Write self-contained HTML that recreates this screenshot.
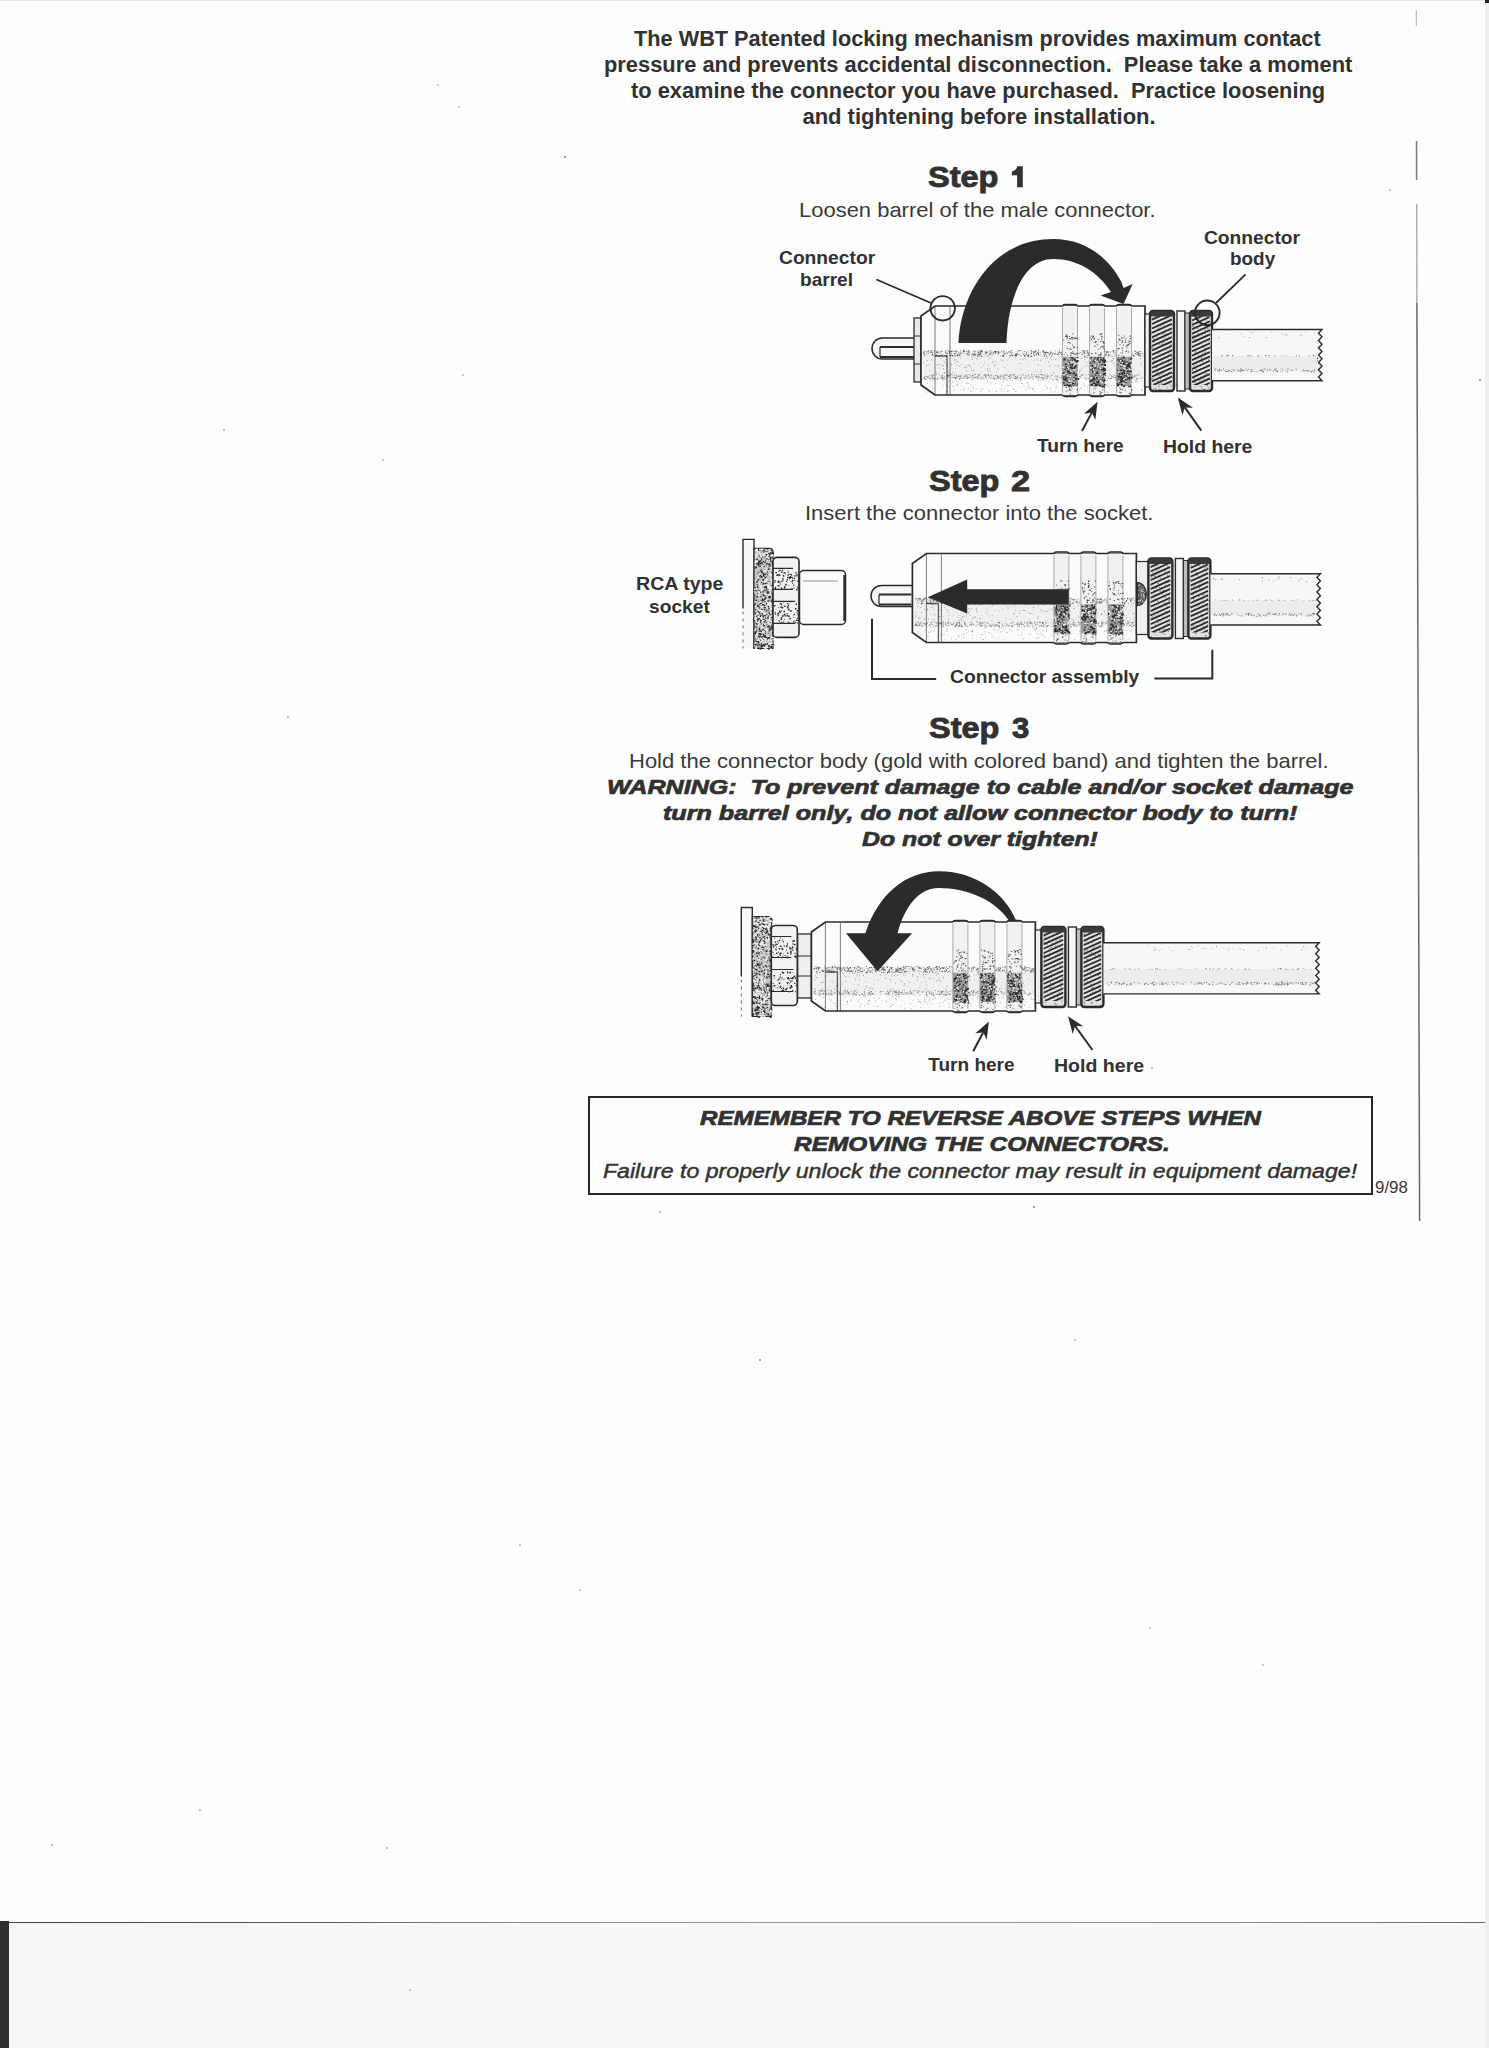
<!DOCTYPE html>
<html><head><meta charset="utf-8"><title>WBT locking mechanism</title>
<style>
html,body{margin:0;padding:0}
body{width:1489px;height:2048px;position:relative;overflow:hidden;background:#fdfdfd;font-family:"Liberation Sans",sans-serif;color:#2a2a2a}
.t{position:absolute;white-space:pre}
.ov{position:absolute;left:0;top:0}
.bot{position:absolute;left:0;top:1923px;width:1485px;height:125px;background:#f6f8f5}
.botl{position:absolute;left:0;top:1921.5px;width:1485px;height:1.8px;background:linear-gradient(90deg,#444 0%,#555 20%,#8a8a8a 35%,#999 60%,#888 85%,#666 100%)}
.blk{position:absolute;left:0;top:1921px;width:9px;height:127px;background:#2f302c}
.rstrip{position:absolute;left:1485px;top:0;width:4px;height:2048px;background:#edf0ee}
.vline{position:absolute;left:1417px;top:140px;width:1.6px;height:1081px;background:#5c5c5c;transform:rotate(-0.138deg);transform-origin:0 0}
.box{position:absolute;left:588px;top:1096px;width:781px;height:95.3px;border:2px solid #262626}
</style></head><body>
<div class="bot"></div><div class="botl"></div><div class="blk"></div><div class="rstrip"></div><div style="position:absolute;left:1485px;top:0;width:4px;height:3px;background:#222"></div><div style="position:absolute;left:0;top:0;width:1485px;height:1px;background:#e6e6e6"></div>
<div class="box"></div>
<svg class=ov width='1489' height='2048' viewBox='0 0 1489 2048'><path d='M915,338 H882.5 a10.5,10.5 0 0 0 0,21 H915' fill='#f6f6f6' stroke='#2b2b2b' stroke-width='1.5'/><path d='M880,347 H914 M880,357 H914' stroke='#2b2b2b' stroke-width='1.8'/><path d='M880,347 V357' stroke='#2b2b2b' stroke-width='1.2'/><rect x='914' y='318' width='7' height='64' fill='#e8e8e8' stroke='#2b2b2b' stroke-width='1.3'/><path d='M914,336h7M914,364h7' stroke='#2b2b2b' stroke-width='1.2'/><path d='M935,306 H1145 V395 H935 L921,385 V316 Z' fill='#fbfbfb'/><rect x='923' y='351' width='221' height='28' fill='#f0f0f0'/><path d='M994.2,350.9h1.0v1.0h-1.0zM938.9,353.2h0.8v0.8h-0.8zM935.8,353.0h0.5v0.5h-0.5zM1018.4,350.4h0.6v0.6h-0.6zM1016.4,355.0h0.6v0.6h-0.6zM972.1,353.8h1.2v1.2h-1.2zM1050.0,352.4h1.2v1.2h-1.2zM933.2,355.2h0.7v0.7h-0.7zM954.7,350.7h0.7v0.7h-0.7zM1102.5,351.1h0.9v0.9h-0.9zM1063.6,352.2h0.9v0.9h-0.9zM936.8,350.4h0.6v0.6h-0.6zM1072.7,352.6h0.7v0.7h-0.7zM1051.8,352.7h0.7v0.7h-0.7zM1097.8,354.2h0.7v0.7h-0.7zM1049.4,353.2h1.1v1.1h-1.1zM1083.5,351.7h1.2v1.2h-1.2zM949.0,352.5h1.0v1.0h-1.0zM956.4,352.9h0.5v0.5h-0.5zM1070.0,354.6h0.9v0.9h-0.9zM1115.6,351.9h1.0v1.0h-1.0zM1053.8,353.5h0.8v0.8h-0.8zM1107.8,355.7h0.8v0.8h-0.8zM1069.1,350.4h1.0v1.0h-1.0zM1065.4,356.0h1.1v1.1h-1.1zM985.6,352.3h1.0v1.0h-1.0zM928.0,352.8h0.6v0.6h-0.6zM948.8,350.4h1.0v1.0h-1.0zM951.5,351.5h0.8v0.8h-0.8zM1114.7,350.5h0.8v0.8h-0.8zM1043.9,355.3h1.1v1.1h-1.1zM1113.1,351.7h0.8v0.8h-0.8zM1001.9,355.3h1.2v1.2h-1.2zM956.2,351.1h0.7v0.7h-0.7zM974.3,352.9h0.9v0.9h-0.9zM980.8,350.0h0.8v0.8h-0.8zM1004.2,353.4h1.2v1.2h-1.2zM1074.9,353.1h0.9v0.9h-0.9zM1071.8,350.3h1.1v1.1h-1.1zM1094.6,355.2h1.1v1.1h-1.1zM1009.3,352.4h0.6v0.6h-0.6zM1062.5,350.4h0.5v0.5h-0.5zM968.9,351.0h0.7v0.7h-0.7zM934.6,350.0h0.6v0.6h-0.6zM945.3,352.2h0.5v0.5h-0.5zM1115.4,353.7h0.6v0.6h-0.6zM978.5,352.1h0.8v0.8h-0.8zM950.0,355.1h1.2v1.2h-1.2zM1025.5,352.9h0.6v0.6h-0.6zM945.5,352.1h0.7v0.7h-0.7zM1105.3,351.0h0.5v0.5h-0.5zM1132.2,353.2h0.6v0.6h-0.6zM1042.5,350.2h0.9v0.9h-0.9zM1138.3,355.2h1.0v1.0h-1.0zM980.4,352.2h0.6v0.6h-0.6zM1092.8,353.2h1.0v1.0h-1.0zM995.5,351.3h1.1v1.1h-1.1zM1139.7,355.1h1.1v1.1h-1.1zM1103.0,354.4h0.7v0.7h-0.7zM1036.9,352.1h0.5v0.5h-0.5zM929.1,351.7h0.7v0.7h-0.7zM1075.4,355.7h0.8v0.8h-0.8zM1129.1,355.9h1.2v1.2h-1.2zM1003.2,351.3h0.7v0.7h-0.7zM966.3,351.2h0.9v0.9h-0.9zM1121.1,355.0h0.8v0.8h-0.8zM1066.7,354.8h0.6v0.6h-0.6zM1068.3,355.5h1.0v1.0h-1.0zM1088.0,352.9h0.6v0.6h-0.6zM1096.6,352.0h1.1v1.1h-1.1zM1136.8,352.4h0.8v0.8h-0.8zM1131.3,354.3h0.6v0.6h-0.6zM950.9,350.9h1.1v1.1h-1.1zM1100.4,350.9h1.1v1.1h-1.1zM1138.7,353.9h0.7v0.7h-0.7zM1043.7,350.8h0.5v0.5h-0.5zM1136.6,353.9h0.9v0.9h-0.9zM1128.4,352.6h1.1v1.1h-1.1zM1104.8,351.3h0.7v0.7h-0.7zM987.5,351.4h0.9v0.9h-0.9zM980.1,352.5h0.6v0.6h-0.6zM1123.2,352.1h0.8v0.8h-0.8zM1051.3,355.4h0.8v0.8h-0.8zM1124.9,353.0h0.9v0.9h-0.9zM1038.2,350.1h0.8v0.8h-0.8zM963.3,350.0h1.1v1.1h-1.1zM960.9,352.8h1.0v1.0h-1.0zM1045.4,352.0h0.9v0.9h-0.9zM1045.2,354.7h0.6v0.6h-0.6zM1046.3,351.5h0.7v0.7h-0.7zM1092.9,353.0h0.9v0.9h-0.9zM1090.2,355.5h0.8v0.8h-0.8zM1057.8,353.0h0.9v0.9h-0.9zM1075.4,352.7h0.9v0.9h-0.9zM1028.2,355.6h1.0v1.0h-1.0zM1115.8,355.7h0.7v0.7h-0.7zM1046.1,355.7h1.1v1.1h-1.1zM953.2,350.7h0.8v0.8h-0.8zM939.0,351.4h0.6v0.6h-0.6zM1070.3,354.7h1.1v1.1h-1.1zM957.0,354.3h1.0v1.0h-1.0zM954.5,355.3h1.2v1.2h-1.2zM971.3,355.7h0.8v0.8h-0.8zM1030.2,355.9h1.1v1.1h-1.1zM958.5,352.6h0.9v0.9h-0.9zM997.6,351.2h0.7v0.7h-0.7zM1081.9,350.1h0.9v0.9h-0.9zM1019.9,350.1h0.7v0.7h-0.7zM1060.3,353.1h0.5v0.5h-0.5zM1139.7,354.7h1.2v1.2h-1.2zM946.1,351.6h0.5v0.5h-0.5zM1094.4,351.6h0.6v0.6h-0.6zM1015.9,355.5h1.1v1.1h-1.1zM979.9,350.9h1.1v1.1h-1.1zM1048.5,354.2h0.6v0.6h-0.6zM935.7,354.1h0.8v0.8h-0.8zM938.9,355.6h0.9v0.9h-0.9zM1099.4,350.5h1.1v1.1h-1.1zM937.7,355.2h0.8v0.8h-0.8zM997.6,353.3h1.1v1.1h-1.1zM981.9,350.8h0.9v0.9h-0.9zM975.5,350.7h0.6v0.6h-0.6zM934.1,351.2h0.7v0.7h-0.7zM990.1,354.6h0.7v0.7h-0.7zM1033.0,351.1h0.7v0.7h-0.7zM927.0,351.5h0.5v0.5h-0.5zM1084.3,353.3h0.6v0.6h-0.6zM1027.4,355.6h0.6v0.6h-0.6zM1103.2,352.6h0.8v0.8h-0.8zM1106.6,352.4h0.9v0.9h-0.9zM1074.3,355.9h0.7v0.7h-0.7zM1106.1,354.2h0.9v0.9h-0.9zM1012.0,352.1h0.5v0.5h-0.5zM951.6,350.4h1.0v1.0h-1.0zM979.2,351.0h0.6v0.6h-0.6zM1108.1,355.2h1.0v1.0h-1.0zM985.0,351.5h0.7v0.7h-0.7zM1024.1,350.9h0.8v0.8h-0.8zM980.9,355.8h1.2v1.2h-1.2zM1043.4,351.5h1.2v1.2h-1.2zM991.1,352.1h0.5v0.5h-0.5zM1007.0,352.8h0.9v0.9h-0.9zM967.2,353.0h0.5v0.5h-0.5zM981.1,350.5h0.8v0.8h-0.8zM932.2,350.1h0.7v0.7h-0.7zM974.2,353.5h0.9v0.9h-0.9zM1088.1,353.9h1.0v1.0h-1.0zM1116.4,352.3h0.7v0.7h-0.7zM1139.6,350.9h1.0v1.0h-1.0zM1064.5,350.3h1.1v1.1h-1.1zM1119.2,353.8h1.0v1.0h-1.0zM1101.7,350.8h0.9v0.9h-0.9zM1034.0,355.0h1.1v1.1h-1.1zM1104.8,353.5h1.1v1.1h-1.1zM1073.2,354.2h0.7v0.7h-0.7zM929.9,350.8h0.8v0.8h-0.8zM946.1,355.0h0.9v0.9h-0.9zM1061.1,353.8h1.0v1.0h-1.0zM1030.6,350.0h1.1v1.1h-1.1zM1087.6,353.0h0.9v0.9h-0.9zM1068.0,350.4h1.0v1.0h-1.0zM978.5,350.4h0.7v0.7h-0.7zM1083.5,351.2h1.0v1.0h-1.0zM1137.7,353.0h0.8v0.8h-0.8zM1028.4,354.1h1.0v1.0h-1.0zM1058.7,353.9h0.6v0.6h-0.6zM955.4,351.5h1.0v1.0h-1.0zM990.0,353.4h0.5v0.5h-0.5zM936.3,351.6h1.0v1.0h-1.0zM1075.3,354.1h0.7v0.7h-0.7zM1036.6,352.8h0.8v0.8h-0.8zM949.1,355.4h0.6v0.6h-0.6zM1138.2,355.6h0.5v0.5h-0.5zM1024.0,354.9h1.2v1.2h-1.2zM1021.9,351.6h0.6v0.6h-0.6zM1131.0,351.3h0.9v0.9h-0.9zM954.2,353.1h1.2v1.2h-1.2zM952.2,354.9h0.9v0.9h-0.9zM1118.1,354.2h0.7v0.7h-0.7zM1120.5,352.9h0.5v0.5h-0.5zM923.8,353.0h0.8v0.8h-0.8zM989.4,350.8h0.7v0.7h-0.7zM992.5,355.0h0.5v0.5h-0.5zM1088.2,355.0h0.6v0.6h-0.6zM1126.8,354.3h1.1v1.1h-1.1zM986.8,352.2h0.8v0.8h-0.8zM1142.7,353.5h0.8v0.8h-0.8zM1017.2,351.7h0.5v0.5h-0.5zM945.4,355.0h0.7v0.7h-0.7zM1128.8,351.5h0.7v0.7h-0.7zM1035.4,351.1h0.8v0.8h-0.8zM1133.4,355.3h1.1v1.1h-1.1zM1061.8,355.5h1.2v1.2h-1.2zM1043.8,354.3h0.5v0.5h-0.5zM1084.1,352.7h1.0v1.0h-1.0zM1064.8,351.7h0.5v0.5h-0.5zM1126.9,350.8h0.8v0.8h-0.8zM998.6,351.8h1.0v1.0h-1.0zM1137.8,351.6h1.0v1.0h-1.0zM989.2,353.3h0.8v0.8h-0.8zM959.8,351.0h0.6v0.6h-0.6zM1122.3,353.0h0.7v0.7h-0.7zM1122.4,356.0h0.8v0.8h-0.8zM953.7,351.2h0.6v0.6h-0.6zM998.2,350.5h0.7v0.7h-0.7zM979.8,353.4h1.1v1.1h-1.1zM1087.9,352.5h0.8v0.8h-0.8zM1038.3,352.3h0.7v0.7h-0.7zM936.7,351.7h1.2v1.2h-1.2zM950.7,353.0h0.9v0.9h-0.9zM1112.8,351.3h0.7v0.7h-0.7zM977.7,352.4h0.8v0.8h-0.8zM1132.9,355.1h1.1v1.1h-1.1zM927.8,350.2h1.0v1.0h-1.0zM1120.1,352.8h0.9v0.9h-0.9zM923.0,352.3h1.1v1.1h-1.1zM1104.6,355.1h1.2v1.2h-1.2zM977.7,350.7h0.6v0.6h-0.6zM1037.9,354.1h1.2v1.2h-1.2zM1081.8,353.9h1.0v1.0h-1.0zM1023.6,353.3h0.5v0.5h-0.5zM1095.1,351.4h1.1v1.1h-1.1zM1065.0,351.8h0.6v0.6h-0.6zM978.4,353.8h1.0v1.0h-1.0zM947.7,350.4h0.9v0.9h-0.9zM1051.2,352.3h0.7v0.7h-0.7zM1055.2,350.1h0.7v0.7h-0.7zM1024.4,355.8h1.0v1.0h-1.0zM1117.4,352.9h0.7v0.7h-0.7zM977.4,355.8h1.0v1.0h-1.0zM990.6,350.1h0.8v0.8h-0.8zM1071.4,352.5h0.7v0.7h-0.7zM1069.8,355.6h0.7v0.7h-0.7zM930.5,352.0h0.8v0.8h-0.8zM1073.2,351.2h1.1v1.1h-1.1zM1085.6,353.0h0.6v0.6h-0.6zM1136.4,351.9h1.1v1.1h-1.1zM973.8,351.3h1.0v1.0h-1.0zM987.9,355.7h0.8v0.8h-0.8zM964.2,351.3h0.8v0.8h-0.8zM1069.4,355.7h0.6v0.6h-0.6zM1009.6,351.3h1.2v1.2h-1.2zM954.2,350.3h0.5v0.5h-0.5zM1009.5,355.4h1.1v1.1h-1.1zM1084.2,356.0h1.2v1.2h-1.2zM995.4,351.1h1.2v1.2h-1.2zM1087.2,350.2h1.0v1.0h-1.0zM1006.3,352.2h0.7v0.7h-0.7zM960.2,350.0h0.7v0.7h-0.7zM1000.3,355.7h0.6v0.6h-0.6zM1135.1,351.2h0.7v0.7h-0.7zM1103.7,354.9h0.8v0.8h-0.8zM933.8,352.8h0.8v0.8h-0.8zM1125.3,351.2h0.8v0.8h-0.8zM1120.3,350.2h0.8v0.8h-0.8zM1101.6,354.6h0.5v0.5h-0.5zM930.7,350.4h1.1v1.1h-1.1zM979.5,354.5h1.1v1.1h-1.1zM997.6,351.6h1.2v1.2h-1.2zM1058.7,351.6h1.0v1.0h-1.0zM992.6,351.7h0.5v0.5h-0.5zM1089.2,355.5h0.9v0.9h-0.9zM1130.5,350.1h0.7v0.7h-0.7zM1027.5,355.7h1.2v1.2h-1.2zM1008.0,351.5h0.8v0.8h-0.8zM1031.6,355.6h0.6v0.6h-0.6zM1099.6,354.4h1.1v1.1h-1.1zM1093.0,353.6h0.7v0.7h-0.7zM993.3,352.2h1.0v1.0h-1.0zM940.4,351.2h1.0v1.0h-1.0zM977.4,350.4h0.5v0.5h-0.5zM1044.6,352.0h1.2v1.2h-1.2zM1117.4,355.9h0.7v0.7h-0.7zM941.5,350.6h0.8v0.8h-0.8zM1079.1,352.7h0.7v0.7h-0.7zM1014.7,353.7h1.0v1.0h-1.0zM1087.6,355.1h1.0v1.0h-1.0zM949.7,355.0h0.7v0.7h-0.7zM1047.7,352.2h1.0v1.0h-1.0zM966.8,351.5h0.7v0.7h-0.7zM956.7,355.3h0.9v0.9h-0.9zM994.8,352.4h1.2v1.2h-1.2zM1034.6,351.4h1.1v1.1h-1.1zM1066.7,355.9h0.6v0.6h-0.6zM1027.4,354.9h1.1v1.1h-1.1zM1124.2,350.2h0.7v0.7h-0.7zM949.2,351.1h1.2v1.2h-1.2zM1051.3,355.6h0.8v0.8h-0.8zM1113.5,352.7h0.7v0.7h-0.7zM1094.1,355.7h0.6v0.6h-0.6zM1054.2,353.7h0.7v0.7h-0.7zM1004.1,350.8h0.6v0.6h-0.6zM979.1,353.6h1.0v1.0h-1.0zM967.8,350.1h0.7v0.7h-0.7zM1072.2,351.1h0.7v0.7h-0.7zM967.7,354.8h0.9v0.9h-0.9zM936.9,350.6h0.8v0.8h-0.8zM1044.0,353.8h0.6v0.6h-0.6zM959.0,354.2h0.8v0.8h-0.8zM985.3,351.8h1.2v1.2h-1.2zM991.7,353.4h0.8v0.8h-0.8zM1014.6,355.2h1.2v1.2h-1.2zM1003.0,351.2h1.0v1.0h-1.0zM967.8,350.0h1.1v1.1h-1.1zM1016.2,354.9h0.8v0.8h-0.8zM1117.2,352.8h0.6v0.6h-0.6zM926.3,353.3h0.9v0.9h-0.9zM1123.2,350.5h0.9v0.9h-0.9zM1004.6,353.0h0.6v0.6h-0.6zM985.3,353.1h1.1v1.1h-1.1zM946.9,352.9h1.1v1.1h-1.1zM1135.7,351.2h0.6v0.6h-0.6zM1130.5,355.9h0.8v0.8h-0.8zM934.7,355.6h0.8v0.8h-0.8zM1121.9,353.7h1.1v1.1h-1.1zM958.3,354.7h0.7v0.7h-0.7zM1012.0,355.1h1.1v1.1h-1.1zM963.3,351.3h0.8v0.8h-0.8zM1036.9,352.3h0.6v0.6h-0.6zM977.4,354.3h1.1v1.1h-1.1zM932.0,353.4h1.0v1.0h-1.0zM931.4,355.0h0.6v0.6h-0.6zM1054.9,353.3h0.9v0.9h-0.9zM990.4,352.5h0.9v0.9h-0.9zM1016.7,354.0h0.8v0.8h-0.8zM1019.4,350.1h0.9v0.9h-0.9zM1030.7,351.4h1.0v1.0h-1.0zM1094.6,352.7h0.6v0.6h-0.6zM1027.1,350.6h0.6v0.6h-0.6zM1017.7,350.6h0.8v0.8h-0.8zM1035.2,350.2h0.9v0.9h-0.9zM941.1,354.4h1.0v1.0h-1.0zM1035.5,350.3h0.9v0.9h-0.9zM1006.1,355.7h0.6v0.6h-0.6zM1111.6,356.0h1.0v1.0h-1.0zM1102.3,351.2h1.2v1.2h-1.2zM1031.2,355.7h1.1v1.1h-1.1zM959.3,354.7h1.2v1.2h-1.2zM937.4,352.1h1.0v1.0h-1.0zM957.9,355.4h0.7v0.7h-0.7zM1102.4,350.9h0.9v0.9h-0.9zM1125.4,351.2h0.7v0.7h-0.7zM1034.3,351.9h0.5v0.5h-0.5zM963.1,351.0h1.2v1.2h-1.2zM1072.5,355.4h0.6v0.6h-0.6zM1095.7,350.7h0.9v0.9h-0.9zM1063.0,352.2h1.1v1.1h-1.1zM1045.1,353.5h1.1v1.1h-1.1zM946.0,356.0h0.9v0.9h-0.9zM1009.7,354.8h0.7v0.7h-0.7zM1140.9,353.5h0.8v0.8h-0.8zM1091.2,352.7h0.6v0.6h-0.6zM1086.6,350.3h1.1v1.1h-1.1zM978.8,353.8h1.2v1.2h-1.2zM1051.9,354.0h0.7v0.7h-0.7zM923.4,350.2h0.6v0.6h-0.6zM1058.5,352.6h0.9v0.9h-0.9zM1120.0,350.8h0.7v0.7h-0.7zM1066.7,350.1h0.5v0.5h-0.5zM1001.1,350.6h0.8v0.8h-0.8zM972.3,353.5h0.9v0.9h-0.9zM967.9,353.7h0.8v0.8h-0.8zM952.6,355.6h0.7v0.7h-0.7zM955.8,350.6h0.9v0.9h-0.9zM1114.7,354.7h0.8v0.8h-0.8zM981.1,350.1h1.0v1.0h-1.0zM1046.7,352.1h1.0v1.0h-1.0zM1020.6,355.6h1.0v1.0h-1.0zM977.7,355.4h0.5v0.5h-0.5zM1039.9,352.4h0.7v0.7h-0.7zM935.8,354.7h0.5v0.5h-0.5zM1044.2,355.6h0.6v0.6h-0.6zM966.9,353.6h0.9v0.9h-0.9zM1064.1,354.9h0.6v0.6h-0.6zM991.1,351.8h0.5v0.5h-0.5zM1118.7,354.7h1.0v1.0h-1.0zM924.4,355.1h1.0v1.0h-1.0zM1025.4,354.5h0.8v0.8h-0.8zM972.7,350.6h0.7v0.7h-0.7zM931.5,352.0h1.0v1.0h-1.0zM1075.9,355.1h1.0v1.0h-1.0zM981.5,353.3h0.8v0.8h-0.8zM1096.5,353.1h0.7v0.7h-0.7zM1064.2,355.8h0.7v0.7h-0.7zM1116.6,350.1h0.7v0.7h-0.7zM974.9,354.5h1.2v1.2h-1.2zM1087.2,352.0h1.1v1.1h-1.1zM995.3,351.4h1.1v1.1h-1.1zM1061.8,354.2h1.0v1.0h-1.0zM1138.4,352.8h1.1v1.1h-1.1zM1076.5,355.1h0.8v0.8h-0.8zM1082.4,353.4h0.7v0.7h-0.7zM969.6,353.7h0.6v0.6h-0.6zM1123.4,350.9h0.5v0.5h-0.5zM946.5,355.6h0.7v0.7h-0.7zM954.2,350.2h0.5v0.5h-0.5zM1075.4,353.8h1.0v1.0h-1.0zM1085.1,350.4h0.9v0.9h-0.9zM1002.9,354.9h1.1v1.1h-1.1zM1119.1,350.4h1.1v1.1h-1.1zM1124.2,355.7h0.6v0.6h-0.6zM968.3,350.7h0.5v0.5h-0.5zM1109.5,354.9h0.9v0.9h-0.9zM1104.5,353.8h0.7v0.7h-0.7zM945.0,350.6h1.0v1.0h-1.0zM968.1,351.9h0.8v0.8h-0.8zM927.6,351.5h0.7v0.7h-0.7zM1080.5,352.2h0.7v0.7h-0.7zM1135.1,353.0h1.1v1.1h-1.1zM1059.0,350.2h0.8v0.8h-0.8zM1019.0,354.6h0.7v0.7h-0.7zM1078.0,353.2h0.7v0.7h-0.7zM1112.7,350.5h1.1v1.1h-1.1zM960.5,350.0h0.6v0.6h-0.6zM1090.7,355.9h0.5v0.5h-0.5zM1031.0,352.9h1.1v1.1h-1.1zM963.6,353.0h0.7v0.7h-0.7zM1106.0,351.6h1.2v1.2h-1.2zM985.4,351.3h1.0v1.0h-1.0zM1032.6,350.7h0.9v0.9h-0.9zM940.8,354.7h1.0v1.0h-1.0zM1096.1,353.8h0.7v0.7h-0.7zM1011.3,352.4h1.1v1.1h-1.1zM942.0,355.3h0.5v0.5h-0.5zM968.3,351.6h1.1v1.1h-1.1zM1033.3,352.3h1.1v1.1h-1.1zM974.4,352.8h0.9v0.9h-0.9zM1089.0,354.5h1.0v1.0h-1.0zM999.7,352.0h0.6v0.6h-0.6zM1108.5,354.0h1.0v1.0h-1.0zM960.3,352.6h1.0v1.0h-1.0zM1050.4,350.8h0.8v0.8h-0.8zM1117.7,351.4h0.6v0.6h-0.6zM989.3,354.2h1.1v1.1h-1.1zM957.0,350.9h0.7v0.7h-0.7zM994.8,353.1h0.6v0.6h-0.6zM995.2,351.1h1.2v1.2h-1.2zM1083.3,350.6h1.2v1.2h-1.2zM945.4,352.3h1.2v1.2h-1.2zM1097.9,354.4h0.8v0.8h-0.8zM966.2,353.8h0.6v0.6h-0.6zM968.4,352.3h0.5v0.5h-0.5zM1010.8,354.7h1.0v1.0h-1.0zM1033.1,353.8h0.8v0.8h-0.8zM954.2,353.6h0.8v0.8h-0.8zM1086.0,355.4h0.8v0.8h-0.8zM1049.3,354.5h0.8v0.8h-0.8zM973.3,354.3h1.1v1.1h-1.1zM1093.3,354.2h1.1v1.1h-1.1zM1072.5,353.8h0.8v0.8h-0.8zM991.9,353.8h0.6v0.6h-0.6zM1015.3,354.7h1.0v1.0h-1.0zM1061.5,351.5h0.8v0.8h-0.8zM1023.1,353.7h0.8v0.8h-0.8zM1071.6,355.6h0.6v0.6h-0.6zM1067.0,354.7h0.8v0.8h-0.8zM1030.8,355.8h0.5v0.5h-0.5zM1042.5,351.0h1.0v1.0h-1.0zM1129.9,353.1h0.6v0.6h-0.6zM1049.4,353.2h1.0v1.0h-1.0zM1035.7,353.8h1.1v1.1h-1.1zM1037.8,352.5h1.2v1.2h-1.2zM969.2,354.1h0.8v0.8h-0.8zM1090.8,350.7h1.2v1.2h-1.2zM1001.2,350.3h0.7v0.7h-0.7zM1010.9,350.1h0.8v0.8h-0.8zM1015.5,354.2h0.7v0.7h-0.7zM981.3,351.3h1.0v1.0h-1.0zM1129.8,353.2h0.7v0.7h-0.7zM1099.3,352.4h0.6v0.6h-0.6zM951.4,354.7h1.1v1.1h-1.1zM1062.5,352.8h0.9v0.9h-0.9zM972.7,355.8h0.7v0.7h-0.7zM1063.5,354.9h1.1v1.1h-1.1zM1026.0,351.8h0.9v0.9h-0.9zM950.5,355.0h0.7v0.7h-0.7zM1110.1,351.6h0.8v0.8h-0.8zM978.8,352.6h0.6v0.6h-0.6zM923.6,354.3h0.7v0.7h-0.7zM976.9,351.8h0.8v0.8h-0.8zM1017.3,353.8h1.0v1.0h-1.0zM1002.7,355.6h1.1v1.1h-1.1zM935.6,355.0h1.1v1.1h-1.1zM1095.5,350.8h1.1v1.1h-1.1zM1062.3,350.1h0.5v0.5h-0.5zM1132.4,353.9h0.7v0.7h-0.7zM945.3,350.9h0.7v0.7h-0.7zM1093.8,352.1h0.6v0.6h-0.6zM1121.9,354.8h0.6v0.6h-0.6zM1119.0,353.7h1.0v1.0h-1.0zM1070.1,355.4h1.1v1.1h-1.1zM1107.5,351.2h1.0v1.0h-1.0zM1039.8,354.5h0.8v0.8h-0.8zM1117.2,353.3h0.7v0.7h-0.7zM974.5,350.8h0.8v0.8h-0.8zM935.9,352.8h0.6v0.6h-0.6zM1031.1,353.0h0.9v0.9h-0.9zM1112.8,350.0h1.1v1.1h-1.1zM1026.0,353.4h1.0v1.0h-1.0zM1107.9,352.2h0.8v0.8h-0.8zM1134.3,350.5h0.9v0.9h-0.9zM1062.9,350.2h0.9v0.9h-0.9zM1073.2,355.6h0.7v0.7h-0.7zM1139.0,353.1h0.8v0.8h-0.8zM1120.5,350.2h1.0v1.0h-1.0zM1060.6,352.0h1.1v1.1h-1.1zM1003.6,352.8h0.9v0.9h-0.9zM1092.5,351.3h0.8v0.8h-0.8zM1015.9,353.3h1.1v1.1h-1.1zM987.4,355.0h0.8v0.8h-0.8zM1033.8,351.6h0.9v0.9h-0.9zM1137.5,353.9h1.1v1.1h-1.1zM995.8,351.9h0.7v0.7h-0.7zM1052.0,353.8h1.0v1.0h-1.0zM931.8,354.3h1.1v1.1h-1.1zM1043.0,350.3h0.7v0.7h-0.7zM924.4,351.1h1.1v1.1h-1.1zM1056.9,353.9h1.1v1.1h-1.1zM1123.2,353.7h0.9v0.9h-0.9zM1060.9,354.2h0.9v0.9h-0.9zM1072.8,351.3h1.0v1.0h-1.0zM1023.7,354.6h0.6v0.6h-0.6zM962.9,350.2h1.0v1.0h-1.0zM1124.1,353.9h0.8v0.8h-0.8zM1104.0,354.7h0.9v0.9h-0.9zM979.8,351.8h0.8v0.8h-0.8zM993.1,352.6h0.9v0.9h-0.9zM1128.4,350.3h0.9v0.9h-0.9z' fill='#2b2b2b' opacity='0.75'/><path d='M931.7,374.6h1.0v1.0h-1.0zM1049.6,378.6h0.8v0.8h-0.8zM926.1,375.9h0.9v0.9h-0.9zM1129.3,378.9h0.8v0.8h-0.8zM1013.7,374.5h0.9v0.9h-0.9zM969.7,374.8h0.5v0.5h-0.5zM924.1,377.4h0.6v0.6h-0.6zM1135.6,374.4h1.0v1.0h-1.0zM951.4,374.1h0.9v0.9h-0.9zM976.3,377.7h0.6v0.6h-0.6zM934.0,377.9h0.9v0.9h-0.9zM1111.2,377.6h0.6v0.6h-0.6zM1061.3,377.5h0.8v0.8h-0.8zM1128.1,375.3h1.1v1.1h-1.1zM1080.8,374.1h0.5v0.5h-0.5zM1066.2,378.1h0.5v0.5h-0.5zM991.4,377.6h0.6v0.6h-0.6zM1112.4,376.4h0.5v0.5h-0.5zM1003.9,376.9h0.8v0.8h-0.8zM1071.9,374.7h1.0v1.0h-1.0zM1002.9,377.2h0.9v0.9h-0.9zM1015.0,375.9h1.0v1.0h-1.0zM1130.9,377.9h0.8v0.8h-0.8zM987.3,374.3h1.1v1.1h-1.1zM1077.7,378.1h0.7v0.7h-0.7zM1056.3,378.9h1.0v1.0h-1.0zM1055.3,375.5h0.8v0.8h-0.8zM1118.4,375.9h0.9v0.9h-0.9zM1055.4,378.5h1.0v1.0h-1.0zM985.3,374.0h0.7v0.7h-0.7zM1016.0,376.9h1.0v1.0h-1.0zM1118.2,374.2h1.0v1.0h-1.0zM1101.6,378.3h0.8v0.8h-0.8zM983.2,378.3h1.0v1.0h-1.0zM1073.6,378.6h0.7v0.7h-0.7zM941.7,376.8h1.0v1.0h-1.0zM967.1,377.8h1.1v1.1h-1.1zM974.5,377.0h0.9v0.9h-0.9zM1025.4,375.0h0.7v0.7h-0.7zM1088.2,378.0h0.8v0.8h-0.8zM942.3,378.0h1.0v1.0h-1.0zM974.2,376.9h1.0v1.0h-1.0zM1117.7,376.6h0.8v0.8h-0.8zM1052.7,374.9h0.6v0.6h-0.6zM962.8,377.5h0.7v0.7h-0.7zM1047.2,376.0h0.8v0.8h-0.8zM955.8,374.2h1.1v1.1h-1.1zM1005.3,374.5h0.9v0.9h-0.9zM1096.2,374.8h0.9v0.9h-0.9zM998.9,376.6h0.5v0.5h-0.5zM930.4,379.0h1.0v1.0h-1.0zM1030.0,376.8h0.7v0.7h-0.7zM1094.4,376.1h1.1v1.1h-1.1zM1091.8,378.1h1.1v1.1h-1.1zM978.9,374.2h0.6v0.6h-0.6zM962.8,374.4h0.5v0.5h-0.5zM1045.6,378.4h0.8v0.8h-0.8zM1131.4,378.5h0.5v0.5h-0.5zM1054.6,376.0h0.6v0.6h-0.6zM1134.0,375.3h0.8v0.8h-0.8zM1063.9,378.8h0.9v0.9h-0.9zM1009.5,376.2h0.6v0.6h-0.6zM1135.5,379.0h0.6v0.6h-0.6zM931.5,375.3h0.7v0.7h-0.7zM1121.6,378.5h1.0v1.0h-1.0zM933.3,377.9h0.9v0.9h-0.9zM1065.3,378.9h0.5v0.5h-0.5zM954.9,377.8h1.1v1.1h-1.1zM1071.9,375.5h0.9v0.9h-0.9zM1089.7,374.5h0.7v0.7h-0.7zM979.5,374.6h0.8v0.8h-0.8zM960.1,375.2h0.6v0.6h-0.6zM1072.1,374.1h0.9v0.9h-0.9zM965.9,374.2h1.1v1.1h-1.1zM971.5,378.7h1.0v1.0h-1.0zM1118.5,374.7h0.8v0.8h-0.8zM944.3,378.6h1.0v1.0h-1.0zM1061.2,376.3h0.7v0.7h-0.7zM1104.1,376.4h0.9v0.9h-0.9zM954.4,375.1h0.5v0.5h-0.5zM1080.0,376.8h0.6v0.6h-0.6zM1114.6,375.3h0.7v0.7h-0.7zM957.3,375.4h1.0v1.0h-1.0zM996.6,374.8h0.8v0.8h-0.8zM993.0,378.5h0.6v0.6h-0.6zM1138.3,374.3h1.0v1.0h-1.0zM1070.0,375.1h0.8v0.8h-0.8zM986.0,375.3h0.6v0.6h-0.6zM1003.1,379.0h1.1v1.1h-1.1zM1126.5,374.5h0.7v0.7h-0.7zM1120.2,374.3h0.9v0.9h-0.9zM987.6,378.9h0.5v0.5h-0.5zM1100.5,375.7h0.6v0.6h-0.6zM923.4,378.2h0.8v0.8h-0.8zM963.9,376.2h1.0v1.0h-1.0zM971.0,376.9h0.6v0.6h-0.6zM962.6,377.9h0.9v0.9h-0.9zM966.3,374.4h0.6v0.6h-0.6zM1056.9,376.5h0.7v0.7h-0.7zM968.3,377.1h0.9v0.9h-0.9zM1101.5,376.9h0.6v0.6h-0.6zM937.5,377.7h0.7v0.7h-0.7zM1081.8,374.3h1.0v1.0h-1.0zM996.7,378.2h1.0v1.0h-1.0zM1031.5,374.1h1.0v1.0h-1.0zM1027.9,378.4h0.7v0.7h-0.7zM963.9,378.2h0.7v0.7h-0.7zM959.0,375.9h0.9v0.9h-0.9zM924.0,376.6h0.8v0.8h-0.8zM1036.4,374.6h0.9v0.9h-0.9zM1102.6,378.3h0.7v0.7h-0.7zM1079.5,375.9h1.0v1.0h-1.0zM936.5,378.4h1.1v1.1h-1.1zM1031.9,376.6h0.8v0.8h-0.8zM1041.2,374.1h1.1v1.1h-1.1zM972.2,374.9h0.6v0.6h-0.6zM978.1,378.1h0.5v0.5h-0.5zM944.2,377.5h0.6v0.6h-0.6zM926.9,377.0h0.8v0.8h-0.8zM1038.0,377.5h0.6v0.6h-0.6zM1114.3,377.6h0.5v0.5h-0.5zM950.1,376.5h0.8v0.8h-0.8zM984.5,374.6h0.7v0.7h-0.7zM953.1,377.0h1.0v1.0h-1.0zM955.4,376.9h0.9v0.9h-0.9zM959.2,378.1h1.1v1.1h-1.1zM1008.5,376.1h1.0v1.0h-1.0zM1038.6,376.0h1.1v1.1h-1.1zM1093.9,375.7h0.6v0.6h-0.6zM996.7,376.2h1.1v1.1h-1.1zM1100.0,378.6h1.0v1.0h-1.0zM1109.5,374.3h0.8v0.8h-0.8zM1133.7,378.7h0.6v0.6h-0.6zM1015.9,377.2h0.7v0.7h-0.7zM1039.8,374.3h0.8v0.8h-0.8zM1034.1,374.1h0.6v0.6h-0.6zM1136.3,377.9h1.1v1.1h-1.1zM1062.3,378.0h1.0v1.0h-1.0zM1117.6,374.2h0.9v0.9h-0.9zM981.5,377.4h0.7v0.7h-0.7zM1042.3,378.6h0.9v0.9h-0.9zM978.1,376.6h0.8v0.8h-0.8zM1132.2,375.4h0.7v0.7h-0.7zM1065.5,374.6h0.9v0.9h-0.9zM1133.3,376.6h0.7v0.7h-0.7zM1025.6,376.7h0.6v0.6h-0.6zM950.3,374.7h0.7v0.7h-0.7zM1012.4,375.4h0.6v0.6h-0.6zM942.3,376.7h1.0v1.0h-1.0zM1057.2,376.9h0.9v0.9h-0.9zM967.3,377.6h0.8v0.8h-0.8zM1043.6,377.1h0.8v0.8h-0.8zM991.3,375.2h0.6v0.6h-0.6zM1035.7,375.9h0.9v0.9h-0.9zM925.6,375.8h1.0v1.0h-1.0zM975.5,376.8h0.8v0.8h-0.8zM985.7,378.9h0.7v0.7h-0.7zM1092.9,374.8h0.5v0.5h-0.5zM1114.7,376.2h0.5v0.5h-0.5zM1008.3,376.2h0.9v0.9h-0.9zM947.0,375.1h1.1v1.1h-1.1zM1085.5,374.8h0.7v0.7h-0.7zM1000.5,377.4h0.9v0.9h-0.9zM1110.0,378.1h0.8v0.8h-0.8zM1085.5,377.7h1.0v1.0h-1.0zM1027.6,377.9h0.9v0.9h-0.9zM1124.2,374.6h1.0v1.0h-1.0zM924.0,377.8h0.9v0.9h-0.9zM1032.5,378.8h0.8v0.8h-0.8zM1014.9,377.9h1.0v1.0h-1.0zM1056.6,375.9h0.8v0.8h-0.8zM1023.7,377.6h0.7v0.7h-0.7zM1009.0,376.8h0.7v0.7h-0.7zM993.8,377.9h1.0v1.0h-1.0zM1032.9,376.2h0.6v0.6h-0.6zM989.9,374.7h0.8v0.8h-0.8zM1050.9,374.4h1.1v1.1h-1.1zM994.3,378.2h1.0v1.0h-1.0zM1133.9,375.0h0.8v0.8h-0.8zM1123.3,374.1h0.5v0.5h-0.5zM1047.3,376.5h1.1v1.1h-1.1zM1093.2,376.7h1.1v1.1h-1.1zM1036.8,376.6h0.9v0.9h-0.9zM1008.7,375.8h0.9v0.9h-0.9zM1000.2,378.7h0.9v0.9h-0.9zM1038.6,374.5h0.7v0.7h-0.7zM1011.2,376.8h0.8v0.8h-0.8zM1116.6,378.8h0.8v0.8h-0.8zM1019.8,377.1h1.1v1.1h-1.1zM998.5,376.7h1.0v1.0h-1.0zM960.6,375.6h1.1v1.1h-1.1zM1104.7,376.6h0.6v0.6h-0.6zM1119.8,377.4h1.0v1.0h-1.0zM1140.9,378.4h0.8v0.8h-0.8zM957.4,375.4h0.8v0.8h-0.8zM1034.1,374.9h0.6v0.6h-0.6zM1061.6,377.0h0.7v0.7h-0.7zM1141.6,377.2h0.5v0.5h-0.5zM1013.5,377.9h0.7v0.7h-0.7zM1075.0,374.0h0.7v0.7h-0.7zM1108.3,376.9h0.9v0.9h-0.9zM966.3,376.5h0.8v0.8h-0.8zM981.5,377.2h0.8v0.8h-0.8zM1142.4,376.9h0.7v0.7h-0.7zM949.7,374.8h1.0v1.0h-1.0zM946.5,374.5h0.6v0.6h-0.6zM1037.9,378.1h0.9v0.9h-0.9zM1100.5,374.3h0.5v0.5h-0.5zM1092.5,375.6h0.9v0.9h-0.9zM1000.8,374.8h0.7v0.7h-0.7zM944.9,378.5h0.8v0.8h-0.8zM999.8,376.2h0.7v0.7h-0.7zM935.0,378.5h0.8v0.8h-0.8zM1134.1,376.2h0.9v0.9h-0.9zM977.9,374.2h1.1v1.1h-1.1zM1111.0,375.6h1.0v1.0h-1.0zM1102.5,375.5h0.9v0.9h-0.9zM1134.2,376.5h1.1v1.1h-1.1zM976.4,375.9h0.9v0.9h-0.9zM971.7,375.5h1.0v1.0h-1.0zM1029.6,378.0h0.6v0.6h-0.6zM961.2,375.8h0.6v0.6h-0.6zM1136.7,375.5h0.8v0.8h-0.8zM948.3,376.7h0.7v0.7h-0.7zM1011.7,374.3h0.6v0.6h-0.6zM1104.7,375.8h0.6v0.6h-0.6zM965.1,375.4h0.6v0.6h-0.6zM930.7,377.3h0.7v0.7h-0.7zM957.3,377.5h0.6v0.6h-0.6zM982.3,378.2h0.6v0.6h-0.6zM1020.5,378.2h1.0v1.0h-1.0zM958.0,375.8h0.9v0.9h-0.9zM1005.9,378.8h0.6v0.6h-0.6zM1132.2,376.5h0.6v0.6h-0.6zM1022.6,374.7h0.9v0.9h-0.9zM980.4,378.5h0.9v0.9h-0.9zM1004.0,375.2h0.9v0.9h-0.9zM969.8,378.4h0.6v0.6h-0.6zM1035.9,376.7h0.7v0.7h-0.7zM1092.8,375.9h0.9v0.9h-0.9zM1047.9,375.6h0.7v0.7h-0.7zM941.9,374.9h1.0v1.0h-1.0zM993.6,377.3h0.6v0.6h-0.6zM1046.6,375.8h0.8v0.8h-0.8zM988.3,374.3h0.7v0.7h-0.7zM972.8,374.6h0.9v0.9h-0.9zM985.1,376.0h1.0v1.0h-1.0zM1093.5,378.4h1.0v1.0h-1.0zM952.1,375.4h0.5v0.5h-0.5zM1072.5,377.3h0.7v0.7h-0.7zM1013.8,377.3h0.9v0.9h-0.9zM977.7,378.2h0.7v0.7h-0.7zM1061.3,374.9h0.6v0.6h-0.6zM1123.8,377.7h0.9v0.9h-0.9zM931.9,374.2h0.6v0.6h-0.6zM966.6,375.5h0.7v0.7h-0.7zM931.6,375.6h0.9v0.9h-0.9zM962.5,378.2h0.8v0.8h-0.8zM1080.7,375.3h0.8v0.8h-0.8zM1073.6,375.7h0.5v0.5h-0.5zM1106.5,377.9h0.7v0.7h-0.7zM932.5,378.3h0.9v0.9h-0.9zM933.4,375.2h0.6v0.6h-0.6zM1097.1,375.1h1.0v1.0h-1.0zM1087.9,374.4h0.9v0.9h-0.9zM1009.6,377.7h1.0v1.0h-1.0zM984.9,374.4h1.1v1.1h-1.1zM1016.3,378.7h0.9v0.9h-0.9zM1085.5,378.1h0.9v0.9h-0.9zM1022.6,374.3h0.9v0.9h-0.9zM1017.2,376.6h1.1v1.1h-1.1zM951.1,377.8h0.5v0.5h-0.5zM1077.6,378.0h0.7v0.7h-0.7zM1043.2,378.8h0.9v0.9h-0.9zM1042.7,375.2h0.5v0.5h-0.5zM1001.7,376.1h0.6v0.6h-0.6zM991.3,374.7h0.9v0.9h-0.9zM1070.5,375.2h0.6v0.6h-0.6zM1036.4,376.2h1.1v1.1h-1.1zM1000.3,375.5h1.0v1.0h-1.0zM954.2,376.8h0.7v0.7h-0.7zM1102.4,376.7h1.0v1.0h-1.0zM960.2,377.3h0.9v0.9h-0.9zM1024.5,377.8h1.0v1.0h-1.0zM948.2,375.4h0.7v0.7h-0.7zM968.4,374.3h0.7v0.7h-0.7zM966.4,377.5h0.8v0.8h-0.8zM947.9,375.6h0.8v0.8h-0.8zM1002.9,374.8h0.5v0.5h-0.5zM925.4,379.0h1.0v1.0h-1.0zM941.5,377.6h1.1v1.1h-1.1zM1047.0,374.5h0.8v0.8h-0.8zM1018.5,374.9h0.8v0.8h-0.8zM924.8,378.6h0.9v0.9h-0.9zM1061.1,378.7h0.9v0.9h-0.9zM978.3,375.2h0.6v0.6h-0.6zM929.1,377.9h1.0v1.0h-1.0zM988.2,374.9h0.9v0.9h-0.9zM1109.1,378.6h0.6v0.6h-0.6zM1095.6,378.2h0.9v0.9h-0.9zM994.9,374.9h1.0v1.0h-1.0zM993.4,375.8h0.8v0.8h-0.8zM1004.2,378.2h0.6v0.6h-0.6zM932.1,376.8h0.9v0.9h-0.9zM1103.3,377.5h1.0v1.0h-1.0zM1130.9,376.5h0.8v0.8h-0.8zM957.6,375.5h0.8v0.8h-0.8zM940.7,377.4h0.6v0.6h-0.6zM1020.5,378.8h0.6v0.6h-0.6zM931.8,376.2h0.6v0.6h-0.6zM1082.0,374.0h1.0v1.0h-1.0zM1111.2,377.9h0.8v0.8h-0.8zM985.3,377.3h0.8v0.8h-0.8zM1015.7,375.7h0.8v0.8h-0.8zM1069.5,378.1h1.0v1.0h-1.0zM959.2,375.5h0.8v0.8h-0.8zM1046.9,375.7h0.6v0.6h-0.6zM941.7,375.6h0.8v0.8h-0.8zM1136.7,378.5h1.0v1.0h-1.0zM1137.4,378.8h0.9v0.9h-0.9zM1101.5,374.3h0.9v0.9h-0.9zM1057.0,375.5h0.8v0.8h-0.8zM1132.6,376.4h0.9v0.9h-0.9zM988.8,375.7h1.0v1.0h-1.0zM929.1,374.9h0.9v0.9h-0.9zM1021.4,374.4h0.9v0.9h-0.9zM1004.8,376.9h0.7v0.7h-0.7zM1039.6,376.8h0.7v0.7h-0.7zM948.1,374.9h1.0v1.0h-1.0zM1043.6,374.6h1.0v1.0h-1.0zM978.8,374.5h0.8v0.8h-0.8zM978.3,376.4h0.8v0.8h-0.8zM972.8,376.9h0.6v0.6h-0.6zM1035.9,376.9h0.5v0.5h-0.5zM1012.8,374.4h0.8v0.8h-0.8zM1113.0,376.8h0.9v0.9h-0.9zM1089.5,374.6h1.1v1.1h-1.1zM1081.8,374.5h1.0v1.0h-1.0zM1009.2,374.9h1.1v1.1h-1.1zM1046.9,377.9h0.6v0.6h-0.6zM1093.8,374.3h0.6v0.6h-0.6zM1004.9,374.1h0.9v0.9h-0.9zM969.9,375.5h0.9v0.9h-0.9zM1016.7,378.4h0.9v0.9h-0.9zM1114.9,376.8h1.1v1.1h-1.1zM1114.6,374.8h0.9v0.9h-0.9zM998.1,377.8h0.9v0.9h-0.9zM1104.6,374.6h0.7v0.7h-0.7zM1085.2,378.7h0.9v0.9h-0.9zM932.6,377.0h0.6v0.6h-0.6zM1043.7,378.0h0.6v0.6h-0.6zM1126.6,377.4h0.7v0.7h-0.7zM965.5,376.2h1.0v1.0h-1.0zM1050.9,374.6h0.5v0.5h-0.5zM947.3,378.0h0.6v0.6h-0.6zM1044.9,375.5h0.9v0.9h-0.9zM1006.8,374.7h1.0v1.0h-1.0zM1041.5,377.4h1.0v1.0h-1.0zM1131.7,374.1h0.7v0.7h-0.7zM956.2,376.5h1.0v1.0h-1.0zM1099.1,374.2h0.6v0.6h-0.6zM1103.0,377.4h0.7v0.7h-0.7zM1027.7,374.8h1.0v1.0h-1.0zM1009.6,378.4h0.9v0.9h-0.9zM939.7,375.6h0.6v0.6h-0.6zM1119.7,376.9h0.5v0.5h-0.5zM960.3,375.8h0.8v0.8h-0.8zM1049.9,375.9h0.7v0.7h-0.7zM924.3,376.9h0.7v0.7h-0.7zM927.5,376.3h1.1v1.1h-1.1zM933.0,374.7h0.9v0.9h-0.9zM983.0,375.4h0.8v0.8h-0.8zM980.7,376.8h0.8v0.8h-0.8zM1133.5,379.0h0.5v0.5h-0.5zM1046.3,377.9h1.0v1.0h-1.0zM1093.3,377.2h0.9v0.9h-0.9zM1002.8,375.4h1.0v1.0h-1.0zM1115.0,378.7h0.9v0.9h-0.9zM989.9,377.8h0.9v0.9h-0.9zM1035.0,377.2h0.7v0.7h-0.7zM1044.2,376.0h0.5v0.5h-0.5zM997.2,375.6h1.1v1.1h-1.1zM1028.9,375.8h0.6v0.6h-0.6zM974.7,375.7h0.6v0.6h-0.6zM924.6,378.4h0.8v0.8h-0.8z' fill='#2b2b2b' opacity='0.6'/><path d='M1021.0,376.5h0.7v0.7h-0.7zM960.2,358.4h0.7v0.7h-0.7zM990.9,382.2h0.8v0.8h-0.8zM1129.2,368.3h1.0v1.0h-1.0zM1051.3,358.9h0.6v0.6h-0.6zM1050.7,391.5h0.7v0.7h-0.7zM1093.4,371.4h0.9v0.9h-0.9zM937.9,373.4h0.9v0.9h-0.9zM983.7,365.3h0.5v0.5h-0.5zM959.2,365.6h0.9v0.9h-0.9zM971.0,370.4h0.6v0.6h-0.6zM1055.6,387.1h0.8v0.8h-0.8zM966.3,382.4h1.0v1.0h-1.0zM1055.2,358.9h0.9v0.9h-0.9zM1115.6,368.3h0.6v0.6h-0.6zM964.4,375.3h0.9v0.9h-0.9zM1063.8,389.2h0.6v0.6h-0.6zM994.9,383.0h0.8v0.8h-0.8zM1012.2,380.4h0.7v0.7h-0.7zM935.6,370.9h0.5v0.5h-0.5zM1060.8,368.0h0.7v0.7h-0.7zM1054.5,365.3h0.7v0.7h-0.7zM926.0,389.3h0.8v0.8h-0.8zM1140.3,358.0h0.8v0.8h-0.8zM1082.3,367.8h0.5v0.5h-0.5zM957.4,361.1h0.9v0.9h-0.9zM942.8,385.3h0.7v0.7h-0.7zM1041.5,377.2h0.8v0.8h-0.8zM1067.6,377.7h0.7v0.7h-0.7zM1086.0,365.3h0.9v0.9h-0.9zM1090.9,383.9h0.7v0.7h-0.7zM1093.0,391.2h0.7v0.7h-0.7zM984.2,374.8h1.0v1.0h-1.0zM952.0,356.3h0.7v0.7h-0.7zM1067.2,383.9h0.7v0.7h-0.7zM1140.7,364.2h0.9v0.9h-0.9zM942.8,357.0h0.6v0.6h-0.6zM936.2,374.1h0.8v0.8h-0.8zM963.0,389.8h0.7v0.7h-0.7zM955.8,362.4h0.9v0.9h-0.9zM1125.7,361.8h0.5v0.5h-0.5zM1094.2,364.7h1.0v1.0h-1.0zM1032.8,378.9h0.7v0.7h-0.7zM1099.1,372.6h0.7v0.7h-0.7zM1121.8,359.9h0.9v0.9h-0.9zM937.4,379.2h0.7v0.7h-0.7zM1113.1,358.2h0.8v0.8h-0.8zM1013.2,389.1h1.0v1.0h-1.0zM1061.0,364.1h0.6v0.6h-0.6zM980.7,371.6h0.6v0.6h-0.6zM967.7,383.3h0.8v0.8h-0.8zM988.7,391.8h0.6v0.6h-0.6zM1048.3,361.6h0.9v0.9h-0.9zM1114.2,365.6h0.9v0.9h-0.9zM1104.0,366.2h0.7v0.7h-0.7zM1029.8,388.1h0.6v0.6h-0.6zM1073.2,377.5h0.7v0.7h-0.7zM1050.4,387.8h0.6v0.6h-0.6zM1117.4,369.0h0.9v0.9h-0.9zM1112.9,362.6h0.9v0.9h-0.9zM1141.9,366.7h0.5v0.5h-0.5zM947.5,391.1h0.5v0.5h-0.5zM1123.6,361.4h0.9v0.9h-0.9zM944.5,362.1h0.8v0.8h-0.8zM942.9,368.2h1.0v1.0h-1.0zM1080.6,387.8h1.0v1.0h-1.0zM930.2,364.4h0.9v0.9h-0.9zM1074.7,357.4h0.8v0.8h-0.8zM974.0,371.5h0.6v0.6h-0.6zM927.4,391.7h0.7v0.7h-0.7zM1116.3,360.3h0.7v0.7h-0.7zM952.9,371.4h0.6v0.6h-0.6zM1073.8,361.3h0.9v0.9h-0.9zM1033.2,360.0h0.7v0.7h-0.7zM1032.2,389.1h0.7v0.7h-0.7zM970.3,390.8h0.9v0.9h-0.9zM1083.9,365.8h0.6v0.6h-0.6zM981.2,358.5h0.5v0.5h-0.5zM1034.9,370.7h0.8v0.8h-0.8zM1002.8,356.4h0.8v0.8h-0.8zM1066.7,375.6h0.8v0.8h-0.8zM1074.9,391.4h0.9v0.9h-0.9zM1080.9,370.4h0.7v0.7h-0.7zM1015.2,391.0h0.7v0.7h-0.7zM1007.8,370.8h0.6v0.6h-0.6zM1142.6,356.2h0.8v0.8h-0.8zM1126.8,365.2h0.8v0.8h-0.8zM1005.9,364.7h0.6v0.6h-0.6zM948.6,386.4h0.9v0.9h-0.9zM1122.9,357.8h0.8v0.8h-0.8zM994.4,379.3h0.8v0.8h-0.8zM992.4,391.0h0.5v0.5h-0.5zM1087.2,386.7h0.8v0.8h-0.8zM1053.3,391.8h0.6v0.6h-0.6zM1061.5,382.8h0.7v0.7h-0.7zM1079.7,370.2h0.8v0.8h-0.8zM1057.8,380.4h0.7v0.7h-0.7zM1061.4,375.6h0.6v0.6h-0.6zM1057.8,365.5h1.0v1.0h-1.0zM1027.1,382.0h0.8v0.8h-0.8zM1027.9,364.0h0.6v0.6h-0.6zM1127.0,375.0h0.8v0.8h-0.8zM1039.0,385.3h0.6v0.6h-0.6zM960.9,385.6h0.7v0.7h-0.7zM1063.9,385.8h0.9v0.9h-0.9zM1113.9,357.6h0.7v0.7h-0.7zM1106.1,385.4h0.6v0.6h-0.6zM956.8,365.1h0.6v0.6h-0.6zM1001.5,384.9h0.8v0.8h-0.8zM1022.6,359.2h0.7v0.7h-0.7zM1142.3,381.0h0.7v0.7h-0.7zM1028.2,384.7h0.9v0.9h-0.9zM956.0,380.5h0.7v0.7h-0.7zM1037.6,364.6h0.7v0.7h-0.7zM997.8,369.7h0.5v0.5h-0.5zM967.2,376.5h0.5v0.5h-0.5zM962.3,381.9h0.6v0.6h-0.6zM994.3,364.7h0.9v0.9h-0.9zM943.1,378.9h0.9v0.9h-0.9zM967.4,371.2h0.9v0.9h-0.9zM1058.9,369.4h0.5v0.5h-0.5zM1020.4,369.2h0.9v0.9h-0.9zM988.0,370.7h0.8v0.8h-0.8zM1101.4,368.7h0.7v0.7h-0.7zM1050.3,389.3h0.6v0.6h-0.6zM1136.7,381.6h0.7v0.7h-0.7zM1069.4,367.9h0.5v0.5h-0.5zM1089.3,369.7h0.8v0.8h-0.8zM1032.3,388.4h0.9v0.9h-0.9zM928.6,377.3h0.7v0.7h-0.7zM1024.7,386.2h0.7v0.7h-0.7zM1027.2,388.1h0.7v0.7h-0.7zM1031.1,374.4h0.9v0.9h-0.9zM1070.5,382.7h0.7v0.7h-0.7zM931.9,380.5h0.8v0.8h-0.8zM1092.2,383.7h0.6v0.6h-0.6zM971.6,358.8h0.9v0.9h-0.9zM945.4,359.2h0.9v0.9h-0.9zM1047.2,358.0h0.8v0.8h-0.8zM1079.4,373.4h0.5v0.5h-0.5zM1075.0,371.0h0.8v0.8h-0.8zM1142.6,385.4h0.9v0.9h-0.9zM955.0,368.0h0.8v0.8h-0.8zM924.3,391.6h0.6v0.6h-0.6zM980.7,367.3h0.6v0.6h-0.6zM1112.0,376.0h0.8v0.8h-0.8zM1015.4,357.8h0.7v0.7h-0.7zM1113.7,384.9h0.9v0.9h-0.9zM979.6,363.3h0.5v0.5h-0.5zM1041.1,369.5h0.7v0.7h-0.7zM1030.6,377.0h0.7v0.7h-0.7zM1099.3,363.2h1.0v1.0h-1.0zM1045.3,357.8h0.7v0.7h-0.7zM1040.3,370.7h0.8v0.8h-0.8zM994.2,365.8h0.9v0.9h-0.9zM987.1,381.6h0.9v0.9h-0.9zM1053.3,372.4h1.0v1.0h-1.0zM1020.9,387.6h0.5v0.5h-0.5zM1018.4,379.0h0.5v0.5h-0.5zM1112.8,358.6h0.8v0.8h-0.8zM962.6,389.2h0.8v0.8h-0.8zM1099.2,373.9h0.8v0.8h-0.8zM1071.5,366.6h0.6v0.6h-0.6zM1107.4,361.2h1.0v1.0h-1.0zM968.5,359.6h0.5v0.5h-0.5zM1095.5,390.2h0.7v0.7h-0.7zM1068.0,365.3h1.0v1.0h-1.0zM1073.9,361.6h0.5v0.5h-0.5zM1076.1,357.5h0.9v0.9h-0.9zM987.6,364.4h0.8v0.8h-0.8zM993.1,376.2h0.6v0.6h-0.6zM1123.6,367.7h0.9v0.9h-0.9zM956.4,384.8h1.0v1.0h-1.0zM1009.1,357.2h0.7v0.7h-0.7zM1064.0,364.0h0.8v0.8h-0.8zM943.6,372.7h0.9v0.9h-0.9zM1017.6,380.4h0.6v0.6h-0.6zM1105.3,360.4h1.0v1.0h-1.0zM1142.1,389.8h0.8v0.8h-0.8zM987.0,368.5h0.9v0.9h-0.9zM1032.2,389.5h0.5v0.5h-0.5zM1029.6,387.1h0.8v0.8h-0.8zM1042.0,359.2h0.6v0.6h-0.6zM982.7,388.2h0.9v0.9h-0.9zM973.0,389.3h0.5v0.5h-0.5zM1054.7,390.8h0.7v0.7h-0.7zM1130.8,379.6h0.5v0.5h-0.5zM996.3,372.2h0.6v0.6h-0.6zM1086.3,362.4h0.9v0.9h-0.9zM988.6,358.5h0.8v0.8h-0.8zM944.0,375.9h0.9v0.9h-0.9zM1054.0,372.6h0.5v0.5h-0.5zM1035.9,359.5h0.8v0.8h-0.8zM952.0,376.8h0.7v0.7h-0.7zM1005.4,379.9h0.6v0.6h-0.6zM960.3,389.9h0.7v0.7h-0.7zM1108.3,387.4h0.7v0.7h-0.7zM955.8,359.4h0.9v0.9h-0.9zM948.8,373.9h0.8v0.8h-0.8zM948.9,372.8h0.6v0.6h-0.6zM1040.8,374.2h0.7v0.7h-0.7zM966.5,370.5h0.6v0.6h-0.6zM951.0,364.6h0.9v0.9h-0.9zM1033.4,388.1h0.5v0.5h-0.5zM1130.5,373.6h0.9v0.9h-0.9zM1048.5,380.8h0.6v0.6h-0.6zM1088.0,361.5h0.6v0.6h-0.6zM929.8,370.2h0.8v0.8h-0.8zM987.2,388.1h0.5v0.5h-0.5zM1050.3,364.4h0.8v0.8h-0.8zM1095.5,381.6h0.5v0.5h-0.5zM977.1,377.6h1.0v1.0h-1.0zM932.1,378.3h0.8v0.8h-0.8zM1102.2,368.3h0.9v0.9h-0.9zM1024.6,389.2h0.5v0.5h-0.5zM1129.9,370.8h0.7v0.7h-0.7zM942.4,364.8h0.9v0.9h-0.9zM1072.3,361.4h0.7v0.7h-0.7zM953.9,363.1h0.6v0.6h-0.6zM995.8,391.1h1.0v1.0h-1.0zM1097.1,373.3h0.7v0.7h-0.7zM1094.4,388.7h0.9v0.9h-0.9zM1063.0,363.2h0.8v0.8h-0.8zM1109.1,384.3h0.5v0.5h-0.5zM1080.8,368.6h0.6v0.6h-0.6zM1135.5,380.2h0.9v0.9h-0.9zM952.7,385.8h1.0v1.0h-1.0zM1122.1,382.8h0.9v0.9h-0.9zM1099.5,377.3h0.7v0.7h-0.7zM1104.5,384.2h0.9v0.9h-0.9zM988.8,390.6h0.8v0.8h-0.8zM1131.1,360.2h1.0v1.0h-1.0zM1096.2,365.1h0.9v0.9h-0.9zM974.1,363.1h0.7v0.7h-0.7zM975.1,373.7h1.0v1.0h-1.0zM1073.8,381.6h0.7v0.7h-0.7zM1095.4,384.6h0.8v0.8h-0.8zM1130.2,385.7h0.7v0.7h-0.7zM942.2,379.5h0.9v0.9h-0.9zM997.7,377.4h0.9v0.9h-0.9zM1097.4,356.2h0.7v0.7h-0.7zM926.6,360.0h0.9v0.9h-0.9zM1015.1,377.8h0.7v0.7h-0.7zM996.8,363.7h0.7v0.7h-0.7zM1108.8,378.3h0.6v0.6h-0.6zM942.4,365.8h0.9v0.9h-0.9zM1020.2,379.8h0.9v0.9h-0.9zM949.6,380.6h0.5v0.5h-0.5zM1104.0,362.6h0.6v0.6h-0.6zM1133.7,369.0h0.6v0.6h-0.6zM1118.8,378.0h0.9v0.9h-0.9zM1009.8,374.0h1.0v1.0h-1.0zM1034.5,391.6h0.6v0.6h-0.6zM1105.7,361.8h0.8v0.8h-0.8zM923.1,362.3h1.0v1.0h-1.0zM1023.0,385.1h0.6v0.6h-0.6zM1000.5,359.6h0.8v0.8h-0.8zM1112.7,374.5h0.7v0.7h-0.7zM1127.3,388.2h0.8v0.8h-0.8zM939.7,378.5h0.7v0.7h-0.7zM1133.7,369.0h0.8v0.8h-0.8zM1062.0,369.5h0.8v0.8h-0.8zM1071.8,388.7h0.7v0.7h-0.7zM1003.0,391.1h0.5v0.5h-0.5zM1106.7,380.6h0.8v0.8h-0.8zM1021.5,383.0h0.9v0.9h-0.9zM1083.3,383.0h0.5v0.5h-0.5zM994.5,360.9h1.0v1.0h-1.0zM1119.1,361.2h0.8v0.8h-0.8zM1049.9,357.7h0.7v0.7h-0.7zM1087.4,379.1h0.6v0.6h-0.6zM1090.7,366.5h0.8v0.8h-0.8zM1015.6,391.2h0.8v0.8h-0.8zM1100.1,380.4h0.7v0.7h-0.7zM1134.9,381.5h0.8v0.8h-0.8zM984.0,361.8h0.8v0.8h-0.8zM1104.7,384.6h0.7v0.7h-0.7zM953.8,374.6h0.9v0.9h-0.9zM958.7,382.6h0.6v0.6h-0.6zM991.6,357.9h0.6v0.6h-0.6zM1007.3,390.8h1.0v1.0h-1.0zM964.2,367.1h1.0v1.0h-1.0zM966.4,367.6h0.7v0.7h-0.7zM946.9,365.4h0.7v0.7h-0.7zM1007.8,390.7h0.6v0.6h-0.6zM967.9,388.7h0.7v0.7h-0.7zM1107.2,378.9h0.9v0.9h-0.9zM992.2,361.5h0.9v0.9h-0.9zM1026.4,376.1h0.8v0.8h-0.8zM1088.6,365.9h0.7v0.7h-0.7zM1124.8,375.1h0.6v0.6h-0.6zM1061.6,365.4h0.9v0.9h-0.9zM932.1,385.8h0.8v0.8h-0.8zM1000.8,389.8h0.6v0.6h-0.6zM976.5,358.5h0.8v0.8h-0.8zM1088.8,380.4h0.7v0.7h-0.7zM1100.7,360.0h0.7v0.7h-0.7zM1064.8,390.8h0.8v0.8h-0.8zM1075.2,383.9h0.7v0.7h-0.7zM1129.9,382.7h0.7v0.7h-0.7zM1009.4,385.0h0.7v0.7h-0.7zM963.9,387.4h0.8v0.8h-0.8zM1037.7,380.1h1.0v1.0h-1.0zM952.4,368.2h0.5v0.5h-0.5zM1013.9,374.1h0.9v0.9h-0.9zM1069.9,376.8h0.7v0.7h-0.7zM1049.2,365.9h0.9v0.9h-0.9zM1096.5,386.2h0.6v0.6h-0.6zM1070.7,383.1h0.8v0.8h-0.8zM1120.6,388.4h0.9v0.9h-0.9zM1103.6,379.4h0.9v0.9h-0.9zM951.9,381.3h0.9v0.9h-0.9zM1057.7,365.9h0.5v0.5h-0.5zM1055.7,385.7h0.6v0.6h-0.6zM969.9,364.1h0.5v0.5h-0.5zM1071.7,391.1h0.9v0.9h-0.9zM1002.1,381.2h0.5v0.5h-0.5zM1107.5,367.7h0.5v0.5h-0.5zM1061.4,361.0h0.6v0.6h-0.6zM936.0,372.0h0.8v0.8h-0.8zM1100.6,357.4h0.9v0.9h-0.9zM947.3,364.1h0.8v0.8h-0.8zM997.8,367.9h0.8v0.8h-0.8zM970.9,384.6h0.6v0.6h-0.6zM1107.7,385.1h0.8v0.8h-0.8zM929.7,384.0h0.5v0.5h-0.5zM1034.0,371.3h0.5v0.5h-0.5zM1061.6,382.1h0.8v0.8h-0.8zM1011.0,374.4h0.8v0.8h-0.8zM972.8,387.2h1.0v1.0h-1.0zM1099.9,390.6h0.7v0.7h-0.7zM1140.0,358.6h0.7v0.7h-0.7zM952.4,372.3h0.8v0.8h-0.8zM1078.9,372.4h0.7v0.7h-0.7zM964.8,370.5h0.6v0.6h-0.6zM965.7,382.5h0.8v0.8h-0.8zM1019.5,363.1h0.9v0.9h-0.9zM966.3,365.6h0.8v0.8h-0.8zM1077.3,391.0h0.9v0.9h-0.9zM1131.6,389.1h0.9v0.9h-0.9zM1081.3,358.3h0.6v0.6h-0.6zM925.9,387.1h0.9v0.9h-0.9zM1061.6,365.5h0.7v0.7h-0.7zM959.0,378.8h1.0v1.0h-1.0zM990.3,357.6h0.6v0.6h-0.6zM1001.2,388.4h0.9v0.9h-0.9zM1023.1,359.7h0.6v0.6h-0.6zM956.9,384.0h0.7v0.7h-0.7zM1140.9,388.8h0.9v0.9h-0.9zM1027.8,385.6h0.6v0.6h-0.6zM947.0,376.3h0.8v0.8h-0.8zM969.0,365.1h0.5v0.5h-0.5zM1123.0,381.6h1.0v1.0h-1.0zM1138.7,371.7h0.9v0.9h-0.9zM1007.5,385.2h0.9v0.9h-0.9zM952.4,356.5h0.6v0.6h-0.6zM1051.8,369.6h0.5v0.5h-0.5zM1105.7,384.3h0.7v0.7h-0.7zM932.5,388.0h0.8v0.8h-0.8zM938.6,367.6h0.8v0.8h-0.8zM1117.8,373.4h0.8v0.8h-0.8zM968.3,364.8h1.0v1.0h-1.0zM1007.2,359.7h0.8v0.8h-0.8zM950.8,363.2h0.7v0.7h-0.7zM1051.8,378.9h0.9v0.9h-0.9zM1019.7,358.4h0.9v0.9h-0.9zM934.8,372.9h0.7v0.7h-0.7zM1071.0,381.7h0.6v0.6h-0.6zM1065.9,380.9h0.7v0.7h-0.7zM954.2,388.7h0.8v0.8h-0.8zM936.8,364.6h1.0v1.0h-1.0zM973.3,370.1h0.9v0.9h-0.9zM1104.2,378.8h0.9v0.9h-0.9zM931.4,359.4h1.0v1.0h-1.0zM1099.6,357.4h0.5v0.5h-0.5zM975.9,389.5h0.6v0.6h-0.6zM1070.8,389.5h0.8v0.8h-0.8zM1125.2,365.5h0.6v0.6h-0.6zM927.0,383.3h0.6v0.6h-0.6zM1137.1,381.6h0.6v0.6h-0.6zM1100.6,361.9h0.8v0.8h-0.8zM946.3,384.3h0.9v0.9h-0.9zM1124.6,356.1h0.9v0.9h-0.9zM1045.3,385.6h0.8v0.8h-0.8zM1059.4,377.4h0.9v0.9h-0.9zM940.1,358.0h0.8v0.8h-0.8zM987.0,370.3h0.5v0.5h-0.5zM1086.9,356.9h0.9v0.9h-0.9zM1101.5,372.5h0.6v0.6h-0.6zM1066.0,363.5h0.7v0.7h-0.7zM947.3,391.2h0.8v0.8h-0.8zM1000.6,359.4h0.9v0.9h-0.9zM1109.9,386.5h0.6v0.6h-0.6zM1003.9,366.9h0.9v0.9h-0.9zM955.5,377.8h1.0v1.0h-1.0zM1092.1,356.2h0.5v0.5h-0.5zM948.0,380.9h0.8v0.8h-0.8zM1037.4,372.4h0.7v0.7h-0.7zM1057.4,379.3h1.0v1.0h-1.0zM1084.2,384.7h1.0v1.0h-1.0zM1107.2,381.8h0.5v0.5h-0.5zM1072.8,386.6h0.7v0.7h-0.7zM1116.2,362.5h1.0v1.0h-1.0zM1020.2,381.4h0.6v0.6h-0.6zM989.1,368.5h0.7v0.7h-0.7zM943.8,371.9h1.0v1.0h-1.0zM1066.9,389.6h0.9v0.9h-0.9zM1107.1,391.8h0.9v0.9h-0.9zM983.3,365.0h0.7v0.7h-0.7zM927.6,364.3h0.9v0.9h-0.9zM1125.6,367.8h0.9v0.9h-0.9zM1093.5,388.0h0.9v0.9h-0.9zM1040.0,359.8h0.9v0.9h-0.9zM992.0,378.6h0.7v0.7h-0.7zM1041.2,390.8h0.6v0.6h-0.6zM1039.8,379.4h0.8v0.8h-0.8zM1129.3,370.7h1.0v1.0h-1.0zM1074.8,390.8h0.5v0.5h-0.5zM969.7,366.3h1.0v1.0h-1.0zM926.0,365.4h0.9v0.9h-0.9zM1140.7,362.3h0.7v0.7h-0.7zM1074.1,380.9h0.9v0.9h-0.9zM1088.7,364.9h0.6v0.6h-0.6zM929.1,380.9h0.6v0.6h-0.6zM980.1,390.7h0.8v0.8h-0.8zM1053.0,379.6h0.8v0.8h-0.8zM1075.9,366.9h0.5v0.5h-0.5zM937.7,356.5h0.7v0.7h-0.7zM954.3,360.1h0.7v0.7h-0.7zM1136.3,380.8h0.6v0.6h-0.6zM1092.3,362.4h0.6v0.6h-0.6zM989.7,370.7h0.8v0.8h-0.8zM1020.9,382.2h0.5v0.5h-0.5zM1128.1,368.3h0.9v0.9h-0.9zM929.8,385.8h0.6v0.6h-0.6zM1111.1,384.9h0.8v0.8h-0.8zM984.1,356.4h0.6v0.6h-0.6zM1122.1,361.7h0.8v0.8h-0.8zM1052.1,379.8h0.6v0.6h-0.6zM954.6,359.5h1.0v1.0h-1.0zM1007.3,379.5h0.8v0.8h-0.8zM972.1,358.3h0.5v0.5h-0.5zM1110.6,360.7h1.0v1.0h-1.0zM1003.0,382.0h0.6v0.6h-0.6zM1096.4,365.1h0.7v0.7h-0.7zM1038.1,360.0h0.6v0.6h-0.6zM1098.1,366.3h0.7v0.7h-0.7zM1091.3,364.1h0.6v0.6h-0.6zM971.2,369.8h0.7v0.7h-0.7zM1064.1,373.0h0.9v0.9h-0.9zM934.1,379.9h0.9v0.9h-0.9zM974.7,357.1h0.7v0.7h-0.7zM948.5,372.6h0.9v0.9h-0.9zM943.6,360.2h0.7v0.7h-0.7zM961.2,364.3h0.7v0.7h-0.7zM949.0,358.4h0.7v0.7h-0.7zM1026.2,389.7h0.8v0.8h-0.8zM938.7,364.0h0.9v0.9h-0.9zM1046.8,387.3h1.0v1.0h-1.0zM1111.7,360.0h1.0v1.0h-1.0zM1038.5,364.6h0.6v0.6h-0.6zM1113.2,363.6h0.5v0.5h-0.5zM981.4,389.3h0.7v0.7h-0.7zM1083.9,358.7h0.7v0.7h-0.7zM992.9,363.4h0.8v0.8h-0.8zM1002.5,360.3h1.0v1.0h-1.0zM1028.9,362.5h0.5v0.5h-0.5zM1066.7,374.5h0.5v0.5h-0.5zM1026.5,382.7h0.8v0.8h-0.8zM974.5,374.0h0.8v0.8h-0.8zM1066.2,361.2h0.9v0.9h-0.9zM1131.0,382.7h0.9v0.9h-0.9zM1003.9,388.5h0.6v0.6h-0.6zM972.9,377.5h1.0v1.0h-1.0zM941.0,363.8h0.5v0.5h-0.5z' fill='#2b2b2b' opacity='0.5'/><path d='M935,306 H1145 V395 H935 L921,385 V316 Z' fill='none' stroke='#2b2b2b' stroke-width='1.7'/><path d='M935,306 V395 M950,307 V395' stroke='#2b2b2b' stroke-width='1.0' opacity='0.6'/><path d='M935,356 H947 V395' fill='none' stroke='#2b2b2b' stroke-width='1.3' opacity='0.75'/><rect x='1062' y='306' width='16' height='89' fill='#f1f1f1'/><path d='M1062,306.5 q1,-2 3,-2 h10 q2,0 3,2 M1062,394.5 q1,2 3,2 h10 q2,0 3,-2' fill='none' stroke='#2b2b2b' stroke-width='1.5'/><path d='M1062.5,308 V393 M1077.5,308 V393' stroke='#999' stroke-width='0.8'/><path d='M1069.1,336.0h0.9v0.9h-0.9zM1073.5,346.2h1.4v1.4h-1.4zM1068.6,348.4h0.8v0.8h-0.8zM1076.3,338.1h1.1v1.1h-1.1zM1070.2,354.6h1.1v1.1h-1.1zM1076.9,347.1h0.9v0.9h-0.9zM1074.7,337.4h1.4v1.4h-1.4zM1069.4,337.9h1.4v1.4h-1.4zM1067.5,342.1h1.0v1.0h-1.0zM1072.4,333.2h1.0v1.0h-1.0zM1065.3,351.9h0.8v0.8h-0.8zM1071.5,338.7h1.1v1.1h-1.1zM1070.9,349.2h0.9v0.9h-0.9zM1066.4,335.5h1.4v1.4h-1.4zM1065.1,335.9h1.1v1.1h-1.1zM1071.1,353.2h0.8v0.8h-0.8zM1066.3,336.6h1.2v1.2h-1.2zM1069.3,342.2h1.3v1.3h-1.3zM1072.3,352.6h1.4v1.4h-1.4zM1066.8,354.5h1.0v1.0h-1.0zM1063.7,353.9h0.9v0.9h-0.9zM1063.2,339.4h1.0v1.0h-1.0zM1076.5,352.8h1.1v1.1h-1.1zM1070.4,352.3h1.3v1.3h-1.3zM1072.1,344.6h0.9v0.9h-0.9zM1066.4,347.9h1.2v1.2h-1.2zM1074.2,353.5h1.4v1.4h-1.4zM1065.7,334.5h1.3v1.3h-1.3zM1071.0,336.9h1.2v1.2h-1.2zM1066.6,338.2h1.0v1.0h-1.0zM1070.3,348.4h0.8v0.8h-0.8zM1073.4,347.1h1.1v1.1h-1.1zM1072.4,351.2h0.8v0.8h-0.8zM1069.7,348.4h1.2v1.2h-1.2zM1072.1,336.9h1.4v1.4h-1.4zM1074.0,338.1h1.1v1.1h-1.1zM1076.4,337.5h1.0v1.0h-1.0zM1076.5,353.5h0.9v0.9h-0.9z' fill='#2b2b2b' opacity='0.85'/><rect x='1062.5' y='356.73' width='15' height='29.37' fill='#9a9a9a'/><path d='M1073.5,367.3h1.7v1.7h-1.7zM1074.0,360.5h1.2v1.2h-1.2zM1065.7,364.5h1.0v1.0h-1.0zM1064.5,368.7h1.4v1.4h-1.4zM1063.7,373.8h1.9v1.9h-1.9zM1071.2,367.2h1.7v1.7h-1.7zM1069.1,361.9h1.5v1.5h-1.5zM1062.8,376.6h1.2v1.2h-1.2zM1068.0,385.0h1.8v1.8h-1.8zM1075.0,375.6h1.6v1.6h-1.6zM1073.1,385.1h1.2v1.2h-1.2zM1074.0,365.6h1.3v1.3h-1.3zM1074.8,374.4h1.8v1.8h-1.8zM1075.6,374.0h1.2v1.2h-1.2zM1062.7,372.4h1.7v1.7h-1.7zM1066.6,358.8h1.0v1.0h-1.0zM1065.1,377.2h1.0v1.0h-1.0zM1065.9,364.5h1.7v1.7h-1.7zM1077.3,357.3h1.1v1.1h-1.1zM1076.5,385.2h1.1v1.1h-1.1zM1067.5,372.1h1.3v1.3h-1.3zM1068.8,370.8h1.3v1.3h-1.3zM1063.3,359.2h1.2v1.2h-1.2zM1063.9,375.1h1.7v1.7h-1.7zM1066.4,380.0h1.7v1.7h-1.7zM1067.6,371.2h1.2v1.2h-1.2zM1076.4,373.2h1.1v1.1h-1.1zM1064.8,377.1h1.4v1.4h-1.4zM1073.3,363.5h1.8v1.8h-1.8zM1074.5,359.5h1.6v1.6h-1.6zM1065.4,377.5h1.8v1.8h-1.8zM1074.4,363.5h1.1v1.1h-1.1zM1072.5,373.3h1.1v1.1h-1.1zM1065.4,373.8h1.1v1.1h-1.1zM1072.0,363.8h1.3v1.3h-1.3zM1068.9,372.4h1.7v1.7h-1.7zM1063.0,378.0h1.2v1.2h-1.2zM1066.9,375.5h1.7v1.7h-1.7zM1071.7,383.2h1.2v1.2h-1.2zM1067.2,376.2h1.3v1.3h-1.3zM1064.9,363.4h1.8v1.8h-1.8zM1074.9,377.8h2.0v2.0h-2.0zM1074.4,365.8h1.3v1.3h-1.3zM1073.3,358.4h1.6v1.6h-1.6zM1063.8,358.2h1.5v1.5h-1.5zM1064.8,384.1h1.9v1.9h-1.9zM1069.4,362.5h1.1v1.1h-1.1zM1070.1,372.0h1.4v1.4h-1.4zM1073.2,372.3h1.8v1.8h-1.8zM1064.1,358.8h1.4v1.4h-1.4zM1069.8,364.1h1.7v1.7h-1.7zM1065.8,366.1h1.5v1.5h-1.5zM1073.2,379.4h1.4v1.4h-1.4zM1069.2,384.0h1.9v1.9h-1.9zM1071.8,359.8h1.5v1.5h-1.5zM1072.1,364.9h1.0v1.0h-1.0zM1077.2,383.4h1.1v1.1h-1.1zM1069.5,374.9h1.3v1.3h-1.3zM1063.5,378.8h1.8v1.8h-1.8zM1069.1,359.2h1.4v1.4h-1.4zM1063.9,385.0h1.1v1.1h-1.1zM1066.8,379.3h1.1v1.1h-1.1zM1064.1,358.8h1.2v1.2h-1.2zM1070.5,381.2h1.2v1.2h-1.2zM1065.1,379.2h1.4v1.4h-1.4zM1067.6,360.4h1.2v1.2h-1.2zM1077.1,360.2h1.3v1.3h-1.3zM1073.6,382.9h1.9v1.9h-1.9zM1069.6,384.8h1.6v1.6h-1.6zM1066.8,370.4h1.7v1.7h-1.7zM1073.5,360.5h1.2v1.2h-1.2zM1076.9,359.9h1.8v1.8h-1.8zM1067.6,364.0h1.3v1.3h-1.3zM1069.5,385.8h1.1v1.1h-1.1zM1075.3,366.2h1.2v1.2h-1.2zM1073.7,366.8h1.2v1.2h-1.2zM1068.8,380.9h1.9v1.9h-1.9zM1071.1,357.0h1.8v1.8h-1.8zM1071.6,383.1h2.0v2.0h-2.0zM1067.4,381.7h1.8v1.8h-1.8zM1066.5,367.5h1.4v1.4h-1.4zM1067.8,367.8h1.1v1.1h-1.1zM1065.9,383.4h1.4v1.4h-1.4zM1072.0,382.8h1.8v1.8h-1.8zM1066.2,383.7h1.8v1.8h-1.8zM1077.4,378.1h1.8v1.8h-1.8zM1074.7,364.2h1.7v1.7h-1.7zM1068.2,381.4h1.1v1.1h-1.1zM1070.6,366.6h1.8v1.8h-1.8zM1067.7,381.5h1.8v1.8h-1.8zM1075.7,360.8h1.9v1.9h-1.9zM1073.7,376.6h1.7v1.7h-1.7zM1063.2,382.3h1.5v1.5h-1.5zM1069.3,366.7h1.8v1.8h-1.8zM1074.2,382.3h1.2v1.2h-1.2zM1067.6,364.1h1.1v1.1h-1.1z' fill='#2b2b2b' opacity='1.0'/><path d='M1067.4,357.5h1.4v1.4h-1.4zM1065.9,358.8h0.9v0.9h-0.9zM1073.6,362.6h1.2v1.2h-1.2zM1068.5,380.3h1.6v1.6h-1.6zM1067.1,375.3h1.5v1.5h-1.5zM1069.6,383.2h1.4v1.4h-1.4zM1067.2,382.4h1.3v1.3h-1.3zM1064.1,374.0h1.5v1.5h-1.5zM1070.3,370.9h1.1v1.1h-1.1zM1075.7,376.3h1.0v1.0h-1.0zM1067.9,367.4h1.6v1.6h-1.6zM1072.9,360.4h1.5v1.5h-1.5zM1063.0,374.1h1.1v1.1h-1.1zM1073.3,369.3h0.9v0.9h-0.9zM1070.4,380.8h1.4v1.4h-1.4zM1067.8,363.3h1.4v1.4h-1.4zM1074.5,363.2h1.5v1.5h-1.5zM1077.4,369.5h1.1v1.1h-1.1zM1073.1,384.0h1.0v1.0h-1.0zM1067.0,366.4h1.4v1.4h-1.4zM1065.3,372.8h1.2v1.2h-1.2zM1072.5,360.9h1.6v1.6h-1.6zM1077.5,373.2h1.4v1.4h-1.4zM1065.3,383.5h1.2v1.2h-1.2zM1073.9,382.2h1.1v1.1h-1.1zM1076.4,362.8h0.8v0.8h-0.8zM1070.0,383.1h1.5v1.5h-1.5zM1076.8,371.7h1.5v1.5h-1.5zM1070.9,360.9h1.3v1.3h-1.3zM1074.6,369.2h1.3v1.3h-1.3zM1066.4,364.8h1.1v1.1h-1.1zM1070.2,370.5h0.9v0.9h-0.9zM1062.6,366.7h1.4v1.4h-1.4zM1073.7,363.7h1.0v1.0h-1.0zM1070.3,361.9h1.3v1.3h-1.3zM1076.1,362.7h1.3v1.3h-1.3zM1073.3,378.7h1.4v1.4h-1.4zM1073.2,364.7h1.5v1.5h-1.5zM1076.4,358.3h1.6v1.6h-1.6zM1069.1,359.3h0.9v0.9h-0.9zM1074.5,376.6h0.9v0.9h-0.9zM1069.4,375.5h1.6v1.6h-1.6zM1067.5,379.2h1.0v1.0h-1.0zM1065.5,361.5h1.1v1.1h-1.1z' fill='#f4f4f4' opacity='1.0'/><path d='M1071.7,388.5h0.9v0.9h-0.9zM1066.1,386.8h0.9v0.9h-0.9zM1067.4,390.1h0.9v0.9h-0.9zM1069.7,389.6h1.4v1.4h-1.4zM1069.8,393.6h1.1v1.1h-1.1zM1065.8,390.8h0.9v0.9h-0.9zM1065.4,386.7h1.2v1.2h-1.2zM1076.5,389.3h1.0v1.0h-1.0zM1069.0,388.9h1.2v1.2h-1.2zM1068.5,387.3h1.3v1.3h-1.3zM1071.0,386.2h1.3v1.3h-1.3z' fill='#2b2b2b' opacity='0.7'/><rect x='1089' y='306' width='16' height='89' fill='#f1f1f1'/><path d='M1089,306.5 q1,-2 3,-2 h10 q2,0 3,2 M1089,394.5 q1,2 3,2 h10 q2,0 3,-2' fill='none' stroke='#2b2b2b' stroke-width='1.5'/><path d='M1089.5,308 V393 M1104.5,308 V393' stroke='#999' stroke-width='0.8'/><path d='M1100.2,340.9h1.2v1.2h-1.2zM1102.9,342.0h1.1v1.1h-1.1zM1094.2,345.5h1.2v1.2h-1.2zM1100.3,354.7h0.9v0.9h-0.9zM1095.1,352.4h1.3v1.3h-1.3zM1098.3,348.4h1.0v1.0h-1.0zM1103.2,345.4h1.0v1.0h-1.0zM1092.6,335.4h1.3v1.3h-1.3zM1101.2,333.3h1.0v1.0h-1.0zM1096.7,344.2h1.0v1.0h-1.0zM1102.5,340.8h1.1v1.1h-1.1zM1103.0,347.5h1.1v1.1h-1.1zM1094.7,341.7h1.2v1.2h-1.2zM1101.0,338.7h1.0v1.0h-1.0zM1095.4,341.1h1.3v1.3h-1.3zM1097.5,339.1h1.0v1.0h-1.0zM1101.5,336.4h1.2v1.2h-1.2zM1090.3,337.2h0.8v0.8h-0.8zM1101.3,336.1h0.9v0.9h-0.9zM1090.8,338.8h1.2v1.2h-1.2zM1100.1,353.8h1.4v1.4h-1.4zM1097.7,354.0h0.9v0.9h-0.9zM1103.0,342.7h0.9v0.9h-0.9zM1100.5,352.6h1.0v1.0h-1.0zM1091.3,352.9h1.3v1.3h-1.3zM1098.4,355.3h0.8v0.8h-0.8zM1090.8,335.6h0.8v0.8h-0.8zM1099.9,347.3h0.9v0.9h-0.9zM1092.3,336.9h1.2v1.2h-1.2zM1099.4,355.1h1.0v1.0h-1.0zM1103.7,342.8h1.0v1.0h-1.0zM1093.5,338.1h1.4v1.4h-1.4zM1103.9,349.0h0.9v0.9h-0.9zM1092.5,336.2h1.0v1.0h-1.0zM1100.3,334.1h1.1v1.1h-1.1zM1099.5,333.5h1.1v1.1h-1.1zM1101.1,346.0h1.1v1.1h-1.1zM1102.3,346.6h1.0v1.0h-1.0z' fill='#2b2b2b' opacity='0.85'/><rect x='1089.5' y='356.73' width='15' height='29.37' fill='#9a9a9a'/><path d='M1095.4,384.4h1.9v1.9h-1.9zM1103.2,373.2h1.1v1.1h-1.1zM1092.1,368.0h1.7v1.7h-1.7zM1089.6,380.3h1.8v1.8h-1.8zM1097.2,356.9h1.8v1.8h-1.8zM1095.7,376.4h1.6v1.6h-1.6zM1100.4,368.7h2.0v2.0h-2.0zM1103.8,384.0h1.6v1.6h-1.6zM1094.2,367.8h1.3v1.3h-1.3zM1103.1,380.0h1.8v1.8h-1.8zM1101.8,385.8h1.7v1.7h-1.7zM1094.3,379.0h1.3v1.3h-1.3zM1098.7,361.4h1.9v1.9h-1.9zM1096.8,364.8h1.9v1.9h-1.9zM1090.7,384.1h1.8v1.8h-1.8zM1091.7,379.1h1.6v1.6h-1.6zM1103.1,374.0h1.4v1.4h-1.4zM1103.5,359.3h1.8v1.8h-1.8zM1091.0,364.9h1.1v1.1h-1.1zM1102.6,369.7h1.7v1.7h-1.7zM1093.3,378.2h1.6v1.6h-1.6zM1091.0,371.2h1.7v1.7h-1.7zM1092.7,375.9h1.3v1.3h-1.3zM1095.1,383.7h1.9v1.9h-1.9zM1104.5,369.3h1.6v1.6h-1.6zM1101.6,379.0h1.5v1.5h-1.5zM1102.5,368.5h2.0v2.0h-2.0zM1096.6,360.2h1.7v1.7h-1.7zM1091.7,376.7h1.1v1.1h-1.1zM1104.3,372.6h1.7v1.7h-1.7zM1091.5,375.4h1.4v1.4h-1.4zM1093.2,380.7h1.0v1.0h-1.0zM1096.7,359.3h1.9v1.9h-1.9zM1102.9,357.7h1.5v1.5h-1.5zM1096.5,377.8h1.7v1.7h-1.7zM1094.6,384.1h1.2v1.2h-1.2zM1091.5,380.7h1.1v1.1h-1.1zM1092.3,371.4h1.3v1.3h-1.3zM1092.0,384.0h1.5v1.5h-1.5zM1101.3,364.1h1.9v1.9h-1.9zM1092.8,383.4h1.6v1.6h-1.6zM1104.1,379.4h1.6v1.6h-1.6zM1097.5,381.8h1.4v1.4h-1.4zM1091.0,383.6h1.8v1.8h-1.8zM1099.7,378.6h1.2v1.2h-1.2zM1096.4,380.9h2.0v2.0h-2.0zM1103.3,361.4h1.7v1.7h-1.7zM1097.8,368.6h1.2v1.2h-1.2zM1091.6,370.5h1.5v1.5h-1.5zM1093.5,367.5h1.6v1.6h-1.6zM1100.9,374.0h1.2v1.2h-1.2zM1102.8,367.5h2.0v2.0h-2.0zM1104.2,360.9h1.6v1.6h-1.6zM1104.0,368.0h1.5v1.5h-1.5zM1094.2,357.6h1.2v1.2h-1.2zM1091.4,365.1h1.6v1.6h-1.6zM1097.9,384.6h1.7v1.7h-1.7zM1094.9,384.6h1.6v1.6h-1.6zM1097.6,382.1h1.7v1.7h-1.7zM1094.9,374.5h1.3v1.3h-1.3zM1104.0,363.9h2.0v2.0h-2.0zM1090.5,357.0h1.6v1.6h-1.6zM1092.6,371.6h1.1v1.1h-1.1zM1102.1,376.4h1.7v1.7h-1.7zM1103.4,385.9h1.7v1.7h-1.7zM1100.2,356.8h1.0v1.0h-1.0zM1095.9,385.2h1.3v1.3h-1.3zM1098.0,357.0h1.4v1.4h-1.4zM1103.0,374.0h1.8v1.8h-1.8zM1089.7,362.7h1.2v1.2h-1.2zM1102.0,359.7h1.9v1.9h-1.9zM1093.5,382.6h1.5v1.5h-1.5zM1094.4,385.1h1.4v1.4h-1.4zM1100.0,358.7h1.8v1.8h-1.8zM1104.2,360.0h1.7v1.7h-1.7zM1093.6,361.1h1.4v1.4h-1.4zM1099.4,384.7h2.0v2.0h-2.0zM1104.4,375.0h1.7v1.7h-1.7zM1091.9,378.1h1.6v1.6h-1.6zM1094.9,383.2h1.3v1.3h-1.3zM1091.6,361.4h1.1v1.1h-1.1zM1098.3,380.3h1.2v1.2h-1.2zM1097.0,373.6h1.6v1.6h-1.6zM1095.7,372.7h1.0v1.0h-1.0zM1090.4,369.1h1.2v1.2h-1.2zM1100.9,363.8h1.8v1.8h-1.8zM1093.1,359.4h1.5v1.5h-1.5zM1095.3,366.6h1.8v1.8h-1.8zM1092.8,376.4h1.8v1.8h-1.8zM1096.3,371.5h1.9v1.9h-1.9zM1098.6,362.0h1.1v1.1h-1.1zM1090.7,366.5h1.1v1.1h-1.1zM1099.2,369.2h1.3v1.3h-1.3zM1097.2,384.2h1.2v1.2h-1.2zM1091.8,365.7h1.3v1.3h-1.3zM1103.1,377.5h1.4v1.4h-1.4z' fill='#2b2b2b' opacity='1.0'/><path d='M1092.0,358.1h0.9v0.9h-0.9zM1102.2,375.8h0.9v0.9h-0.9zM1098.9,358.4h1.2v1.2h-1.2zM1094.5,359.7h1.4v1.4h-1.4zM1100.3,371.7h0.9v0.9h-0.9zM1099.5,369.5h1.3v1.3h-1.3zM1090.9,383.2h0.8v0.8h-0.8zM1092.8,368.4h1.0v1.0h-1.0zM1090.8,376.9h1.6v1.6h-1.6zM1094.5,364.5h1.3v1.3h-1.3zM1092.8,368.5h1.4v1.4h-1.4zM1096.0,361.3h0.9v0.9h-0.9zM1097.6,385.8h1.5v1.5h-1.5zM1091.0,371.5h1.2v1.2h-1.2zM1092.4,376.4h1.2v1.2h-1.2zM1101.6,365.3h1.5v1.5h-1.5zM1101.7,370.6h0.9v0.9h-0.9zM1096.8,360.5h1.3v1.3h-1.3zM1100.0,373.7h1.6v1.6h-1.6zM1090.2,377.7h1.4v1.4h-1.4zM1091.2,366.2h0.8v0.8h-0.8zM1098.2,378.0h1.1v1.1h-1.1zM1099.9,367.5h1.4v1.4h-1.4zM1093.7,385.5h1.2v1.2h-1.2zM1089.6,359.4h1.4v1.4h-1.4zM1102.5,375.4h0.9v0.9h-0.9zM1102.6,377.8h0.9v0.9h-0.9zM1095.2,376.5h0.8v0.8h-0.8zM1090.1,367.1h1.5v1.5h-1.5zM1104.4,366.1h1.5v1.5h-1.5zM1101.3,382.1h1.3v1.3h-1.3zM1104.0,375.6h1.6v1.6h-1.6zM1098.0,362.5h1.2v1.2h-1.2zM1096.7,366.6h1.1v1.1h-1.1zM1097.2,374.0h1.0v1.0h-1.0zM1093.7,371.5h1.2v1.2h-1.2zM1095.8,376.2h0.9v0.9h-0.9zM1097.5,364.8h1.4v1.4h-1.4zM1100.1,379.7h1.2v1.2h-1.2zM1093.2,383.9h1.2v1.2h-1.2zM1095.1,365.3h1.1v1.1h-1.1zM1100.1,380.8h1.2v1.2h-1.2zM1100.5,363.0h1.2v1.2h-1.2zM1094.9,365.7h1.1v1.1h-1.1z' fill='#f4f4f4' opacity='1.0'/><path d='M1100.6,391.9h0.9v0.9h-0.9zM1093.3,392.3h1.2v1.2h-1.2zM1099.5,391.1h1.2v1.2h-1.2zM1093.8,386.6h1.0v1.0h-1.0zM1090.5,393.7h1.1v1.1h-1.1zM1099.4,393.7h1.3v1.3h-1.3zM1093.2,388.8h0.9v0.9h-0.9zM1101.1,391.9h1.1v1.1h-1.1zM1095.2,388.2h1.1v1.1h-1.1zM1100.0,393.2h1.3v1.3h-1.3zM1102.1,389.6h1.1v1.1h-1.1z' fill='#2b2b2b' opacity='0.7'/><rect x='1116' y='306' width='16' height='89' fill='#f1f1f1'/><path d='M1116,306.5 q1,-2 3,-2 h10 q2,0 3,2 M1116,394.5 q1,2 3,2 h10 q2,0 3,-2' fill='none' stroke='#2b2b2b' stroke-width='1.5'/><path d='M1116.5,308 V393 M1131.5,308 V393' stroke='#999' stroke-width='0.8'/><path d='M1121.4,355.2h0.9v0.9h-0.9zM1119.2,339.2h1.4v1.4h-1.4zM1128.9,340.4h1.3v1.3h-1.3zM1129.5,342.6h0.9v0.9h-0.9zM1127.8,341.4h0.9v0.9h-0.9zM1129.6,342.9h1.0v1.0h-1.0zM1125.3,338.6h0.8v0.8h-0.8zM1122.5,341.5h0.8v0.8h-0.8zM1122.2,350.3h1.0v1.0h-1.0zM1126.5,347.2h0.9v0.9h-0.9zM1117.3,348.3h1.2v1.2h-1.2zM1121.1,337.3h1.3v1.3h-1.3zM1129.7,338.1h1.2v1.2h-1.2zM1125.0,340.2h0.8v0.8h-0.8zM1121.6,347.6h1.2v1.2h-1.2zM1124.1,335.5h0.9v0.9h-0.9zM1121.4,342.3h1.0v1.0h-1.0zM1129.6,335.4h1.4v1.4h-1.4zM1120.4,352.5h0.9v0.9h-0.9zM1125.2,341.4h0.8v0.8h-0.8zM1128.1,351.5h1.0v1.0h-1.0zM1127.9,343.8h1.4v1.4h-1.4zM1117.8,341.5h0.9v0.9h-0.9zM1125.7,350.7h1.3v1.3h-1.3zM1124.7,341.7h1.3v1.3h-1.3zM1118.5,338.7h1.3v1.3h-1.3zM1123.2,355.7h0.9v0.9h-0.9zM1123.5,337.6h0.8v0.8h-0.8zM1118.3,334.8h1.0v1.0h-1.0zM1123.1,344.5h1.0v1.0h-1.0zM1126.8,344.6h1.4v1.4h-1.4zM1119.4,344.5h1.1v1.1h-1.1zM1122.2,352.6h0.9v0.9h-0.9zM1129.3,341.0h1.0v1.0h-1.0zM1125.6,345.7h1.0v1.0h-1.0zM1118.2,354.8h1.0v1.0h-1.0zM1118.6,347.9h1.1v1.1h-1.1zM1121.6,340.3h1.3v1.3h-1.3z' fill='#2b2b2b' opacity='0.85'/><rect x='1116.5' y='356.73' width='15' height='29.37' fill='#9a9a9a'/><path d='M1121.6,369.0h2.0v2.0h-2.0zM1121.9,368.5h1.2v1.2h-1.2zM1126.4,376.3h1.4v1.4h-1.4zM1122.6,363.6h1.8v1.8h-1.8zM1123.4,381.2h1.4v1.4h-1.4zM1127.5,357.6h1.2v1.2h-1.2zM1130.9,376.8h1.7v1.7h-1.7zM1124.0,370.6h1.2v1.2h-1.2zM1119.1,375.7h1.7v1.7h-1.7zM1120.4,375.7h1.1v1.1h-1.1zM1125.7,361.8h1.5v1.5h-1.5zM1121.2,372.9h1.1v1.1h-1.1zM1123.8,374.8h1.1v1.1h-1.1zM1121.1,376.7h1.5v1.5h-1.5zM1125.8,379.6h1.6v1.6h-1.6zM1119.8,369.7h1.8v1.8h-1.8zM1125.0,378.8h1.4v1.4h-1.4zM1123.2,385.2h1.8v1.8h-1.8zM1126.3,359.9h1.6v1.6h-1.6zM1117.0,384.2h2.0v2.0h-2.0zM1127.4,364.6h1.8v1.8h-1.8zM1119.2,381.0h1.5v1.5h-1.5zM1116.7,382.9h1.4v1.4h-1.4zM1129.0,377.0h1.5v1.5h-1.5zM1129.4,362.7h1.9v1.9h-1.9zM1121.6,357.5h1.3v1.3h-1.3zM1117.5,358.8h1.6v1.6h-1.6zM1118.3,361.4h1.3v1.3h-1.3zM1120.7,383.8h1.9v1.9h-1.9zM1129.6,385.8h1.4v1.4h-1.4zM1128.4,365.0h1.9v1.9h-1.9zM1128.7,378.2h1.2v1.2h-1.2zM1117.9,383.9h1.6v1.6h-1.6zM1125.7,382.0h1.1v1.1h-1.1zM1127.0,370.4h1.8v1.8h-1.8zM1123.3,362.5h2.0v2.0h-2.0zM1120.7,378.6h1.8v1.8h-1.8zM1120.2,377.1h1.4v1.4h-1.4zM1119.9,363.1h2.0v2.0h-2.0zM1122.0,371.7h1.5v1.5h-1.5zM1116.9,378.9h1.7v1.7h-1.7zM1129.6,367.2h1.2v1.2h-1.2zM1121.7,378.2h1.7v1.7h-1.7zM1122.6,372.1h1.2v1.2h-1.2zM1130.3,370.6h1.5v1.5h-1.5zM1128.3,362.5h1.7v1.7h-1.7zM1121.8,380.6h1.1v1.1h-1.1zM1120.6,375.4h1.5v1.5h-1.5zM1122.2,373.7h1.2v1.2h-1.2zM1123.1,356.8h1.8v1.8h-1.8zM1120.3,381.1h1.6v1.6h-1.6zM1125.5,375.1h1.1v1.1h-1.1zM1128.2,365.3h1.9v1.9h-1.9zM1128.3,376.6h1.8v1.8h-1.8zM1123.1,376.5h2.0v2.0h-2.0zM1119.3,359.7h1.4v1.4h-1.4zM1124.1,361.1h1.2v1.2h-1.2zM1129.5,368.1h1.1v1.1h-1.1zM1119.2,373.7h1.2v1.2h-1.2zM1123.6,372.5h1.4v1.4h-1.4zM1124.1,381.3h1.0v1.0h-1.0zM1130.4,362.6h1.0v1.0h-1.0zM1128.0,373.5h1.5v1.5h-1.5zM1119.8,379.7h1.3v1.3h-1.3zM1127.4,363.4h1.6v1.6h-1.6zM1126.2,367.6h1.5v1.5h-1.5zM1117.5,375.6h1.7v1.7h-1.7zM1118.8,372.9h1.7v1.7h-1.7zM1118.0,381.4h1.9v1.9h-1.9zM1117.3,364.0h1.1v1.1h-1.1zM1120.3,359.3h1.5v1.5h-1.5zM1120.3,365.5h1.5v1.5h-1.5zM1122.1,379.9h1.7v1.7h-1.7zM1118.2,363.3h1.0v1.0h-1.0zM1121.4,359.9h1.7v1.7h-1.7zM1128.2,386.0h1.2v1.2h-1.2zM1117.1,379.0h1.4v1.4h-1.4zM1130.5,368.3h1.3v1.3h-1.3zM1117.6,384.6h1.5v1.5h-1.5zM1123.1,369.6h1.8v1.8h-1.8zM1129.0,370.7h1.2v1.2h-1.2zM1122.6,382.9h1.4v1.4h-1.4zM1126.4,373.2h1.5v1.5h-1.5zM1125.1,363.9h1.6v1.6h-1.6zM1129.5,359.1h1.4v1.4h-1.4zM1129.7,385.5h1.0v1.0h-1.0zM1125.9,375.3h1.8v1.8h-1.8zM1123.5,360.6h1.3v1.3h-1.3zM1127.2,378.1h1.2v1.2h-1.2zM1126.1,376.0h1.7v1.7h-1.7zM1116.8,369.7h1.3v1.3h-1.3zM1125.5,366.6h1.1v1.1h-1.1zM1126.6,365.2h1.8v1.8h-1.8zM1121.1,372.8h1.8v1.8h-1.8zM1118.2,378.2h1.1v1.1h-1.1zM1130.5,357.5h1.7v1.7h-1.7z' fill='#2b2b2b' opacity='1.0'/><path d='M1122.0,362.0h1.1v1.1h-1.1zM1124.0,368.9h0.9v0.9h-0.9zM1124.3,365.5h1.6v1.6h-1.6zM1122.2,369.5h1.0v1.0h-1.0zM1131.0,366.2h1.3v1.3h-1.3zM1129.0,368.3h1.4v1.4h-1.4zM1120.7,359.9h0.8v0.8h-0.8zM1123.2,382.4h1.0v1.0h-1.0zM1123.1,379.1h1.0v1.0h-1.0zM1118.8,372.0h1.1v1.1h-1.1zM1130.6,383.1h1.0v1.0h-1.0zM1124.9,369.0h0.8v0.8h-0.8zM1123.2,383.6h1.0v1.0h-1.0zM1125.3,377.6h0.9v0.9h-0.9zM1130.4,359.9h1.0v1.0h-1.0zM1127.2,357.3h1.1v1.1h-1.1zM1118.4,370.6h0.8v0.8h-0.8zM1118.8,363.3h0.9v0.9h-0.9zM1117.9,362.4h1.2v1.2h-1.2zM1118.6,380.8h1.1v1.1h-1.1zM1120.3,363.8h1.5v1.5h-1.5zM1117.2,378.5h0.9v0.9h-0.9zM1130.7,368.7h1.3v1.3h-1.3zM1129.4,359.7h0.9v0.9h-0.9zM1126.9,374.0h1.4v1.4h-1.4zM1120.7,371.3h0.9v0.9h-0.9zM1123.1,365.0h1.3v1.3h-1.3zM1121.0,364.8h1.3v1.3h-1.3zM1117.8,380.3h1.2v1.2h-1.2zM1119.9,360.1h1.2v1.2h-1.2zM1124.1,377.9h1.1v1.1h-1.1zM1122.7,382.9h1.0v1.0h-1.0zM1131.2,382.9h1.6v1.6h-1.6zM1130.6,364.3h1.5v1.5h-1.5zM1125.7,362.7h1.6v1.6h-1.6zM1126.2,380.5h1.2v1.2h-1.2zM1117.7,382.1h0.9v0.9h-0.9zM1120.4,374.8h1.0v1.0h-1.0zM1123.4,377.7h0.9v0.9h-0.9zM1126.4,359.8h1.2v1.2h-1.2zM1126.2,376.9h0.8v0.8h-0.8zM1119.4,384.9h1.1v1.1h-1.1zM1122.9,367.7h1.4v1.4h-1.4zM1127.6,375.8h1.1v1.1h-1.1z' fill='#f4f4f4' opacity='1.0'/><path d='M1125.0,390.2h0.9v0.9h-0.9zM1130.3,393.7h1.3v1.3h-1.3zM1130.9,389.8h1.3v1.3h-1.3zM1120.4,392.0h1.2v1.2h-1.2zM1130.1,392.7h1.3v1.3h-1.3zM1120.7,392.3h1.1v1.1h-1.1zM1121.4,389.0h1.3v1.3h-1.3zM1128.8,392.8h1.2v1.2h-1.2zM1119.4,387.3h1.1v1.1h-1.1zM1120.0,388.8h0.9v0.9h-0.9zM1119.2,391.8h0.9v0.9h-0.9z' fill='#2b2b2b' opacity='0.7'/><rect x='1145' y='314' width='5' height='73' fill='#eee' stroke='#2b2b2b' stroke-width='1.2'/><rect x='1150' y='311' width='24' height='80' rx='3' fill='#e2e2e2' stroke='#2b2b2b' stroke-width='2.4'/><path d='M1169.7,337.7h1.1v1.1h-1.1zM1157.7,332.9h0.8v0.8h-0.8zM1151.3,346.0h0.8v0.8h-0.8zM1151.3,379.2h0.8v0.8h-0.8zM1151.0,386.9h0.7v0.7h-0.7zM1156.6,313.9h0.7v0.7h-0.7zM1166.6,357.4h0.9v0.9h-0.9zM1156.4,334.4h1.2v1.2h-1.2zM1159.2,389.2h1.1v1.1h-1.1zM1153.7,378.2h0.6v0.6h-0.6zM1166.6,375.1h1.0v1.0h-1.0zM1163.1,375.4h0.7v0.7h-0.7zM1162.9,332.7h0.8v0.8h-0.8zM1155.2,367.2h0.9v0.9h-0.9zM1168.1,361.0h1.0v1.0h-1.0zM1171.3,375.4h0.9v0.9h-0.9zM1158.2,384.4h0.8v0.8h-0.8zM1153.2,338.0h1.0v1.0h-1.0zM1171.5,362.4h1.0v1.0h-1.0zM1171.6,372.7h0.9v0.9h-0.9zM1161.2,371.3h0.8v0.8h-0.8zM1153.4,360.3h1.1v1.1h-1.1zM1156.5,365.3h1.1v1.1h-1.1zM1153.8,322.6h0.9v0.9h-0.9zM1158.4,386.1h1.2v1.2h-1.2zM1160.8,373.9h1.0v1.0h-1.0zM1154.8,387.8h0.7v0.7h-0.7zM1152.7,347.3h0.6v0.6h-0.6zM1161.6,344.1h1.2v1.2h-1.2zM1160.1,378.3h1.1v1.1h-1.1zM1163.9,330.5h0.8v0.8h-0.8zM1161.8,342.8h1.0v1.0h-1.0zM1162.1,337.2h1.0v1.0h-1.0zM1172.9,327.8h0.8v0.8h-0.8zM1151.3,319.3h0.6v0.6h-0.6zM1160.3,377.2h1.0v1.0h-1.0zM1172.3,377.3h1.0v1.0h-1.0zM1163.8,313.0h0.8v0.8h-0.8zM1156.8,360.4h0.6v0.6h-0.6zM1162.9,341.3h0.9v0.9h-0.9zM1159.9,320.0h1.0v1.0h-1.0zM1168.6,358.7h0.7v0.7h-0.7zM1164.2,379.9h1.2v1.2h-1.2zM1167.7,315.6h1.1v1.1h-1.1zM1165.6,333.6h1.2v1.2h-1.2zM1169.2,381.8h0.7v0.7h-0.7zM1163.7,341.6h0.8v0.8h-0.8zM1167.7,360.1h0.8v0.8h-0.8zM1162.9,384.4h0.9v0.9h-0.9zM1171.1,356.2h1.2v1.2h-1.2zM1151.6,347.9h0.9v0.9h-0.9zM1167.0,387.6h1.0v1.0h-1.0zM1161.5,361.5h0.9v0.9h-0.9zM1166.5,385.9h0.6v0.6h-0.6zM1158.0,380.4h0.6v0.6h-0.6zM1168.4,314.4h1.0v1.0h-1.0zM1168.6,330.6h0.8v0.8h-0.8zM1156.0,367.0h0.9v0.9h-0.9zM1164.3,337.4h1.0v1.0h-1.0zM1172.0,372.8h1.2v1.2h-1.2zM1156.4,352.3h0.8v0.8h-0.8zM1158.6,374.7h0.7v0.7h-0.7zM1163.3,372.4h1.2v1.2h-1.2zM1151.4,333.1h0.9v0.9h-0.9zM1171.6,324.7h1.1v1.1h-1.1zM1159.7,354.7h1.2v1.2h-1.2zM1152.4,337.7h0.7v0.7h-0.7zM1153.9,335.7h1.0v1.0h-1.0zM1163.8,321.5h1.1v1.1h-1.1zM1162.2,323.2h1.1v1.1h-1.1zM1169.1,328.9h1.2v1.2h-1.2zM1168.8,329.9h0.6v0.6h-0.6zM1170.1,376.4h0.7v0.7h-0.7zM1167.9,372.3h1.0v1.0h-1.0zM1169.3,388.8h0.8v0.8h-0.8zM1169.3,383.8h0.8v0.8h-0.8zM1166.0,365.4h1.1v1.1h-1.1zM1163.5,333.5h0.8v0.8h-0.8zM1162.9,322.6h1.1v1.1h-1.1zM1170.6,330.9h1.0v1.0h-1.0zM1165.8,321.5h1.1v1.1h-1.1zM1167.9,335.9h0.7v0.7h-0.7zM1157.2,372.2h0.9v0.9h-0.9zM1168.9,324.4h0.7v0.7h-0.7zM1158.7,380.6h0.7v0.7h-0.7zM1152.6,370.7h0.7v0.7h-0.7zM1165.7,318.5h0.7v0.7h-0.7zM1165.6,380.1h0.8v0.8h-0.8zM1160.9,314.4h0.8v0.8h-0.8zM1156.3,373.5h1.0v1.0h-1.0zM1168.3,353.5h1.0v1.0h-1.0zM1153.8,342.0h0.8v0.8h-0.8zM1157.2,369.7h0.7v0.7h-0.7zM1158.2,334.0h1.1v1.1h-1.1zM1165.0,349.5h0.8v0.8h-0.8zM1171.3,385.3h0.9v0.9h-0.9zM1163.5,379.3h0.8v0.8h-0.8zM1156.7,320.0h0.9v0.9h-0.9zM1167.9,324.2h0.9v0.9h-0.9zM1172.8,349.5h0.8v0.8h-0.8zM1169.5,381.6h0.8v0.8h-0.8zM1153.7,361.7h1.0v1.0h-1.0zM1171.3,363.5h0.8v0.8h-0.8zM1162.3,334.4h0.9v0.9h-0.9zM1161.3,383.2h1.1v1.1h-1.1zM1171.4,349.3h1.2v1.2h-1.2zM1154.1,383.8h1.0v1.0h-1.0zM1170.2,344.2h1.2v1.2h-1.2zM1151.6,378.1h1.1v1.1h-1.1zM1159.2,376.6h0.7v0.7h-0.7zM1167.6,348.5h0.8v0.8h-0.8zM1155.3,374.4h1.0v1.0h-1.0zM1153.0,388.3h0.7v0.7h-0.7zM1159.3,344.3h0.9v0.9h-0.9zM1170.6,385.7h1.0v1.0h-1.0zM1159.0,320.4h0.6v0.6h-0.6zM1162.4,357.5h0.9v0.9h-0.9zM1172.6,344.3h0.8v0.8h-0.8zM1160.2,325.4h1.2v1.2h-1.2zM1164.0,354.3h0.9v0.9h-0.9zM1156.5,336.6h0.9v0.9h-0.9zM1160.8,388.4h0.9v0.9h-0.9zM1155.6,316.2h0.7v0.7h-0.7zM1158.6,373.0h1.1v1.1h-1.1zM1156.2,372.9h0.9v0.9h-0.9zM1162.8,353.6h0.6v0.6h-0.6zM1152.5,364.1h1.0v1.0h-1.0zM1159.4,383.7h1.1v1.1h-1.1zM1157.6,317.2h0.9v0.9h-0.9zM1165.4,329.5h0.6v0.6h-0.6zM1161.7,314.7h1.0v1.0h-1.0zM1164.8,333.8h0.9v0.9h-0.9zM1156.1,326.5h0.7v0.7h-0.7zM1168.9,347.4h1.0v1.0h-1.0zM1158.6,374.9h1.0v1.0h-1.0zM1165.4,342.6h0.9v0.9h-0.9zM1155.2,388.0h1.0v1.0h-1.0zM1162.7,361.8h0.7v0.7h-0.7zM1158.4,330.0h1.1v1.1h-1.1zM1151.3,346.7h1.1v1.1h-1.1zM1168.2,368.1h0.8v0.8h-0.8zM1156.1,366.9h0.8v0.8h-0.8zM1166.9,339.3h1.1v1.1h-1.1zM1163.6,375.6h1.2v1.2h-1.2zM1159.3,388.9h0.6v0.6h-0.6zM1170.3,314.3h0.9v0.9h-0.9zM1159.5,372.0h0.8v0.8h-0.8zM1155.6,373.2h0.9v0.9h-0.9zM1167.6,350.2h0.6v0.6h-0.6zM1168.0,329.0h0.9v0.9h-0.9zM1151.0,332.2h1.0v1.0h-1.0zM1167.8,361.6h0.9v0.9h-0.9zM1167.1,364.2h0.7v0.7h-0.7zM1162.8,358.6h1.0v1.0h-1.0zM1155.4,336.2h0.8v0.8h-0.8zM1153.1,339.2h1.0v1.0h-1.0zM1163.7,325.5h1.0v1.0h-1.0zM1153.6,370.6h0.7v0.7h-0.7zM1153.1,331.6h0.9v0.9h-0.9zM1156.9,381.0h1.2v1.2h-1.2zM1157.2,370.5h1.0v1.0h-1.0zM1163.3,331.9h1.2v1.2h-1.2zM1172.0,313.0h0.8v0.8h-0.8zM1158.1,327.5h0.9v0.9h-0.9zM1170.8,313.9h1.1v1.1h-1.1zM1157.8,313.1h1.1v1.1h-1.1zM1157.0,328.5h0.7v0.7h-0.7zM1159.1,321.3h0.7v0.7h-0.7zM1156.5,357.1h0.9v0.9h-0.9zM1157.7,353.0h1.1v1.1h-1.1zM1166.9,338.8h1.2v1.2h-1.2z' fill='#2b2b2b' opacity='0.6'/><clipPath id='cp849619388'><rect x='1152' y='316' width='20' height='69' rx='3'/></clipPath><path d='M1152.0,302.0L1172.0,293.0M1152.0,306.4L1172.0,297.4M1152.0,310.8L1172.0,301.8M1152.0,315.2L1172.0,306.2M1152.0,319.6L1172.0,310.6M1152.0,324.0L1172.0,315.0M1152.0,328.4L1172.0,319.4M1152.0,332.8L1172.0,323.8M1152.0,337.2L1172.0,328.2M1152.0,341.6L1172.0,332.6M1152.0,346.0L1172.0,337.0M1152.0,350.4L1172.0,341.4M1152.0,354.8L1172.0,345.8M1152.0,359.2L1172.0,350.2M1152.0,363.6L1172.0,354.6M1152.0,368.0L1172.0,359.0M1152.0,372.4L1172.0,363.4M1152.0,376.8L1172.0,367.8M1152.0,381.2L1172.0,372.2M1152.0,385.6L1172.0,376.6M1152.0,390.0L1172.0,381.0M1152.0,394.4L1172.0,385.4M1152.0,398.8L1172.0,389.8' stroke='#2b2b2b' stroke-width='1.8' clip-path='url(#cp849619388)' fill='none'/><rect x='1150.5' y='311' width='23' height='5.5' rx='1.5' fill='#3a3a3a'/><rect x='1177' y='311' width='8' height='80' fill='#f6f6f6' stroke='#2b2b2b' stroke-width='1.4'/><rect x='1185' y='313' width='5' height='76' fill='#bbb' stroke='#2b2b2b' stroke-width='1'/><rect x='1190' y='311' width='22' height='80' rx='3' fill='#e2e2e2' stroke='#2b2b2b' stroke-width='2.4'/><path d='M1196.2,326.2h0.9v0.9h-0.9zM1209.2,331.1h0.8v0.8h-0.8zM1204.8,330.4h0.7v0.7h-0.7zM1195.9,327.4h0.9v0.9h-0.9zM1193.6,365.1h0.9v0.9h-0.9zM1208.2,341.1h0.6v0.6h-0.6zM1204.3,330.0h0.9v0.9h-0.9zM1200.5,315.5h0.8v0.8h-0.8zM1192.7,339.2h0.9v0.9h-0.9zM1201.3,381.3h1.2v1.2h-1.2zM1203.6,352.3h0.7v0.7h-0.7zM1198.5,335.7h0.9v0.9h-0.9zM1197.7,318.2h0.9v0.9h-0.9zM1206.7,328.2h1.1v1.1h-1.1zM1191.4,350.3h0.9v0.9h-0.9zM1195.0,351.2h1.2v1.2h-1.2zM1204.8,347.9h1.2v1.2h-1.2zM1195.5,371.6h0.8v0.8h-0.8zM1194.0,326.9h0.9v0.9h-0.9zM1203.8,340.2h0.6v0.6h-0.6zM1193.1,354.2h0.8v0.8h-0.8zM1203.5,374.8h0.9v0.9h-0.9zM1196.4,338.7h1.1v1.1h-1.1zM1207.6,326.6h0.7v0.7h-0.7zM1195.1,338.9h0.9v0.9h-0.9zM1194.8,368.7h0.6v0.6h-0.6zM1204.4,353.2h1.1v1.1h-1.1zM1191.9,321.9h0.9v0.9h-0.9zM1200.8,385.4h1.0v1.0h-1.0zM1196.1,383.5h0.8v0.8h-0.8zM1202.3,353.2h0.8v0.8h-0.8zM1200.2,328.2h1.1v1.1h-1.1zM1195.9,314.2h1.0v1.0h-1.0zM1204.5,333.0h0.9v0.9h-0.9zM1198.2,382.0h0.9v0.9h-0.9zM1204.9,351.5h1.2v1.2h-1.2zM1201.0,357.6h1.1v1.1h-1.1zM1208.5,343.6h0.7v0.7h-0.7zM1206.4,325.6h1.1v1.1h-1.1zM1199.1,380.3h0.9v0.9h-0.9zM1209.6,333.7h0.7v0.7h-0.7zM1193.3,384.3h0.8v0.8h-0.8zM1193.0,378.4h0.9v0.9h-0.9zM1194.7,352.4h0.7v0.7h-0.7zM1192.8,330.0h0.7v0.7h-0.7zM1191.9,326.1h0.7v0.7h-0.7zM1200.6,379.8h1.0v1.0h-1.0zM1208.5,328.5h0.8v0.8h-0.8zM1206.0,361.4h0.7v0.7h-0.7zM1204.6,348.2h0.9v0.9h-0.9zM1191.8,355.3h0.7v0.7h-0.7zM1197.7,382.6h1.0v1.0h-1.0zM1199.8,321.1h1.0v1.0h-1.0zM1197.7,352.6h1.2v1.2h-1.2zM1202.6,323.6h1.0v1.0h-1.0zM1192.0,333.0h0.6v0.6h-0.6zM1202.6,344.8h0.6v0.6h-0.6zM1197.6,361.0h0.6v0.6h-0.6zM1195.8,352.5h0.9v0.9h-0.9zM1193.9,332.4h0.8v0.8h-0.8zM1203.2,346.4h0.8v0.8h-0.8zM1193.3,350.7h0.7v0.7h-0.7zM1193.4,314.9h0.9v0.9h-0.9zM1194.0,316.0h1.0v1.0h-1.0zM1208.4,364.5h1.1v1.1h-1.1zM1209.2,330.3h1.0v1.0h-1.0zM1200.0,376.4h1.1v1.1h-1.1zM1209.1,346.7h0.7v0.7h-0.7zM1194.7,375.0h1.1v1.1h-1.1zM1198.3,339.3h1.1v1.1h-1.1zM1205.1,373.3h1.1v1.1h-1.1zM1210.4,345.1h0.7v0.7h-0.7zM1205.5,346.7h0.9v0.9h-0.9zM1206.8,385.1h1.1v1.1h-1.1zM1193.6,366.3h0.6v0.6h-0.6zM1199.2,351.3h1.0v1.0h-1.0zM1211.0,357.8h0.9v0.9h-0.9zM1195.3,381.7h0.7v0.7h-0.7zM1203.2,377.9h1.0v1.0h-1.0zM1201.4,387.4h1.0v1.0h-1.0zM1192.3,380.0h0.6v0.6h-0.6zM1196.0,385.0h0.7v0.7h-0.7zM1201.0,377.8h0.9v0.9h-0.9zM1197.4,328.0h1.1v1.1h-1.1zM1201.7,323.6h1.2v1.2h-1.2zM1196.3,383.1h1.0v1.0h-1.0zM1199.9,368.6h0.8v0.8h-0.8zM1205.0,328.6h1.0v1.0h-1.0zM1202.7,346.6h1.1v1.1h-1.1zM1205.5,325.5h1.1v1.1h-1.1zM1197.1,378.5h1.2v1.2h-1.2zM1194.1,340.5h0.6v0.6h-0.6zM1207.5,362.3h0.7v0.7h-0.7zM1209.3,338.0h0.7v0.7h-0.7zM1210.6,376.4h0.7v0.7h-0.7zM1209.3,389.9h1.1v1.1h-1.1zM1201.3,358.6h0.7v0.7h-0.7zM1203.9,388.8h1.1v1.1h-1.1zM1196.3,364.5h1.0v1.0h-1.0zM1194.7,387.0h0.7v0.7h-0.7zM1193.2,335.2h0.9v0.9h-0.9zM1203.0,388.9h1.1v1.1h-1.1zM1206.7,364.8h1.0v1.0h-1.0zM1192.1,370.1h0.9v0.9h-0.9zM1204.2,356.7h0.6v0.6h-0.6zM1202.3,379.5h0.6v0.6h-0.6zM1203.6,379.5h0.7v0.7h-0.7zM1200.8,354.5h1.1v1.1h-1.1zM1200.1,378.2h0.8v0.8h-0.8zM1210.8,371.8h0.8v0.8h-0.8zM1206.6,373.0h0.9v0.9h-0.9zM1205.2,370.2h1.2v1.2h-1.2zM1208.0,359.2h1.0v1.0h-1.0zM1197.5,333.4h1.0v1.0h-1.0zM1195.7,372.7h0.7v0.7h-0.7zM1198.6,356.8h1.0v1.0h-1.0zM1197.8,333.0h1.0v1.0h-1.0zM1208.3,386.9h0.9v0.9h-0.9zM1196.9,357.0h1.1v1.1h-1.1zM1202.1,314.4h0.8v0.8h-0.8zM1201.3,322.6h1.2v1.2h-1.2zM1199.4,357.3h0.7v0.7h-0.7zM1198.4,318.7h1.0v1.0h-1.0zM1207.7,314.0h0.6v0.6h-0.6zM1194.7,335.7h1.1v1.1h-1.1zM1208.3,387.3h0.9v0.9h-0.9zM1194.2,381.6h1.0v1.0h-1.0zM1201.9,335.0h0.7v0.7h-0.7zM1200.0,346.7h0.7v0.7h-0.7zM1197.1,322.6h0.8v0.8h-0.8zM1195.8,340.8h1.1v1.1h-1.1zM1201.6,359.3h0.9v0.9h-0.9zM1205.9,319.4h1.1v1.1h-1.1zM1202.1,361.0h1.1v1.1h-1.1zM1202.3,359.5h0.7v0.7h-0.7zM1197.6,379.4h0.6v0.6h-0.6zM1193.0,326.0h1.2v1.2h-1.2zM1199.4,385.9h0.8v0.8h-0.8zM1192.1,370.4h0.8v0.8h-0.8zM1193.5,339.1h1.0v1.0h-1.0zM1209.5,347.6h1.0v1.0h-1.0zM1191.9,335.7h1.0v1.0h-1.0zM1193.0,336.5h0.6v0.6h-0.6zM1205.2,353.4h1.0v1.0h-1.0zM1198.1,355.2h1.0v1.0h-1.0zM1200.0,322.8h0.6v0.6h-0.6zM1208.4,361.0h1.0v1.0h-1.0zM1204.1,345.6h0.6v0.6h-0.6zM1209.5,334.1h1.2v1.2h-1.2zM1194.6,383.3h0.9v0.9h-0.9zM1193.7,331.4h1.0v1.0h-1.0zM1210.1,346.5h1.0v1.0h-1.0zM1207.6,312.1h0.7v0.7h-0.7zM1195.5,368.4h1.1v1.1h-1.1zM1209.6,341.4h1.1v1.1h-1.1zM1194.0,378.5h1.1v1.1h-1.1z' fill='#2b2b2b' opacity='0.6'/><clipPath id='cp815103880'><rect x='1192' y='316' width='18' height='69' rx='3'/></clipPath><path d='M1192.0,302.9L1210.0,294.8M1192.0,307.3L1210.0,299.2M1192.0,311.7L1210.0,303.6M1192.0,316.1L1210.0,308.0M1192.0,320.5L1210.0,312.4M1192.0,324.9L1210.0,316.8M1192.0,329.3L1210.0,321.2M1192.0,333.7L1210.0,325.6M1192.0,338.1L1210.0,330.0M1192.0,342.5L1210.0,334.4M1192.0,346.9L1210.0,338.8M1192.0,351.3L1210.0,343.2M1192.0,355.7L1210.0,347.6M1192.0,360.1L1210.0,352.0M1192.0,364.5L1210.0,356.4M1192.0,368.9L1210.0,360.8M1192.0,373.3L1210.0,365.2M1192.0,377.7L1210.0,369.6M1192.0,382.1L1210.0,374.0M1192.0,386.5L1210.0,378.4M1192.0,390.9L1210.0,382.8M1192.0,395.3L1210.0,387.2' stroke='#2b2b2b' stroke-width='1.8' clip-path='url(#cp815103880)' fill='none'/><rect x='1190.5' y='311' width='21' height='5.5' rx='1.5' fill='#3a3a3a'/><path d='M1212,329.5L1322,329.5L1318.5,333.2L1322.0,336.8L1318.5,340.5L1322.0,344.2L1318.5,347.8L1322.0,351.5L1318.5,355.1L1322.0,358.8L1318.5,362.5L1322.0,366.1L1318.5,369.8L1322.0,373.5L1318.5,377.1L1322.0,380.8L1212,380.8Z' fill='#f7f7f7' stroke='none'/><path d='M1212,329.5L1322,329.5L1318.5,333.2L1322.0,336.8L1318.5,340.5L1322.0,344.2L1318.5,347.8L1322.0,351.5L1318.5,355.1L1322.0,358.8L1318.5,362.5L1322.0,366.1L1318.5,369.8L1322.0,373.5L1318.5,377.1L1322.0,380.8L1212,380.8' fill='none' stroke='#2b2b2b' stroke-width='1.4'/><path d='M1291.0,357.6h0.9v0.9h-0.9zM1242.6,361.1h1.1v1.1h-1.1zM1284.1,357.0h1.1v1.1h-1.1zM1264.1,360.1h0.9v0.9h-0.9zM1304.8,359.4h0.9v0.9h-0.9zM1272.0,360.1h1.0v1.0h-1.0zM1312.9,355.2h1.2v1.2h-1.2zM1287.6,358.2h1.2v1.2h-1.2zM1229.3,357.2h1.1v1.1h-1.1zM1298.8,357.4h1.3v1.3h-1.3zM1280.8,355.4h0.7v0.7h-0.7zM1221.9,358.7h0.8v0.8h-0.8zM1240.9,357.9h0.7v0.7h-0.7zM1307.6,360.3h1.0v1.0h-1.0zM1259.8,357.0h1.0v1.0h-1.0zM1249.7,361.2h1.3v1.3h-1.3zM1288.9,360.2h0.7v0.7h-0.7zM1226.7,357.3h0.7v0.7h-0.7zM1257.5,361.2h1.2v1.2h-1.2zM1312.7,356.5h0.8v0.8h-0.8zM1216.4,356.8h0.6v0.6h-0.6zM1268.4,357.0h1.1v1.1h-1.1zM1271.8,358.8h0.8v0.8h-0.8zM1289.7,359.4h1.1v1.1h-1.1zM1262.5,358.0h0.8v0.8h-0.8zM1218.1,358.0h1.0v1.0h-1.0zM1233.2,360.4h1.2v1.2h-1.2zM1301.9,360.2h0.9v0.9h-0.9zM1232.1,356.8h1.1v1.1h-1.1zM1315.4,355.8h0.6v0.6h-0.6zM1250.4,357.3h1.0v1.0h-1.0zM1225.6,360.3h0.8v0.8h-0.8zM1307.6,357.2h0.8v0.8h-0.8zM1232.1,361.1h1.0v1.0h-1.0zM1299.0,355.5h1.0v1.0h-1.0zM1289.5,361.2h1.3v1.3h-1.3zM1224.7,357.4h1.3v1.3h-1.3zM1269.1,361.0h0.8v0.8h-0.8zM1216.6,361.0h0.8v0.8h-0.8zM1271.7,357.4h1.0v1.0h-1.0zM1310.2,361.0h1.2v1.2h-1.2zM1240.4,360.2h0.6v0.6h-0.6zM1256.9,361.0h0.8v0.8h-0.8zM1251.8,358.7h0.8v0.8h-0.8zM1287.0,359.2h0.7v0.7h-0.7zM1308.8,355.6h1.1v1.1h-1.1zM1249.9,356.0h0.7v0.7h-0.7zM1316.8,360.1h0.9v0.9h-0.9zM1295.8,361.1h1.2v1.2h-1.2zM1268.9,356.8h1.0v1.0h-1.0zM1315.1,359.6h1.1v1.1h-1.1zM1300.8,357.7h1.0v1.0h-1.0zM1301.4,356.4h1.2v1.2h-1.2zM1216.5,358.5h1.0v1.0h-1.0zM1229.1,360.8h0.9v0.9h-0.9zM1233.1,357.7h1.0v1.0h-1.0zM1258.2,355.2h0.7v0.7h-0.7zM1287.5,356.0h0.8v0.8h-0.8zM1297.2,360.5h1.2v1.2h-1.2zM1232.0,355.2h1.1v1.1h-1.1zM1275.7,357.4h0.6v0.6h-0.6zM1258.4,356.6h1.0v1.0h-1.0zM1315.0,356.4h0.7v0.7h-0.7zM1285.5,355.8h0.8v0.8h-0.8zM1259.2,361.2h0.8v0.8h-0.8zM1246.5,358.1h0.7v0.7h-0.7zM1255.4,359.5h0.8v0.8h-0.8zM1296.0,356.3h0.7v0.7h-0.7zM1278.6,357.9h1.2v1.2h-1.2zM1224.8,359.7h1.1v1.1h-1.1zM1252.1,355.9h1.0v1.0h-1.0zM1292.1,358.1h0.9v0.9h-0.9zM1284.6,358.9h0.9v0.9h-0.9zM1233.2,358.0h1.0v1.0h-1.0zM1306.3,361.3h1.0v1.0h-1.0zM1247.8,356.5h1.0v1.0h-1.0zM1290.1,356.7h1.1v1.1h-1.1zM1316.9,357.6h1.3v1.3h-1.3zM1259.0,359.2h1.2v1.2h-1.2zM1234.9,357.3h1.3v1.3h-1.3zM1220.7,357.0h0.9v0.9h-0.9zM1290.7,359.0h1.3v1.3h-1.3zM1283.0,355.2h0.6v0.6h-0.6zM1217.8,357.8h0.6v0.6h-0.6zM1268.2,359.0h0.7v0.7h-0.7zM1302.2,357.7h1.3v1.3h-1.3zM1250.9,359.0h1.0v1.0h-1.0zM1241.1,360.0h0.6v0.6h-0.6zM1239.7,357.1h1.2v1.2h-1.2zM1265.6,355.4h0.8v0.8h-0.8zM1276.8,360.1h0.7v0.7h-0.7zM1294.3,357.6h1.0v1.0h-1.0zM1257.4,357.8h1.3v1.3h-1.3zM1308.7,360.8h1.1v1.1h-1.1zM1286.1,356.0h0.6v0.6h-0.6zM1299.6,359.3h1.0v1.0h-1.0zM1246.2,356.8h1.2v1.2h-1.2zM1268.8,355.3h0.8v0.8h-0.8zM1249.9,355.6h1.3v1.3h-1.3zM1307.0,360.2h0.6v0.6h-0.6zM1257.0,355.8h1.1v1.1h-1.1zM1297.4,360.0h1.2v1.2h-1.2zM1226.4,355.2h0.7v0.7h-0.7zM1300.8,360.3h1.0v1.0h-1.0zM1238.2,360.4h0.7v0.7h-0.7zM1247.5,355.2h1.3v1.3h-1.3zM1256.7,359.9h1.2v1.2h-1.2zM1273.8,361.2h1.1v1.1h-1.1zM1309.5,361.1h0.7v0.7h-0.7zM1291.3,356.5h0.8v0.8h-0.8zM1249.2,361.2h0.6v0.6h-0.6zM1258.8,355.9h1.3v1.3h-1.3zM1265.1,359.5h1.0v1.0h-1.0zM1293.0,357.2h0.9v0.9h-0.9zM1290.7,359.5h1.2v1.2h-1.2zM1245.9,360.4h1.1v1.1h-1.1zM1273.0,357.7h1.0v1.0h-1.0zM1221.9,355.7h0.8v0.8h-0.8zM1226.7,355.4h1.1v1.1h-1.1zM1289.3,358.9h0.7v0.7h-0.7zM1288.4,360.2h1.0v1.0h-1.0zM1237.4,358.6h0.9v0.9h-0.9zM1241.7,356.1h1.2v1.2h-1.2zM1279.1,360.9h0.7v0.7h-0.7zM1241.2,358.3h0.6v0.6h-0.6zM1245.1,358.5h0.9v0.9h-0.9zM1307.7,358.7h1.0v1.0h-1.0zM1274.3,360.0h0.9v0.9h-0.9zM1214.1,361.2h1.2v1.2h-1.2zM1227.0,355.8h0.8v0.8h-0.8zM1281.8,356.0h0.6v0.6h-0.6zM1264.9,355.2h0.8v0.8h-0.8zM1253.4,356.4h0.6v0.6h-0.6zM1240.8,356.7h0.8v0.8h-0.8zM1256.7,357.4h0.8v0.8h-0.8zM1216.0,360.3h1.1v1.1h-1.1zM1264.8,355.2h0.8v0.8h-0.8zM1306.8,358.0h0.7v0.7h-0.7zM1298.5,360.6h0.7v0.7h-0.7zM1265.6,358.6h0.7v0.7h-0.7zM1246.9,359.0h1.1v1.1h-1.1zM1278.7,359.0h0.9v0.9h-0.9zM1221.1,355.2h1.2v1.2h-1.2zM1303.1,360.7h0.7v0.7h-0.7zM1293.2,356.2h0.8v0.8h-0.8zM1234.6,360.4h1.2v1.2h-1.2zM1299.8,357.5h1.3v1.3h-1.3zM1240.8,358.7h1.1v1.1h-1.1zM1238.1,357.5h0.7v0.7h-0.7zM1296.1,356.3h0.7v0.7h-0.7zM1242.6,359.1h1.0v1.0h-1.0zM1268.0,360.4h1.1v1.1h-1.1zM1235.6,358.4h0.7v0.7h-0.7zM1238.9,356.1h0.7v0.7h-0.7zM1250.1,360.6h1.1v1.1h-1.1zM1223.0,356.5h1.0v1.0h-1.0zM1268.6,355.3h0.7v0.7h-0.7zM1272.3,358.9h0.7v0.7h-0.7zM1293.6,356.6h1.0v1.0h-1.0zM1268.6,357.2h1.3v1.3h-1.3zM1254.7,357.8h1.0v1.0h-1.0zM1300.5,361.2h1.1v1.1h-1.1zM1269.5,359.6h1.0v1.0h-1.0zM1312.8,361.1h1.1v1.1h-1.1zM1236.3,358.6h0.9v0.9h-0.9zM1237.8,360.0h0.8v0.8h-0.8zM1287.1,358.2h0.9v0.9h-0.9zM1286.8,359.6h1.3v1.3h-1.3zM1316.9,360.1h0.8v0.8h-0.8zM1282.9,358.2h1.3v1.3h-1.3zM1260.0,357.4h0.6v0.6h-0.6zM1262.4,358.4h0.8v0.8h-0.8zM1224.8,358.1h0.6v0.6h-0.6zM1231.7,357.9h0.8v0.8h-0.8zM1265.5,358.4h0.9v0.9h-0.9zM1227.8,355.3h1.0v1.0h-1.0zM1313.9,356.9h0.8v0.8h-0.8zM1246.9,359.7h0.9v0.9h-0.9zM1296.0,355.2h0.7v0.7h-0.7zM1235.2,357.4h0.9v0.9h-0.9zM1253.7,361.1h0.9v0.9h-0.9zM1273.3,361.1h1.0v1.0h-1.0zM1275.3,360.2h0.8v0.8h-0.8zM1217.7,361.0h1.0v1.0h-1.0zM1274.0,355.6h1.1v1.1h-1.1zM1252.5,359.1h0.8v0.8h-0.8zM1308.6,357.4h0.8v0.8h-0.8zM1306.1,356.5h0.8v0.8h-0.8zM1264.2,361.2h0.7v0.7h-0.7zM1235.7,360.0h0.7v0.7h-0.7z' fill='#2b2b2b' opacity='0.8'/><rect x='1213' y='356.176' width='104' height='15.390000000000002' fill='#ececec'/><path d='M1256.7,370.9h0.9v0.9h-0.9zM1295.7,368.8h1.0v1.0h-1.0zM1250.8,371.0h0.8v0.8h-0.8zM1305.8,370.0h0.7v0.7h-0.7zM1229.5,370.0h0.5v0.5h-0.5zM1230.9,371.2h0.8v0.8h-0.8zM1302.9,369.0h0.8v0.8h-0.8zM1262.3,368.8h0.7v0.7h-0.7zM1308.9,370.7h0.8v0.8h-0.8zM1276.8,371.1h1.1v1.1h-1.1zM1275.2,368.6h1.0v1.0h-1.0zM1231.0,369.2h0.6v0.6h-0.6zM1266.8,370.3h0.8v0.8h-0.8zM1262.4,368.9h0.9v0.9h-0.9zM1269.4,369.4h1.0v1.0h-1.0zM1310.7,371.3h1.1v1.1h-1.1zM1221.1,369.7h0.8v0.8h-0.8zM1240.4,370.8h1.0v1.0h-1.0zM1228.3,370.0h1.1v1.1h-1.1zM1305.5,369.9h0.6v0.6h-0.6zM1261.0,370.1h1.0v1.0h-1.0zM1233.2,369.3h1.1v1.1h-1.1zM1215.2,370.4h0.6v0.6h-0.6zM1291.3,369.8h1.1v1.1h-1.1zM1237.0,371.2h0.6v0.6h-0.6zM1218.9,368.8h0.5v0.5h-0.5zM1254.0,371.5h0.7v0.7h-0.7zM1287.8,368.6h0.8v0.8h-0.8zM1269.6,368.8h0.8v0.8h-0.8zM1259.9,369.5h1.0v1.0h-1.0zM1285.2,368.9h0.6v0.6h-0.6zM1219.4,369.3h0.9v0.9h-0.9zM1313.8,371.5h1.0v1.0h-1.0zM1226.8,370.9h1.0v1.0h-1.0zM1262.7,371.6h0.9v0.9h-0.9zM1226.2,369.2h0.6v0.6h-0.6zM1276.9,370.4h1.0v1.0h-1.0zM1215.1,368.5h1.1v1.1h-1.1zM1241.0,369.3h1.0v1.0h-1.0zM1225.5,370.9h1.0v1.0h-1.0zM1271.9,370.4h0.5v0.5h-0.5zM1276.5,370.4h1.0v1.0h-1.0zM1267.3,368.8h0.6v0.6h-0.6zM1281.3,368.7h0.6v0.6h-0.6zM1239.8,370.9h0.8v0.8h-0.8zM1250.8,371.5h0.8v0.8h-0.8zM1238.6,370.2h1.0v1.0h-1.0zM1252.0,369.8h0.8v0.8h-0.8zM1315.7,370.5h0.6v0.6h-0.6zM1274.0,369.5h0.8v0.8h-0.8zM1287.4,368.6h0.8v0.8h-0.8zM1246.4,370.3h1.0v1.0h-1.0zM1262.1,370.4h0.7v0.7h-0.7zM1240.4,370.1h0.8v0.8h-0.8zM1237.0,370.8h0.8v0.8h-0.8zM1250.6,369.3h1.0v1.0h-1.0zM1306.9,371.4h0.6v0.6h-0.6zM1221.3,370.4h0.5v0.5h-0.5zM1302.2,370.6h0.7v0.7h-0.7zM1259.5,370.6h0.6v0.6h-0.6zM1251.6,370.9h0.9v0.9h-0.9zM1274.3,368.8h0.6v0.6h-0.6zM1240.4,368.6h0.9v0.9h-0.9zM1273.0,371.3h0.8v0.8h-0.8zM1308.6,369.9h0.8v0.8h-0.8zM1243.0,369.9h1.1v1.1h-1.1zM1264.2,368.5h0.7v0.7h-0.7zM1234.4,370.4h0.8v0.8h-0.8zM1263.0,371.3h1.0v1.0h-1.0zM1223.0,368.6h0.9v0.9h-0.9zM1275.5,370.5h0.8v0.8h-0.8zM1217.7,369.9h1.0v1.0h-1.0zM1276.0,368.6h0.6v0.6h-0.6zM1307.2,370.2h0.6v0.6h-0.6zM1286.8,371.3h1.0v1.0h-1.0zM1280.5,371.0h0.6v0.6h-0.6zM1261.7,371.0h0.7v0.7h-0.7zM1228.8,371.2h0.9v0.9h-0.9zM1214.8,368.7h0.8v0.8h-0.8zM1312.3,370.4h1.0v1.0h-1.0zM1224.8,370.3h0.6v0.6h-0.6zM1248.2,368.9h0.8v0.8h-0.8zM1218.8,370.5h0.9v0.9h-0.9zM1307.2,370.9h0.5v0.5h-0.5zM1303.5,370.2h1.1v1.1h-1.1zM1264.7,368.7h0.9v0.9h-0.9zM1231.8,371.5h0.8v0.8h-0.8zM1306.9,370.0h0.7v0.7h-0.7zM1282.2,370.7h0.8v0.8h-0.8zM1242.4,369.8h0.9v0.9h-0.9zM1237.5,369.0h0.8v0.8h-0.8zM1281.8,368.7h0.7v0.7h-0.7zM1314.1,369.3h1.0v1.0h-1.0zM1245.5,368.8h0.8v0.8h-0.8zM1303.6,370.9h0.5v0.5h-0.5z' fill='#2b2b2b' opacity='0.7'/><path d='M1286.4,335.3h0.7v0.7h-0.7zM1282.5,334.7h0.6v0.6h-0.6zM1285.6,332.7h0.7v0.7h-0.7zM1301.7,335.0h0.8v0.8h-0.8zM1287.1,334.6h0.7v0.7h-0.7zM1270.9,332.2h0.7v0.7h-0.7zM1218.1,337.2h1.0v1.0h-1.0zM1281.3,332.9h0.9v0.9h-0.9zM1243.1,336.2h0.8v0.8h-0.8zM1276.3,335.9h0.6v0.6h-0.6zM1299.9,334.8h0.9v0.9h-0.9zM1300.5,333.4h0.7v0.7h-0.7zM1251.2,332.5h0.9v0.9h-0.9zM1284.6,334.6h0.8v0.8h-0.8zM1304.6,332.4h0.7v0.7h-0.7zM1284.7,334.8h0.7v0.7h-0.7zM1240.6,333.2h0.8v0.8h-0.8zM1249.1,336.9h1.0v1.0h-1.0zM1313.9,333.5h0.8v0.8h-0.8zM1224.7,333.9h0.5v0.5h-0.5zM1265.7,337.0h0.9v0.9h-0.9z' fill='#2b2b2b' opacity='0.5'/><path d='M958.5,343 C961,290 995,239 1053,239 C1085,239 1108,257 1121.3,281.7 L1123.5,288 L1132.7,283.9 L1123.5,304 L1100.6,295.4 L1110.9,292 C1098,272 1078,259 1053,259 C1025,259 1008,295 1006.5,343 Z' fill='#2b2b2b'/><circle cx='942.7' cy='308.3' r='12.2' fill='none' stroke='#2b2b2b' stroke-width='1.9'/><line x1='876.4' y1='279.5' x2='931' y2='303' stroke='#2b2b2b' stroke-width='1.8'/><circle cx='1207.3' cy='312.8' r='12.3' fill='none' stroke='#2b2b2b' stroke-width='1.9'/><line x1='1245.6' y1='274.3' x2='1216' y2='303' stroke='#2b2b2b' stroke-width='1.8'/><line x1='1082' y1='431' x2='1091.9' y2='412.4' stroke='#2b2b2b' stroke-width='2'/><path d='M1097.6,401.8 L1095.3,419.9 L1091.9,412.4 L1083.9,413.7 Z' fill='#2b2b2b'/><line x1='1201.3' y1='430.6' x2='1184.8' y2='407.4' stroke='#2b2b2b' stroke-width='2'/><path d='M1177.8,397.6 L1193.0,407.7 L1184.8,407.4 L1182.4,415.2 Z' fill='#2b2b2b'/><rect x='743' y='539.4' width='11' height='109' fill='#f8f8f8'/><path d='M743,608.4 V539.4 H754 V648.4' fill='none' stroke='#2b2b2b' stroke-width='1.4'/><path d='M743,611.4 V648.4' fill='none' stroke='#2b2b2b' stroke-width='1' stroke-dasharray='3 4' opacity='0.7'/><path d='M754,548.4 H770 a3,3 0 0 1 3,3 V648.4 H754 Z' fill='#c4c4c4' stroke='#2b2b2b' stroke-width='1.2'/><path d='M760.9,576.0h1.7v1.7h-1.7zM755.0,632.9h1.7v1.7h-1.7zM755.3,643.5h1.5v1.5h-1.5zM761.4,590.9h1.4v1.4h-1.4zM764.0,635.2h1.7v1.7h-1.7zM760.2,549.3h1.6v1.6h-1.6zM766.3,613.9h1.0v1.0h-1.0zM755.4,638.3h1.2v1.2h-1.2zM763.0,645.7h1.1v1.1h-1.1zM766.1,554.6h1.4v1.4h-1.4zM768.0,564.1h1.6v1.6h-1.6zM772.4,631.0h1.6v1.6h-1.6zM772.0,620.1h1.4v1.4h-1.4zM769.7,629.0h1.5v1.5h-1.5zM766.7,566.2h1.2v1.2h-1.2zM760.2,634.3h1.6v1.6h-1.6zM759.5,647.8h1.0v1.0h-1.0zM755.2,581.2h1.0v1.0h-1.0zM772.0,584.3h1.2v1.2h-1.2zM770.2,601.7h1.5v1.5h-1.5zM762.4,594.4h1.8v1.8h-1.8zM759.3,600.9h1.3v1.3h-1.3zM756.7,563.0h1.4v1.4h-1.4zM769.2,591.6h1.0v1.0h-1.0zM771.8,562.2h1.7v1.7h-1.7zM754.9,613.4h1.0v1.0h-1.0zM758.9,590.6h1.6v1.6h-1.6zM762.3,590.2h1.3v1.3h-1.3zM763.9,576.5h1.8v1.8h-1.8zM757.6,561.7h1.4v1.4h-1.4zM760.7,620.5h0.9v0.9h-0.9zM766.9,584.8h1.7v1.7h-1.7zM759.7,591.7h1.2v1.2h-1.2zM764.1,576.5h1.5v1.5h-1.5zM761.8,619.2h1.2v1.2h-1.2zM762.7,604.1h1.5v1.5h-1.5zM766.4,591.3h1.0v1.0h-1.0zM756.1,563.1h1.1v1.1h-1.1zM757.5,614.6h1.2v1.2h-1.2zM771.3,571.8h1.1v1.1h-1.1zM757.5,562.8h1.5v1.5h-1.5zM765.0,573.5h1.6v1.6h-1.6zM766.8,591.3h1.4v1.4h-1.4zM766.5,592.5h1.0v1.0h-1.0zM760.9,643.0h1.2v1.2h-1.2zM766.1,557.2h1.6v1.6h-1.6zM770.4,585.7h1.2v1.2h-1.2zM763.7,573.6h1.1v1.1h-1.1zM756.4,617.1h1.4v1.4h-1.4zM772.2,644.6h1.7v1.7h-1.7zM771.9,632.2h0.9v0.9h-0.9zM756.5,646.0h1.7v1.7h-1.7zM765.7,610.4h1.3v1.3h-1.3zM762.1,563.0h1.4v1.4h-1.4zM759.2,560.6h1.7v1.7h-1.7zM764.9,636.0h1.2v1.2h-1.2zM765.0,576.1h1.6v1.6h-1.6zM758.0,613.2h1.4v1.4h-1.4zM760.2,556.4h1.3v1.3h-1.3zM763.9,630.2h1.1v1.1h-1.1zM757.5,578.9h1.6v1.6h-1.6zM758.4,611.8h0.9v0.9h-0.9zM755.6,619.2h1.3v1.3h-1.3zM756.1,595.7h1.7v1.7h-1.7zM761.4,604.1h1.3v1.3h-1.3zM763.6,552.7h1.7v1.7h-1.7zM765.0,583.1h1.2v1.2h-1.2zM757.6,641.8h1.7v1.7h-1.7zM761.2,608.7h1.4v1.4h-1.4zM757.8,551.7h1.6v1.6h-1.6zM757.1,604.9h0.9v0.9h-0.9zM754.4,564.8h1.5v1.5h-1.5zM765.6,647.5h1.5v1.5h-1.5zM763.9,549.7h1.8v1.8h-1.8zM763.3,634.2h0.9v0.9h-0.9zM769.9,596.0h1.1v1.1h-1.1zM761.7,555.9h1.4v1.4h-1.4zM758.2,618.6h1.1v1.1h-1.1zM767.1,610.2h1.5v1.5h-1.5zM772.1,577.9h1.5v1.5h-1.5zM761.5,637.8h1.6v1.6h-1.6zM768.5,608.4h1.1v1.1h-1.1zM771.2,645.3h1.8v1.8h-1.8zM760.4,630.6h1.5v1.5h-1.5zM770.0,628.6h1.3v1.3h-1.3zM761.5,628.0h1.5v1.5h-1.5zM764.3,635.8h0.9v0.9h-0.9zM754.3,594.9h1.0v1.0h-1.0zM770.0,557.2h1.7v1.7h-1.7zM758.3,561.8h1.6v1.6h-1.6zM766.9,589.4h1.4v1.4h-1.4zM764.5,643.3h1.4v1.4h-1.4zM764.3,594.6h1.3v1.3h-1.3zM767.1,559.6h1.5v1.5h-1.5zM771.6,624.5h1.4v1.4h-1.4zM760.7,558.2h1.0v1.0h-1.0zM764.2,636.4h1.7v1.7h-1.7zM757.5,623.3h1.6v1.6h-1.6zM763.1,634.2h1.1v1.1h-1.1zM760.4,599.8h1.6v1.6h-1.6zM762.5,578.6h1.7v1.7h-1.7zM761.4,590.4h1.1v1.1h-1.1zM763.2,619.0h1.2v1.2h-1.2zM766.6,597.7h0.9v0.9h-0.9zM772.3,577.2h1.4v1.4h-1.4zM772.2,569.1h1.0v1.0h-1.0zM757.9,563.7h1.7v1.7h-1.7zM763.8,552.6h1.1v1.1h-1.1zM763.7,565.8h1.2v1.2h-1.2zM771.2,592.9h1.1v1.1h-1.1zM765.4,559.7h1.4v1.4h-1.4zM766.3,557.3h1.4v1.4h-1.4zM759.9,622.9h1.5v1.5h-1.5zM771.3,609.1h1.1v1.1h-1.1zM757.5,618.8h1.6v1.6h-1.6zM755.2,590.1h1.2v1.2h-1.2zM762.9,635.6h1.4v1.4h-1.4zM768.1,624.9h1.1v1.1h-1.1zM765.8,585.9h1.3v1.3h-1.3zM764.1,615.1h1.1v1.1h-1.1zM769.9,564.5h1.2v1.2h-1.2zM770.1,646.9h1.2v1.2h-1.2zM772.1,552.1h1.8v1.8h-1.8zM757.8,551.9h1.6v1.6h-1.6zM757.1,623.6h0.9v0.9h-0.9zM756.4,584.2h1.0v1.0h-1.0zM763.0,583.0h1.6v1.6h-1.6zM763.4,644.9h1.7v1.7h-1.7zM757.3,640.1h1.7v1.7h-1.7zM764.7,601.1h1.1v1.1h-1.1zM760.1,570.4h1.1v1.1h-1.1zM765.7,580.8h1.6v1.6h-1.6zM764.9,631.1h1.0v1.0h-1.0zM770.1,599.2h1.5v1.5h-1.5zM758.5,618.0h1.3v1.3h-1.3zM767.7,606.8h1.0v1.0h-1.0zM759.7,623.6h0.9v0.9h-0.9zM766.0,602.9h1.5v1.5h-1.5zM760.3,596.1h1.3v1.3h-1.3zM768.2,555.7h1.4v1.4h-1.4zM758.9,607.3h1.1v1.1h-1.1zM757.9,571.6h1.7v1.7h-1.7zM760.9,636.4h1.6v1.6h-1.6zM759.1,603.8h0.9v0.9h-0.9zM771.7,611.5h1.0v1.0h-1.0zM763.9,597.9h1.5v1.5h-1.5zM759.5,639.4h1.5v1.5h-1.5zM755.4,630.3h1.7v1.7h-1.7zM759.8,619.5h1.7v1.7h-1.7zM770.8,555.4h1.7v1.7h-1.7zM758.7,628.6h1.5v1.5h-1.5zM762.8,638.6h1.6v1.6h-1.6zM772.9,644.3h1.4v1.4h-1.4zM768.0,615.4h1.3v1.3h-1.3zM763.5,599.2h1.1v1.1h-1.1zM759.0,632.9h1.7v1.7h-1.7zM767.3,617.3h1.4v1.4h-1.4zM764.9,615.0h0.9v0.9h-0.9zM762.4,645.4h1.1v1.1h-1.1zM762.9,556.2h1.1v1.1h-1.1zM769.7,551.7h1.6v1.6h-1.6zM769.2,635.2h1.1v1.1h-1.1zM771.7,585.6h1.3v1.3h-1.3zM772.1,602.9h1.5v1.5h-1.5zM756.1,548.9h1.1v1.1h-1.1zM756.0,630.8h1.1v1.1h-1.1zM772.2,616.2h1.1v1.1h-1.1zM767.5,580.2h1.4v1.4h-1.4zM755.4,631.7h1.6v1.6h-1.6zM765.0,617.5h1.2v1.2h-1.2zM756.4,580.9h1.6v1.6h-1.6zM764.7,561.9h1.1v1.1h-1.1zM763.0,549.8h0.9v0.9h-0.9zM762.5,561.8h1.7v1.7h-1.7zM756.4,623.3h1.6v1.6h-1.6zM760.0,602.6h1.8v1.8h-1.8zM765.7,587.1h1.8v1.8h-1.8zM758.9,643.9h1.2v1.2h-1.2zM762.0,580.0h1.5v1.5h-1.5zM770.8,617.3h1.1v1.1h-1.1zM772.8,620.7h1.4v1.4h-1.4zM770.1,559.1h1.4v1.4h-1.4zM768.9,626.1h1.5v1.5h-1.5zM755.2,596.2h1.1v1.1h-1.1zM765.6,588.1h1.3v1.3h-1.3zM764.2,607.2h1.7v1.7h-1.7zM759.4,575.9h1.1v1.1h-1.1zM756.1,633.3h1.7v1.7h-1.7zM756.4,584.4h1.7v1.7h-1.7zM770.4,646.2h1.8v1.8h-1.8zM759.8,555.1h1.1v1.1h-1.1zM763.5,549.9h1.1v1.1h-1.1zM763.0,616.6h1.0v1.0h-1.0zM756.3,581.4h1.0v1.0h-1.0zM756.3,558.7h1.6v1.6h-1.6zM770.7,552.7h1.6v1.6h-1.6zM770.0,613.5h1.2v1.2h-1.2zM769.6,556.5h0.9v0.9h-0.9zM772.1,570.5h1.7v1.7h-1.7zM768.3,553.1h1.0v1.0h-1.0zM766.3,563.0h1.5v1.5h-1.5zM766.8,571.5h1.3v1.3h-1.3zM758.0,635.5h1.5v1.5h-1.5zM767.1,610.6h1.0v1.0h-1.0zM770.8,626.3h1.4v1.4h-1.4zM765.2,597.6h1.6v1.6h-1.6zM764.1,576.2h1.4v1.4h-1.4zM758.1,548.9h1.4v1.4h-1.4zM770.5,620.3h1.1v1.1h-1.1zM763.7,606.7h1.4v1.4h-1.4zM762.7,599.3h1.5v1.5h-1.5zM770.7,600.0h1.6v1.6h-1.6zM766.9,560.4h1.1v1.1h-1.1zM760.0,583.8h1.3v1.3h-1.3zM759.6,648.2h1.6v1.6h-1.6zM761.1,618.4h1.7v1.7h-1.7zM757.0,611.3h1.8v1.8h-1.8zM761.1,636.1h1.6v1.6h-1.6zM760.1,562.8h1.6v1.6h-1.6zM761.9,583.4h1.3v1.3h-1.3zM767.8,637.8h1.7v1.7h-1.7zM768.6,566.0h1.2v1.2h-1.2zM754.1,568.5h1.2v1.2h-1.2zM757.4,596.0h1.0v1.0h-1.0zM766.4,589.5h1.1v1.1h-1.1zM767.0,581.2h0.9v0.9h-0.9zM769.9,623.8h1.7v1.7h-1.7zM759.6,574.8h1.5v1.5h-1.5zM756.8,645.1h1.5v1.5h-1.5zM764.4,553.6h1.2v1.2h-1.2zM762.0,646.5h1.0v1.0h-1.0zM765.2,556.2h1.8v1.8h-1.8zM768.2,629.6h1.6v1.6h-1.6zM757.4,572.5h0.9v0.9h-0.9zM764.5,556.5h1.1v1.1h-1.1zM757.3,640.4h1.6v1.6h-1.6zM759.4,645.5h1.0v1.0h-1.0zM756.7,586.5h1.6v1.6h-1.6zM755.9,627.3h1.4v1.4h-1.4zM769.2,582.1h0.9v0.9h-0.9zM755.9,620.7h1.4v1.4h-1.4zM768.5,568.3h1.2v1.2h-1.2zM758.0,633.5h1.5v1.5h-1.5zM756.9,621.0h0.9v0.9h-0.9zM762.9,574.1h1.6v1.6h-1.6zM767.7,616.8h1.1v1.1h-1.1zM754.8,612.4h1.5v1.5h-1.5zM754.2,632.2h1.7v1.7h-1.7zM760.9,600.3h1.5v1.5h-1.5zM771.6,613.4h1.4v1.4h-1.4zM768.6,597.4h0.9v0.9h-0.9zM764.4,589.8h1.2v1.2h-1.2zM761.5,570.5h1.2v1.2h-1.2zM768.2,636.9h1.3v1.3h-1.3zM770.1,560.9h1.4v1.4h-1.4zM768.1,626.5h1.2v1.2h-1.2zM757.2,644.5h1.4v1.4h-1.4zM766.4,583.0h1.0v1.0h-1.0zM764.8,588.9h1.7v1.7h-1.7zM766.6,624.0h1.4v1.4h-1.4zM768.3,561.8h1.8v1.8h-1.8zM765.0,608.1h1.1v1.1h-1.1zM755.7,618.9h1.6v1.6h-1.6zM766.7,573.9h1.3v1.3h-1.3zM768.6,612.5h1.7v1.7h-1.7zM755.7,625.9h0.9v0.9h-0.9zM765.9,601.8h1.0v1.0h-1.0zM762.0,615.2h1.7v1.7h-1.7zM755.5,599.4h1.6v1.6h-1.6zM756.2,637.7h1.7v1.7h-1.7zM760.5,569.3h1.0v1.0h-1.0zM758.2,590.3h1.5v1.5h-1.5zM771.8,604.3h1.8v1.8h-1.8zM762.1,614.2h0.9v0.9h-0.9zM762.0,550.7h1.0v1.0h-1.0zM769.4,559.8h1.2v1.2h-1.2zM764.0,600.9h0.9v0.9h-0.9zM756.1,616.1h1.3v1.3h-1.3zM755.8,596.3h1.2v1.2h-1.2zM773.0,553.2h1.1v1.1h-1.1zM755.4,603.5h1.8v1.8h-1.8zM768.8,559.6h1.4v1.4h-1.4zM760.8,646.1h1.5v1.5h-1.5zM765.5,574.1h1.3v1.3h-1.3zM764.0,586.3h1.4v1.4h-1.4zM755.7,590.5h1.8v1.8h-1.8zM761.6,599.0h1.6v1.6h-1.6zM769.4,622.0h1.2v1.2h-1.2zM767.5,568.4h1.5v1.5h-1.5zM754.3,567.7h1.1v1.1h-1.1zM760.7,622.2h0.9v0.9h-0.9zM770.7,557.6h1.8v1.8h-1.8zM772.0,609.9h1.7v1.7h-1.7zM771.9,593.2h1.7v1.7h-1.7zM754.7,626.5h1.5v1.5h-1.5zM768.8,563.3h1.0v1.0h-1.0zM763.9,609.0h1.5v1.5h-1.5zM757.4,605.2h1.8v1.8h-1.8zM758.8,630.4h1.8v1.8h-1.8zM766.8,592.4h1.3v1.3h-1.3zM762.9,560.9h1.0v1.0h-1.0zM759.3,565.8h1.7v1.7h-1.7zM760.9,635.9h1.4v1.4h-1.4zM771.1,638.1h1.5v1.5h-1.5zM762.5,572.8h1.4v1.4h-1.4zM759.9,631.2h0.9v0.9h-0.9zM766.1,582.3h1.3v1.3h-1.3zM764.3,646.6h1.8v1.8h-1.8zM760.8,644.1h1.8v1.8h-1.8zM764.0,604.8h1.1v1.1h-1.1zM769.0,596.9h1.6v1.6h-1.6zM771.5,610.8h1.5v1.5h-1.5zM764.4,561.5h1.3v1.3h-1.3zM755.2,566.5h1.8v1.8h-1.8zM761.2,561.9h1.3v1.3h-1.3zM755.1,609.1h1.1v1.1h-1.1zM758.1,612.1h1.7v1.7h-1.7zM754.3,619.9h1.4v1.4h-1.4zM763.3,590.5h0.9v0.9h-0.9zM760.7,600.7h1.2v1.2h-1.2zM772.9,582.4h1.7v1.7h-1.7zM769.4,627.9h1.3v1.3h-1.3zM763.5,632.8h1.0v1.0h-1.0zM758.3,549.7h1.3v1.3h-1.3zM762.6,644.0h1.7v1.7h-1.7zM761.7,598.0h1.0v1.0h-1.0zM768.3,600.3h1.1v1.1h-1.1zM770.7,552.7h1.1v1.1h-1.1zM763.1,648.1h1.0v1.0h-1.0zM759.1,627.5h1.2v1.2h-1.2zM771.7,550.3h1.1v1.1h-1.1zM759.9,633.2h1.0v1.0h-1.0zM766.8,637.1h1.8v1.8h-1.8zM769.3,553.5h1.3v1.3h-1.3zM758.1,560.6h1.1v1.1h-1.1zM768.0,605.9h1.0v1.0h-1.0zM759.4,555.0h1.7v1.7h-1.7zM768.3,595.6h1.8v1.8h-1.8zM772.6,569.1h1.1v1.1h-1.1zM757.6,611.2h1.4v1.4h-1.4zM763.8,625.8h1.4v1.4h-1.4zM760.0,615.3h1.8v1.8h-1.8zM754.9,597.0h1.0v1.0h-1.0zM768.2,591.5h1.7v1.7h-1.7zM766.7,644.3h1.4v1.4h-1.4zM765.3,645.8h1.6v1.6h-1.6zM760.4,558.7h1.7v1.7h-1.7zM755.2,640.7h1.7v1.7h-1.7zM766.6,643.3h1.4v1.4h-1.4zM768.2,608.0h1.1v1.1h-1.1zM755.5,622.7h1.3v1.3h-1.3zM756.4,604.3h1.1v1.1h-1.1zM759.0,636.0h1.5v1.5h-1.5zM768.2,630.1h1.3v1.3h-1.3zM762.6,591.6h1.2v1.2h-1.2zM768.8,636.8h1.2v1.2h-1.2zM767.5,569.9h0.9v0.9h-0.9zM767.0,626.0h1.2v1.2h-1.2zM772.9,620.3h1.2v1.2h-1.2zM768.4,632.8h1.0v1.0h-1.0zM771.3,591.8h1.1v1.1h-1.1zM761.2,601.3h1.4v1.4h-1.4zM759.6,554.4h1.5v1.5h-1.5zM767.6,617.9h1.3v1.3h-1.3zM770.3,550.1h1.0v1.0h-1.0zM754.3,603.8h1.4v1.4h-1.4zM758.3,601.0h0.9v0.9h-0.9zM754.7,644.6h1.7v1.7h-1.7zM755.3,614.0h1.4v1.4h-1.4zM764.2,632.5h1.5v1.5h-1.5zM771.9,616.6h1.7v1.7h-1.7zM756.2,630.6h1.2v1.2h-1.2zM771.5,627.5h1.8v1.8h-1.8zM768.4,587.5h1.4v1.4h-1.4zM768.9,554.2h1.4v1.4h-1.4zM764.8,620.2h1.2v1.2h-1.2zM765.5,622.0h1.2v1.2h-1.2zM767.0,638.7h1.2v1.2h-1.2zM764.0,596.8h1.7v1.7h-1.7zM759.1,577.0h1.3v1.3h-1.3zM766.4,563.8h1.8v1.8h-1.8zM763.6,621.5h1.3v1.3h-1.3zM754.5,587.0h1.4v1.4h-1.4zM755.7,646.4h1.4v1.4h-1.4zM762.7,551.3h1.1v1.1h-1.1zM760.4,613.4h1.1v1.1h-1.1zM763.2,575.5h1.4v1.4h-1.4zM767.1,600.2h1.6v1.6h-1.6zM765.8,556.8h1.5v1.5h-1.5zM763.2,624.3h1.7v1.7h-1.7zM760.7,633.4h1.1v1.1h-1.1zM766.4,549.0h1.6v1.6h-1.6zM762.5,593.9h1.3v1.3h-1.3zM761.1,571.4h1.5v1.5h-1.5zM765.9,553.8h1.1v1.1h-1.1zM771.7,576.7h1.2v1.2h-1.2zM765.0,585.7h1.8v1.8h-1.8zM772.7,561.3h1.1v1.1h-1.1zM757.2,592.9h1.2v1.2h-1.2zM766.8,637.0h1.0v1.0h-1.0zM754.5,559.6h1.2v1.2h-1.2zM756.5,591.6h1.2v1.2h-1.2zM767.8,645.1h1.8v1.8h-1.8zM762.0,612.7h1.0v1.0h-1.0zM765.6,636.8h1.7v1.7h-1.7zM756.7,565.0h1.7v1.7h-1.7zM767.2,624.6h1.0v1.0h-1.0zM765.8,550.7h1.6v1.6h-1.6zM769.1,580.6h0.9v0.9h-0.9zM767.9,648.2h1.5v1.5h-1.5zM761.0,581.3h1.6v1.6h-1.6zM772.4,584.9h1.1v1.1h-1.1zM772.9,591.2h1.3v1.3h-1.3zM759.9,620.9h1.8v1.8h-1.8zM762.9,633.9h1.3v1.3h-1.3zM762.0,628.6h1.8v1.8h-1.8zM768.3,618.9h1.6v1.6h-1.6zM771.5,643.7h1.4v1.4h-1.4z' fill='#2b2b2b' opacity='1.0'/><path d='M761.4,549.1h1.4v1.4h-1.4zM760.8,548.4h1.8v1.8h-1.8zM759.8,641.6h0.9v0.9h-0.9zM760.8,626.8h1.5v1.5h-1.5zM766.8,597.2h1.0v1.0h-1.0zM769.8,624.5h1.3v1.3h-1.3zM764.7,628.8h1.3v1.3h-1.3zM763.0,596.9h1.6v1.6h-1.6zM768.0,581.9h1.6v1.6h-1.6zM761.1,615.8h1.2v1.2h-1.2zM771.1,642.4h1.6v1.6h-1.6zM761.2,583.5h1.3v1.3h-1.3zM765.5,551.8h1.4v1.4h-1.4zM771.6,554.8h1.7v1.7h-1.7zM764.9,648.2h1.6v1.6h-1.6zM767.7,623.7h1.3v1.3h-1.3zM756.2,633.9h1.7v1.7h-1.7zM767.7,570.2h1.3v1.3h-1.3zM763.8,584.8h1.3v1.3h-1.3zM762.7,646.5h1.5v1.5h-1.5zM772.6,639.2h1.1v1.1h-1.1zM768.7,586.5h1.4v1.4h-1.4zM764.7,622.4h1.2v1.2h-1.2zM766.9,585.4h1.6v1.6h-1.6zM763.4,612.7h1.8v1.8h-1.8zM759.3,548.9h1.7v1.7h-1.7zM764.0,613.0h1.6v1.6h-1.6zM770.9,587.0h1.8v1.8h-1.8zM761.4,621.1h1.6v1.6h-1.6zM760.9,590.4h1.2v1.2h-1.2zM760.5,589.6h1.7v1.7h-1.7zM755.2,647.3h1.6v1.6h-1.6zM764.6,612.6h1.2v1.2h-1.2zM768.5,635.8h1.2v1.2h-1.2zM763.5,570.3h1.1v1.1h-1.1zM770.2,612.6h1.3v1.3h-1.3zM766.2,566.9h0.9v0.9h-0.9zM760.8,605.9h1.1v1.1h-1.1zM764.3,580.9h1.1v1.1h-1.1zM768.1,584.5h1.6v1.6h-1.6zM768.2,586.0h0.9v0.9h-0.9zM770.0,603.6h1.4v1.4h-1.4zM767.0,603.3h1.7v1.7h-1.7zM754.2,645.3h1.5v1.5h-1.5zM761.7,639.1h1.7v1.7h-1.7zM765.3,549.4h1.5v1.5h-1.5zM761.8,605.8h1.6v1.6h-1.6zM756.5,632.8h1.2v1.2h-1.2zM758.8,552.1h1.0v1.0h-1.0zM759.1,601.3h1.7v1.7h-1.7zM757.3,577.3h1.2v1.2h-1.2zM766.2,583.8h1.5v1.5h-1.5zM756.9,552.8h1.4v1.4h-1.4zM767.8,561.8h0.9v0.9h-0.9zM766.7,555.0h1.7v1.7h-1.7zM767.1,564.4h1.3v1.3h-1.3zM755.1,557.2h1.2v1.2h-1.2zM770.7,639.4h1.6v1.6h-1.6zM766.1,606.8h1.4v1.4h-1.4zM766.5,598.1h1.3v1.3h-1.3zM769.9,578.5h1.3v1.3h-1.3zM766.9,644.8h1.2v1.2h-1.2zM762.2,588.6h1.1v1.1h-1.1zM760.7,627.4h1.1v1.1h-1.1zM763.1,576.8h1.4v1.4h-1.4zM768.7,560.0h1.3v1.3h-1.3zM757.6,613.0h1.5v1.5h-1.5zM758.2,571.5h1.2v1.2h-1.2zM760.2,637.7h1.7v1.7h-1.7zM769.0,587.8h1.3v1.3h-1.3zM757.8,594.4h1.8v1.8h-1.8zM755.7,587.8h1.1v1.1h-1.1zM770.1,578.5h1.3v1.3h-1.3zM755.0,617.5h1.4v1.4h-1.4zM769.2,620.5h1.6v1.6h-1.6zM759.0,573.5h1.4v1.4h-1.4zM754.9,642.1h1.5v1.5h-1.5zM763.4,584.5h1.0v1.0h-1.0zM764.5,625.7h1.0v1.0h-1.0zM755.9,617.0h1.3v1.3h-1.3zM769.0,589.5h1.8v1.8h-1.8zM770.6,580.5h1.4v1.4h-1.4zM765.2,593.4h1.6v1.6h-1.6zM767.4,630.3h1.1v1.1h-1.1zM763.6,602.8h1.4v1.4h-1.4zM754.3,629.6h1.3v1.3h-1.3zM757.0,633.9h1.4v1.4h-1.4zM768.1,622.4h1.5v1.5h-1.5zM771.4,554.0h1.2v1.2h-1.2zM757.1,612.0h1.1v1.1h-1.1zM754.5,562.0h1.1v1.1h-1.1zM764.3,593.9h1.3v1.3h-1.3zM754.2,601.2h1.1v1.1h-1.1zM755.7,554.1h1.0v1.0h-1.0zM761.6,565.1h1.3v1.3h-1.3zM757.1,621.9h1.7v1.7h-1.7zM760.2,555.6h1.8v1.8h-1.8zM755.6,613.4h1.6v1.6h-1.6zM763.2,637.5h1.0v1.0h-1.0zM767.7,639.1h1.7v1.7h-1.7zM770.1,592.0h1.4v1.4h-1.4zM770.1,586.4h1.1v1.1h-1.1zM754.6,568.8h1.0v1.0h-1.0zM771.7,579.3h1.2v1.2h-1.2zM772.5,617.5h1.3v1.3h-1.3zM756.0,584.9h1.2v1.2h-1.2zM772.0,590.5h1.8v1.8h-1.8zM759.1,553.1h1.7v1.7h-1.7zM755.4,627.2h1.4v1.4h-1.4zM759.4,631.8h1.3v1.3h-1.3zM772.7,604.2h1.7v1.7h-1.7zM771.7,586.0h1.5v1.5h-1.5zM767.8,613.9h0.9v0.9h-0.9zM767.1,624.6h1.1v1.1h-1.1zM755.8,555.1h1.4v1.4h-1.4zM756.0,633.2h1.3v1.3h-1.3zM772.9,621.8h1.3v1.3h-1.3zM757.5,591.1h1.4v1.4h-1.4zM770.4,637.6h1.2v1.2h-1.2zM754.4,614.9h1.5v1.5h-1.5zM766.3,628.7h1.6v1.6h-1.6zM765.9,630.6h1.0v1.0h-1.0zM772.0,615.0h1.0v1.0h-1.0zM757.2,612.5h1.2v1.2h-1.2zM771.8,576.3h1.3v1.3h-1.3zM763.6,642.4h1.2v1.2h-1.2zM771.0,620.7h1.4v1.4h-1.4zM772.0,636.8h1.6v1.6h-1.6zM764.4,552.8h1.1v1.1h-1.1zM766.4,560.1h1.5v1.5h-1.5zM760.6,587.1h1.6v1.6h-1.6zM770.0,623.2h1.3v1.3h-1.3zM764.2,647.0h1.7v1.7h-1.7zM765.5,556.3h1.7v1.7h-1.7zM754.9,560.1h1.5v1.5h-1.5zM757.7,623.8h1.5v1.5h-1.5zM757.1,639.2h1.8v1.8h-1.8zM766.5,646.6h1.6v1.6h-1.6zM763.0,630.8h1.7v1.7h-1.7zM767.2,556.8h1.2v1.2h-1.2zM767.4,585.0h1.0v1.0h-1.0zM762.7,562.5h1.3v1.3h-1.3zM755.9,621.1h1.1v1.1h-1.1zM771.8,559.1h1.5v1.5h-1.5zM766.2,568.3h1.5v1.5h-1.5zM764.4,610.0h1.1v1.1h-1.1zM763.1,632.0h1.5v1.5h-1.5zM758.6,581.8h1.7v1.7h-1.7zM755.0,596.2h1.4v1.4h-1.4zM762.2,548.7h1.0v1.0h-1.0zM770.0,593.9h1.2v1.2h-1.2zM762.6,553.6h1.0v1.0h-1.0zM769.7,624.4h1.1v1.1h-1.1zM760.0,556.1h1.2v1.2h-1.2zM763.9,623.7h1.4v1.4h-1.4zM770.1,648.2h1.4v1.4h-1.4zM754.8,561.8h1.5v1.5h-1.5zM756.5,638.3h0.9v0.9h-0.9zM755.1,648.0h1.3v1.3h-1.3zM764.5,608.0h1.0v1.0h-1.0zM760.4,585.3h1.6v1.6h-1.6zM768.9,617.9h1.1v1.1h-1.1zM762.8,640.0h1.1v1.1h-1.1zM760.6,610.0h1.8v1.8h-1.8zM754.5,617.5h1.3v1.3h-1.3zM764.0,632.4h1.0v1.0h-1.0zM765.4,580.1h1.6v1.6h-1.6zM767.6,590.0h1.0v1.0h-1.0zM768.5,618.5h1.4v1.4h-1.4zM768.2,643.3h1.1v1.1h-1.1zM767.1,629.1h1.1v1.1h-1.1zM771.2,579.8h1.8v1.8h-1.8zM765.1,645.7h1.7v1.7h-1.7zM768.9,585.5h1.3v1.3h-1.3zM765.2,628.9h1.3v1.3h-1.3zM771.1,570.1h1.4v1.4h-1.4zM756.8,565.5h1.2v1.2h-1.2zM754.9,605.4h1.5v1.5h-1.5zM761.5,628.2h1.4v1.4h-1.4zM767.0,556.9h1.2v1.2h-1.2zM754.4,564.4h1.7v1.7h-1.7zM756.6,608.0h1.2v1.2h-1.2zM766.8,635.6h1.6v1.6h-1.6zM772.3,645.0h1.3v1.3h-1.3zM772.8,624.7h1.2v1.2h-1.2zM760.2,600.8h1.7v1.7h-1.7zM755.9,637.5h1.5v1.5h-1.5zM765.3,589.1h1.2v1.2h-1.2zM761.7,620.0h1.3v1.3h-1.3zM767.6,636.0h1.0v1.0h-1.0zM754.4,642.5h1.1v1.1h-1.1zM769.5,588.9h1.1v1.1h-1.1zM754.2,591.3h1.4v1.4h-1.4zM755.0,549.5h1.2v1.2h-1.2zM770.7,623.4h1.1v1.1h-1.1zM761.7,590.1h1.5v1.5h-1.5zM759.4,583.9h1.4v1.4h-1.4zM758.5,591.3h1.6v1.6h-1.6zM763.6,554.0h1.2v1.2h-1.2zM764.8,571.6h1.2v1.2h-1.2zM764.6,584.8h1.1v1.1h-1.1zM770.6,555.0h1.7v1.7h-1.7zM755.8,603.8h1.4v1.4h-1.4zM761.8,611.0h1.7v1.7h-1.7zM760.1,554.4h1.1v1.1h-1.1zM770.7,608.3h1.6v1.6h-1.6zM761.4,580.8h1.5v1.5h-1.5zM764.8,639.7h1.0v1.0h-1.0zM760.5,617.5h1.7v1.7h-1.7zM762.9,627.2h1.0v1.0h-1.0zM766.2,581.3h1.5v1.5h-1.5zM759.6,567.1h1.1v1.1h-1.1zM767.7,619.6h1.7v1.7h-1.7zM761.9,554.9h1.6v1.6h-1.6zM758.9,620.2h1.3v1.3h-1.3zM762.4,551.5h1.1v1.1h-1.1zM768.2,594.4h1.7v1.7h-1.7zM769.3,601.8h1.8v1.8h-1.8zM754.0,588.5h1.4v1.4h-1.4zM755.0,635.5h1.0v1.0h-1.0zM765.0,575.5h1.2v1.2h-1.2zM762.8,577.3h1.1v1.1h-1.1zM766.7,611.0h1.0v1.0h-1.0zM772.5,559.0h1.1v1.1h-1.1zM759.3,584.8h1.3v1.3h-1.3zM771.2,558.5h1.4v1.4h-1.4zM765.9,574.2h1.2v1.2h-1.2zM762.5,637.1h1.6v1.6h-1.6zM763.1,555.3h1.2v1.2h-1.2zM769.5,591.8h1.3v1.3h-1.3zM766.1,552.4h1.5v1.5h-1.5zM767.0,559.7h1.3v1.3h-1.3zM770.3,574.6h1.4v1.4h-1.4zM760.6,603.7h1.3v1.3h-1.3zM760.5,640.9h1.5v1.5h-1.5zM773.0,581.9h1.3v1.3h-1.3zM760.9,635.1h1.2v1.2h-1.2zM766.9,566.1h1.4v1.4h-1.4zM759.1,639.8h1.2v1.2h-1.2zM772.1,605.1h1.2v1.2h-1.2zM764.5,641.5h1.5v1.5h-1.5zM769.7,605.0h1.5v1.5h-1.5zM756.7,631.6h1.5v1.5h-1.5zM766.3,578.8h1.6v1.6h-1.6zM764.0,580.4h1.8v1.8h-1.8zM768.7,616.3h1.7v1.7h-1.7zM767.2,586.9h1.8v1.8h-1.8zM771.2,615.5h1.3v1.3h-1.3zM763.5,553.0h1.7v1.7h-1.7zM769.8,607.9h1.3v1.3h-1.3zM769.3,550.5h1.3v1.3h-1.3zM758.8,609.2h1.2v1.2h-1.2zM765.5,638.1h1.3v1.3h-1.3zM756.2,549.7h1.7v1.7h-1.7zM762.9,592.5h0.9v0.9h-0.9zM756.0,548.5h1.7v1.7h-1.7zM754.9,580.6h1.3v1.3h-1.3zM764.9,570.6h1.5v1.5h-1.5zM766.1,646.9h1.0v1.0h-1.0zM759.6,558.7h1.2v1.2h-1.2zM758.1,551.4h1.6v1.6h-1.6zM759.2,622.9h1.6v1.6h-1.6zM769.1,550.9h1.4v1.4h-1.4zM770.2,611.6h1.4v1.4h-1.4zM762.1,630.7h1.4v1.4h-1.4zM760.7,598.0h1.3v1.3h-1.3zM757.6,615.7h1.7v1.7h-1.7zM766.4,549.4h1.3v1.3h-1.3zM768.6,561.5h1.4v1.4h-1.4zM767.0,601.8h1.2v1.2h-1.2zM754.3,618.8h1.0v1.0h-1.0zM765.4,600.8h1.6v1.6h-1.6zM756.1,645.8h1.6v1.6h-1.6zM770.6,566.9h1.5v1.5h-1.5zM761.2,618.4h1.5v1.5h-1.5zM761.8,643.2h1.3v1.3h-1.3zM762.9,619.9h1.0v1.0h-1.0zM771.0,581.6h1.7v1.7h-1.7zM756.8,560.8h1.4v1.4h-1.4zM758.6,592.4h1.1v1.1h-1.1zM767.8,622.1h1.5v1.5h-1.5zM756.6,553.1h1.4v1.4h-1.4zM755.5,620.0h1.4v1.4h-1.4zM771.7,630.2h1.5v1.5h-1.5zM769.7,599.2h1.2v1.2h-1.2zM755.2,618.8h1.5v1.5h-1.5zM766.0,599.6h1.3v1.3h-1.3zM771.5,586.0h1.0v1.0h-1.0zM772.1,624.5h1.7v1.7h-1.7zM772.7,592.1h1.0v1.0h-1.0zM763.4,597.4h1.2v1.2h-1.2zM768.9,573.4h1.8v1.8h-1.8zM758.0,576.8h1.6v1.6h-1.6zM758.4,620.9h1.1v1.1h-1.1zM761.8,595.4h1.1v1.1h-1.1zM769.6,642.5h1.7v1.7h-1.7zM757.0,551.0h1.3v1.3h-1.3zM768.1,603.1h1.8v1.8h-1.8zM772.8,616.7h1.1v1.1h-1.1zM761.6,554.9h1.3v1.3h-1.3zM768.3,580.0h1.1v1.1h-1.1zM764.2,638.0h1.5v1.5h-1.5zM756.1,591.6h1.1v1.1h-1.1zM769.4,590.2h1.3v1.3h-1.3z' fill='#f4f4f4' opacity='1.0'/><rect x='773' y='557.4' width='26' height='80' rx='4' fill='#f2f2f2' stroke='#2b2b2b' stroke-width='1.6'/><path d='M773,568.4h20M773,589.4h20M773,601.4h22M773,623.4h22' stroke='#2b2b2b' stroke-width='1.2'/><path d='M795.1,575.3h1.2v1.2h-1.2zM797.5,575.5h1.2v1.2h-1.2zM789.6,576.1h1.3v1.3h-1.3zM784.1,586.0h1.2v1.2h-1.2zM791.4,580.9h1.4v1.4h-1.4zM783.4,572.4h1.1v1.1h-1.1zM781.8,569.7h1.4v1.4h-1.4zM786.6,579.0h1.4v1.4h-1.4zM775.6,571.9h1.4v1.4h-1.4zM775.0,586.8h1.2v1.2h-1.2zM797.2,586.6h1.1v1.1h-1.1zM782.2,578.1h1.4v1.4h-1.4zM785.1,583.8h1.6v1.6h-1.6zM792.0,579.7h1.4v1.4h-1.4zM785.9,581.0h1.1v1.1h-1.1zM796.4,589.1h1.3v1.3h-1.3zM787.4,571.5h1.3v1.3h-1.3zM796.3,574.2h1.4v1.4h-1.4zM780.1,583.7h1.0v1.0h-1.0zM788.3,584.9h0.8v0.8h-0.8zM794.2,579.9h1.0v1.0h-1.0zM781.4,580.5h1.4v1.4h-1.4zM778.3,570.8h1.0v1.0h-1.0zM789.2,577.5h1.4v1.4h-1.4zM791.5,576.8h1.3v1.3h-1.3zM777.5,581.6h1.3v1.3h-1.3zM779.7,582.7h0.9v0.9h-0.9zM797.3,580.4h1.5v1.5h-1.5zM790.0,573.7h1.4v1.4h-1.4zM788.7,577.0h1.4v1.4h-1.4zM792.2,583.0h1.0v1.0h-1.0zM797.2,587.6h1.1v1.1h-1.1zM796.2,589.3h1.1v1.1h-1.1zM778.6,574.3h1.2v1.2h-1.2zM777.5,574.1h1.4v1.4h-1.4zM774.4,581.6h1.1v1.1h-1.1zM791.0,574.6h1.2v1.2h-1.2zM779.1,569.7h1.5v1.5h-1.5zM782.8,575.3h1.5v1.5h-1.5zM782.9,580.2h0.9v0.9h-0.9zM783.9,586.9h1.5v1.5h-1.5zM793.6,587.7h1.0v1.0h-1.0zM775.3,572.0h1.3v1.3h-1.3zM787.1,576.8h1.4v1.4h-1.4zM779.3,581.6h1.1v1.1h-1.1zM777.3,584.9h0.9v0.9h-0.9zM793.2,584.6h1.1v1.1h-1.1zM784.9,573.5h0.9v0.9h-0.9zM790.7,576.8h1.3v1.3h-1.3zM782.8,574.7h0.9v0.9h-0.9zM792.3,578.1h0.9v0.9h-0.9zM795.0,572.5h1.0v1.0h-1.0zM777.8,580.6h1.4v1.4h-1.4zM774.7,587.9h1.4v1.4h-1.4zM793.9,577.8h1.1v1.1h-1.1zM776.3,574.6h1.5v1.5h-1.5zM780.8,587.4h1.5v1.5h-1.5zM796.1,572.2h1.1v1.1h-1.1zM794.0,575.6h1.0v1.0h-1.0zM774.5,580.1h1.2v1.2h-1.2zM779.1,574.6h1.3v1.3h-1.3zM778.1,585.1h1.5v1.5h-1.5zM784.1,572.0h1.3v1.3h-1.3zM781.1,571.5h1.4v1.4h-1.4zM787.4,574.8h1.0v1.0h-1.0zM791.4,587.7h1.1v1.1h-1.1zM788.1,573.8h1.2v1.2h-1.2z' fill='#2b2b2b' opacity='1.0'/><path d='M787.9,608.8h1.3v1.3h-1.3zM787.0,603.3h0.9v0.9h-0.9zM783.9,605.5h1.2v1.2h-1.2zM788.2,615.5h1.5v1.5h-1.5zM788.6,618.6h0.9v0.9h-0.9zM795.0,621.9h1.3v1.3h-1.3zM793.9,614.0h1.1v1.1h-1.1zM777.8,612.5h1.4v1.4h-1.4zM793.1,621.2h1.2v1.2h-1.2zM796.7,610.2h0.8v0.8h-0.8zM784.2,613.8h1.4v1.4h-1.4zM779.6,602.9h1.4v1.4h-1.4zM778.6,620.3h1.3v1.3h-1.3zM777.3,613.3h1.4v1.4h-1.4zM779.4,622.5h0.8v0.8h-0.8zM777.6,614.9h1.3v1.3h-1.3zM788.5,621.8h1.0v1.0h-1.0zM775.1,613.7h1.1v1.1h-1.1zM783.5,610.7h1.5v1.5h-1.5zM780.8,616.9h1.3v1.3h-1.3zM780.8,621.6h1.0v1.0h-1.0zM781.2,606.4h1.4v1.4h-1.4zM790.6,610.1h0.9v0.9h-0.9zM788.3,609.5h1.2v1.2h-1.2zM789.7,602.4h0.8v0.8h-0.8zM793.7,620.6h0.9v0.9h-0.9zM779.4,611.4h1.5v1.5h-1.5zM781.4,622.5h0.9v0.9h-0.9zM795.7,603.6h1.3v1.3h-1.3zM797.3,617.6h1.5v1.5h-1.5zM782.4,622.5h1.5v1.5h-1.5zM780.6,618.6h1.5v1.5h-1.5zM779.1,610.6h1.4v1.4h-1.4zM787.8,621.7h1.1v1.1h-1.1zM784.8,605.9h1.0v1.0h-1.0zM795.0,607.9h1.5v1.5h-1.5zM793.3,614.4h1.0v1.0h-1.0zM774.0,604.9h1.5v1.5h-1.5zM797.0,622.6h1.0v1.0h-1.0zM796.5,611.6h1.1v1.1h-1.1zM795.8,619.6h1.3v1.3h-1.3zM780.9,604.6h0.9v0.9h-0.9zM780.3,606.4h1.3v1.3h-1.3zM781.6,606.9h1.5v1.5h-1.5zM782.8,602.5h0.8v0.8h-0.8zM787.2,603.0h1.2v1.2h-1.2zM774.6,612.3h1.3v1.3h-1.3zM787.0,606.9h1.5v1.5h-1.5zM797.3,619.5h1.5v1.5h-1.5zM797.3,610.1h1.2v1.2h-1.2zM783.9,618.9h0.9v0.9h-0.9zM779.4,611.9h1.2v1.2h-1.2zM797.8,609.5h0.8v0.8h-0.8zM783.3,620.8h0.9v0.9h-0.9zM786.4,615.0h1.5v1.5h-1.5zM781.9,615.2h1.6v1.6h-1.6zM797.3,614.3h1.1v1.1h-1.1zM789.6,617.7h1.3v1.3h-1.3zM790.2,610.5h1.4v1.4h-1.4zM782.4,607.3h0.9v0.9h-0.9zM787.3,606.0h1.0v1.0h-1.0zM781.1,610.2h1.1v1.1h-1.1zM797.4,613.5h1.2v1.2h-1.2zM783.6,613.9h1.5v1.5h-1.5zM786.5,613.2h1.1v1.1h-1.1zM778.4,606.9h0.9v0.9h-0.9zM780.8,603.3h1.1v1.1h-1.1zM787.8,604.8h1.4v1.4h-1.4zM784.8,615.5h1.1v1.1h-1.1zM793.1,616.7h0.9v0.9h-0.9z' fill='#2b2b2b' opacity='1.0'/><rect x='799.5' y='570.5' width='46' height='54' rx='4' fill='#fbfbfb' stroke='#2b2b2b' stroke-width='1.5'/><path d='M844.5,575 V621' stroke='#2b2b2b' stroke-width='2.4'/><path d='M803,581 H838' stroke='#2b2b2b' stroke-width='0.8' opacity='0.6'/><path d='M912.4,585.5 H881.5 a10.5,10.5 0 0 0 0,21 H912.4' fill='#f6f6f6' stroke='#2b2b2b' stroke-width='1.5'/><path d='M879,594.5 H911.4 M879,604.5 H911.4' stroke='#2b2b2b' stroke-width='1.8'/><path d='M879,594.5 V604.5' stroke='#2b2b2b' stroke-width='1.2'/><path d='M926.4,553.5 H1136.4 V642.5 H926.4 L912.4,632.5 V563.5 Z' fill='#fbfbfb'/><rect x='914.4' y='598.5' width='221' height='28' fill='#f0f0f0'/><path d='M1035.1,599.1h1.0v1.0h-1.0zM995.9,598.8h0.5v0.5h-0.5zM1131.3,598.2h0.7v0.7h-0.7zM1119.2,597.8h0.8v0.8h-0.8zM1009.6,601.6h1.0v1.0h-1.0zM1128.8,599.4h0.6v0.6h-0.6zM961.8,597.5h0.7v0.7h-0.7zM1050.9,602.9h0.6v0.6h-0.6zM973.4,602.8h0.9v0.9h-0.9zM1002.3,597.9h0.5v0.5h-0.5zM962.2,601.2h0.5v0.5h-0.5zM1025.0,602.4h0.5v0.5h-0.5zM977.6,600.0h0.9v0.9h-0.9zM1076.3,601.6h0.8v0.8h-0.8zM988.8,601.3h0.8v0.8h-0.8zM1118.8,600.7h0.9v0.9h-0.9zM1060.9,600.4h0.8v0.8h-0.8zM1060.4,601.1h1.2v1.2h-1.2zM981.6,600.5h1.2v1.2h-1.2zM1093.6,600.8h0.7v0.7h-0.7zM953.7,600.0h0.8v0.8h-0.8zM1009.5,599.0h0.8v0.8h-0.8zM1040.6,598.1h1.0v1.0h-1.0zM1070.6,598.7h0.7v0.7h-0.7zM922.8,600.3h1.0v1.0h-1.0zM1005.0,601.0h0.9v0.9h-0.9zM924.2,597.8h0.9v0.9h-0.9zM1117.8,601.7h0.8v0.8h-0.8zM971.5,598.3h1.0v1.0h-1.0zM1082.6,599.9h0.6v0.6h-0.6zM975.4,601.7h1.0v1.0h-1.0zM1002.5,602.8h0.8v0.8h-0.8zM919.6,598.7h1.1v1.1h-1.1zM1069.6,598.0h0.7v0.7h-0.7zM1001.2,600.4h0.5v0.5h-0.5zM1117.2,600.7h0.7v0.7h-0.7zM921.3,600.9h1.2v1.2h-1.2zM1072.5,602.7h1.1v1.1h-1.1zM1060.7,597.8h0.7v0.7h-0.7zM1042.4,600.0h0.7v0.7h-0.7zM929.3,602.7h1.0v1.0h-1.0zM980.1,600.3h1.1v1.1h-1.1zM946.1,601.3h0.7v0.7h-0.7zM1113.5,602.3h1.2v1.2h-1.2zM998.6,600.5h0.7v0.7h-0.7zM991.7,603.2h1.2v1.2h-1.2zM1133.1,602.9h0.8v0.8h-0.8zM1059.7,602.9h0.8v0.8h-0.8zM1116.5,602.3h0.7v0.7h-0.7zM993.5,601.6h0.6v0.6h-0.6zM970.7,598.7h0.6v0.6h-0.6zM1114.2,603.5h1.1v1.1h-1.1zM1025.3,602.0h1.0v1.0h-1.0zM1011.5,600.6h0.6v0.6h-0.6zM967.6,599.6h0.7v0.7h-0.7zM1059.4,598.9h0.7v0.7h-0.7zM1106.8,602.2h1.2v1.2h-1.2zM1085.8,598.7h0.8v0.8h-0.8zM1097.9,602.3h0.7v0.7h-0.7zM1020.5,601.0h0.5v0.5h-0.5zM968.0,601.9h1.0v1.0h-1.0zM1012.8,600.9h0.9v0.9h-0.9zM990.5,598.0h1.0v1.0h-1.0zM1084.4,600.1h1.0v1.0h-1.0zM1096.5,601.6h1.1v1.1h-1.1zM1127.0,597.7h1.2v1.2h-1.2zM1013.9,602.2h1.0v1.0h-1.0zM936.1,601.0h0.6v0.6h-0.6zM1075.4,599.5h0.8v0.8h-0.8zM974.4,602.4h0.9v0.9h-0.9zM980.1,601.9h0.6v0.6h-0.6zM1090.8,601.1h1.0v1.0h-1.0zM1050.0,603.4h1.0v1.0h-1.0zM1016.5,601.0h0.9v0.9h-0.9zM977.2,599.3h1.1v1.1h-1.1zM1094.4,603.3h1.0v1.0h-1.0zM1025.5,599.9h1.0v1.0h-1.0zM1057.2,603.2h1.0v1.0h-1.0zM998.8,599.2h0.5v0.5h-0.5zM1086.1,600.1h0.8v0.8h-0.8zM926.0,600.5h1.1v1.1h-1.1zM975.4,602.0h1.0v1.0h-1.0zM1059.6,601.1h0.7v0.7h-0.7zM1062.8,601.0h1.2v1.2h-1.2zM1027.8,599.6h1.1v1.1h-1.1zM1051.8,599.5h1.0v1.0h-1.0zM947.9,598.6h1.1v1.1h-1.1zM1016.3,602.3h0.7v0.7h-0.7zM1018.0,598.9h1.1v1.1h-1.1zM1045.8,599.9h0.8v0.8h-0.8zM960.9,598.8h1.0v1.0h-1.0zM983.1,598.1h0.8v0.8h-0.8zM1014.0,603.4h0.8v0.8h-0.8zM1003.1,603.3h1.0v1.0h-1.0zM1015.3,599.9h0.7v0.7h-0.7zM948.0,600.3h0.9v0.9h-0.9zM937.7,600.4h0.6v0.6h-0.6zM1046.8,599.6h1.0v1.0h-1.0zM1086.6,599.9h0.8v0.8h-0.8zM931.7,598.8h0.9v0.9h-0.9zM1091.9,598.3h1.2v1.2h-1.2zM1115.5,599.7h0.9v0.9h-0.9zM1062.4,599.5h0.8v0.8h-0.8zM1073.2,600.4h0.8v0.8h-0.8zM1038.2,598.2h0.8v0.8h-0.8zM979.2,598.5h0.9v0.9h-0.9zM1068.9,600.7h0.8v0.8h-0.8zM1061.8,600.0h1.2v1.2h-1.2zM961.5,597.5h0.9v0.9h-0.9zM1067.4,599.8h0.8v0.8h-0.8zM989.8,599.0h1.1v1.1h-1.1zM1104.3,599.2h0.9v0.9h-0.9zM1015.5,598.3h1.0v1.0h-1.0zM1031.4,603.4h1.1v1.1h-1.1zM1113.1,599.1h0.6v0.6h-0.6zM1092.6,598.1h1.0v1.0h-1.0zM953.0,601.7h0.5v0.5h-0.5zM933.7,602.7h0.9v0.9h-0.9zM1013.5,603.3h1.0v1.0h-1.0zM964.1,601.7h0.8v0.8h-0.8zM1016.5,599.4h0.7v0.7h-0.7zM981.0,599.1h0.6v0.6h-0.6zM1106.6,599.8h0.9v0.9h-0.9zM1092.9,601.6h0.6v0.6h-0.6zM1124.0,603.1h1.1v1.1h-1.1zM986.9,602.5h0.9v0.9h-0.9zM921.3,599.8h1.0v1.0h-1.0zM1034.1,603.2h1.1v1.1h-1.1zM1098.4,603.4h0.7v0.7h-0.7zM1114.1,597.5h1.1v1.1h-1.1zM933.7,600.5h0.8v0.8h-0.8zM930.2,601.3h1.1v1.1h-1.1zM963.6,599.0h1.0v1.0h-1.0zM1030.7,597.6h0.7v0.7h-0.7zM1122.0,599.2h0.7v0.7h-0.7zM1013.6,602.8h1.1v1.1h-1.1zM999.1,601.5h0.5v0.5h-0.5zM928.7,599.7h0.9v0.9h-0.9zM945.3,597.8h1.1v1.1h-1.1zM955.3,597.8h0.6v0.6h-0.6zM931.8,599.2h0.9v0.9h-0.9zM1058.8,599.2h0.9v0.9h-0.9zM987.5,601.0h0.6v0.6h-0.6zM1051.7,597.5h1.1v1.1h-1.1zM960.4,600.8h0.6v0.6h-0.6zM1012.2,599.1h0.9v0.9h-0.9zM1085.8,602.6h1.2v1.2h-1.2zM1014.6,600.8h0.7v0.7h-0.7zM977.8,600.5h1.2v1.2h-1.2zM926.6,602.0h0.7v0.7h-0.7zM1045.9,599.1h1.0v1.0h-1.0zM1023.6,599.4h0.8v0.8h-0.8zM915.4,598.1h1.1v1.1h-1.1zM932.5,599.9h1.0v1.0h-1.0zM922.4,603.1h0.6v0.6h-0.6zM1126.1,600.1h0.9v0.9h-0.9zM1047.2,598.0h0.9v0.9h-0.9zM1079.3,602.2h1.0v1.0h-1.0zM1064.1,598.3h0.8v0.8h-0.8zM1026.4,597.7h1.0v1.0h-1.0zM936.9,600.9h0.7v0.7h-0.7zM950.3,603.2h0.9v0.9h-0.9zM1075.6,601.1h0.9v0.9h-0.9zM1106.4,597.9h0.8v0.8h-0.8zM962.6,601.1h0.8v0.8h-0.8zM1117.0,598.9h0.7v0.7h-0.7zM1116.2,601.8h0.8v0.8h-0.8zM996.6,601.9h0.6v0.6h-0.6zM1073.2,598.9h1.1v1.1h-1.1zM930.7,603.0h1.1v1.1h-1.1zM919.8,598.5h1.1v1.1h-1.1zM1094.6,599.3h1.1v1.1h-1.1zM1042.0,599.0h1.0v1.0h-1.0zM1005.7,598.4h1.1v1.1h-1.1zM1072.2,599.0h0.8v0.8h-0.8zM1064.6,599.7h0.7v0.7h-0.7zM1030.2,603.2h0.6v0.6h-0.6zM969.8,600.4h1.2v1.2h-1.2zM1132.8,597.6h0.9v0.9h-0.9zM944.8,598.7h0.6v0.6h-0.6zM1024.4,603.5h1.2v1.2h-1.2zM995.2,602.9h1.0v1.0h-1.0zM930.7,602.9h0.7v0.7h-0.7zM1129.7,598.3h1.1v1.1h-1.1zM1027.2,600.6h0.6v0.6h-0.6zM1021.8,602.1h0.9v0.9h-0.9zM1130.1,600.7h1.1v1.1h-1.1zM943.8,601.9h0.9v0.9h-0.9zM1108.6,599.5h0.8v0.8h-0.8zM1093.2,599.0h0.8v0.8h-0.8zM1100.6,601.4h0.8v0.8h-0.8zM917.8,602.1h0.8v0.8h-0.8zM966.7,599.8h0.6v0.6h-0.6zM1099.4,602.3h1.2v1.2h-1.2zM1062.7,598.5h0.8v0.8h-0.8zM1133.4,597.5h0.7v0.7h-0.7zM947.2,598.5h0.7v0.7h-0.7zM1050.6,597.9h1.1v1.1h-1.1zM1009.0,598.5h0.6v0.6h-0.6zM1029.8,599.6h0.9v0.9h-0.9zM938.1,599.6h0.9v0.9h-0.9zM932.9,600.5h1.1v1.1h-1.1zM1044.2,598.3h0.9v0.9h-0.9zM932.6,598.4h0.5v0.5h-0.5zM1031.1,598.6h0.7v0.7h-0.7zM940.9,602.9h0.6v0.6h-0.6zM1062.8,602.3h0.8v0.8h-0.8zM1042.6,599.5h1.1v1.1h-1.1zM1065.2,598.0h1.0v1.0h-1.0zM945.4,600.4h0.6v0.6h-0.6zM1021.0,601.4h1.0v1.0h-1.0zM986.0,597.8h0.8v0.8h-0.8zM1115.6,600.8h0.9v0.9h-0.9zM1082.8,601.3h1.2v1.2h-1.2zM1124.4,601.9h1.1v1.1h-1.1zM945.6,599.1h1.0v1.0h-1.0zM1042.1,602.7h1.0v1.0h-1.0zM987.3,598.5h1.0v1.0h-1.0zM938.8,600.5h0.7v0.7h-0.7zM1002.7,601.4h0.9v0.9h-0.9zM1050.2,597.9h1.1v1.1h-1.1zM1069.5,602.9h0.9v0.9h-0.9zM1056.6,602.8h1.0v1.0h-1.0zM1054.0,597.7h0.5v0.5h-0.5zM1072.1,602.6h0.8v0.8h-0.8zM960.7,600.1h1.1v1.1h-1.1zM1080.6,598.3h0.6v0.6h-0.6zM960.1,602.0h0.7v0.7h-0.7zM1109.9,600.0h0.6v0.6h-0.6zM1005.8,598.3h1.1v1.1h-1.1zM919.5,600.0h0.8v0.8h-0.8zM922.9,598.8h1.2v1.2h-1.2zM1103.4,600.0h1.1v1.1h-1.1zM1114.2,602.6h1.0v1.0h-1.0zM1039.2,600.6h1.0v1.0h-1.0zM1046.7,603.3h0.6v0.6h-0.6zM1112.1,602.0h0.8v0.8h-0.8zM1101.0,599.2h0.8v0.8h-0.8zM1041.3,603.3h0.7v0.7h-0.7zM1100.8,601.4h1.1v1.1h-1.1zM980.4,601.5h1.1v1.1h-1.1zM1108.9,601.7h1.1v1.1h-1.1zM1053.9,600.8h0.6v0.6h-0.6zM1028.5,603.4h1.2v1.2h-1.2zM923.7,599.3h0.7v0.7h-0.7zM1099.7,598.6h1.0v1.0h-1.0zM957.6,599.5h1.2v1.2h-1.2zM942.0,601.0h0.7v0.7h-0.7zM1080.7,597.9h1.0v1.0h-1.0zM971.1,603.2h0.7v0.7h-0.7zM1061.6,597.7h1.2v1.2h-1.2zM1053.8,603.0h1.0v1.0h-1.0zM927.7,602.0h0.8v0.8h-0.8zM958.6,602.8h1.0v1.0h-1.0zM991.2,597.9h1.0v1.0h-1.0zM927.5,598.9h0.5v0.5h-0.5zM952.3,602.0h0.7v0.7h-0.7zM1131.4,599.2h1.1v1.1h-1.1zM1076.3,601.4h0.9v0.9h-0.9zM945.2,602.5h1.1v1.1h-1.1zM1031.2,598.6h0.6v0.6h-0.6zM970.7,603.3h0.7v0.7h-0.7zM976.1,600.7h0.5v0.5h-0.5zM1088.1,602.2h0.7v0.7h-0.7zM921.0,602.9h1.1v1.1h-1.1zM1082.5,598.8h1.2v1.2h-1.2zM1055.4,597.7h1.2v1.2h-1.2zM1068.0,598.6h1.1v1.1h-1.1zM1045.8,601.3h0.5v0.5h-0.5zM961.4,602.3h0.5v0.5h-0.5zM957.0,597.9h0.9v0.9h-0.9zM944.7,602.2h0.8v0.8h-0.8zM1086.5,603.0h1.2v1.2h-1.2zM956.6,599.7h1.1v1.1h-1.1zM987.5,603.1h0.7v0.7h-0.7zM1052.3,599.0h1.0v1.0h-1.0zM976.8,600.0h1.0v1.0h-1.0zM1096.6,598.3h0.6v0.6h-0.6zM961.0,602.1h1.0v1.0h-1.0zM1072.2,602.3h0.7v0.7h-0.7zM1023.6,597.5h0.7v0.7h-0.7zM1046.6,599.1h1.1v1.1h-1.1zM961.1,600.2h1.0v1.0h-1.0zM963.2,601.5h0.8v0.8h-0.8zM925.1,598.1h1.0v1.0h-1.0zM1095.4,601.6h1.1v1.1h-1.1zM1060.8,602.2h1.1v1.1h-1.1zM1045.4,600.7h0.6v0.6h-0.6zM966.4,598.0h0.6v0.6h-0.6zM1000.6,599.3h0.9v0.9h-0.9zM1096.6,599.1h1.1v1.1h-1.1zM1097.9,598.7h0.9v0.9h-0.9zM957.8,597.9h0.7v0.7h-0.7zM959.3,597.5h0.5v0.5h-0.5zM1092.0,602.7h1.1v1.1h-1.1zM930.6,597.6h1.1v1.1h-1.1zM996.8,599.6h1.0v1.0h-1.0zM1031.1,599.5h0.6v0.6h-0.6zM939.7,601.8h1.1v1.1h-1.1zM922.8,598.8h0.9v0.9h-0.9zM973.0,600.4h0.9v0.9h-0.9zM972.4,598.2h0.8v0.8h-0.8zM1092.8,598.3h0.9v0.9h-0.9zM1092.7,600.9h0.7v0.7h-0.7zM1118.6,602.2h1.2v1.2h-1.2zM980.4,600.4h0.8v0.8h-0.8zM1099.3,601.2h0.9v0.9h-0.9zM1027.6,602.8h0.7v0.7h-0.7zM943.3,598.6h0.7v0.7h-0.7zM935.5,603.4h0.9v0.9h-0.9zM1089.9,600.2h0.9v0.9h-0.9zM964.0,602.8h0.8v0.8h-0.8zM1003.7,602.0h1.1v1.1h-1.1zM1133.8,600.4h0.8v0.8h-0.8zM1096.1,600.0h0.6v0.6h-0.6zM1019.5,599.3h0.7v0.7h-0.7zM1084.4,599.6h0.9v0.9h-0.9zM981.0,598.2h1.0v1.0h-1.0zM1084.9,601.7h0.9v0.9h-0.9zM952.7,600.5h1.1v1.1h-1.1zM1086.9,601.0h0.9v0.9h-0.9zM951.9,597.8h1.1v1.1h-1.1zM918.4,599.0h0.8v0.8h-0.8zM1068.4,601.7h1.1v1.1h-1.1zM1119.0,599.1h0.7v0.7h-0.7zM941.3,599.5h0.6v0.6h-0.6zM1125.9,600.9h0.8v0.8h-0.8zM927.0,603.0h0.7v0.7h-0.7zM1083.7,598.7h0.7v0.7h-0.7zM944.6,600.7h0.7v0.7h-0.7zM1040.1,601.8h0.7v0.7h-0.7zM943.4,600.6h0.8v0.8h-0.8zM1012.7,599.7h0.6v0.6h-0.6zM941.4,601.9h0.9v0.9h-0.9zM1065.7,601.3h0.9v0.9h-0.9zM957.6,603.0h0.9v0.9h-0.9zM1015.2,599.1h0.8v0.8h-0.8zM1130.2,599.9h1.1v1.1h-1.1zM941.8,601.1h0.7v0.7h-0.7zM965.9,599.3h0.8v0.8h-0.8zM1056.0,599.9h1.1v1.1h-1.1zM948.5,602.6h0.8v0.8h-0.8zM1088.8,599.9h0.7v0.7h-0.7zM1111.2,601.3h1.0v1.0h-1.0zM1029.4,601.8h1.2v1.2h-1.2zM1077.4,603.3h0.7v0.7h-0.7zM979.9,602.8h1.1v1.1h-1.1zM1109.9,600.1h0.8v0.8h-0.8zM1122.8,598.7h0.6v0.6h-0.6zM952.2,599.3h0.8v0.8h-0.8zM998.7,600.3h0.5v0.5h-0.5zM989.6,600.5h0.5v0.5h-0.5zM1020.3,602.9h1.0v1.0h-1.0zM1122.5,602.7h0.8v0.8h-0.8zM919.0,597.9h0.9v0.9h-0.9zM1099.8,599.5h0.6v0.6h-0.6zM1081.4,600.7h0.8v0.8h-0.8zM942.5,600.8h0.9v0.9h-0.9zM1070.7,602.9h0.6v0.6h-0.6zM1097.2,599.4h0.8v0.8h-0.8zM990.1,602.3h0.8v0.8h-0.8zM930.1,600.3h0.6v0.6h-0.6zM917.9,597.8h0.8v0.8h-0.8zM1013.6,597.5h0.6v0.6h-0.6zM1112.8,600.8h1.2v1.2h-1.2zM1033.7,603.2h1.0v1.0h-1.0zM999.6,597.8h0.6v0.6h-0.6zM1088.7,601.5h0.7v0.7h-0.7zM950.3,601.3h1.2v1.2h-1.2zM969.0,603.5h0.9v0.9h-0.9zM960.2,598.6h1.0v1.0h-1.0zM1118.6,598.7h0.7v0.7h-0.7zM945.9,598.8h0.7v0.7h-0.7zM1006.2,598.9h1.0v1.0h-1.0zM967.2,599.1h0.8v0.8h-0.8zM951.6,597.8h0.6v0.6h-0.6zM915.5,601.5h0.5v0.5h-0.5zM1019.9,602.8h0.9v0.9h-0.9zM981.8,599.9h0.8v0.8h-0.8zM985.0,597.8h0.6v0.6h-0.6zM945.9,598.7h0.7v0.7h-0.7zM937.0,601.2h0.6v0.6h-0.6zM1026.7,601.7h0.8v0.8h-0.8zM1077.4,602.2h0.8v0.8h-0.8zM961.1,597.8h1.0v1.0h-1.0zM995.3,599.2h0.6v0.6h-0.6zM954.0,602.8h0.8v0.8h-0.8zM1100.8,602.6h0.7v0.7h-0.7zM964.1,602.8h0.7v0.7h-0.7zM1046.0,603.1h0.8v0.8h-0.8zM1007.8,603.2h1.1v1.1h-1.1zM1118.3,601.7h0.7v0.7h-0.7zM925.0,597.6h1.1v1.1h-1.1zM1033.8,602.8h1.2v1.2h-1.2zM966.6,603.3h0.7v0.7h-0.7zM953.8,599.1h1.2v1.2h-1.2zM1121.1,599.6h0.8v0.8h-0.8zM1095.6,602.3h1.1v1.1h-1.1zM994.1,598.9h0.9v0.9h-0.9zM1119.9,601.2h1.1v1.1h-1.1zM957.6,600.5h1.1v1.1h-1.1zM1040.0,602.3h1.1v1.1h-1.1zM1011.8,601.6h1.0v1.0h-1.0zM1011.1,600.6h1.1v1.1h-1.1zM1108.4,603.4h0.8v0.8h-0.8zM1063.2,600.8h1.1v1.1h-1.1zM967.3,600.3h0.7v0.7h-0.7zM1091.1,601.8h0.5v0.5h-0.5zM938.3,598.3h0.9v0.9h-0.9zM1084.9,599.6h0.6v0.6h-0.6zM1043.2,601.2h0.8v0.8h-0.8zM974.0,599.6h0.7v0.7h-0.7zM1093.2,599.8h1.0v1.0h-1.0zM1035.2,598.9h0.7v0.7h-0.7zM1061.9,602.7h1.1v1.1h-1.1zM948.3,599.1h0.6v0.6h-0.6zM956.0,599.8h1.0v1.0h-1.0zM1115.9,601.0h0.6v0.6h-0.6zM997.2,598.4h0.7v0.7h-0.7zM1040.8,600.5h0.6v0.6h-0.6zM975.1,602.9h0.9v0.9h-0.9zM1046.7,599.4h0.7v0.7h-0.7zM1081.9,597.6h1.0v1.0h-1.0zM1124.8,601.3h0.5v0.5h-0.5zM921.8,602.2h0.6v0.6h-0.6zM1007.2,601.4h1.0v1.0h-1.0zM977.7,601.6h1.1v1.1h-1.1zM1017.4,599.9h1.0v1.0h-1.0zM1106.5,601.6h1.1v1.1h-1.1zM1086.3,603.2h0.7v0.7h-0.7zM1062.5,598.8h0.6v0.6h-0.6zM989.5,603.2h0.7v0.7h-0.7zM982.3,603.1h1.2v1.2h-1.2zM1081.0,599.6h1.1v1.1h-1.1zM928.8,597.6h0.5v0.5h-0.5zM988.0,598.9h1.1v1.1h-1.1zM1012.7,602.6h0.8v0.8h-0.8zM996.3,599.5h0.5v0.5h-0.5zM1014.4,603.2h1.2v1.2h-1.2zM1119.4,598.1h0.8v0.8h-0.8zM1097.9,598.4h0.5v0.5h-0.5zM959.7,598.0h1.0v1.0h-1.0zM1071.2,603.4h0.5v0.5h-0.5zM1069.0,602.3h0.6v0.6h-0.6zM931.8,603.4h1.1v1.1h-1.1zM929.6,598.6h1.0v1.0h-1.0zM952.0,600.1h0.6v0.6h-0.6zM934.6,600.4h0.9v0.9h-0.9zM1100.8,597.5h0.7v0.7h-0.7zM930.3,600.8h0.6v0.6h-0.6zM987.2,603.3h1.0v1.0h-1.0zM1061.5,601.1h0.6v0.6h-0.6zM1065.0,603.3h0.6v0.6h-0.6zM1099.0,599.6h0.6v0.6h-0.6zM1058.5,602.6h0.6v0.6h-0.6zM957.8,600.5h0.6v0.6h-0.6zM1025.9,603.4h0.5v0.5h-0.5zM1008.5,598.7h0.6v0.6h-0.6zM1043.9,603.2h0.8v0.8h-0.8zM1037.3,601.7h1.1v1.1h-1.1zM1127.1,599.5h0.6v0.6h-0.6zM1116.0,601.1h1.1v1.1h-1.1zM946.7,602.2h0.6v0.6h-0.6zM943.4,598.2h0.8v0.8h-0.8zM1005.8,601.4h1.2v1.2h-1.2zM1008.9,601.0h0.8v0.8h-0.8zM998.6,599.1h0.5v0.5h-0.5zM970.7,601.8h1.1v1.1h-1.1zM1065.3,600.1h0.8v0.8h-0.8zM956.0,599.0h1.2v1.2h-1.2zM1043.7,599.9h0.9v0.9h-0.9zM1022.8,599.3h0.8v0.8h-0.8zM1009.1,602.9h1.1v1.1h-1.1zM977.8,600.2h0.7v0.7h-0.7zM1124.0,598.3h0.8v0.8h-0.8zM917.1,600.3h0.8v0.8h-0.8zM917.5,598.4h0.8v0.8h-0.8zM1018.7,599.3h0.5v0.5h-0.5zM985.7,599.6h0.6v0.6h-0.6zM1046.3,598.8h0.9v0.9h-0.9zM1070.6,597.6h0.8v0.8h-0.8zM1054.6,602.9h1.0v1.0h-1.0zM1098.7,601.5h0.7v0.7h-0.7zM1093.4,602.0h0.8v0.8h-0.8zM1118.0,597.8h1.1v1.1h-1.1zM993.0,600.8h1.1v1.1h-1.1zM951.2,600.5h0.5v0.5h-0.5zM922.4,603.2h0.7v0.7h-0.7zM1008.3,598.2h1.2v1.2h-1.2zM1025.9,602.6h0.7v0.7h-0.7zM1016.3,599.0h0.9v0.9h-0.9zM1070.0,600.9h0.9v0.9h-0.9zM982.6,603.2h0.5v0.5h-0.5zM951.0,601.5h1.2v1.2h-1.2zM1100.8,599.0h1.2v1.2h-1.2zM1014.9,600.9h1.0v1.0h-1.0zM1050.3,602.8h1.1v1.1h-1.1zM983.9,602.9h0.7v0.7h-0.7zM1064.8,598.4h0.9v0.9h-0.9zM980.5,603.5h1.0v1.0h-1.0zM999.6,603.3h0.6v0.6h-0.6zM1078.7,601.4h0.5v0.5h-0.5zM1015.6,598.2h1.2v1.2h-1.2zM936.3,601.3h0.9v0.9h-0.9zM941.9,603.1h0.9v0.9h-0.9zM1050.4,599.1h0.6v0.6h-0.6zM986.1,597.7h0.6v0.6h-0.6zM1023.5,599.8h1.0v1.0h-1.0zM945.6,598.7h0.9v0.9h-0.9zM1065.6,599.4h0.6v0.6h-0.6zM941.9,599.7h0.8v0.8h-0.8zM1089.7,598.9h0.7v0.7h-0.7zM1078.3,598.7h0.5v0.5h-0.5zM1128.3,603.0h0.7v0.7h-0.7zM976.7,600.3h0.6v0.6h-0.6zM1087.4,602.8h1.0v1.0h-1.0zM1002.3,602.5h1.2v1.2h-1.2zM954.8,601.5h0.6v0.6h-0.6zM1131.4,602.3h0.8v0.8h-0.8zM1077.4,599.3h0.5v0.5h-0.5zM1027.4,598.0h0.8v0.8h-0.8zM1102.0,601.0h0.7v0.7h-0.7zM961.1,600.8h0.9v0.9h-0.9zM1113.2,598.5h0.8v0.8h-0.8zM1012.9,599.8h0.6v0.6h-0.6zM998.7,600.8h0.6v0.6h-0.6zM984.9,600.7h1.2v1.2h-1.2zM1020.6,599.6h0.5v0.5h-0.5z' fill='#2b2b2b' opacity='0.75'/><path d='M1028.4,623.2h0.6v0.6h-0.6zM1018.7,624.6h0.7v0.7h-0.7zM1076.1,624.7h0.5v0.5h-0.5zM925.2,624.1h0.9v0.9h-0.9zM1036.9,622.6h0.7v0.7h-0.7zM1072.3,623.5h0.8v0.8h-0.8zM964.7,624.6h0.8v0.8h-0.8zM915.0,625.3h1.0v1.0h-1.0zM1131.5,626.2h0.9v0.9h-0.9zM1017.1,622.8h0.9v0.9h-0.9zM1006.5,623.1h0.6v0.6h-0.6zM1047.6,625.1h1.0v1.0h-1.0zM948.0,622.5h0.9v0.9h-0.9zM942.9,625.9h1.1v1.1h-1.1zM1053.2,622.8h0.8v0.8h-0.8zM1083.0,623.2h0.9v0.9h-0.9zM1046.7,626.0h1.0v1.0h-1.0zM1061.6,624.2h1.0v1.0h-1.0zM1047.0,624.9h0.7v0.7h-0.7zM938.0,624.3h0.6v0.6h-0.6zM1127.7,622.6h1.0v1.0h-1.0zM987.7,622.5h0.8v0.8h-0.8zM985.3,626.5h0.9v0.9h-0.9zM936.6,623.1h0.6v0.6h-0.6zM1023.0,624.1h0.7v0.7h-0.7zM1062.4,623.7h1.0v1.0h-1.0zM1063.8,622.8h1.0v1.0h-1.0zM920.9,622.7h0.5v0.5h-0.5zM1123.7,624.2h1.0v1.0h-1.0zM1132.2,622.0h1.0v1.0h-1.0zM919.0,625.0h1.0v1.0h-1.0zM999.0,626.0h1.0v1.0h-1.0zM1023.9,622.9h0.6v0.6h-0.6zM931.2,624.2h0.8v0.8h-0.8zM955.7,624.2h0.5v0.5h-0.5zM980.8,624.8h0.6v0.6h-0.6zM1029.5,622.2h1.0v1.0h-1.0zM960.9,626.2h1.1v1.1h-1.1zM1126.6,622.9h0.9v0.9h-0.9zM929.8,626.4h0.9v0.9h-0.9zM922.5,622.2h0.6v0.6h-0.6zM990.9,626.2h1.0v1.0h-1.0zM986.1,625.5h0.5v0.5h-0.5zM1034.3,623.4h0.5v0.5h-0.5zM1116.7,624.8h1.1v1.1h-1.1zM1055.2,624.6h0.6v0.6h-0.6zM1019.2,626.0h0.8v0.8h-0.8zM1054.8,623.8h0.7v0.7h-0.7zM917.0,622.6h0.6v0.6h-0.6zM934.5,621.8h1.0v1.0h-1.0zM1133.4,625.0h1.0v1.0h-1.0zM960.5,625.7h0.7v0.7h-0.7zM1102.4,622.7h0.7v0.7h-0.7zM1030.3,622.6h0.7v0.7h-0.7zM1074.3,625.4h1.1v1.1h-1.1zM1058.4,623.3h0.8v0.8h-0.8zM1043.3,624.5h1.1v1.1h-1.1zM1039.2,626.3h0.8v0.8h-0.8zM1012.6,621.6h0.7v0.7h-0.7zM1020.6,621.6h0.8v0.8h-0.8zM939.9,622.8h1.0v1.0h-1.0zM1115.8,622.1h0.9v0.9h-0.9zM1021.4,621.8h0.7v0.7h-0.7zM1031.9,623.6h0.8v0.8h-0.8zM928.9,624.6h0.9v0.9h-0.9zM956.1,624.3h1.1v1.1h-1.1zM1110.4,624.6h0.8v0.8h-0.8zM1079.3,623.8h0.9v0.9h-0.9zM996.4,624.3h0.9v0.9h-0.9zM1043.1,624.5h0.7v0.7h-0.7zM991.4,624.8h0.8v0.8h-0.8zM1011.4,623.4h0.7v0.7h-0.7zM1052.1,625.9h0.6v0.6h-0.6zM1057.3,624.2h0.9v0.9h-0.9zM1060.3,623.5h0.5v0.5h-0.5zM994.3,624.1h0.9v0.9h-0.9zM1118.3,624.8h0.9v0.9h-0.9zM991.5,625.5h0.6v0.6h-0.6zM1109.1,623.9h0.8v0.8h-0.8zM1066.7,624.2h1.1v1.1h-1.1zM940.9,621.8h0.9v0.9h-0.9zM964.2,622.6h1.1v1.1h-1.1zM1030.8,623.0h0.7v0.7h-0.7zM964.0,622.8h0.6v0.6h-0.6zM1129.2,625.2h0.7v0.7h-0.7zM938.3,626.4h1.0v1.0h-1.0zM935.3,625.8h0.8v0.8h-0.8zM1131.1,623.7h0.8v0.8h-0.8zM916.2,624.4h0.6v0.6h-0.6zM1108.2,622.6h1.0v1.0h-1.0zM987.8,625.5h0.9v0.9h-0.9zM1119.7,624.4h0.7v0.7h-0.7zM972.2,622.7h0.6v0.6h-0.6zM980.2,623.1h1.0v1.0h-1.0zM915.9,624.0h0.8v0.8h-0.8zM949.2,625.0h0.6v0.6h-0.6zM1077.9,622.3h1.0v1.0h-1.0zM983.1,622.0h0.6v0.6h-0.6zM959.3,622.2h0.7v0.7h-0.7zM1127.9,623.4h0.7v0.7h-0.7zM1080.1,621.9h0.6v0.6h-0.6zM1105.8,623.1h0.6v0.6h-0.6zM954.8,625.2h1.1v1.1h-1.1zM1002.1,625.1h0.8v0.8h-0.8zM959.2,623.1h0.7v0.7h-0.7zM969.5,625.5h0.6v0.6h-0.6zM999.4,625.2h0.5v0.5h-0.5zM1126.4,624.6h0.9v0.9h-0.9zM956.7,622.5h1.0v1.0h-1.0zM1128.9,621.6h1.0v1.0h-1.0zM958.4,621.9h0.9v0.9h-0.9zM935.3,625.7h1.0v1.0h-1.0zM977.3,622.2h0.8v0.8h-0.8zM1079.3,621.7h0.9v0.9h-0.9zM941.6,623.4h0.6v0.6h-0.6zM932.2,624.2h0.7v0.7h-0.7zM1114.8,626.0h0.9v0.9h-0.9zM1027.0,624.7h0.7v0.7h-0.7zM1017.6,624.2h0.8v0.8h-0.8zM1012.2,625.8h1.1v1.1h-1.1zM1076.3,625.8h0.7v0.7h-0.7zM930.8,622.6h0.8v0.8h-0.8zM1082.6,625.2h1.0v1.0h-1.0zM1085.8,623.0h0.5v0.5h-0.5zM1020.5,623.1h1.0v1.0h-1.0zM1113.6,624.2h1.0v1.0h-1.0zM1074.3,624.1h0.8v0.8h-0.8zM1124.1,625.5h0.8v0.8h-0.8zM1131.5,622.2h1.0v1.0h-1.0zM1035.4,623.1h0.6v0.6h-0.6zM1042.2,625.8h0.6v0.6h-0.6zM1112.1,626.4h0.6v0.6h-0.6zM1035.9,623.9h0.7v0.7h-0.7zM940.7,622.8h1.1v1.1h-1.1zM1099.2,626.3h0.8v0.8h-0.8zM1024.2,621.8h0.8v0.8h-0.8zM1042.3,626.5h0.5v0.5h-0.5zM1058.9,621.7h1.1v1.1h-1.1zM958.8,625.0h0.9v0.9h-0.9zM959.7,623.8h0.8v0.8h-0.8zM953.7,623.5h0.5v0.5h-0.5zM1070.1,626.4h0.8v0.8h-0.8zM1002.3,624.1h0.6v0.6h-0.6zM1077.0,625.0h0.6v0.6h-0.6zM997.5,622.1h0.9v0.9h-0.9zM917.7,625.9h0.5v0.5h-0.5zM1098.2,622.5h0.8v0.8h-0.8zM1070.9,626.2h1.0v1.0h-1.0zM947.9,625.1h0.8v0.8h-0.8zM951.2,623.8h1.1v1.1h-1.1zM918.7,625.0h0.8v0.8h-0.8zM1108.5,623.9h0.6v0.6h-0.6zM1101.6,622.0h0.9v0.9h-0.9zM979.0,621.8h0.6v0.6h-0.6zM1101.4,622.3h1.1v1.1h-1.1zM946.8,626.1h0.5v0.5h-0.5zM1059.4,624.2h0.9v0.9h-0.9zM1117.9,622.6h1.1v1.1h-1.1zM1039.7,625.5h0.7v0.7h-0.7zM1133.8,625.1h0.8v0.8h-0.8zM962.2,625.9h0.8v0.8h-0.8zM1132.1,625.9h0.9v0.9h-0.9zM1073.2,622.3h1.0v1.0h-1.0zM1071.6,622.0h0.5v0.5h-0.5zM936.7,622.6h1.0v1.0h-1.0zM1083.2,625.0h0.7v0.7h-0.7zM1120.8,622.3h0.6v0.6h-0.6zM1011.4,622.8h0.9v0.9h-0.9zM1098.0,625.2h0.7v0.7h-0.7zM1042.0,623.1h0.8v0.8h-0.8zM1031.2,622.3h1.0v1.0h-1.0zM1093.1,625.4h0.6v0.6h-0.6zM965.8,625.2h1.0v1.0h-1.0zM1050.3,626.2h0.8v0.8h-0.8zM964.3,623.9h0.7v0.7h-0.7zM998.2,625.4h0.7v0.7h-0.7zM1071.2,624.5h0.5v0.5h-0.5zM1026.7,625.8h0.9v0.9h-0.9zM1101.7,624.7h1.1v1.1h-1.1zM922.9,623.6h0.6v0.6h-0.6zM1080.8,623.0h0.9v0.9h-0.9zM1058.6,621.6h0.9v0.9h-0.9zM986.8,622.8h0.9v0.9h-0.9zM1053.4,622.6h0.9v0.9h-0.9zM930.9,621.8h1.0v1.0h-1.0zM1118.6,626.2h1.1v1.1h-1.1zM1077.4,624.3h0.8v0.8h-0.8zM1032.1,626.2h1.1v1.1h-1.1zM1010.3,622.5h0.8v0.8h-0.8zM1007.5,625.5h1.1v1.1h-1.1zM1050.8,621.9h0.8v0.8h-0.8zM942.7,624.2h1.0v1.0h-1.0zM1062.5,623.8h0.6v0.6h-0.6zM1119.3,625.9h0.8v0.8h-0.8zM925.9,624.9h0.7v0.7h-0.7zM1001.8,623.4h0.7v0.7h-0.7zM945.3,624.8h0.8v0.8h-0.8zM1009.2,625.3h0.8v0.8h-0.8zM950.0,622.8h0.8v0.8h-0.8zM1061.0,624.7h0.9v0.9h-0.9zM993.1,625.3h0.8v0.8h-0.8zM970.4,622.1h0.9v0.9h-0.9zM1100.8,626.3h1.0v1.0h-1.0zM1095.4,624.4h0.6v0.6h-0.6zM979.6,625.8h0.7v0.7h-0.7zM1020.9,624.2h0.5v0.5h-0.5zM938.9,622.5h1.0v1.0h-1.0zM1087.2,621.9h0.6v0.6h-0.6zM1131.4,622.3h1.0v1.0h-1.0zM1043.4,625.9h0.9v0.9h-0.9zM935.8,625.3h0.9v0.9h-0.9zM923.6,626.2h0.7v0.7h-0.7zM1016.6,624.1h0.8v0.8h-0.8zM1039.8,621.8h1.0v1.0h-1.0zM1029.5,622.0h0.8v0.8h-0.8zM956.0,623.7h0.9v0.9h-0.9zM1080.2,622.3h0.7v0.7h-0.7zM1127.5,624.6h0.6v0.6h-0.6zM1048.5,622.7h0.5v0.5h-0.5zM1059.2,622.1h0.6v0.6h-0.6zM1063.6,626.3h0.5v0.5h-0.5zM1079.2,622.2h0.5v0.5h-0.5zM918.1,621.6h0.9v0.9h-0.9zM1114.0,621.6h0.6v0.6h-0.6zM924.8,623.5h0.7v0.7h-0.7zM956.7,625.6h0.6v0.6h-0.6zM1053.5,622.2h0.9v0.9h-0.9zM942.9,622.5h1.1v1.1h-1.1zM973.0,623.8h0.9v0.9h-0.9zM1134.2,624.2h0.6v0.6h-0.6zM1061.5,624.9h0.9v0.9h-0.9zM999.1,625.6h0.5v0.5h-0.5zM1034.6,624.2h1.1v1.1h-1.1zM1085.9,622.7h0.7v0.7h-0.7zM1045.5,623.4h0.5v0.5h-0.5zM1132.8,623.8h0.6v0.6h-0.6zM948.0,621.6h1.0v1.0h-1.0zM945.2,624.3h1.1v1.1h-1.1zM1083.4,624.5h0.7v0.7h-0.7zM1062.6,625.5h0.6v0.6h-0.6zM964.7,623.6h0.9v0.9h-0.9zM1110.1,624.5h0.7v0.7h-0.7zM1074.0,622.3h0.6v0.6h-0.6zM916.5,624.4h0.8v0.8h-0.8zM1016.6,624.3h0.6v0.6h-0.6zM960.7,624.4h0.7v0.7h-0.7zM1024.2,626.1h0.8v0.8h-0.8zM1078.1,621.8h0.8v0.8h-0.8zM926.3,622.5h0.6v0.6h-0.6zM998.9,622.3h1.1v1.1h-1.1zM980.5,623.0h0.5v0.5h-0.5zM995.6,625.4h0.8v0.8h-0.8zM1111.0,624.6h0.9v0.9h-0.9zM1008.3,625.7h0.8v0.8h-0.8zM945.1,622.6h1.0v1.0h-1.0zM927.1,622.4h0.9v0.9h-0.9zM1064.5,623.8h0.9v0.9h-0.9zM1006.8,624.4h0.5v0.5h-0.5zM1005.1,626.4h0.8v0.8h-0.8zM989.4,624.6h1.1v1.1h-1.1zM1016.8,623.6h1.0v1.0h-1.0zM1101.6,622.6h0.9v0.9h-0.9zM980.1,623.3h1.0v1.0h-1.0zM994.2,626.1h0.8v0.8h-0.8zM1105.2,622.1h0.7v0.7h-0.7zM921.8,625.8h1.0v1.0h-1.0zM1021.3,623.8h1.1v1.1h-1.1zM999.5,623.0h0.6v0.6h-0.6zM1116.6,625.5h0.8v0.8h-0.8zM1074.9,625.7h0.9v0.9h-0.9zM938.2,624.7h1.0v1.0h-1.0zM1019.0,623.6h0.9v0.9h-0.9zM956.4,622.6h0.9v0.9h-0.9zM1132.9,622.1h0.9v0.9h-0.9zM1025.1,621.7h0.6v0.6h-0.6zM981.5,625.0h0.6v0.6h-0.6zM996.6,624.6h1.0v1.0h-1.0zM1133.5,625.7h0.6v0.6h-0.6zM1037.4,624.5h0.8v0.8h-0.8zM1045.8,623.4h0.6v0.6h-0.6zM1061.2,625.9h0.9v0.9h-0.9zM1059.2,626.3h0.7v0.7h-0.7zM1040.9,625.6h0.9v0.9h-0.9zM914.7,624.1h1.0v1.0h-1.0zM958.9,623.5h1.1v1.1h-1.1zM1014.3,624.2h0.9v0.9h-0.9zM1101.4,623.8h1.0v1.0h-1.0zM1069.5,623.5h0.9v0.9h-0.9zM980.5,621.8h0.8v0.8h-0.8zM924.5,623.0h1.0v1.0h-1.0zM1127.9,622.5h0.6v0.6h-0.6zM992.1,623.8h0.6v0.6h-0.6zM1091.9,622.3h0.8v0.8h-0.8zM974.3,624.7h0.6v0.6h-0.6zM1023.1,625.7h0.5v0.5h-0.5zM956.9,621.9h1.0v1.0h-1.0zM1062.0,622.7h1.0v1.0h-1.0zM952.5,623.9h0.9v0.9h-0.9zM1046.6,621.8h0.5v0.5h-0.5zM954.9,626.2h1.0v1.0h-1.0zM980.5,621.7h0.9v0.9h-0.9zM958.0,626.0h1.1v1.1h-1.1zM1086.4,625.4h1.0v1.0h-1.0zM1097.4,623.4h0.9v0.9h-0.9zM917.2,625.0h0.8v0.8h-0.8zM1130.9,625.4h0.8v0.8h-0.8zM1069.9,624.4h0.9v0.9h-0.9zM916.2,622.6h0.7v0.7h-0.7zM1069.1,626.1h0.9v0.9h-0.9zM1081.2,624.7h0.6v0.6h-0.6zM970.6,624.4h1.0v1.0h-1.0zM1006.6,625.0h0.7v0.7h-0.7zM983.7,622.3h0.7v0.7h-0.7zM1042.0,622.0h1.1v1.1h-1.1zM916.2,625.2h0.7v0.7h-0.7zM1120.7,622.9h0.5v0.5h-0.5zM1066.3,623.4h1.0v1.0h-1.0zM1061.1,623.7h0.9v0.9h-0.9zM1064.3,623.1h0.6v0.6h-0.6zM1058.2,624.3h0.5v0.5h-0.5zM950.0,623.7h0.6v0.6h-0.6zM1029.8,623.5h0.7v0.7h-0.7zM1079.5,625.2h0.5v0.5h-0.5zM1045.7,626.5h0.9v0.9h-0.9zM1131.1,622.7h0.6v0.6h-0.6zM986.4,622.7h0.6v0.6h-0.6zM970.4,624.0h1.0v1.0h-1.0zM1084.4,621.7h1.0v1.0h-1.0zM1054.8,622.8h0.5v0.5h-0.5zM1103.5,622.2h0.7v0.7h-0.7zM981.3,625.5h1.1v1.1h-1.1zM1115.8,625.7h1.0v1.0h-1.0zM1018.3,621.8h0.6v0.6h-0.6zM945.3,622.1h0.6v0.6h-0.6zM984.6,621.8h0.7v0.7h-0.7zM1102.6,622.7h0.8v0.8h-0.8zM1101.6,621.6h0.9v0.9h-0.9zM1033.9,621.7h1.0v1.0h-1.0zM1089.4,622.0h1.1v1.1h-1.1zM1041.4,624.7h0.6v0.6h-0.6zM921.1,625.0h0.9v0.9h-0.9zM954.3,621.7h0.8v0.8h-0.8zM982.1,623.2h1.0v1.0h-1.0zM1038.8,622.1h0.9v0.9h-0.9zM1072.9,624.3h1.1v1.1h-1.1zM1019.1,624.7h0.5v0.5h-0.5zM980.6,623.0h0.8v0.8h-0.8zM1026.9,622.1h0.9v0.9h-0.9zM926.4,622.8h0.9v0.9h-0.9zM919.7,623.1h1.0v1.0h-1.0zM1075.3,623.4h0.6v0.6h-0.6zM1079.4,625.8h0.5v0.5h-0.5zM1006.4,624.2h0.9v0.9h-0.9zM959.0,625.6h0.9v0.9h-0.9zM1090.1,626.2h0.9v0.9h-0.9zM1061.9,623.0h0.7v0.7h-0.7zM996.6,625.6h0.9v0.9h-0.9zM975.6,626.0h0.8v0.8h-0.8zM1129.7,624.8h0.9v0.9h-0.9zM990.3,626.5h0.8v0.8h-0.8zM1062.6,623.5h0.8v0.8h-0.8zM953.2,623.3h0.7v0.7h-0.7zM1077.8,622.3h0.6v0.6h-0.6zM1056.0,623.9h1.0v1.0h-1.0zM918.7,623.7h1.0v1.0h-1.0zM1080.5,623.3h0.8v0.8h-0.8zM1001.7,621.5h0.5v0.5h-0.5zM964.6,625.9h0.6v0.6h-0.6zM977.2,624.3h0.9v0.9h-0.9zM1057.0,623.0h0.7v0.7h-0.7zM917.2,625.5h0.7v0.7h-0.7zM978.6,622.5h0.8v0.8h-0.8zM947.4,623.1h0.6v0.6h-0.6zM956.3,624.1h0.7v0.7h-0.7zM938.0,625.9h0.5v0.5h-0.5zM1005.2,623.0h0.5v0.5h-0.5zM979.5,623.7h0.9v0.9h-0.9zM971.4,623.4h1.0v1.0h-1.0zM1054.0,623.7h0.6v0.6h-0.6zM1087.2,626.2h0.6v0.6h-0.6zM1101.6,623.4h0.8v0.8h-0.8zM920.1,622.7h0.6v0.6h-0.6zM959.0,625.6h1.1v1.1h-1.1zM984.5,625.5h0.7v0.7h-0.7zM1042.2,622.5h1.0v1.0h-1.0z' fill='#2b2b2b' opacity='0.6'/><path d='M1027.8,624.8h0.9v0.9h-0.9zM1029.6,621.1h0.9v0.9h-0.9zM1018.7,624.3h0.6v0.6h-0.6zM948.0,611.5h1.0v1.0h-1.0zM1044.3,604.2h0.6v0.6h-0.6zM1042.7,621.9h1.0v1.0h-1.0zM1113.1,606.1h0.9v0.9h-0.9zM1130.7,630.4h1.0v1.0h-1.0zM998.2,626.1h0.8v0.8h-0.8zM1089.7,629.3h0.9v0.9h-0.9zM988.6,632.1h0.8v0.8h-0.8zM1125.9,615.2h0.8v0.8h-0.8zM1103.8,630.9h0.8v0.8h-0.8zM946.5,609.1h0.7v0.7h-0.7zM1057.8,604.7h0.8v0.8h-0.8zM940.8,610.5h0.6v0.6h-0.6zM1035.1,629.4h1.0v1.0h-1.0zM964.7,606.6h0.9v0.9h-0.9zM1044.2,636.6h0.9v0.9h-0.9zM943.0,616.5h0.6v0.6h-0.6zM1013.4,613.8h0.9v0.9h-0.9zM1111.5,610.3h1.0v1.0h-1.0zM1126.1,617.4h0.9v0.9h-0.9zM1122.5,629.9h0.7v0.7h-0.7zM1052.9,631.1h0.7v0.7h-0.7zM1019.0,606.7h0.6v0.6h-0.6zM1089.4,614.6h0.9v0.9h-0.9zM1008.9,629.1h0.6v0.6h-0.6zM933.5,627.5h0.6v0.6h-0.6zM959.4,620.2h0.7v0.7h-0.7zM1110.3,628.6h0.7v0.7h-0.7zM1011.4,625.1h0.6v0.6h-0.6zM980.0,625.2h1.0v1.0h-1.0zM1046.6,611.1h1.0v1.0h-1.0zM1089.5,611.5h0.7v0.7h-0.7zM921.8,630.9h0.6v0.6h-0.6zM1096.2,629.3h0.9v0.9h-0.9zM1038.6,612.2h0.5v0.5h-0.5zM1045.2,604.0h0.8v0.8h-0.8zM1084.7,608.6h0.7v0.7h-0.7zM1033.4,608.9h0.6v0.6h-0.6zM1048.7,609.7h0.6v0.6h-0.6zM963.0,637.2h0.9v0.9h-0.9zM938.9,624.1h0.7v0.7h-0.7zM921.2,612.5h0.8v0.8h-0.8zM918.7,638.0h0.6v0.6h-0.6zM990.9,637.7h0.6v0.6h-0.6zM943.1,620.5h0.7v0.7h-0.7zM984.6,624.5h1.0v1.0h-1.0zM1005.7,605.1h0.7v0.7h-0.7zM1102.0,619.1h0.5v0.5h-0.5zM969.3,611.7h0.7v0.7h-0.7zM984.4,627.7h0.9v0.9h-0.9zM924.2,608.7h0.9v0.9h-0.9zM1107.0,631.9h0.6v0.6h-0.6zM1066.8,606.2h0.8v0.8h-0.8zM963.1,633.7h0.9v0.9h-0.9zM1017.2,629.6h1.0v1.0h-1.0zM1110.9,626.8h0.8v0.8h-0.8zM992.9,628.1h0.6v0.6h-0.6zM1015.2,606.6h0.5v0.5h-0.5zM1061.3,618.8h0.6v0.6h-0.6zM1123.2,614.0h0.8v0.8h-0.8zM1022.3,610.1h1.0v1.0h-1.0zM1081.3,635.6h0.6v0.6h-0.6zM1114.8,636.3h1.0v1.0h-1.0zM953.5,609.1h0.5v0.5h-0.5zM934.2,628.8h0.5v0.5h-0.5zM1016.6,616.3h0.9v0.9h-0.9zM924.6,629.4h1.0v1.0h-1.0zM979.7,618.0h0.9v0.9h-0.9zM981.6,634.0h1.0v1.0h-1.0zM963.4,620.4h0.6v0.6h-0.6zM1037.1,617.7h1.0v1.0h-1.0zM1074.3,639.2h0.9v0.9h-0.9zM1095.9,617.3h0.8v0.8h-0.8zM939.3,616.0h1.0v1.0h-1.0zM1130.0,609.7h0.7v0.7h-0.7zM1003.5,625.8h0.8v0.8h-0.8zM971.8,635.2h0.7v0.7h-0.7zM1085.0,629.5h1.0v1.0h-1.0zM1027.7,624.7h0.9v0.9h-0.9zM964.9,605.1h0.9v0.9h-0.9zM1067.1,630.5h0.9v0.9h-0.9zM958.5,635.1h0.8v0.8h-0.8zM1122.2,623.5h0.9v0.9h-0.9zM926.9,609.5h0.8v0.8h-0.8zM1061.3,617.4h0.5v0.5h-0.5zM1109.3,606.1h0.9v0.9h-0.9zM965.7,628.9h0.8v0.8h-0.8zM966.4,615.3h0.6v0.6h-0.6zM1031.7,613.5h0.8v0.8h-0.8zM976.4,607.8h0.8v0.8h-0.8zM972.0,637.7h0.7v0.7h-0.7zM972.1,629.4h1.0v1.0h-1.0zM995.9,629.9h0.7v0.7h-0.7zM1133.1,614.3h0.5v0.5h-0.5zM915.3,623.0h0.8v0.8h-0.8zM977.4,618.4h0.7v0.7h-0.7zM994.3,610.3h0.8v0.8h-0.8zM1061.0,604.5h0.9v0.9h-0.9zM971.5,620.6h0.6v0.6h-0.6zM1062.5,618.1h0.8v0.8h-0.8zM1004.1,621.8h0.5v0.5h-0.5zM1130.3,618.8h0.7v0.7h-0.7zM1100.7,614.1h0.9v0.9h-0.9zM1007.7,607.7h0.8v0.8h-0.8zM976.1,610.7h1.0v1.0h-1.0zM1120.5,620.5h0.9v0.9h-0.9zM1061.8,614.4h0.6v0.6h-0.6zM1042.3,610.4h0.9v0.9h-0.9zM1045.3,611.4h0.9v0.9h-0.9zM1127.3,620.8h1.0v1.0h-1.0zM1013.3,604.1h0.7v0.7h-0.7zM991.9,636.5h0.8v0.8h-0.8zM1125.8,609.4h0.7v0.7h-0.7zM917.5,605.4h0.9v0.9h-0.9zM921.6,611.5h0.7v0.7h-0.7zM1117.0,612.0h0.5v0.5h-0.5zM1068.7,628.6h0.6v0.6h-0.6zM1118.6,634.7h1.0v1.0h-1.0zM1095.6,623.2h0.9v0.9h-0.9zM941.7,626.7h0.7v0.7h-0.7zM988.3,614.8h0.5v0.5h-0.5zM1092.7,631.0h0.5v0.5h-0.5zM1027.2,604.3h0.8v0.8h-0.8zM951.1,638.1h0.7v0.7h-0.7zM1029.6,612.9h1.0v1.0h-1.0zM916.2,614.4h0.6v0.6h-0.6zM1078.6,616.9h0.9v0.9h-0.9zM986.5,608.0h0.7v0.7h-0.7zM933.4,609.0h0.8v0.8h-0.8zM1040.8,611.2h0.6v0.6h-0.6zM1029.1,619.5h0.7v0.7h-0.7zM1062.0,608.6h0.5v0.5h-0.5zM928.6,632.1h0.9v0.9h-0.9zM948.1,615.4h0.7v0.7h-0.7zM1117.4,618.3h0.9v0.9h-0.9zM933.3,605.0h0.6v0.6h-0.6zM1055.6,619.6h0.9v0.9h-0.9zM1095.3,627.4h1.0v1.0h-1.0zM1125.6,635.3h0.5v0.5h-0.5zM1002.3,608.7h0.8v0.8h-0.8zM1025.5,606.8h0.5v0.5h-0.5zM1016.7,626.0h0.7v0.7h-0.7zM1018.2,626.3h0.8v0.8h-0.8zM1070.1,618.4h0.6v0.6h-0.6zM1105.8,605.0h0.6v0.6h-0.6zM956.3,624.9h0.8v0.8h-0.8zM936.4,622.0h0.8v0.8h-0.8zM1065.5,606.2h0.9v0.9h-0.9zM973.8,617.4h0.6v0.6h-0.6zM1099.7,625.8h0.9v0.9h-0.9zM1027.7,607.5h0.7v0.7h-0.7zM931.7,607.1h0.9v0.9h-0.9zM914.4,617.5h0.5v0.5h-0.5zM1082.5,639.2h0.5v0.5h-0.5zM994.4,638.6h0.6v0.6h-0.6zM982.6,639.0h1.0v1.0h-1.0zM999.4,627.6h0.9v0.9h-0.9zM992.4,603.6h0.7v0.7h-0.7zM1066.8,638.2h0.7v0.7h-0.7zM1004.8,617.2h0.8v0.8h-0.8zM919.3,636.4h1.0v1.0h-1.0zM921.3,603.7h0.7v0.7h-0.7zM946.5,631.2h0.9v0.9h-0.9zM1034.5,637.5h0.6v0.6h-0.6zM957.5,617.3h0.7v0.7h-0.7zM958.0,636.7h0.9v0.9h-0.9zM977.8,611.7h0.6v0.6h-0.6zM1001.4,627.1h0.9v0.9h-0.9zM1123.4,606.4h0.6v0.6h-0.6zM998.0,637.8h0.7v0.7h-0.7zM1072.6,633.4h0.7v0.7h-0.7zM997.4,631.4h0.8v0.8h-0.8zM1132.8,613.2h1.0v1.0h-1.0zM1021.4,634.8h0.8v0.8h-0.8zM1038.4,634.3h0.5v0.5h-0.5zM976.1,621.1h0.9v0.9h-0.9zM955.3,631.6h0.5v0.5h-0.5zM991.4,620.2h0.9v0.9h-0.9zM1029.4,634.1h0.8v0.8h-0.8zM998.8,622.3h0.7v0.7h-0.7zM1106.4,614.4h0.6v0.6h-0.6zM968.2,612.5h0.9v0.9h-0.9zM1065.5,612.3h0.7v0.7h-0.7zM1111.2,638.1h0.6v0.6h-0.6zM1122.0,605.6h1.0v1.0h-1.0zM985.0,637.9h0.5v0.5h-0.5zM1065.8,636.8h0.9v0.9h-0.9zM1040.3,609.1h0.6v0.6h-0.6zM1121.9,634.7h0.6v0.6h-0.6zM990.0,625.6h0.7v0.7h-0.7zM961.3,634.8h0.6v0.6h-0.6zM1053.6,618.1h0.7v0.7h-0.7zM1106.1,630.3h0.9v0.9h-0.9zM918.0,632.7h0.9v0.9h-0.9zM914.5,611.6h0.9v0.9h-0.9zM1105.7,622.9h0.9v0.9h-0.9zM933.7,612.9h0.9v0.9h-0.9zM1089.0,611.5h0.8v0.8h-0.8zM1010.8,630.1h0.7v0.7h-0.7zM984.6,630.9h0.8v0.8h-0.8zM994.0,629.2h0.6v0.6h-0.6zM1024.6,610.3h0.7v0.7h-0.7zM1006.5,606.7h0.7v0.7h-0.7zM991.8,615.3h0.8v0.8h-0.8zM1112.3,634.1h0.6v0.6h-0.6zM944.0,606.7h0.9v0.9h-0.9zM1081.6,630.1h1.0v1.0h-1.0zM1002.7,609.7h0.5v0.5h-0.5zM1002.3,631.2h0.5v0.5h-0.5zM1010.7,606.4h0.6v0.6h-0.6zM1036.2,626.9h1.0v1.0h-1.0zM984.9,611.9h0.5v0.5h-0.5zM955.7,604.8h0.5v0.5h-0.5zM939.8,622.8h0.7v0.7h-0.7zM1113.9,621.0h0.5v0.5h-0.5zM946.5,628.7h1.0v1.0h-1.0zM1079.3,611.9h0.7v0.7h-0.7zM1010.6,619.1h0.6v0.6h-0.6zM948.4,604.4h0.9v0.9h-0.9zM1128.9,638.7h0.7v0.7h-0.7zM1065.6,610.9h0.6v0.6h-0.6zM915.0,615.5h0.9v0.9h-0.9zM1030.5,611.9h0.7v0.7h-0.7zM1033.4,610.5h0.7v0.7h-0.7zM1118.8,619.6h1.0v1.0h-1.0zM1073.5,608.1h1.0v1.0h-1.0zM1066.7,619.5h0.6v0.6h-0.6zM1059.3,610.4h0.7v0.7h-0.7zM947.7,618.4h1.0v1.0h-1.0zM1046.0,622.0h0.8v0.8h-0.8zM1058.4,625.2h0.6v0.6h-0.6zM961.2,625.3h1.0v1.0h-1.0zM1106.2,621.1h0.6v0.6h-0.6zM1043.6,605.2h0.7v0.7h-0.7zM1086.7,638.3h0.5v0.5h-0.5zM958.5,620.8h0.8v0.8h-0.8zM1126.5,607.4h0.6v0.6h-0.6zM1021.0,632.1h0.5v0.5h-0.5zM998.1,629.1h0.7v0.7h-0.7zM953.8,606.1h0.9v0.9h-0.9zM1026.6,622.9h0.8v0.8h-0.8zM1082.2,618.0h0.7v0.7h-0.7zM1116.6,606.2h0.9v0.9h-0.9zM1015.8,622.7h0.6v0.6h-0.6zM1121.8,614.4h0.7v0.7h-0.7zM927.5,635.6h0.9v0.9h-0.9zM925.5,608.8h0.6v0.6h-0.6zM920.7,621.4h0.9v0.9h-0.9zM1072.8,621.6h1.0v1.0h-1.0zM981.4,614.9h0.6v0.6h-0.6zM1047.0,620.3h0.6v0.6h-0.6zM1022.7,638.3h0.9v0.9h-0.9zM1051.6,634.5h0.7v0.7h-0.7zM1023.6,628.6h0.6v0.6h-0.6zM1044.9,621.6h0.6v0.6h-0.6zM1023.8,609.9h0.8v0.8h-0.8zM939.6,619.6h0.5v0.5h-0.5zM1033.2,607.0h0.9v0.9h-0.9zM918.4,632.5h0.6v0.6h-0.6zM1124.4,615.3h0.6v0.6h-0.6zM1061.7,612.3h0.9v0.9h-0.9zM1019.5,613.1h0.8v0.8h-0.8zM963.5,613.0h0.5v0.5h-0.5zM966.7,611.4h0.6v0.6h-0.6zM1005.9,619.7h0.8v0.8h-0.8zM1035.7,628.1h0.8v0.8h-0.8zM1018.0,634.3h0.6v0.6h-0.6zM974.9,603.9h1.0v1.0h-1.0zM1108.0,618.2h0.9v0.9h-0.9zM1038.0,637.0h1.0v1.0h-1.0zM987.3,613.5h0.7v0.7h-0.7zM1124.7,620.4h0.7v0.7h-0.7zM919.6,617.3h1.0v1.0h-1.0zM1006.6,632.1h0.9v0.9h-0.9zM1120.6,629.9h0.7v0.7h-0.7zM980.4,637.4h0.9v0.9h-0.9zM1077.9,605.5h0.8v0.8h-0.8zM1066.2,608.4h0.7v0.7h-0.7zM1014.4,612.6h0.6v0.6h-0.6zM947.9,620.0h0.5v0.5h-0.5zM1088.9,618.5h0.6v0.6h-0.6zM969.7,614.9h0.8v0.8h-0.8zM1071.7,619.0h0.9v0.9h-0.9zM1040.4,632.7h0.9v0.9h-0.9zM1082.7,604.4h0.7v0.7h-0.7zM939.8,633.4h0.6v0.6h-0.6zM1117.6,615.8h0.6v0.6h-0.6zM1067.8,610.2h0.7v0.7h-0.7zM1010.9,626.3h0.8v0.8h-0.8zM1060.4,632.0h1.0v1.0h-1.0zM1051.0,618.9h0.7v0.7h-0.7zM990.8,633.5h0.8v0.8h-0.8zM1067.6,633.0h0.8v0.8h-0.8zM1109.5,619.8h0.8v0.8h-0.8zM1109.1,621.1h0.9v0.9h-0.9zM975.8,609.2h0.9v0.9h-0.9zM1035.8,638.1h0.8v0.8h-0.8zM971.1,607.9h0.9v0.9h-0.9zM970.0,609.5h0.8v0.8h-0.8zM1072.3,624.2h0.5v0.5h-0.5zM1086.3,627.8h0.7v0.7h-0.7zM1117.3,621.3h0.9v0.9h-0.9zM934.4,614.6h0.9v0.9h-0.9zM1064.9,628.8h0.8v0.8h-0.8zM920.5,634.3h0.5v0.5h-0.5zM967.7,614.4h0.7v0.7h-0.7zM935.5,618.9h0.6v0.6h-0.6zM988.2,615.9h0.6v0.6h-0.6zM1091.1,604.6h0.6v0.6h-0.6zM1110.8,618.1h1.0v1.0h-1.0zM982.0,622.2h0.8v0.8h-0.8zM1003.5,639.1h0.7v0.7h-0.7zM1089.7,621.8h0.7v0.7h-0.7zM1100.5,636.8h0.5v0.5h-0.5zM1046.1,630.6h0.8v0.8h-0.8zM1003.3,629.4h0.6v0.6h-0.6zM1018.9,610.7h0.9v0.9h-0.9zM1087.2,617.8h0.9v0.9h-0.9zM1033.7,627.1h0.6v0.6h-0.6zM1084.2,626.9h1.0v1.0h-1.0zM972.1,618.0h0.9v0.9h-0.9zM971.3,631.1h0.9v0.9h-0.9zM950.9,629.7h0.6v0.6h-0.6zM974.5,616.2h0.9v0.9h-0.9zM1054.8,617.3h0.8v0.8h-0.8zM1093.0,610.6h0.9v0.9h-0.9zM1029.0,626.4h0.9v0.9h-0.9zM961.4,620.3h0.9v0.9h-0.9zM917.9,617.6h0.8v0.8h-0.8zM1013.2,621.7h0.9v0.9h-0.9zM939.5,629.4h0.6v0.6h-0.6zM932.8,620.1h0.6v0.6h-0.6zM1015.3,609.6h0.7v0.7h-0.7zM944.5,639.4h0.6v0.6h-0.6zM1012.0,625.2h0.8v0.8h-0.8zM942.9,634.0h0.7v0.7h-0.7zM932.6,619.0h0.8v0.8h-0.8zM993.8,629.7h0.7v0.7h-0.7zM1093.9,637.1h0.9v0.9h-0.9zM928.1,618.6h0.8v0.8h-0.8zM998.6,610.2h0.8v0.8h-0.8zM940.6,609.5h0.7v0.7h-0.7zM1133.7,617.3h1.0v1.0h-1.0zM1062.5,626.8h1.0v1.0h-1.0zM1042.6,630.1h0.7v0.7h-0.7zM1089.4,635.0h0.5v0.5h-0.5zM1119.9,604.7h0.8v0.8h-0.8zM930.4,630.7h0.7v0.7h-0.7zM944.4,633.8h0.6v0.6h-0.6zM1112.6,617.3h0.8v0.8h-0.8zM1012.4,630.9h0.7v0.7h-0.7zM1027.3,611.8h0.7v0.7h-0.7zM938.7,612.9h0.6v0.6h-0.6zM1066.1,608.7h0.6v0.6h-0.6zM1128.4,626.6h0.5v0.5h-0.5zM1104.7,630.8h0.8v0.8h-0.8zM1126.0,622.7h0.6v0.6h-0.6zM917.0,606.8h0.7v0.7h-0.7zM1036.1,633.5h0.5v0.5h-0.5zM930.0,606.9h0.7v0.7h-0.7zM1120.3,631.6h0.5v0.5h-0.5zM1044.4,610.0h0.6v0.6h-0.6zM985.1,612.4h0.6v0.6h-0.6zM963.7,615.9h0.8v0.8h-0.8zM1038.2,629.7h0.6v0.6h-0.6zM920.4,624.1h0.7v0.7h-0.7zM960.6,618.2h1.0v1.0h-1.0zM1046.2,629.3h0.5v0.5h-0.5zM1034.0,628.7h0.9v0.9h-0.9zM1081.7,605.3h1.0v1.0h-1.0zM918.0,631.2h0.7v0.7h-0.7zM1118.7,637.6h0.9v0.9h-0.9zM932.7,626.8h0.6v0.6h-0.6zM1007.8,608.2h0.7v0.7h-0.7zM925.9,622.9h0.5v0.5h-0.5zM968.0,631.5h0.6v0.6h-0.6zM1041.8,634.6h0.8v0.8h-0.8zM1094.6,637.1h0.6v0.6h-0.6zM955.4,639.3h1.0v1.0h-1.0zM985.2,636.8h0.5v0.5h-0.5zM964.4,634.6h0.6v0.6h-0.6zM1104.0,611.5h0.9v0.9h-0.9zM942.4,621.5h0.8v0.8h-0.8zM1037.3,634.6h0.5v0.5h-0.5zM1070.3,634.2h0.8v0.8h-0.8zM966.2,632.2h0.7v0.7h-0.7zM971.9,631.3h0.9v0.9h-0.9zM1095.7,621.3h0.5v0.5h-0.5zM919.6,623.4h0.5v0.5h-0.5zM1051.2,608.3h0.9v0.9h-0.9zM918.8,628.3h0.6v0.6h-0.6zM1134.2,620.6h0.8v0.8h-0.8zM1101.2,613.7h1.0v1.0h-1.0zM979.3,604.8h0.6v0.6h-0.6zM995.2,625.0h0.5v0.5h-0.5zM1113.4,631.5h0.9v0.9h-0.9zM1131.8,605.4h0.8v0.8h-0.8zM1102.7,609.9h0.7v0.7h-0.7zM958.3,636.8h0.7v0.7h-0.7zM1097.1,612.6h0.8v0.8h-0.8zM1078.5,615.8h0.6v0.6h-0.6zM933.1,626.1h0.7v0.7h-0.7zM958.4,615.0h0.7v0.7h-0.7zM941.9,624.8h0.6v0.6h-0.6zM962.0,616.5h1.0v1.0h-1.0zM1070.4,611.1h0.9v0.9h-0.9zM1120.9,615.4h0.9v0.9h-0.9zM1052.9,623.4h1.0v1.0h-1.0zM1062.0,626.8h1.0v1.0h-1.0zM1014.7,607.3h0.5v0.5h-0.5zM1073.5,620.4h0.9v0.9h-0.9zM1128.3,612.7h0.6v0.6h-0.6zM1040.6,604.3h0.6v0.6h-0.6zM930.7,614.2h0.7v0.7h-0.7zM957.5,628.3h0.9v0.9h-0.9zM1097.6,623.2h0.9v0.9h-0.9zM1089.5,629.7h0.7v0.7h-0.7zM1040.9,633.2h0.6v0.6h-0.6zM993.3,603.9h0.8v0.8h-0.8zM939.6,619.5h0.6v0.6h-0.6zM939.9,635.5h0.7v0.7h-0.7zM1125.2,630.1h0.8v0.8h-0.8zM1020.9,626.9h0.9v0.9h-0.9zM956.2,623.0h0.6v0.6h-0.6zM955.6,611.4h0.9v0.9h-0.9zM1119.7,619.1h0.6v0.6h-0.6zM953.3,614.5h0.7v0.7h-0.7zM1108.9,622.4h0.7v0.7h-0.7zM1052.2,609.9h0.7v0.7h-0.7zM1011.2,605.9h0.7v0.7h-0.7zM1040.2,625.2h0.6v0.6h-0.6zM930.3,624.1h0.6v0.6h-0.6zM915.3,638.2h0.9v0.9h-0.9zM1120.5,615.0h0.9v0.9h-0.9zM1101.8,626.1h0.5v0.5h-0.5zM974.8,617.0h0.7v0.7h-0.7zM1040.4,610.2h0.6v0.6h-0.6zM919.3,618.0h0.6v0.6h-0.6zM965.8,604.2h0.9v0.9h-0.9zM964.5,621.8h0.8v0.8h-0.8zM923.5,623.2h0.9v0.9h-0.9zM966.9,626.2h0.9v0.9h-0.9zM1037.7,616.4h0.8v0.8h-0.8zM1061.2,619.2h0.9v0.9h-0.9zM1079.2,630.6h0.7v0.7h-0.7zM946.6,609.8h0.6v0.6h-0.6zM1038.1,605.6h0.7v0.7h-0.7zM946.8,622.8h0.6v0.6h-0.6zM1095.4,605.8h0.7v0.7h-0.7zM1078.7,633.5h0.7v0.7h-0.7zM1121.8,635.1h0.8v0.8h-0.8zM987.1,610.4h0.8v0.8h-0.8zM927.6,626.9h0.6v0.6h-0.6zM955.6,625.7h0.7v0.7h-0.7zM926.9,608.8h0.9v0.9h-0.9zM999.9,631.6h0.8v0.8h-0.8zM915.1,615.8h0.8v0.8h-0.8zM968.1,608.3h1.0v1.0h-1.0zM985.8,627.2h0.7v0.7h-0.7zM1131.9,611.7h0.5v0.5h-0.5zM1057.3,628.5h0.9v0.9h-0.9zM938.7,609.8h0.7v0.7h-0.7zM975.7,608.2h0.6v0.6h-0.6zM923.9,618.9h0.6v0.6h-0.6zM920.7,606.9h0.9v0.9h-0.9zM1056.5,615.9h0.9v0.9h-0.9zM924.2,618.5h1.0v1.0h-1.0zM926.1,608.9h0.7v0.7h-0.7zM991.6,605.9h0.9v0.9h-0.9zM1088.4,624.6h0.7v0.7h-0.7zM1036.8,621.5h0.8v0.8h-0.8zM984.9,632.8h0.8v0.8h-0.8z' fill='#2b2b2b' opacity='0.5'/><path d='M926.4,553.5 H1136.4 V642.5 H926.4 L912.4,632.5 V563.5 Z' fill='none' stroke='#2b2b2b' stroke-width='1.7'/><path d='M926.4,553.5 V642.5 M941.4,554.5 V642.5' stroke='#2b2b2b' stroke-width='1.0' opacity='0.6'/><path d='M926.4,603.5 H938.4 V642.5' fill='none' stroke='#2b2b2b' stroke-width='1.3' opacity='0.75'/><rect x='1053.4' y='553.5' width='16.0' height='89.0' fill='#f1f1f1'/><path d='M1053.4,554.0 q1,-2 3,-2 h10.0 q2,0 3,2 M1053.4,642.0 q1,2 3,2 h10.0 q2,0 3,-2' fill='none' stroke='#2b2b2b' stroke-width='1.5'/><path d='M1053.9,555.5 V640.5 M1068.9,555.5 V640.5' stroke='#999' stroke-width='0.8'/><path d='M1057.7,593.7h1.3v1.3h-1.3zM1061.4,587.7h1.1v1.1h-1.1zM1064.1,584.4h1.3v1.3h-1.3zM1060.1,589.9h1.1v1.1h-1.1zM1065.0,584.2h0.9v0.9h-0.9zM1061.2,580.6h1.1v1.1h-1.1zM1056.2,584.8h1.0v1.0h-1.0zM1066.9,594.4h1.0v1.0h-1.0zM1063.3,592.0h0.8v0.8h-0.8zM1060.6,596.4h1.3v1.3h-1.3zM1067.9,580.6h1.1v1.1h-1.1zM1059.7,590.5h1.3v1.3h-1.3zM1060.5,592.8h1.3v1.3h-1.3zM1066.6,593.7h1.1v1.1h-1.1zM1055.8,588.9h0.9v0.9h-0.9zM1065.2,595.7h0.9v0.9h-0.9zM1062.5,600.4h1.3v1.3h-1.3zM1059.7,588.7h1.1v1.1h-1.1zM1060.3,602.7h1.3v1.3h-1.3zM1066.9,603.3h0.9v0.9h-0.9zM1067.6,588.6h1.0v1.0h-1.0zM1062.8,589.4h0.9v0.9h-0.9zM1068.0,584.4h0.9v0.9h-0.9zM1059.9,599.3h1.3v1.3h-1.3zM1060.8,589.5h0.9v0.9h-0.9zM1065.6,597.7h0.9v0.9h-0.9zM1063.8,600.9h1.0v1.0h-1.0zM1057.6,597.4h1.2v1.2h-1.2zM1059.9,580.3h1.0v1.0h-1.0zM1064.3,584.5h1.1v1.1h-1.1zM1065.2,588.2h0.9v0.9h-0.9zM1063.9,596.1h1.2v1.2h-1.2zM1067.1,588.8h1.1v1.1h-1.1zM1060.7,600.0h1.0v1.0h-1.0zM1057.8,588.7h1.3v1.3h-1.3zM1064.8,584.5h1.3v1.3h-1.3zM1068.2,588.0h1.3v1.3h-1.3zM1064.1,594.5h0.9v0.9h-0.9z' fill='#2b2b2b' opacity='0.85'/><rect x='1053.9' y='604.23' width='15.0' height='29.37' fill='#9a9a9a'/><path d='M1053.9,629.7h1.3v1.3h-1.3zM1066.2,629.3h1.9v1.9h-1.9zM1064.9,625.6h1.8v1.8h-1.8zM1068.0,631.2h1.9v1.9h-1.9zM1058.7,631.3h1.1v1.1h-1.1zM1056.7,629.7h1.5v1.5h-1.5zM1068.2,614.0h1.1v1.1h-1.1zM1056.1,630.2h1.8v1.8h-1.8zM1060.3,623.4h1.0v1.0h-1.0zM1068.0,612.5h1.2v1.2h-1.2zM1061.2,618.3h1.5v1.5h-1.5zM1064.7,609.6h1.8v1.8h-1.8zM1058.8,616.0h1.9v1.9h-1.9zM1065.0,625.6h1.8v1.8h-1.8zM1060.2,614.4h1.5v1.5h-1.5zM1066.6,609.3h1.7v1.7h-1.7zM1061.0,632.0h1.7v1.7h-1.7zM1067.7,616.4h1.5v1.5h-1.5zM1057.6,610.3h1.3v1.3h-1.3zM1057.1,622.6h1.6v1.6h-1.6zM1065.0,626.3h2.0v2.0h-2.0zM1061.8,622.3h1.5v1.5h-1.5zM1061.1,614.2h1.3v1.3h-1.3zM1058.9,619.2h1.4v1.4h-1.4zM1062.1,623.9h2.0v2.0h-2.0zM1062.6,633.3h1.3v1.3h-1.3zM1063.0,621.3h1.5v1.5h-1.5zM1060.8,611.2h2.0v2.0h-2.0zM1055.0,627.9h1.5v1.5h-1.5zM1059.1,613.3h1.9v1.9h-1.9zM1058.9,621.2h1.4v1.4h-1.4zM1063.8,620.6h1.5v1.5h-1.5zM1055.5,605.0h1.7v1.7h-1.7zM1053.9,619.5h1.3v1.3h-1.3zM1065.0,613.8h1.0v1.0h-1.0zM1056.3,614.0h1.6v1.6h-1.6zM1064.5,628.7h2.0v2.0h-2.0zM1062.3,605.6h1.7v1.7h-1.7zM1059.2,622.0h1.2v1.2h-1.2zM1059.9,611.4h1.7v1.7h-1.7zM1068.1,615.0h1.5v1.5h-1.5zM1063.4,626.7h1.4v1.4h-1.4zM1057.9,623.4h1.3v1.3h-1.3zM1061.4,622.7h1.6v1.6h-1.6zM1068.5,614.5h1.2v1.2h-1.2zM1060.0,630.6h1.9v1.9h-1.9zM1054.8,609.3h1.2v1.2h-1.2zM1065.6,624.5h1.2v1.2h-1.2zM1065.8,629.6h1.8v1.8h-1.8zM1059.1,628.3h1.3v1.3h-1.3zM1067.9,608.4h1.4v1.4h-1.4zM1058.5,628.3h1.8v1.8h-1.8zM1061.9,620.0h1.3v1.3h-1.3zM1062.7,605.6h1.7v1.7h-1.7zM1068.2,617.6h1.5v1.5h-1.5zM1062.7,615.4h1.9v1.9h-1.9zM1057.1,618.5h1.7v1.7h-1.7zM1065.1,613.2h1.1v1.1h-1.1zM1064.2,607.9h1.8v1.8h-1.8zM1054.2,630.1h1.8v1.8h-1.8zM1061.5,630.4h1.8v1.8h-1.8zM1064.0,611.8h1.1v1.1h-1.1zM1055.6,607.0h1.7v1.7h-1.7zM1064.4,632.0h1.4v1.4h-1.4zM1059.4,629.5h1.8v1.8h-1.8zM1068.6,604.5h2.0v2.0h-2.0zM1060.1,627.7h1.2v1.2h-1.2zM1062.0,626.3h1.7v1.7h-1.7zM1064.3,606.8h1.9v1.9h-1.9zM1054.7,628.3h1.6v1.6h-1.6zM1063.2,610.8h1.8v1.8h-1.8zM1065.3,611.5h1.9v1.9h-1.9zM1060.1,629.5h1.2v1.2h-1.2zM1059.5,610.5h1.0v1.0h-1.0zM1056.0,608.7h1.5v1.5h-1.5zM1061.1,607.3h1.9v1.9h-1.9zM1063.4,619.4h1.3v1.3h-1.3zM1060.2,631.0h1.4v1.4h-1.4zM1061.4,631.3h1.4v1.4h-1.4zM1066.7,606.2h1.7v1.7h-1.7zM1055.7,612.3h1.1v1.1h-1.1zM1067.1,630.5h1.8v1.8h-1.8zM1061.4,607.5h1.5v1.5h-1.5zM1067.4,625.4h1.0v1.0h-1.0zM1068.7,632.1h1.6v1.6h-1.6zM1054.2,625.2h1.6v1.6h-1.6zM1054.0,617.3h1.0v1.0h-1.0zM1054.8,624.2h1.8v1.8h-1.8zM1058.8,608.8h1.3v1.3h-1.3zM1057.3,620.6h1.3v1.3h-1.3zM1067.6,604.7h1.2v1.2h-1.2zM1063.3,617.4h1.1v1.1h-1.1zM1059.7,612.5h1.8v1.8h-1.8zM1057.5,623.0h1.7v1.7h-1.7zM1060.2,605.6h1.5v1.5h-1.5zM1055.5,611.3h1.9v1.9h-1.9z' fill='#2b2b2b' opacity='1.0'/><path d='M1056.5,632.4h0.9v0.9h-0.9zM1054.4,605.1h1.5v1.5h-1.5zM1067.3,612.2h1.1v1.1h-1.1zM1059.0,622.8h1.0v1.0h-1.0zM1060.9,623.4h1.0v1.0h-1.0zM1055.9,623.4h1.3v1.3h-1.3zM1054.0,616.9h1.5v1.5h-1.5zM1062.8,624.1h1.6v1.6h-1.6zM1056.9,615.8h0.9v0.9h-0.9zM1067.4,621.4h1.5v1.5h-1.5zM1063.8,614.2h1.4v1.4h-1.4zM1058.0,619.0h1.3v1.3h-1.3zM1065.5,611.4h1.4v1.4h-1.4zM1062.0,622.7h0.9v0.9h-0.9zM1061.8,606.9h1.3v1.3h-1.3zM1065.8,615.5h1.1v1.1h-1.1zM1063.3,620.6h1.6v1.6h-1.6zM1066.5,624.4h1.1v1.1h-1.1zM1054.7,624.1h1.0v1.0h-1.0zM1064.5,623.4h1.5v1.5h-1.5zM1054.8,618.4h1.1v1.1h-1.1zM1059.0,611.8h1.5v1.5h-1.5zM1060.7,620.4h0.9v0.9h-0.9zM1062.2,622.8h0.9v0.9h-0.9zM1059.0,612.1h1.2v1.2h-1.2zM1055.1,633.1h1.1v1.1h-1.1zM1067.8,605.2h1.4v1.4h-1.4zM1067.4,617.2h1.1v1.1h-1.1zM1063.2,613.2h1.0v1.0h-1.0zM1067.6,623.1h1.2v1.2h-1.2zM1060.8,627.6h1.4v1.4h-1.4zM1058.1,613.4h1.1v1.1h-1.1zM1054.7,616.5h0.9v0.9h-0.9zM1063.9,614.0h1.1v1.1h-1.1zM1057.2,611.6h1.0v1.0h-1.0zM1067.2,617.6h1.2v1.2h-1.2zM1058.7,632.2h1.3v1.3h-1.3zM1056.5,624.2h0.8v0.8h-0.8zM1068.8,626.0h1.0v1.0h-1.0zM1060.3,630.9h1.4v1.4h-1.4zM1065.7,621.3h1.0v1.0h-1.0zM1063.7,621.2h0.9v0.9h-0.9zM1054.8,619.7h1.5v1.5h-1.5zM1058.8,623.0h0.9v0.9h-0.9z' fill='#f4f4f4' opacity='1.0'/><path d='M1066.7,640.6h1.0v1.0h-1.0zM1064.5,639.4h1.1v1.1h-1.1zM1066.7,634.0h1.0v1.0h-1.0zM1056.0,640.1h1.2v1.2h-1.2zM1057.6,638.8h1.1v1.1h-1.1zM1062.3,636.9h1.1v1.1h-1.1zM1062.2,636.1h1.0v1.0h-1.0zM1056.7,638.6h1.3v1.3h-1.3zM1057.6,638.3h1.0v1.0h-1.0zM1056.9,634.1h0.8v0.8h-0.8zM1064.8,634.7h1.0v1.0h-1.0z' fill='#2b2b2b' opacity='0.7'/><rect x='1080.4' y='553.5' width='16.0' height='89.0' fill='#f1f1f1'/><path d='M1080.4,554.0 q1,-2 3,-2 h10.0 q2,0 3,2 M1080.4,642.0 q1,2 3,2 h10.0 q2,0 3,-2' fill='none' stroke='#2b2b2b' stroke-width='1.5'/><path d='M1080.9,555.5 V640.5 M1095.9,555.5 V640.5' stroke='#999' stroke-width='0.8'/><path d='M1088.5,584.8h1.1v1.1h-1.1zM1088.0,585.4h1.2v1.2h-1.2zM1090.4,602.2h1.0v1.0h-1.0zM1092.3,594.6h1.1v1.1h-1.1zM1081.9,587.3h1.1v1.1h-1.1zM1082.0,582.5h1.3v1.3h-1.3zM1083.0,593.2h0.9v0.9h-0.9zM1088.8,589.3h1.0v1.0h-1.0zM1087.8,586.6h1.4v1.4h-1.4zM1087.8,583.1h1.2v1.2h-1.2zM1083.7,597.4h1.3v1.3h-1.3zM1094.3,592.2h1.2v1.2h-1.2zM1092.5,599.1h1.2v1.2h-1.2zM1093.9,597.4h1.0v1.0h-1.0zM1086.6,599.6h1.4v1.4h-1.4zM1086.7,601.6h1.3v1.3h-1.3zM1091.1,588.0h1.0v1.0h-1.0zM1085.5,596.1h1.1v1.1h-1.1zM1084.5,583.6h1.3v1.3h-1.3zM1084.1,584.2h1.1v1.1h-1.1zM1082.2,589.6h0.9v0.9h-0.9zM1093.4,593.0h1.1v1.1h-1.1zM1088.0,580.6h1.3v1.3h-1.3zM1094.6,580.4h1.1v1.1h-1.1zM1092.4,599.8h1.4v1.4h-1.4zM1094.1,600.7h0.9v0.9h-0.9zM1095.3,603.0h1.2v1.2h-1.2zM1093.7,586.2h1.1v1.1h-1.1zM1082.9,591.1h1.4v1.4h-1.4zM1091.3,590.8h1.0v1.0h-1.0zM1084.4,590.2h1.0v1.0h-1.0zM1088.2,593.4h1.0v1.0h-1.0zM1089.7,589.8h1.1v1.1h-1.1zM1088.2,599.7h1.3v1.3h-1.3zM1089.6,597.7h1.0v1.0h-1.0zM1083.7,587.5h0.9v0.9h-0.9zM1092.1,601.4h1.2v1.2h-1.2zM1084.5,583.2h1.3v1.3h-1.3z' fill='#2b2b2b' opacity='0.85'/><rect x='1080.9' y='604.23' width='15.0' height='29.37' fill='#9a9a9a'/><path d='M1089.5,608.5h2.0v2.0h-2.0zM1092.2,632.5h2.0v2.0h-2.0zM1092.7,631.5h1.9v1.9h-1.9zM1083.3,614.4h1.5v1.5h-1.5zM1090.5,608.7h1.3v1.3h-1.3zM1092.5,632.6h1.5v1.5h-1.5zM1094.9,629.9h1.9v1.9h-1.9zM1083.7,615.5h1.7v1.7h-1.7zM1093.1,628.7h1.1v1.1h-1.1zM1091.1,605.0h1.3v1.3h-1.3zM1081.7,619.2h1.1v1.1h-1.1zM1090.8,616.2h1.8v1.8h-1.8zM1085.8,633.3h1.1v1.1h-1.1zM1082.1,618.9h1.5v1.5h-1.5zM1093.6,605.0h1.2v1.2h-1.2zM1084.6,617.0h1.8v1.8h-1.8zM1090.9,611.2h1.4v1.4h-1.4zM1092.4,620.6h1.1v1.1h-1.1zM1086.3,604.9h1.5v1.5h-1.5zM1084.4,613.1h1.3v1.3h-1.3zM1093.9,606.7h1.1v1.1h-1.1zM1082.9,616.8h1.4v1.4h-1.4zM1094.9,625.6h1.3v1.3h-1.3zM1082.9,620.3h1.8v1.8h-1.8zM1084.3,626.7h1.4v1.4h-1.4zM1095.3,632.3h1.2v1.2h-1.2zM1093.0,621.6h1.4v1.4h-1.4zM1088.7,630.8h1.5v1.5h-1.5zM1089.4,618.8h1.0v1.0h-1.0zM1092.3,607.3h1.9v1.9h-1.9zM1081.0,620.9h1.3v1.3h-1.3zM1091.2,622.6h1.7v1.7h-1.7zM1093.2,633.2h1.1v1.1h-1.1zM1084.3,618.5h1.9v1.9h-1.9zM1086.8,610.3h1.5v1.5h-1.5zM1085.6,606.5h1.8v1.8h-1.8zM1087.7,629.0h1.1v1.1h-1.1zM1086.0,607.7h1.8v1.8h-1.8zM1087.6,622.0h1.1v1.1h-1.1zM1087.5,615.6h1.7v1.7h-1.7zM1084.4,633.1h1.3v1.3h-1.3zM1088.6,618.1h1.3v1.3h-1.3zM1081.8,605.4h1.9v1.9h-1.9zM1095.6,622.3h1.1v1.1h-1.1zM1083.8,613.6h1.0v1.0h-1.0zM1086.0,612.5h1.3v1.3h-1.3zM1093.5,620.6h2.0v2.0h-2.0zM1085.5,606.3h1.8v1.8h-1.8zM1091.8,628.2h1.4v1.4h-1.4zM1093.1,607.2h1.7v1.7h-1.7zM1091.3,620.9h1.6v1.6h-1.6zM1087.9,616.8h1.5v1.5h-1.5zM1090.0,629.1h1.3v1.3h-1.3zM1089.3,615.7h1.2v1.2h-1.2zM1091.5,604.4h1.9v1.9h-1.9zM1081.6,609.2h1.7v1.7h-1.7zM1087.4,613.0h1.5v1.5h-1.5zM1094.9,623.2h1.4v1.4h-1.4zM1095.1,611.4h1.1v1.1h-1.1zM1091.9,627.8h1.8v1.8h-1.8zM1086.9,624.2h1.2v1.2h-1.2zM1084.9,631.9h1.9v1.9h-1.9zM1095.1,620.4h1.7v1.7h-1.7zM1086.3,615.9h1.9v1.9h-1.9zM1092.1,631.8h1.2v1.2h-1.2zM1087.1,631.2h1.9v1.9h-1.9zM1093.2,630.2h1.3v1.3h-1.3zM1091.6,607.3h1.5v1.5h-1.5zM1081.1,616.9h1.2v1.2h-1.2zM1087.0,623.9h1.7v1.7h-1.7zM1094.1,631.7h1.3v1.3h-1.3zM1085.9,616.5h1.3v1.3h-1.3zM1093.6,627.5h1.7v1.7h-1.7zM1090.6,612.8h1.3v1.3h-1.3zM1092.3,606.9h2.0v2.0h-2.0zM1083.1,610.3h1.8v1.8h-1.8zM1094.6,608.8h1.9v1.9h-1.9zM1088.5,607.9h1.5v1.5h-1.5zM1084.4,623.3h1.6v1.6h-1.6zM1093.4,631.3h1.9v1.9h-1.9zM1091.0,625.7h1.9v1.9h-1.9zM1093.5,618.8h1.9v1.9h-1.9zM1095.3,610.0h1.2v1.2h-1.2zM1090.1,620.3h1.4v1.4h-1.4zM1088.4,610.3h1.4v1.4h-1.4zM1089.8,626.3h1.7v1.7h-1.7zM1082.4,610.4h1.5v1.5h-1.5zM1092.5,612.3h1.7v1.7h-1.7zM1084.3,613.1h1.9v1.9h-1.9zM1083.8,628.9h1.6v1.6h-1.6zM1081.3,618.0h1.5v1.5h-1.5zM1082.8,615.2h1.5v1.5h-1.5zM1088.0,631.3h1.4v1.4h-1.4zM1094.3,612.8h1.7v1.7h-1.7zM1083.2,621.4h1.7v1.7h-1.7zM1093.3,605.8h1.7v1.7h-1.7z' fill='#2b2b2b' opacity='1.0'/><path d='M1083.2,632.6h1.0v1.0h-1.0zM1093.7,609.1h1.6v1.6h-1.6zM1089.0,610.7h1.5v1.5h-1.5zM1092.8,625.5h1.1v1.1h-1.1zM1084.4,622.9h1.5v1.5h-1.5zM1092.0,625.1h0.8v0.8h-0.8zM1087.8,612.8h1.2v1.2h-1.2zM1090.9,621.8h0.8v0.8h-0.8zM1085.5,612.6h1.1v1.1h-1.1zM1085.2,609.9h1.0v1.0h-1.0zM1088.3,630.1h1.0v1.0h-1.0zM1095.3,623.7h1.5v1.5h-1.5zM1094.2,626.3h1.5v1.5h-1.5zM1083.8,622.8h1.1v1.1h-1.1zM1083.4,612.3h1.3v1.3h-1.3zM1082.9,607.3h1.5v1.5h-1.5zM1093.1,605.1h1.0v1.0h-1.0zM1080.9,619.9h1.6v1.6h-1.6zM1083.2,621.2h1.2v1.2h-1.2zM1091.8,621.5h1.4v1.4h-1.4zM1082.5,632.9h1.4v1.4h-1.4zM1082.5,604.5h1.4v1.4h-1.4zM1092.5,615.4h1.5v1.5h-1.5zM1090.4,619.3h0.8v0.8h-0.8zM1088.2,615.4h1.1v1.1h-1.1zM1086.1,629.2h1.1v1.1h-1.1zM1082.4,611.6h1.5v1.5h-1.5zM1088.7,614.5h1.5v1.5h-1.5zM1095.7,616.5h0.9v0.9h-0.9zM1085.7,607.5h1.5v1.5h-1.5zM1091.6,613.7h1.3v1.3h-1.3zM1093.6,633.4h0.9v0.9h-0.9zM1087.8,623.2h1.2v1.2h-1.2zM1088.8,617.6h1.1v1.1h-1.1zM1089.5,615.8h1.0v1.0h-1.0zM1087.1,627.2h0.9v0.9h-0.9zM1088.0,611.0h1.5v1.5h-1.5zM1081.0,614.5h1.6v1.6h-1.6zM1091.6,611.2h1.4v1.4h-1.4zM1088.4,607.0h0.9v0.9h-0.9zM1081.6,612.6h1.1v1.1h-1.1zM1095.5,630.3h1.2v1.2h-1.2zM1090.9,622.5h1.5v1.5h-1.5zM1086.5,623.3h1.0v1.0h-1.0z' fill='#f4f4f4' opacity='1.0'/><path d='M1084.6,635.7h1.0v1.0h-1.0zM1085.6,638.3h0.8v0.8h-0.8zM1085.8,638.4h1.3v1.3h-1.3zM1092.4,637.0h1.2v1.2h-1.2zM1081.8,640.9h1.2v1.2h-1.2zM1092.5,634.4h1.0v1.0h-1.0zM1085.6,640.3h1.3v1.3h-1.3zM1083.6,641.3h0.9v0.9h-0.9zM1083.3,638.0h1.1v1.1h-1.1zM1094.8,634.0h1.3v1.3h-1.3zM1091.4,636.1h0.9v0.9h-0.9z' fill='#2b2b2b' opacity='0.7'/><rect x='1107.4' y='553.5' width='16.0' height='89.0' fill='#f1f1f1'/><path d='M1107.4,554.0 q1,-2 3,-2 h10.0 q2,0 3,2 M1107.4,642.0 q1,2 3,2 h10.0 q2,0 3,-2' fill='none' stroke='#2b2b2b' stroke-width='1.5'/><path d='M1107.9,555.5 V640.5 M1122.9,555.5 V640.5' stroke='#999' stroke-width='0.8'/><path d='M1118.3,580.9h1.0v1.0h-1.0zM1109.6,588.3h1.4v1.4h-1.4zM1120.2,592.9h1.2v1.2h-1.2zM1117.2,598.4h1.3v1.3h-1.3zM1121.9,602.1h1.0v1.0h-1.0zM1121.7,586.0h0.9v0.9h-0.9zM1117.5,581.3h1.3v1.3h-1.3zM1122.1,598.8h1.0v1.0h-1.0zM1115.8,581.4h1.1v1.1h-1.1zM1119.9,584.7h0.9v0.9h-0.9zM1113.4,588.3h1.0v1.0h-1.0zM1112.9,581.8h1.2v1.2h-1.2zM1115.3,594.4h1.0v1.0h-1.0zM1121.0,598.1h1.1v1.1h-1.1zM1113.8,599.9h1.1v1.1h-1.1zM1114.2,593.3h0.8v0.8h-0.8zM1115.3,582.1h1.4v1.4h-1.4zM1119.5,583.0h0.9v0.9h-0.9zM1117.7,592.8h1.0v1.0h-1.0zM1114.1,585.4h1.0v1.0h-1.0zM1109.1,581.7h0.9v0.9h-0.9zM1108.8,585.7h0.9v0.9h-0.9zM1113.4,593.9h1.4v1.4h-1.4zM1118.3,599.2h1.1v1.1h-1.1zM1119.1,594.8h0.8v0.8h-0.8zM1113.5,583.2h1.2v1.2h-1.2zM1113.5,590.2h0.9v0.9h-0.9zM1122.0,586.6h0.9v0.9h-0.9zM1113.6,587.5h0.9v0.9h-0.9zM1118.1,590.2h0.8v0.8h-0.8zM1121.7,583.0h1.3v1.3h-1.3zM1122.2,592.8h1.3v1.3h-1.3zM1108.5,584.9h1.3v1.3h-1.3zM1118.1,583.0h1.0v1.0h-1.0zM1109.5,598.5h1.2v1.2h-1.2zM1113.3,593.3h1.1v1.1h-1.1zM1112.1,592.6h0.8v0.8h-0.8zM1118.5,602.4h0.9v0.9h-0.9z' fill='#2b2b2b' opacity='0.85'/><rect x='1107.9' y='604.23' width='15.0' height='29.37' fill='#9a9a9a'/><path d='M1114.4,621.7h1.7v1.7h-1.7zM1119.5,613.9h1.8v1.8h-1.8zM1113.3,627.1h1.5v1.5h-1.5zM1116.5,630.5h1.2v1.2h-1.2zM1115.4,614.4h1.1v1.1h-1.1zM1119.6,610.0h1.2v1.2h-1.2zM1109.9,627.1h1.7v1.7h-1.7zM1112.8,618.6h1.4v1.4h-1.4zM1115.3,605.4h1.3v1.3h-1.3zM1122.3,613.6h1.7v1.7h-1.7zM1117.2,617.9h1.6v1.6h-1.6zM1118.3,621.1h1.8v1.8h-1.8zM1112.4,611.0h1.5v1.5h-1.5zM1119.7,618.8h1.0v1.0h-1.0zM1114.9,630.5h1.2v1.2h-1.2zM1116.5,612.6h1.5v1.5h-1.5zM1119.3,613.9h1.2v1.2h-1.2zM1114.6,633.1h1.0v1.0h-1.0zM1112.5,610.6h1.5v1.5h-1.5zM1119.7,620.7h1.6v1.6h-1.6zM1111.3,619.9h1.7v1.7h-1.7zM1112.9,604.8h2.0v2.0h-2.0zM1115.5,632.6h1.6v1.6h-1.6zM1113.0,609.5h1.9v1.9h-1.9zM1119.3,621.1h1.0v1.0h-1.0zM1112.4,616.6h1.1v1.1h-1.1zM1115.0,618.0h1.2v1.2h-1.2zM1115.8,632.2h1.9v1.9h-1.9zM1120.2,613.2h1.2v1.2h-1.2zM1115.1,631.6h1.2v1.2h-1.2zM1109.0,629.2h1.0v1.0h-1.0zM1115.6,633.1h1.6v1.6h-1.6zM1108.0,613.1h1.8v1.8h-1.8zM1118.1,606.7h1.5v1.5h-1.5zM1115.1,609.1h1.1v1.1h-1.1zM1112.6,616.0h2.0v2.0h-2.0zM1112.8,630.4h1.0v1.0h-1.0zM1114.9,608.6h1.1v1.1h-1.1zM1112.3,624.6h1.6v1.6h-1.6zM1112.2,625.6h1.7v1.7h-1.7zM1120.9,624.5h1.1v1.1h-1.1zM1119.6,632.3h1.9v1.9h-1.9zM1117.8,607.9h1.9v1.9h-1.9zM1115.3,625.6h1.9v1.9h-1.9zM1111.1,604.9h1.9v1.9h-1.9zM1121.3,606.7h1.5v1.5h-1.5zM1120.8,622.3h1.5v1.5h-1.5zM1122.9,605.1h1.4v1.4h-1.4zM1110.2,632.5h1.6v1.6h-1.6zM1111.8,629.7h1.9v1.9h-1.9zM1115.1,632.2h1.2v1.2h-1.2zM1118.3,633.4h1.2v1.2h-1.2zM1118.4,628.6h1.9v1.9h-1.9zM1111.9,615.5h1.1v1.1h-1.1zM1115.5,629.5h1.3v1.3h-1.3zM1121.1,612.0h1.5v1.5h-1.5zM1117.8,628.1h1.9v1.9h-1.9zM1113.2,615.7h1.8v1.8h-1.8zM1119.8,627.4h1.3v1.3h-1.3zM1120.9,626.7h1.6v1.6h-1.6zM1112.9,625.5h1.1v1.1h-1.1zM1119.0,616.5h1.8v1.8h-1.8zM1116.7,614.7h1.3v1.3h-1.3zM1115.4,608.2h1.3v1.3h-1.3zM1117.5,610.0h1.9v1.9h-1.9zM1115.8,613.7h1.2v1.2h-1.2zM1112.0,615.9h1.1v1.1h-1.1zM1112.5,632.5h1.9v1.9h-1.9zM1121.6,632.1h1.7v1.7h-1.7zM1122.4,623.0h1.4v1.4h-1.4zM1110.4,623.4h2.0v2.0h-2.0zM1122.0,632.8h1.4v1.4h-1.4zM1118.2,633.6h1.7v1.7h-1.7zM1120.7,629.8h1.6v1.6h-1.6zM1121.0,614.6h1.8v1.8h-1.8zM1114.4,610.6h1.8v1.8h-1.8zM1119.8,622.9h1.5v1.5h-1.5zM1111.8,629.0h1.7v1.7h-1.7zM1117.9,628.3h1.0v1.0h-1.0zM1119.8,629.3h1.1v1.1h-1.1zM1108.6,629.6h1.3v1.3h-1.3zM1115.9,631.5h1.2v1.2h-1.2zM1115.3,606.0h1.9v1.9h-1.9zM1120.8,617.1h1.8v1.8h-1.8zM1110.2,627.9h1.8v1.8h-1.8zM1118.8,605.2h1.3v1.3h-1.3zM1117.8,628.7h1.5v1.5h-1.5zM1118.2,617.6h1.6v1.6h-1.6zM1112.2,610.1h1.9v1.9h-1.9zM1116.2,613.7h1.3v1.3h-1.3zM1113.0,619.4h1.2v1.2h-1.2zM1114.7,614.5h1.4v1.4h-1.4zM1113.4,605.6h1.9v1.9h-1.9zM1112.4,626.2h1.9v1.9h-1.9zM1113.6,614.5h1.7v1.7h-1.7zM1122.0,619.9h1.6v1.6h-1.6z' fill='#2b2b2b' opacity='1.0'/><path d='M1109.5,613.4h1.2v1.2h-1.2zM1117.7,615.4h1.4v1.4h-1.4zM1120.5,611.5h1.2v1.2h-1.2zM1109.4,613.6h1.3v1.3h-1.3zM1120.3,609.9h1.4v1.4h-1.4zM1117.8,628.4h0.9v0.9h-0.9zM1115.7,608.5h1.4v1.4h-1.4zM1118.1,611.0h1.6v1.6h-1.6zM1121.3,615.7h1.0v1.0h-1.0zM1119.5,614.2h1.5v1.5h-1.5zM1112.1,629.3h1.1v1.1h-1.1zM1116.7,613.5h1.3v1.3h-1.3zM1108.8,614.9h1.1v1.1h-1.1zM1116.8,627.8h1.2v1.2h-1.2zM1122.2,608.8h1.4v1.4h-1.4zM1113.9,610.5h1.1v1.1h-1.1zM1113.5,618.5h1.2v1.2h-1.2zM1119.8,627.5h1.1v1.1h-1.1zM1119.4,621.8h0.8v0.8h-0.8zM1120.3,630.2h1.3v1.3h-1.3zM1115.5,630.9h1.6v1.6h-1.6zM1116.6,605.8h1.2v1.2h-1.2zM1110.9,617.9h1.3v1.3h-1.3zM1111.2,606.1h1.2v1.2h-1.2zM1118.1,619.6h1.5v1.5h-1.5zM1122.9,632.8h1.1v1.1h-1.1zM1114.6,621.2h1.0v1.0h-1.0zM1122.0,626.8h1.6v1.6h-1.6zM1113.7,619.0h1.2v1.2h-1.2zM1109.4,611.8h1.3v1.3h-1.3zM1121.8,606.1h1.1v1.1h-1.1zM1115.5,616.3h1.0v1.0h-1.0zM1110.5,613.4h0.8v0.8h-0.8zM1112.1,606.1h1.5v1.5h-1.5zM1117.6,618.8h1.1v1.1h-1.1zM1118.1,614.3h1.5v1.5h-1.5zM1120.6,611.1h1.2v1.2h-1.2zM1113.4,633.1h1.0v1.0h-1.0zM1108.5,610.8h1.6v1.6h-1.6zM1117.2,625.8h1.2v1.2h-1.2zM1118.5,616.8h1.2v1.2h-1.2zM1117.7,627.6h1.6v1.6h-1.6zM1117.5,628.5h0.9v0.9h-0.9zM1111.0,631.0h0.9v0.9h-0.9z' fill='#f4f4f4' opacity='1.0'/><path d='M1114.8,635.5h1.1v1.1h-1.1zM1112.6,640.8h0.9v0.9h-0.9zM1120.0,641.2h1.0v1.0h-1.0zM1119.7,638.5h0.9v0.9h-0.9zM1115.7,634.6h1.0v1.0h-1.0zM1109.4,635.0h1.3v1.3h-1.3zM1115.5,640.4h1.1v1.1h-1.1zM1112.7,637.5h1.0v1.0h-1.0zM1122.0,633.9h0.9v0.9h-0.9zM1111.5,637.6h1.0v1.0h-1.0zM1110.1,638.4h1.3v1.3h-1.3z' fill='#2b2b2b' opacity='0.7'/><rect x='1136.4' y='561.5' width='12' height='73' fill='#eee' stroke='#2b2b2b' stroke-width='1.2'/><path d='M1137.4,582.5 a9,11.5 0 0 1 0,23 Z' fill='#555' stroke='#2b2b2b' stroke-width='1.2'/><path d='M1141.2,590.6h0.9v0.9h-0.9zM1139.1,584.4h0.8v0.8h-0.8zM1140.1,599.8h0.8v0.8h-0.8zM1143.5,586.0h0.8v0.8h-0.8zM1138.6,600.1h0.7v0.7h-0.7zM1141.3,594.1h1.0v1.0h-1.0zM1141.1,589.6h1.2v1.2h-1.2zM1140.8,586.9h0.9v0.9h-0.9zM1141.0,585.5h0.6v0.6h-0.6zM1140.9,598.6h0.8v0.8h-0.8zM1141.9,588.9h1.0v1.0h-1.0zM1143.0,594.7h1.2v1.2h-1.2zM1140.3,591.4h0.6v0.6h-0.6zM1140.0,599.5h1.1v1.1h-1.1zM1140.4,592.8h1.0v1.0h-1.0zM1137.8,594.5h1.1v1.1h-1.1zM1138.3,585.1h0.9v0.9h-0.9zM1141.7,591.4h0.8v0.8h-0.8zM1143.9,604.4h1.2v1.2h-1.2zM1138.6,590.2h0.8v0.8h-0.8zM1143.8,596.4h0.9v0.9h-0.9zM1138.0,600.2h1.2v1.2h-1.2zM1139.0,589.6h0.6v0.6h-0.6zM1143.3,588.5h0.7v0.7h-0.7zM1143.5,597.7h0.9v0.9h-0.9zM1139.1,603.6h0.8v0.8h-0.8zM1142.6,596.9h0.8v0.8h-0.8zM1144.2,592.2h0.8v0.8h-0.8zM1139.0,584.2h0.9v0.9h-0.9zM1143.9,598.8h0.8v0.8h-0.8zM1139.5,600.4h1.1v1.1h-1.1zM1139.6,588.8h0.8v0.8h-0.8zM1143.1,593.5h1.0v1.0h-1.0zM1142.1,600.3h0.9v0.9h-0.9zM1137.6,597.4h0.7v0.7h-0.7zM1143.4,595.8h1.0v1.0h-1.0zM1142.2,601.4h1.1v1.1h-1.1zM1143.8,600.8h0.8v0.8h-0.8zM1142.6,590.9h1.1v1.1h-1.1zM1141.3,595.6h0.7v0.7h-0.7zM1138.7,586.2h0.7v0.7h-0.7zM1143.5,602.6h0.8v0.8h-0.8zM1140.6,595.5h1.0v1.0h-1.0zM1138.0,603.9h0.6v0.6h-0.6z' fill='#ddd' opacity='1.0'/><rect x='1148.4' y='558.5' width='24.0' height='80.0' rx='3' fill='#e2e2e2' stroke='#2b2b2b' stroke-width='2.4'/><path d='M1151.9,615.9h0.8v0.8h-0.8zM1163.5,603.1h0.9v0.9h-0.9zM1160.8,623.0h0.8v0.8h-0.8zM1166.2,605.4h1.1v1.1h-1.1zM1151.7,582.6h0.6v0.6h-0.6zM1150.0,601.9h0.9v0.9h-0.9zM1153.4,571.6h0.7v0.7h-0.7zM1169.0,603.3h0.9v0.9h-0.9zM1161.9,593.3h0.9v0.9h-0.9zM1151.0,636.2h1.0v1.0h-1.0zM1165.3,629.7h0.7v0.7h-0.7zM1150.7,576.9h0.7v0.7h-0.7zM1153.7,590.2h1.1v1.1h-1.1zM1162.4,615.7h0.9v0.9h-0.9zM1169.8,628.1h0.7v0.7h-0.7zM1164.2,633.7h1.1v1.1h-1.1zM1161.5,590.4h0.7v0.7h-0.7zM1155.4,566.6h0.6v0.6h-0.6zM1166.5,598.8h0.8v0.8h-0.8zM1165.0,584.4h1.1v1.1h-1.1zM1154.5,575.0h0.7v0.7h-0.7zM1170.4,628.5h0.7v0.7h-0.7zM1169.8,562.1h1.0v1.0h-1.0zM1159.5,577.2h1.0v1.0h-1.0zM1154.3,600.5h1.0v1.0h-1.0zM1158.7,629.8h1.1v1.1h-1.1zM1153.4,575.9h0.6v0.6h-0.6zM1157.2,565.3h0.8v0.8h-0.8zM1152.1,597.0h0.8v0.8h-0.8zM1169.8,621.7h0.8v0.8h-0.8zM1161.2,566.1h0.6v0.6h-0.6zM1167.4,566.3h0.8v0.8h-0.8zM1154.6,575.9h0.7v0.7h-0.7zM1154.2,632.3h0.7v0.7h-0.7zM1163.7,578.2h1.2v1.2h-1.2zM1169.1,599.3h1.2v1.2h-1.2zM1165.4,629.4h0.9v0.9h-0.9zM1151.1,565.4h1.1v1.1h-1.1zM1170.5,592.1h1.1v1.1h-1.1zM1169.3,584.0h1.1v1.1h-1.1zM1166.5,611.6h0.7v0.7h-0.7zM1150.5,585.4h0.8v0.8h-0.8zM1160.9,587.1h0.8v0.8h-0.8zM1156.3,570.2h0.8v0.8h-0.8zM1164.1,581.4h1.1v1.1h-1.1zM1168.6,595.3h0.8v0.8h-0.8zM1163.8,628.8h1.1v1.1h-1.1zM1154.0,576.1h0.6v0.6h-0.6zM1170.1,581.3h0.8v0.8h-0.8zM1166.3,582.2h1.0v1.0h-1.0zM1149.8,591.2h0.6v0.6h-0.6zM1167.4,581.8h1.1v1.1h-1.1zM1166.0,568.2h0.8v0.8h-0.8zM1166.9,612.9h0.9v0.9h-0.9zM1152.3,572.6h0.8v0.8h-0.8zM1160.2,610.5h1.1v1.1h-1.1zM1164.6,602.8h0.9v0.9h-0.9zM1162.9,563.5h0.6v0.6h-0.6zM1161.4,593.1h1.1v1.1h-1.1zM1154.5,586.6h0.8v0.8h-0.8zM1163.8,622.1h0.7v0.7h-0.7zM1157.9,612.6h1.0v1.0h-1.0zM1166.3,572.3h1.0v1.0h-1.0zM1159.3,628.7h0.7v0.7h-0.7zM1167.9,630.9h1.0v1.0h-1.0zM1153.1,586.6h0.8v0.8h-0.8zM1168.8,572.9h0.8v0.8h-0.8zM1157.5,601.0h1.0v1.0h-1.0zM1150.1,577.7h0.6v0.6h-0.6zM1160.2,610.0h1.1v1.1h-1.1zM1165.4,572.2h1.2v1.2h-1.2zM1149.8,574.7h1.0v1.0h-1.0zM1163.6,589.9h1.0v1.0h-1.0zM1159.3,583.9h0.8v0.8h-0.8zM1158.8,568.0h1.0v1.0h-1.0zM1153.1,604.7h1.2v1.2h-1.2zM1167.3,623.3h0.7v0.7h-0.7zM1167.1,560.5h0.7v0.7h-0.7zM1155.5,612.4h1.2v1.2h-1.2zM1154.1,598.4h0.8v0.8h-0.8zM1165.3,560.3h1.1v1.1h-1.1zM1156.0,573.4h1.1v1.1h-1.1zM1165.4,621.0h1.1v1.1h-1.1zM1159.4,593.0h1.1v1.1h-1.1zM1160.3,578.5h1.0v1.0h-1.0zM1159.0,619.0h1.1v1.1h-1.1zM1166.8,564.9h0.9v0.9h-0.9zM1159.2,563.1h0.8v0.8h-0.8zM1149.6,614.6h0.7v0.7h-0.7zM1153.3,627.0h0.8v0.8h-0.8zM1164.5,611.3h1.0v1.0h-1.0zM1151.1,576.4h1.1v1.1h-1.1zM1158.0,583.0h0.9v0.9h-0.9zM1150.2,614.9h1.1v1.1h-1.1zM1170.7,584.1h1.0v1.0h-1.0zM1170.0,626.6h0.9v0.9h-0.9zM1170.4,601.8h0.9v0.9h-0.9zM1162.1,574.0h0.8v0.8h-0.8zM1160.5,620.9h0.9v0.9h-0.9zM1157.0,635.2h0.6v0.6h-0.6zM1153.3,586.7h1.2v1.2h-1.2zM1159.7,590.8h1.1v1.1h-1.1zM1154.5,621.9h0.6v0.6h-0.6zM1162.5,632.8h1.0v1.0h-1.0zM1154.8,576.1h1.1v1.1h-1.1zM1155.2,632.0h0.9v0.9h-0.9zM1151.6,616.4h1.0v1.0h-1.0zM1164.1,560.3h0.8v0.8h-0.8zM1160.2,630.8h0.7v0.7h-0.7zM1158.9,586.9h1.0v1.0h-1.0zM1159.3,584.4h0.9v0.9h-0.9zM1161.4,562.7h0.8v0.8h-0.8zM1155.0,581.1h0.8v0.8h-0.8zM1155.5,588.1h1.0v1.0h-1.0zM1154.5,633.8h0.6v0.6h-0.6zM1155.9,616.1h1.0v1.0h-1.0zM1156.1,581.6h1.0v1.0h-1.0zM1157.7,622.3h1.1v1.1h-1.1zM1152.7,612.0h0.7v0.7h-0.7zM1161.8,629.3h1.0v1.0h-1.0zM1168.7,586.0h0.8v0.8h-0.8zM1161.3,587.6h0.9v0.9h-0.9zM1155.0,575.7h1.0v1.0h-1.0zM1151.9,577.4h0.7v0.7h-0.7zM1164.6,571.8h0.8v0.8h-0.8zM1168.3,600.2h0.9v0.9h-0.9zM1156.6,599.8h1.1v1.1h-1.1zM1157.3,570.3h0.7v0.7h-0.7zM1164.8,596.8h1.2v1.2h-1.2zM1154.3,615.2h0.8v0.8h-0.8zM1155.6,615.5h0.8v0.8h-0.8zM1154.3,594.5h0.9v0.9h-0.9zM1151.3,636.3h0.8v0.8h-0.8zM1157.4,569.4h0.7v0.7h-0.7zM1153.4,565.1h0.9v0.9h-0.9zM1163.6,625.8h0.8v0.8h-0.8zM1167.1,617.8h0.6v0.6h-0.6zM1153.7,575.2h1.1v1.1h-1.1zM1165.8,564.4h0.7v0.7h-0.7zM1153.0,608.5h0.9v0.9h-0.9zM1170.2,624.8h0.8v0.8h-0.8zM1155.4,598.6h0.8v0.8h-0.8zM1166.9,574.5h1.1v1.1h-1.1zM1162.4,590.2h1.2v1.2h-1.2zM1157.1,619.6h1.2v1.2h-1.2zM1169.0,636.2h0.9v0.9h-0.9zM1166.4,624.6h0.8v0.8h-0.8zM1159.4,631.3h1.1v1.1h-1.1zM1156.1,619.9h0.7v0.7h-0.7zM1158.1,604.2h0.8v0.8h-0.8zM1149.6,604.3h1.0v1.0h-1.0zM1164.0,572.5h0.6v0.6h-0.6zM1150.4,601.9h0.6v0.6h-0.6zM1153.9,598.4h0.8v0.8h-0.8zM1164.5,570.0h0.9v0.9h-0.9zM1158.7,574.8h1.1v1.1h-1.1zM1169.9,634.7h0.8v0.8h-0.8zM1149.9,613.9h1.1v1.1h-1.1zM1157.1,582.7h1.1v1.1h-1.1zM1161.6,605.7h1.0v1.0h-1.0zM1160.9,623.4h0.9v0.9h-0.9zM1165.6,560.3h0.9v0.9h-0.9zM1169.3,597.5h1.0v1.0h-1.0zM1161.1,632.2h0.6v0.6h-0.6zM1155.6,572.5h1.1v1.1h-1.1zM1170.9,574.4h0.8v0.8h-0.8zM1154.8,606.7h1.0v1.0h-1.0zM1155.0,624.0h0.9v0.9h-0.9zM1160.3,588.0h0.9v0.9h-0.9zM1150.1,562.6h1.2v1.2h-1.2zM1155.8,586.9h1.2v1.2h-1.2z' fill='#2b2b2b' opacity='0.6'/><clipPath id='cp332876683'><rect x='1150.4' y='563.5' width='20.0' height='69.0' rx='3'/></clipPath><path d='M1150.4,549.5L1170.4,540.5M1150.4,553.9L1170.4,544.9M1150.4,558.3L1170.4,549.3M1150.4,562.7L1170.4,553.7M1150.4,567.1L1170.4,558.1M1150.4,571.5L1170.4,562.5M1150.4,575.9L1170.4,566.9M1150.4,580.3L1170.4,571.3M1150.4,584.7L1170.4,575.7M1150.4,589.1L1170.4,580.1M1150.4,593.5L1170.4,584.5M1150.4,597.9L1170.4,588.9M1150.4,602.3L1170.4,593.3M1150.4,606.7L1170.4,597.7M1150.4,611.1L1170.4,602.1M1150.4,615.5L1170.4,606.5M1150.4,619.9L1170.4,610.9M1150.4,624.3L1170.4,615.3M1150.4,628.7L1170.4,619.7M1150.4,633.1L1170.4,624.1M1150.4,637.5L1170.4,628.5M1150.4,641.9L1170.4,632.9M1150.4,646.3L1170.4,637.3' stroke='#2b2b2b' stroke-width='1.8' clip-path='url(#cp332876683)' fill='none'/><rect x='1148.9' y='558.5' width='23.0' height='5.5' rx='1.5' fill='#3a3a3a'/><rect x='1175.4' y='558.5' width='8' height='80' fill='#f6f6f6' stroke='#2b2b2b' stroke-width='1.4'/><rect x='1183.4' y='560.5' width='5' height='76' fill='#bbb' stroke='#2b2b2b' stroke-width='1'/><rect x='1188.4' y='558.5' width='22.0' height='80.0' rx='3' fill='#e2e2e2' stroke='#2b2b2b' stroke-width='2.4'/><path d='M1194.6,587.7h1.2v1.2h-1.2zM1197.6,587.6h1.0v1.0h-1.0zM1193.7,579.4h0.7v0.7h-0.7zM1197.9,581.2h0.8v0.8h-0.8zM1201.7,574.8h0.9v0.9h-0.9zM1200.3,581.5h0.9v0.9h-0.9zM1204.4,609.6h1.1v1.1h-1.1zM1202.0,628.8h0.7v0.7h-0.7zM1205.4,609.7h1.1v1.1h-1.1zM1190.3,580.0h0.6v0.6h-0.6zM1199.9,567.6h0.8v0.8h-0.8zM1203.2,614.3h0.8v0.8h-0.8zM1203.0,592.2h1.1v1.1h-1.1zM1203.1,622.5h0.7v0.7h-0.7zM1199.0,585.5h1.0v1.0h-1.0zM1190.1,606.3h1.2v1.2h-1.2zM1203.1,625.9h0.7v0.7h-0.7zM1208.3,565.6h0.7v0.7h-0.7zM1198.6,565.1h1.0v1.0h-1.0zM1199.9,566.3h0.8v0.8h-0.8zM1193.6,587.1h0.6v0.6h-0.6zM1193.6,614.0h1.2v1.2h-1.2zM1202.8,564.4h1.1v1.1h-1.1zM1202.1,581.3h0.9v0.9h-0.9zM1192.6,594.2h1.1v1.1h-1.1zM1207.9,632.5h1.2v1.2h-1.2zM1205.3,567.1h1.1v1.1h-1.1zM1194.7,583.2h0.6v0.6h-0.6zM1192.5,575.9h1.1v1.1h-1.1zM1195.9,632.4h1.1v1.1h-1.1zM1201.7,604.9h1.0v1.0h-1.0zM1208.9,607.9h1.1v1.1h-1.1zM1207.1,624.6h0.8v0.8h-0.8zM1192.4,635.9h0.7v0.7h-0.7zM1196.7,563.1h1.1v1.1h-1.1zM1209.2,600.8h0.9v0.9h-0.9zM1209.4,620.5h0.9v0.9h-0.9zM1197.8,604.1h1.0v1.0h-1.0zM1193.2,625.3h0.9v0.9h-0.9zM1195.0,583.5h1.1v1.1h-1.1zM1192.8,613.9h0.6v0.6h-0.6zM1202.4,625.5h0.9v0.9h-0.9zM1209.4,589.9h0.8v0.8h-0.8zM1191.8,567.1h0.9v0.9h-0.9zM1203.0,626.2h0.8v0.8h-0.8zM1202.1,598.4h1.1v1.1h-1.1zM1195.5,635.3h0.8v0.8h-0.8zM1194.1,591.1h0.6v0.6h-0.6zM1193.9,600.0h0.8v0.8h-0.8zM1195.8,574.7h1.1v1.1h-1.1zM1197.6,587.6h1.0v1.0h-1.0zM1191.2,560.9h1.1v1.1h-1.1zM1202.9,601.2h1.2v1.2h-1.2zM1203.5,603.2h0.8v0.8h-0.8zM1192.9,598.4h1.0v1.0h-1.0zM1199.4,625.2h1.1v1.1h-1.1zM1190.5,614.4h0.9v0.9h-0.9zM1190.3,561.2h1.0v1.0h-1.0zM1193.0,597.6h1.2v1.2h-1.2zM1193.2,585.8h1.1v1.1h-1.1zM1207.9,583.0h0.7v0.7h-0.7zM1205.3,612.7h1.0v1.0h-1.0zM1196.7,614.3h0.7v0.7h-0.7zM1195.3,633.4h0.7v0.7h-0.7zM1199.9,585.2h1.1v1.1h-1.1zM1204.2,629.5h0.9v0.9h-0.9zM1199.1,587.1h0.9v0.9h-0.9zM1196.8,598.4h0.9v0.9h-0.9zM1202.2,594.6h1.1v1.1h-1.1zM1197.1,605.9h0.8v0.8h-0.8zM1193.0,599.7h0.9v0.9h-0.9zM1196.5,625.0h1.0v1.0h-1.0zM1201.5,632.7h0.9v0.9h-0.9zM1200.2,586.3h0.7v0.7h-0.7zM1202.5,579.9h0.9v0.9h-0.9zM1207.8,568.6h0.7v0.7h-0.7zM1202.1,616.2h1.0v1.0h-1.0zM1206.1,635.5h0.8v0.8h-0.8zM1189.9,592.7h0.6v0.6h-0.6zM1203.2,573.5h0.9v0.9h-0.9zM1198.5,622.2h0.9v0.9h-0.9zM1207.0,591.8h0.7v0.7h-0.7zM1198.7,583.5h1.0v1.0h-1.0zM1194.2,591.4h1.0v1.0h-1.0zM1207.1,598.0h1.1v1.1h-1.1zM1203.8,607.6h0.6v0.6h-0.6zM1190.2,599.5h0.9v0.9h-0.9zM1192.6,626.0h0.8v0.8h-0.8zM1205.8,573.0h0.9v0.9h-0.9zM1208.6,574.1h0.6v0.6h-0.6zM1206.5,559.6h0.9v0.9h-0.9zM1207.9,599.9h0.8v0.8h-0.8zM1200.1,585.8h0.8v0.8h-0.8zM1190.6,628.4h1.2v1.2h-1.2zM1207.2,610.3h0.9v0.9h-0.9zM1207.8,610.5h0.9v0.9h-0.9zM1207.8,624.9h0.7v0.7h-0.7zM1206.9,609.2h1.0v1.0h-1.0zM1193.5,606.1h0.6v0.6h-0.6zM1204.9,635.4h1.0v1.0h-1.0zM1203.9,568.8h1.0v1.0h-1.0zM1195.0,632.5h1.0v1.0h-1.0zM1192.7,601.2h0.6v0.6h-0.6zM1195.9,628.4h1.0v1.0h-1.0zM1198.9,604.9h0.8v0.8h-0.8zM1190.9,626.5h1.0v1.0h-1.0zM1190.3,593.5h1.0v1.0h-1.0zM1205.2,627.9h0.7v0.7h-0.7zM1204.6,588.9h0.8v0.8h-0.8zM1189.8,579.1h1.0v1.0h-1.0zM1189.5,601.8h1.1v1.1h-1.1zM1193.1,579.3h1.0v1.0h-1.0zM1194.8,590.8h1.0v1.0h-1.0zM1194.5,563.0h1.2v1.2h-1.2zM1199.7,588.2h0.7v0.7h-0.7zM1205.2,635.1h0.9v0.9h-0.9zM1193.9,568.8h0.9v0.9h-0.9zM1198.5,596.0h1.0v1.0h-1.0zM1197.7,599.0h1.1v1.1h-1.1zM1190.7,565.4h1.0v1.0h-1.0zM1192.1,624.8h0.6v0.6h-0.6zM1199.6,578.0h0.9v0.9h-0.9zM1196.9,574.1h1.2v1.2h-1.2zM1203.1,628.2h0.9v0.9h-0.9zM1195.2,626.9h0.7v0.7h-0.7zM1208.6,622.8h0.7v0.7h-0.7zM1196.7,562.0h1.1v1.1h-1.1zM1200.4,629.8h1.0v1.0h-1.0zM1208.0,581.7h0.7v0.7h-0.7zM1196.1,591.6h1.0v1.0h-1.0zM1206.1,571.4h0.9v0.9h-0.9zM1207.1,605.7h1.1v1.1h-1.1zM1196.2,632.7h0.8v0.8h-0.8zM1191.2,602.2h0.7v0.7h-0.7zM1197.0,595.2h1.0v1.0h-1.0zM1209.3,572.1h0.8v0.8h-0.8zM1206.1,626.9h0.7v0.7h-0.7zM1199.5,612.2h1.1v1.1h-1.1zM1202.8,561.9h0.9v0.9h-0.9zM1195.8,599.5h1.1v1.1h-1.1zM1191.1,587.7h1.2v1.2h-1.2zM1195.9,571.9h1.1v1.1h-1.1zM1194.4,608.3h1.0v1.0h-1.0zM1203.3,593.9h1.0v1.0h-1.0zM1207.1,567.3h1.1v1.1h-1.1zM1205.4,623.6h0.7v0.7h-0.7zM1194.3,584.0h1.1v1.1h-1.1zM1198.0,562.7h0.7v0.7h-0.7zM1197.6,563.1h1.0v1.0h-1.0zM1189.5,592.7h1.1v1.1h-1.1zM1203.5,621.6h1.2v1.2h-1.2zM1200.8,614.2h0.8v0.8h-0.8zM1197.4,621.7h0.9v0.9h-0.9zM1202.0,613.9h0.8v0.8h-0.8zM1202.5,609.6h1.0v1.0h-1.0zM1194.4,609.7h0.9v0.9h-0.9z' fill='#2b2b2b' opacity='0.6'/><clipPath id='cp451277890'><rect x='1190.4' y='563.5' width='18.0' height='69.0' rx='3'/></clipPath><path d='M1190.4,550.4L1208.4,542.3M1190.4,554.8L1208.4,546.7M1190.4,559.2L1208.4,551.1M1190.4,563.6L1208.4,555.5M1190.4,568.0L1208.4,559.9M1190.4,572.4L1208.4,564.3M1190.4,576.8L1208.4,568.7M1190.4,581.2L1208.4,573.1M1190.4,585.6L1208.4,577.5M1190.4,590.0L1208.4,581.9M1190.4,594.4L1208.4,586.3M1190.4,598.8L1208.4,590.7M1190.4,603.2L1208.4,595.1M1190.4,607.6L1208.4,599.5M1190.4,612.0L1208.4,603.9M1190.4,616.4L1208.4,608.3M1190.4,620.8L1208.4,612.7M1190.4,625.2L1208.4,617.1M1190.4,629.6L1208.4,621.5M1190.4,634.0L1208.4,625.9M1190.4,638.4L1208.4,630.3M1190.4,642.8L1208.4,634.7' stroke='#2b2b2b' stroke-width='1.8' clip-path='url(#cp451277890)' fill='none'/><rect x='1188.9' y='558.5' width='21.0' height='5.5' rx='1.5' fill='#3a3a3a'/><path d='M1210.4,573.8L1320.4,573.8L1316.9,577.5L1320.4,581.1L1316.9,584.8L1320.4,588.4L1316.9,592.1L1320.4,595.7L1316.9,599.4L1320.4,603.1L1316.9,606.7L1320.4,610.4L1316.9,614.0L1320.4,617.7L1316.9,621.3L1320.4,625.0L1210.4,625.0Z' fill='#f7f7f7' stroke='none'/><path d='M1210.4,573.8L1320.4,573.8L1316.9,577.5L1320.4,581.1L1316.9,584.8L1320.4,588.4L1316.9,592.1L1320.4,595.7L1316.9,599.4L1320.4,603.1L1316.9,606.7L1320.4,610.4L1316.9,614.0L1320.4,617.7L1316.9,621.3L1320.4,625.0L1210.4,625.0' fill='none' stroke='#2b2b2b' stroke-width='1.4'/><path d='M1227.1,602.5h0.7v0.7h-0.7zM1292.4,602.7h0.6v0.6h-0.6zM1312.8,602.4h1.2v1.2h-1.2zM1306.9,603.0h0.9v0.9h-0.9zM1282.4,602.5h0.7v0.7h-0.7zM1212.5,604.1h1.2v1.2h-1.2zM1286.0,602.7h1.2v1.2h-1.2zM1246.5,601.1h1.1v1.1h-1.1zM1303.5,602.8h1.0v1.0h-1.0zM1275.7,601.8h0.9v0.9h-0.9zM1219.5,603.0h1.2v1.2h-1.2zM1248.7,603.7h1.1v1.1h-1.1zM1283.2,600.5h0.9v0.9h-0.9zM1274.5,604.8h0.6v0.6h-0.6zM1223.0,600.6h1.2v1.2h-1.2zM1228.6,602.7h0.8v0.8h-0.8zM1283.8,602.0h0.8v0.8h-0.8zM1267.1,604.9h1.2v1.2h-1.2zM1267.5,603.8h1.2v1.2h-1.2zM1285.4,603.2h1.1v1.1h-1.1zM1224.1,602.9h0.8v0.8h-0.8zM1263.8,599.9h0.8v0.8h-0.8zM1265.6,604.4h1.3v1.3h-1.3zM1312.8,603.2h1.2v1.2h-1.2zM1252.6,600.1h0.8v0.8h-0.8zM1282.1,602.9h0.7v0.7h-0.7zM1234.7,603.6h1.3v1.3h-1.3zM1258.2,602.6h1.2v1.2h-1.2zM1288.7,603.5h1.0v1.0h-1.0zM1296.6,601.4h0.6v0.6h-0.6zM1295.9,603.6h0.7v0.7h-0.7zM1309.3,602.2h0.9v0.9h-0.9zM1220.5,600.3h1.2v1.2h-1.2zM1285.2,602.9h1.0v1.0h-1.0zM1249.1,604.2h1.3v1.3h-1.3zM1221.4,601.0h1.1v1.1h-1.1zM1283.4,604.2h0.7v0.7h-0.7zM1254.5,602.3h0.6v0.6h-0.6zM1270.8,600.4h0.9v0.9h-0.9zM1291.4,600.0h1.3v1.3h-1.3zM1289.4,601.6h0.7v0.7h-0.7zM1283.2,602.0h1.3v1.3h-1.3zM1260.8,603.2h0.8v0.8h-0.8zM1227.6,601.9h0.8v0.8h-0.8zM1264.5,600.9h1.1v1.1h-1.1zM1300.7,603.6h0.8v0.8h-0.8zM1217.9,604.0h0.9v0.9h-0.9zM1312.9,600.1h1.0v1.0h-1.0zM1300.7,601.3h0.9v0.9h-0.9zM1239.1,599.5h1.3v1.3h-1.3zM1253.7,604.5h0.6v0.6h-0.6zM1305.2,602.4h1.2v1.2h-1.2zM1243.8,600.8h0.9v0.9h-0.9zM1254.7,601.4h0.7v0.7h-0.7zM1215.4,599.5h0.7v0.7h-0.7zM1233.5,604.5h1.1v1.1h-1.1zM1270.2,599.8h0.8v0.8h-0.8zM1310.4,604.9h1.2v1.2h-1.2zM1249.5,603.4h0.8v0.8h-0.8zM1278.6,602.7h1.0v1.0h-1.0zM1217.9,600.8h0.8v0.8h-0.8zM1265.8,601.3h0.9v0.9h-0.9zM1263.5,602.9h0.9v0.9h-0.9zM1248.0,602.9h1.0v1.0h-1.0zM1288.6,603.3h0.7v0.7h-0.7zM1248.9,603.3h1.1v1.1h-1.1zM1305.8,603.9h1.0v1.0h-1.0zM1275.3,601.1h1.0v1.0h-1.0zM1250.1,601.4h0.8v0.8h-0.8zM1310.9,605.3h0.8v0.8h-0.8zM1265.4,599.8h1.2v1.2h-1.2zM1240.0,604.6h0.8v0.8h-0.8zM1265.3,603.6h1.0v1.0h-1.0zM1305.8,603.9h0.9v0.9h-0.9zM1252.6,601.8h0.9v0.9h-0.9zM1297.5,599.6h0.8v0.8h-0.8zM1284.4,600.1h1.2v1.2h-1.2zM1248.7,604.8h0.8v0.8h-0.8zM1291.9,604.7h0.8v0.8h-0.8zM1270.6,604.2h1.3v1.3h-1.3zM1271.5,604.9h1.2v1.2h-1.2zM1312.4,600.7h0.9v0.9h-0.9zM1275.7,603.2h0.7v0.7h-0.7zM1271.6,605.1h1.0v1.0h-1.0zM1231.0,601.3h1.2v1.2h-1.2zM1255.6,599.9h0.8v0.8h-0.8zM1271.3,600.4h0.9v0.9h-0.9zM1262.2,603.5h0.8v0.8h-0.8zM1231.8,602.3h0.7v0.7h-0.7zM1270.1,601.8h1.2v1.2h-1.2zM1231.4,602.7h0.8v0.8h-0.8zM1226.6,600.2h1.0v1.0h-1.0zM1265.9,603.2h1.1v1.1h-1.1zM1220.2,605.4h1.3v1.3h-1.3zM1239.2,600.4h1.2v1.2h-1.2zM1221.1,603.3h0.8v0.8h-0.8zM1311.8,600.2h0.9v0.9h-0.9zM1225.4,600.2h1.1v1.1h-1.1zM1293.5,600.4h1.3v1.3h-1.3zM1227.8,601.2h0.8v0.8h-0.8zM1238.6,603.1h0.6v0.6h-0.6zM1295.4,604.4h1.3v1.3h-1.3zM1279.2,600.2h0.8v0.8h-0.8zM1225.8,605.1h1.0v1.0h-1.0zM1286.1,604.1h1.1v1.1h-1.1zM1312.1,600.5h0.9v0.9h-0.9zM1261.1,603.2h1.0v1.0h-1.0zM1238.2,601.3h1.1v1.1h-1.1zM1220.2,604.5h0.7v0.7h-0.7zM1256.2,604.8h0.7v0.7h-0.7zM1265.8,600.7h0.7v0.7h-0.7zM1275.4,604.9h0.9v0.9h-0.9zM1306.8,601.4h1.1v1.1h-1.1zM1301.9,600.5h1.1v1.1h-1.1zM1241.4,601.8h0.7v0.7h-0.7zM1304.8,601.2h0.9v0.9h-0.9zM1299.5,601.9h1.0v1.0h-1.0zM1272.9,604.2h0.9v0.9h-0.9zM1303.5,600.8h1.3v1.3h-1.3zM1213.6,604.4h1.0v1.0h-1.0zM1302.6,600.4h0.7v0.7h-0.7zM1291.8,601.9h0.8v0.8h-0.8zM1299.5,603.1h0.7v0.7h-0.7zM1271.9,603.1h0.6v0.6h-0.6zM1266.3,603.1h0.7v0.7h-0.7zM1304.9,601.7h1.0v1.0h-1.0zM1245.0,602.1h1.3v1.3h-1.3zM1251.7,602.3h0.8v0.8h-0.8zM1254.3,601.2h1.3v1.3h-1.3zM1308.8,600.3h1.1v1.1h-1.1zM1304.5,603.5h1.3v1.3h-1.3zM1240.4,605.0h1.1v1.1h-1.1zM1282.5,602.2h1.1v1.1h-1.1zM1309.8,600.5h0.6v0.6h-0.6zM1278.0,599.8h1.2v1.2h-1.2zM1300.2,605.5h0.7v0.7h-0.7zM1256.6,599.8h1.1v1.1h-1.1zM1224.3,600.1h0.7v0.7h-0.7zM1229.0,604.8h1.2v1.2h-1.2zM1284.6,603.7h0.9v0.9h-0.9zM1233.3,600.6h0.7v0.7h-0.7zM1221.7,601.1h1.0v1.0h-1.0zM1219.7,602.9h0.9v0.9h-0.9zM1243.8,599.9h0.9v0.9h-0.9zM1300.1,603.9h1.1v1.1h-1.1zM1243.5,600.5h1.1v1.1h-1.1zM1221.2,602.2h0.9v0.9h-0.9zM1232.1,599.7h0.8v0.8h-0.8zM1271.3,602.5h1.2v1.2h-1.2zM1278.2,605.3h0.8v0.8h-0.8zM1243.7,601.6h0.7v0.7h-0.7zM1241.3,602.5h0.9v0.9h-0.9zM1242.4,604.2h1.1v1.1h-1.1zM1307.4,602.7h1.0v1.0h-1.0zM1273.9,605.1h0.8v0.8h-0.8zM1300.3,602.5h1.1v1.1h-1.1zM1293.2,601.2h1.0v1.0h-1.0zM1259.0,600.4h0.9v0.9h-0.9zM1310.7,601.5h0.7v0.7h-0.7zM1283.1,602.3h1.0v1.0h-1.0zM1225.5,602.6h0.9v0.9h-0.9zM1271.4,602.3h1.0v1.0h-1.0zM1314.3,600.1h0.6v0.6h-0.6zM1248.4,600.1h0.6v0.6h-0.6zM1289.5,604.5h0.6v0.6h-0.6zM1231.6,600.7h0.9v0.9h-0.9zM1314.5,599.9h0.9v0.9h-0.9zM1266.8,600.6h0.8v0.8h-0.8zM1285.0,603.6h1.2v1.2h-1.2zM1284.4,601.5h0.7v0.7h-0.7zM1214.1,603.5h1.2v1.2h-1.2zM1284.8,603.1h0.9v0.9h-0.9zM1217.3,602.2h0.7v0.7h-0.7zM1242.8,604.1h1.0v1.0h-1.0zM1304.4,604.7h1.1v1.1h-1.1zM1308.8,600.3h1.1v1.1h-1.1zM1277.6,602.8h0.7v0.7h-0.7zM1263.8,605.0h1.1v1.1h-1.1zM1308.2,604.2h0.6v0.6h-0.6zM1253.7,604.6h1.1v1.1h-1.1zM1262.9,602.2h0.9v0.9h-0.9zM1250.3,601.6h0.9v0.9h-0.9zM1273.3,600.3h0.7v0.7h-0.7zM1277.4,602.9h0.9v0.9h-0.9zM1266.0,601.6h1.3v1.3h-1.3zM1243.1,602.7h0.8v0.8h-0.8zM1274.4,601.3h0.9v0.9h-0.9zM1217.4,601.5h0.9v0.9h-0.9zM1275.9,604.1h0.6v0.6h-0.6z' fill='#2b2b2b' opacity='0.8'/><rect x='1211.4' y='600.424' width='104.0' height='15.360000000000014' fill='#ececec'/><path d='M1245.6,613.5h0.8v0.8h-0.8zM1305.8,615.6h0.9v0.9h-0.9zM1308.7,614.3h0.9v0.9h-0.9zM1226.3,614.9h0.7v0.7h-0.7zM1269.5,613.4h0.8v0.8h-0.8zM1253.2,615.4h0.8v0.8h-0.8zM1291.4,613.5h0.8v0.8h-0.8zM1266.8,613.7h0.7v0.7h-0.7zM1214.5,613.2h0.7v0.7h-0.7zM1282.5,614.5h0.9v0.9h-0.9zM1221.8,613.4h1.1v1.1h-1.1zM1226.5,613.2h0.8v0.8h-0.8zM1259.9,615.4h1.0v1.0h-1.0zM1272.5,614.1h0.8v0.8h-0.8zM1314.1,613.1h0.8v0.8h-0.8zM1291.0,614.8h0.6v0.6h-0.6zM1296.1,615.6h0.9v0.9h-0.9zM1230.2,615.5h0.6v0.6h-0.6zM1214.0,614.9h0.9v0.9h-0.9zM1292.8,614.3h0.5v0.5h-0.5zM1216.3,614.7h1.0v1.0h-1.0zM1248.1,615.1h0.7v0.7h-0.7zM1259.5,614.8h0.9v0.9h-0.9zM1279.1,613.1h0.9v0.9h-0.9zM1292.8,615.0h0.9v0.9h-0.9zM1273.5,613.5h1.1v1.1h-1.1zM1312.5,613.5h0.9v0.9h-0.9zM1289.9,614.2h0.7v0.7h-0.7zM1248.7,613.2h1.0v1.0h-1.0zM1265.8,615.8h0.6v0.6h-0.6zM1313.5,614.7h0.8v0.8h-0.8zM1223.4,612.9h0.8v0.8h-0.8zM1225.0,614.7h0.6v0.6h-0.6zM1307.3,614.7h0.5v0.5h-0.5zM1301.1,614.8h0.6v0.6h-0.6zM1250.9,614.8h1.0v1.0h-1.0zM1253.5,615.2h1.1v1.1h-1.1zM1310.5,614.6h1.0v1.0h-1.0zM1220.1,614.9h1.0v1.0h-1.0zM1248.2,615.3h0.7v0.7h-0.7zM1298.3,613.7h0.8v0.8h-0.8zM1276.5,613.1h0.6v0.6h-0.6zM1248.3,614.0h0.9v0.9h-0.9zM1311.4,615.6h0.6v0.6h-0.6zM1285.4,613.1h0.5v0.5h-0.5zM1222.7,615.5h0.9v0.9h-0.9zM1265.9,614.5h0.9v0.9h-0.9zM1223.2,614.2h1.0v1.0h-1.0zM1215.7,614.9h0.5v0.5h-0.5zM1267.5,613.3h0.5v0.5h-0.5zM1218.9,614.0h1.1v1.1h-1.1zM1227.4,614.1h0.7v0.7h-0.7zM1250.0,613.4h0.7v0.7h-0.7zM1313.3,613.1h1.0v1.0h-1.0zM1294.2,614.1h0.9v0.9h-0.9zM1269.2,615.8h0.5v0.5h-0.5zM1290.5,615.2h0.9v0.9h-0.9zM1312.4,612.9h0.9v0.9h-0.9zM1289.3,612.9h0.8v0.8h-0.8zM1296.6,614.8h0.7v0.7h-0.7zM1296.6,615.5h0.6v0.6h-0.6zM1238.1,615.2h1.0v1.0h-1.0zM1256.6,615.8h1.1v1.1h-1.1zM1273.7,613.9h0.6v0.6h-0.6zM1213.7,613.9h0.8v0.8h-0.8zM1221.2,613.4h1.0v1.0h-1.0zM1289.2,613.8h0.6v0.6h-0.6zM1308.4,615.5h1.0v1.0h-1.0zM1282.7,614.8h0.7v0.7h-0.7zM1269.9,612.7h0.7v0.7h-0.7zM1231.5,613.1h0.9v0.9h-0.9zM1258.0,613.7h1.0v1.0h-1.0zM1278.3,614.8h1.0v1.0h-1.0zM1231.5,614.1h0.5v0.5h-0.5zM1288.1,615.0h0.5v0.5h-0.5zM1247.7,612.9h1.0v1.0h-1.0zM1274.8,613.5h0.9v0.9h-0.9zM1308.4,615.4h0.7v0.7h-0.7zM1214.8,613.8h0.7v0.7h-0.7zM1285.2,613.7h1.0v1.0h-1.0zM1241.1,615.5h1.1v1.1h-1.1zM1268.2,612.8h1.0v1.0h-1.0zM1300.6,613.1h0.9v0.9h-0.9zM1221.9,613.7h0.7v0.7h-0.7zM1228.5,614.7h1.1v1.1h-1.1zM1264.3,615.6h0.7v0.7h-0.7zM1225.6,613.6h1.0v1.0h-1.0zM1246.0,613.8h1.0v1.0h-1.0zM1275.1,613.9h1.0v1.0h-1.0zM1227.1,613.3h0.9v0.9h-0.9zM1263.2,614.8h1.0v1.0h-1.0zM1282.9,613.2h0.9v0.9h-0.9zM1236.6,613.0h0.7v0.7h-0.7zM1252.0,614.3h0.6v0.6h-0.6z' fill='#2b2b2b' opacity='0.7'/><path d='M1277.7,578.3h1.0v1.0h-1.0zM1261.8,580.6h0.9v0.9h-0.9zM1274.8,579.8h0.5v0.5h-0.5zM1306.0,581.3h1.0v1.0h-1.0zM1220.8,577.5h0.7v0.7h-0.7zM1230.4,577.7h0.5v0.5h-0.5zM1272.8,580.8h0.7v0.7h-0.7zM1298.4,580.8h0.8v0.8h-0.8zM1301.3,577.7h0.8v0.8h-0.8zM1278.8,576.4h1.0v1.0h-1.0zM1239.2,579.0h0.9v0.9h-0.9zM1261.7,577.0h1.0v1.0h-1.0zM1301.9,578.9h0.7v0.7h-0.7zM1213.0,578.0h1.0v1.0h-1.0zM1290.3,577.1h0.8v0.8h-0.8zM1221.2,578.9h1.0v1.0h-1.0zM1215.2,578.9h1.0v1.0h-1.0zM1222.5,578.7h0.9v0.9h-0.9zM1299.2,579.1h0.8v0.8h-0.8zM1268.1,579.8h1.0v1.0h-1.0zM1280.3,577.5h0.6v0.6h-0.6z' fill='#2b2b2b' opacity='0.5'/><path d='M927.7,597.3 L967.2,579.5 L967.2,589.2 L1068.8,589.2 L1068.8,604.5 L967.2,604.5 L967.2,613.4 Z' fill='#2b2b2b'/><path d='M872,618.7 V678.9 H936.2' fill='none' stroke='#2b2b2b' stroke-width='2'/><path d='M1154.3,678.6 H1212.3 V649.7' fill='none' stroke='#2b2b2b' stroke-width='2'/><rect x='741.3' y='907.5' width='11' height='109' fill='#f8f8f8'/><path d='M741.3,976.5 V907.5 H752.3 V1016.5' fill='none' stroke='#2b2b2b' stroke-width='1.4'/><path d='M741.3,979.5 V1016.5' fill='none' stroke='#2b2b2b' stroke-width='1' stroke-dasharray='3 4' opacity='0.7'/><path d='M752.3,916.5 H768.3 a3,3 0 0 1 3,3 V1016.5 H752.3 Z' fill='#c4c4c4' stroke='#2b2b2b' stroke-width='1.2'/><path d='M761.6,983.2h1.6v1.6h-1.6zM757.5,935.6h1.0v1.0h-1.0zM766.8,919.5h0.9v0.9h-0.9zM760.7,997.2h1.8v1.8h-1.8zM757.4,951.6h1.0v1.0h-1.0zM754.8,936.1h1.6v1.6h-1.6zM765.8,986.5h1.6v1.6h-1.6zM756.1,1013.4h1.4v1.4h-1.4zM757.3,997.0h1.1v1.1h-1.1zM752.6,992.5h1.0v1.0h-1.0zM771.1,1000.6h1.2v1.2h-1.2zM770.7,975.6h1.4v1.4h-1.4zM757.7,1006.6h1.5v1.5h-1.5zM757.8,947.7h1.2v1.2h-1.2zM758.5,1010.2h1.4v1.4h-1.4zM764.2,990.9h1.0v1.0h-1.0zM763.8,994.8h1.0v1.0h-1.0zM770.0,965.7h0.9v0.9h-0.9zM770.8,957.3h1.6v1.6h-1.6zM770.9,919.9h1.1v1.1h-1.1zM761.6,946.4h1.5v1.5h-1.5zM759.2,964.3h1.3v1.3h-1.3zM767.1,970.7h1.2v1.2h-1.2zM768.9,960.5h1.8v1.8h-1.8zM754.8,925.8h1.5v1.5h-1.5zM769.2,921.6h1.2v1.2h-1.2zM766.1,988.6h1.4v1.4h-1.4zM765.3,1003.6h1.4v1.4h-1.4zM759.5,937.2h1.2v1.2h-1.2zM767.8,1002.3h1.2v1.2h-1.2zM756.8,1014.3h0.9v0.9h-0.9zM759.7,957.2h1.5v1.5h-1.5zM753.1,984.6h0.9v0.9h-0.9zM756.2,960.7h1.6v1.6h-1.6zM756.0,981.9h0.9v0.9h-0.9zM755.3,947.2h1.0v1.0h-1.0zM767.6,974.0h1.6v1.6h-1.6zM761.2,972.2h0.9v0.9h-0.9zM770.0,947.9h1.5v1.5h-1.5zM768.4,957.2h1.2v1.2h-1.2zM766.8,996.9h1.7v1.7h-1.7zM760.0,950.4h1.4v1.4h-1.4zM763.6,983.8h1.6v1.6h-1.6zM764.3,941.7h1.6v1.6h-1.6zM767.0,1000.2h1.0v1.0h-1.0zM759.9,1001.8h1.3v1.3h-1.3zM755.3,920.3h1.5v1.5h-1.5zM752.9,951.1h1.3v1.3h-1.3zM755.5,962.2h1.6v1.6h-1.6zM753.7,948.9h1.5v1.5h-1.5zM764.1,972.8h1.2v1.2h-1.2zM759.0,1009.8h1.3v1.3h-1.3zM757.8,963.6h1.0v1.0h-1.0zM763.2,1010.6h1.5v1.5h-1.5zM752.4,1000.8h1.1v1.1h-1.1zM753.0,944.3h1.4v1.4h-1.4zM752.4,1015.5h1.3v1.3h-1.3zM752.5,984.8h1.8v1.8h-1.8zM752.7,932.4h1.0v1.0h-1.0zM759.2,954.6h0.9v0.9h-0.9zM770.6,993.2h1.2v1.2h-1.2zM764.3,964.4h1.6v1.6h-1.6zM756.9,1012.1h1.6v1.6h-1.6zM764.2,973.2h1.5v1.5h-1.5zM752.7,1005.5h1.3v1.3h-1.3zM756.1,952.4h1.5v1.5h-1.5zM767.2,938.1h1.2v1.2h-1.2zM771.1,922.8h1.3v1.3h-1.3zM770.4,988.7h1.4v1.4h-1.4zM760.8,923.5h1.6v1.6h-1.6zM758.8,923.9h1.8v1.8h-1.8zM754.0,963.4h1.5v1.5h-1.5zM762.6,956.0h1.6v1.6h-1.6zM757.0,986.6h1.3v1.3h-1.3zM770.6,1001.8h1.1v1.1h-1.1zM769.2,960.9h1.2v1.2h-1.2zM755.1,934.0h0.9v0.9h-0.9zM756.5,955.3h1.5v1.5h-1.5zM769.5,985.5h1.8v1.8h-1.8zM770.3,1003.3h1.2v1.2h-1.2zM753.1,975.7h1.2v1.2h-1.2zM770.9,919.0h1.8v1.8h-1.8zM757.7,984.4h1.6v1.6h-1.6zM761.4,993.8h1.7v1.7h-1.7zM754.6,998.1h1.8v1.8h-1.8zM768.0,975.7h1.4v1.4h-1.4zM754.2,972.6h1.2v1.2h-1.2zM756.7,1009.6h1.1v1.1h-1.1zM756.1,1002.4h1.4v1.4h-1.4zM769.0,933.9h1.7v1.7h-1.7zM760.3,1005.0h1.4v1.4h-1.4zM758.8,952.1h1.0v1.0h-1.0zM762.8,923.8h1.7v1.7h-1.7zM757.2,948.5h1.2v1.2h-1.2zM761.4,1009.0h1.0v1.0h-1.0zM759.0,970.7h1.4v1.4h-1.4zM768.9,970.5h1.5v1.5h-1.5zM765.0,953.8h1.3v1.3h-1.3zM756.3,927.9h1.8v1.8h-1.8zM765.1,928.2h1.7v1.7h-1.7zM760.1,957.9h1.6v1.6h-1.6zM757.9,984.8h1.6v1.6h-1.6zM765.0,933.1h1.0v1.0h-1.0zM766.6,977.4h1.2v1.2h-1.2zM770.1,971.8h1.8v1.8h-1.8zM755.8,999.4h1.8v1.8h-1.8zM755.5,936.6h1.3v1.3h-1.3zM758.4,975.3h1.0v1.0h-1.0zM753.0,926.0h1.0v1.0h-1.0zM758.8,995.4h1.4v1.4h-1.4zM755.4,976.1h1.8v1.8h-1.8zM770.6,930.1h1.5v1.5h-1.5zM753.9,1002.8h1.2v1.2h-1.2zM764.3,1007.9h1.3v1.3h-1.3zM758.3,922.2h1.5v1.5h-1.5zM765.1,984.5h1.0v1.0h-1.0zM758.7,944.0h1.0v1.0h-1.0zM754.4,939.3h1.7v1.7h-1.7zM768.8,977.4h1.2v1.2h-1.2zM758.5,1006.7h1.0v1.0h-1.0zM754.5,1011.1h1.1v1.1h-1.1zM770.4,945.9h1.0v1.0h-1.0zM758.4,1002.5h1.7v1.7h-1.7zM763.9,969.4h1.3v1.3h-1.3zM758.9,1010.3h1.3v1.3h-1.3zM754.4,975.1h1.2v1.2h-1.2zM758.3,1011.0h1.5v1.5h-1.5zM761.1,1008.9h1.1v1.1h-1.1zM755.7,1013.8h1.0v1.0h-1.0zM766.4,945.2h1.0v1.0h-1.0zM770.3,988.5h1.2v1.2h-1.2zM756.3,988.1h1.6v1.6h-1.6zM757.9,920.3h1.2v1.2h-1.2zM762.7,947.0h1.6v1.6h-1.6zM761.3,938.2h1.4v1.4h-1.4zM754.9,987.4h1.8v1.8h-1.8zM756.7,934.1h1.4v1.4h-1.4zM756.9,927.7h1.4v1.4h-1.4zM755.8,984.6h1.4v1.4h-1.4zM756.5,1007.3h1.4v1.4h-1.4zM767.3,995.1h1.1v1.1h-1.1zM756.5,945.4h1.4v1.4h-1.4zM766.3,928.7h1.1v1.1h-1.1zM752.6,996.5h1.7v1.7h-1.7zM763.6,975.1h1.3v1.3h-1.3zM758.5,954.0h0.9v0.9h-0.9zM756.7,964.3h1.2v1.2h-1.2zM764.0,931.6h1.2v1.2h-1.2zM770.0,938.5h1.8v1.8h-1.8zM752.3,1013.4h1.8v1.8h-1.8zM769.7,1016.1h1.8v1.8h-1.8zM761.8,997.9h1.1v1.1h-1.1zM767.8,933.5h1.7v1.7h-1.7zM766.9,984.9h1.6v1.6h-1.6zM758.5,997.4h1.7v1.7h-1.7zM764.4,984.8h1.1v1.1h-1.1zM759.9,987.8h1.4v1.4h-1.4zM762.7,930.0h0.9v0.9h-0.9zM761.4,998.7h1.8v1.8h-1.8zM755.0,1014.5h1.2v1.2h-1.2zM770.8,958.0h1.6v1.6h-1.6zM763.1,980.8h1.0v1.0h-1.0zM754.8,1007.1h1.0v1.0h-1.0zM764.0,1011.5h1.5v1.5h-1.5zM763.2,987.2h1.6v1.6h-1.6zM757.8,927.9h1.2v1.2h-1.2zM764.3,938.1h1.2v1.2h-1.2zM761.1,950.7h1.5v1.5h-1.5zM770.1,970.2h1.6v1.6h-1.6zM756.7,1005.8h1.7v1.7h-1.7zM754.4,918.1h1.3v1.3h-1.3zM757.0,917.3h1.0v1.0h-1.0zM767.9,965.5h1.5v1.5h-1.5zM761.7,927.3h1.8v1.8h-1.8zM770.1,961.2h1.8v1.8h-1.8zM765.1,958.4h1.0v1.0h-1.0zM771.1,920.3h1.3v1.3h-1.3zM758.5,989.5h1.2v1.2h-1.2zM753.3,955.5h0.9v0.9h-0.9zM763.5,1009.9h1.5v1.5h-1.5zM770.5,973.0h1.4v1.4h-1.4zM763.1,918.8h1.2v1.2h-1.2zM761.2,970.5h1.7v1.7h-1.7zM765.7,950.3h1.8v1.8h-1.8zM763.9,923.8h1.4v1.4h-1.4zM757.9,956.5h1.4v1.4h-1.4zM768.3,988.8h1.8v1.8h-1.8zM763.2,927.7h1.4v1.4h-1.4zM768.9,949.6h1.8v1.8h-1.8zM753.6,977.7h1.1v1.1h-1.1zM763.5,940.3h1.4v1.4h-1.4zM755.9,1009.0h1.7v1.7h-1.7zM762.0,933.5h1.4v1.4h-1.4zM756.2,1009.0h1.7v1.7h-1.7zM754.6,931.0h1.5v1.5h-1.5zM757.2,928.7h1.1v1.1h-1.1zM753.0,1003.0h1.0v1.0h-1.0zM753.7,944.6h0.9v0.9h-0.9zM767.2,992.9h1.4v1.4h-1.4zM771.0,1008.8h1.4v1.4h-1.4zM755.3,991.5h0.9v0.9h-0.9zM770.4,995.3h1.5v1.5h-1.5zM754.7,997.1h1.6v1.6h-1.6zM770.2,959.6h1.2v1.2h-1.2zM768.9,958.9h1.5v1.5h-1.5zM766.6,937.1h1.4v1.4h-1.4zM767.6,1014.7h1.1v1.1h-1.1zM758.7,962.5h1.0v1.0h-1.0zM752.3,982.6h1.6v1.6h-1.6zM760.2,930.2h1.3v1.3h-1.3zM754.6,979.0h1.0v1.0h-1.0zM757.5,921.9h1.4v1.4h-1.4zM769.8,984.8h1.0v1.0h-1.0zM754.9,983.4h1.0v1.0h-1.0zM763.6,920.2h1.0v1.0h-1.0zM769.1,956.5h1.2v1.2h-1.2zM753.3,989.6h1.4v1.4h-1.4zM765.9,926.2h1.2v1.2h-1.2zM758.4,917.3h1.3v1.3h-1.3zM762.3,966.4h1.5v1.5h-1.5zM760.8,963.7h1.1v1.1h-1.1zM760.0,939.6h1.3v1.3h-1.3zM764.7,964.5h1.1v1.1h-1.1zM766.6,930.1h1.6v1.6h-1.6zM769.1,936.7h1.1v1.1h-1.1zM762.9,920.3h1.4v1.4h-1.4zM761.6,995.3h1.1v1.1h-1.1zM766.5,924.3h1.4v1.4h-1.4zM760.3,953.8h1.3v1.3h-1.3zM758.7,987.0h1.5v1.5h-1.5zM752.4,959.0h1.2v1.2h-1.2zM764.8,999.6h1.6v1.6h-1.6zM769.4,1009.0h1.4v1.4h-1.4zM752.7,987.5h1.7v1.7h-1.7zM769.6,959.5h1.0v1.0h-1.0zM761.7,931.9h1.2v1.2h-1.2zM755.7,1000.7h1.8v1.8h-1.8zM768.0,975.3h1.7v1.7h-1.7zM769.7,958.8h1.2v1.2h-1.2zM758.0,935.7h1.6v1.6h-1.6zM758.4,957.3h1.7v1.7h-1.7zM763.6,920.5h1.5v1.5h-1.5zM754.1,966.4h1.1v1.1h-1.1zM767.1,973.3h1.3v1.3h-1.3zM766.7,1007.0h1.3v1.3h-1.3zM765.6,931.7h1.8v1.8h-1.8zM753.8,981.6h1.2v1.2h-1.2zM754.2,929.4h1.3v1.3h-1.3zM755.1,968.9h1.8v1.8h-1.8zM766.8,1004.3h1.3v1.3h-1.3zM755.8,920.6h1.4v1.4h-1.4zM760.1,984.4h1.2v1.2h-1.2zM757.7,980.2h1.7v1.7h-1.7zM760.9,993.5h0.9v0.9h-0.9zM762.0,1003.8h0.9v0.9h-0.9zM767.1,960.2h1.0v1.0h-1.0zM764.4,1014.3h1.2v1.2h-1.2zM754.8,969.5h1.0v1.0h-1.0zM770.8,979.6h1.3v1.3h-1.3zM753.7,953.7h0.9v0.9h-0.9zM754.9,964.8h1.2v1.2h-1.2zM761.4,984.5h0.9v0.9h-0.9zM770.2,979.2h1.4v1.4h-1.4zM753.0,1012.0h1.2v1.2h-1.2zM756.9,986.6h1.3v1.3h-1.3zM756.2,926.7h1.7v1.7h-1.7zM767.7,1013.4h1.5v1.5h-1.5zM760.5,1008.2h1.0v1.0h-1.0zM760.9,1003.1h1.4v1.4h-1.4zM767.4,994.2h1.2v1.2h-1.2zM770.5,919.6h1.6v1.6h-1.6zM752.5,928.1h0.9v0.9h-0.9zM755.9,972.7h1.3v1.3h-1.3zM763.1,1006.8h1.2v1.2h-1.2zM753.5,1006.5h1.8v1.8h-1.8zM770.6,1007.3h1.4v1.4h-1.4zM754.3,1009.1h1.8v1.8h-1.8zM759.1,934.3h0.9v0.9h-0.9zM760.0,939.6h1.2v1.2h-1.2zM758.8,996.6h1.3v1.3h-1.3zM755.5,976.0h1.3v1.3h-1.3zM753.7,963.4h1.2v1.2h-1.2zM757.2,1006.3h1.8v1.8h-1.8zM761.6,1005.7h1.3v1.3h-1.3zM768.7,967.5h1.2v1.2h-1.2zM758.3,1006.6h1.7v1.7h-1.7zM770.0,1008.9h1.1v1.1h-1.1zM752.9,985.0h1.4v1.4h-1.4zM758.7,941.1h1.6v1.6h-1.6zM767.0,931.2h1.2v1.2h-1.2zM758.5,944.5h1.6v1.6h-1.6zM752.6,950.1h1.6v1.6h-1.6zM753.6,959.7h1.8v1.8h-1.8zM770.8,986.9h1.6v1.6h-1.6zM764.1,957.5h0.9v0.9h-0.9zM761.5,916.9h1.0v1.0h-1.0zM762.1,1006.2h1.3v1.3h-1.3zM762.0,929.6h1.5v1.5h-1.5zM769.6,1014.9h0.9v0.9h-0.9zM756.8,963.2h1.3v1.3h-1.3zM769.7,988.6h1.4v1.4h-1.4zM755.6,983.9h1.3v1.3h-1.3zM765.3,916.5h1.2v1.2h-1.2zM758.5,957.1h1.4v1.4h-1.4zM767.3,969.2h1.1v1.1h-1.1zM761.5,973.6h0.9v0.9h-0.9zM763.4,972.7h1.5v1.5h-1.5zM765.1,992.3h1.0v1.0h-1.0zM758.3,943.6h1.5v1.5h-1.5zM769.2,953.0h1.6v1.6h-1.6zM752.6,941.7h1.4v1.4h-1.4zM769.3,989.7h1.7v1.7h-1.7zM770.6,943.4h1.7v1.7h-1.7zM755.4,974.2h1.1v1.1h-1.1zM754.4,948.6h1.5v1.5h-1.5zM765.5,932.4h1.2v1.2h-1.2zM770.7,975.9h1.6v1.6h-1.6zM771.3,928.2h0.9v0.9h-0.9zM768.0,997.9h1.2v1.2h-1.2zM767.7,985.9h1.2v1.2h-1.2zM765.4,995.3h1.4v1.4h-1.4zM762.5,936.6h1.0v1.0h-1.0zM753.5,995.9h1.8v1.8h-1.8zM767.7,1003.1h1.3v1.3h-1.3zM754.3,1008.0h1.4v1.4h-1.4zM763.5,988.6h1.1v1.1h-1.1zM770.1,972.8h1.4v1.4h-1.4zM758.8,973.5h1.8v1.8h-1.8zM755.5,938.2h1.5v1.5h-1.5zM765.8,965.7h1.6v1.6h-1.6zM762.4,937.1h1.2v1.2h-1.2zM758.2,953.2h1.0v1.0h-1.0zM769.5,950.7h1.1v1.1h-1.1zM754.6,964.1h1.0v1.0h-1.0zM760.7,930.6h1.3v1.3h-1.3zM754.8,940.8h1.8v1.8h-1.8zM753.2,967.2h1.6v1.6h-1.6zM766.8,930.8h1.2v1.2h-1.2zM763.0,989.7h1.7v1.7h-1.7zM762.5,930.3h0.9v0.9h-0.9zM763.2,1004.0h1.1v1.1h-1.1zM765.5,991.6h0.9v0.9h-0.9zM756.0,965.5h1.1v1.1h-1.1zM754.3,981.7h1.0v1.0h-1.0zM764.0,1016.0h0.9v0.9h-0.9zM757.0,926.6h1.3v1.3h-1.3zM767.2,992.4h1.2v1.2h-1.2zM758.5,970.8h1.4v1.4h-1.4zM753.8,1007.6h1.6v1.6h-1.6zM766.3,925.0h1.4v1.4h-1.4zM754.9,1009.4h1.1v1.1h-1.1zM754.2,967.9h1.3v1.3h-1.3zM760.7,989.3h1.4v1.4h-1.4zM760.3,1004.2h1.1v1.1h-1.1zM762.3,923.4h1.6v1.6h-1.6zM756.1,973.1h1.5v1.5h-1.5zM753.8,925.3h1.4v1.4h-1.4zM763.8,936.0h1.2v1.2h-1.2zM770.2,981.2h1.1v1.1h-1.1zM764.0,943.1h0.9v0.9h-0.9zM752.5,996.6h1.8v1.8h-1.8zM756.8,989.6h1.6v1.6h-1.6zM755.3,1012.6h1.7v1.7h-1.7zM753.2,940.5h1.6v1.6h-1.6zM759.7,929.6h0.9v0.9h-0.9zM769.3,1010.5h1.3v1.3h-1.3zM766.4,983.6h1.8v1.8h-1.8zM757.9,964.5h1.4v1.4h-1.4zM770.1,1008.2h1.6v1.6h-1.6zM762.4,950.3h1.8v1.8h-1.8zM766.4,1013.0h1.2v1.2h-1.2zM761.1,962.2h1.3v1.3h-1.3zM769.1,965.3h1.6v1.6h-1.6zM762.0,1007.0h1.6v1.6h-1.6zM758.1,1016.3h1.7v1.7h-1.7zM767.5,984.7h1.3v1.3h-1.3zM754.9,926.5h1.2v1.2h-1.2zM764.2,1003.8h1.2v1.2h-1.2zM765.7,976.1h1.7v1.7h-1.7zM769.8,917.5h1.6v1.6h-1.6zM757.8,1010.7h1.0v1.0h-1.0zM759.4,920.2h1.5v1.5h-1.5zM753.2,924.9h1.4v1.4h-1.4zM755.2,917.4h1.7v1.7h-1.7zM768.2,966.4h1.7v1.7h-1.7zM763.5,1003.9h1.0v1.0h-1.0zM753.0,984.6h1.2v1.2h-1.2zM763.2,990.8h1.4v1.4h-1.4zM757.9,1011.4h1.2v1.2h-1.2zM760.8,968.4h0.9v0.9h-0.9zM762.6,977.9h1.1v1.1h-1.1zM765.6,961.5h1.8v1.8h-1.8zM759.5,925.0h1.7v1.7h-1.7zM757.7,1012.3h1.5v1.5h-1.5zM758.9,966.7h1.6v1.6h-1.6zM769.0,930.1h1.2v1.2h-1.2zM754.1,968.0h1.1v1.1h-1.1zM757.6,982.2h1.8v1.8h-1.8zM756.2,969.0h1.3v1.3h-1.3zM763.1,949.5h1.1v1.1h-1.1zM757.9,1008.1h1.3v1.3h-1.3zM770.4,918.3h1.1v1.1h-1.1zM769.8,927.6h1.4v1.4h-1.4zM755.6,929.9h1.3v1.3h-1.3zM768.9,972.6h0.9v0.9h-0.9zM756.3,1015.7h1.6v1.6h-1.6zM762.2,948.9h1.2v1.2h-1.2zM753.0,939.5h1.7v1.7h-1.7zM759.2,1001.7h1.8v1.8h-1.8zM765.2,945.6h1.3v1.3h-1.3zM754.6,939.6h1.2v1.2h-1.2zM753.0,1001.9h1.4v1.4h-1.4zM759.0,979.0h1.3v1.3h-1.3zM758.3,954.9h1.3v1.3h-1.3zM758.1,953.3h1.3v1.3h-1.3zM768.6,997.2h1.7v1.7h-1.7zM761.2,1011.8h1.0v1.0h-1.0zM768.4,983.6h0.9v0.9h-0.9z' fill='#2b2b2b' opacity='1.0'/><path d='M768.4,949.3h1.4v1.4h-1.4zM753.4,981.3h1.5v1.5h-1.5zM759.0,949.9h1.6v1.6h-1.6zM769.7,916.7h1.2v1.2h-1.2zM762.3,948.1h1.2v1.2h-1.2zM763.0,1001.3h1.6v1.6h-1.6zM759.7,1003.7h1.8v1.8h-1.8zM755.1,934.8h1.8v1.8h-1.8zM754.1,942.0h1.8v1.8h-1.8zM767.8,936.3h1.3v1.3h-1.3zM771.2,941.7h1.6v1.6h-1.6zM757.1,959.0h1.7v1.7h-1.7zM764.8,959.2h1.8v1.8h-1.8zM769.3,1011.0h1.4v1.4h-1.4zM754.6,948.2h1.1v1.1h-1.1zM757.7,931.8h1.5v1.5h-1.5zM767.1,918.6h1.6v1.6h-1.6zM767.6,967.3h1.8v1.8h-1.8zM754.2,920.1h1.0v1.0h-1.0zM755.0,993.1h1.5v1.5h-1.5zM754.6,999.1h1.5v1.5h-1.5zM763.2,943.4h1.2v1.2h-1.2zM770.9,977.1h1.0v1.0h-1.0zM760.5,972.9h1.5v1.5h-1.5zM762.5,937.9h1.5v1.5h-1.5zM761.9,983.3h1.8v1.8h-1.8zM769.5,948.3h1.6v1.6h-1.6zM756.3,951.1h1.0v1.0h-1.0zM767.3,938.7h1.6v1.6h-1.6zM763.7,998.7h1.5v1.5h-1.5zM755.8,990.1h1.6v1.6h-1.6zM760.6,995.0h1.2v1.2h-1.2zM754.1,967.3h1.0v1.0h-1.0zM759.2,1009.0h1.7v1.7h-1.7zM766.5,956.1h1.0v1.0h-1.0zM762.2,925.1h1.6v1.6h-1.6zM767.5,925.2h1.2v1.2h-1.2zM762.4,955.1h1.5v1.5h-1.5zM753.0,992.0h1.5v1.5h-1.5zM756.6,924.4h1.0v1.0h-1.0zM755.2,962.9h1.0v1.0h-1.0zM752.5,953.8h0.9v0.9h-0.9zM752.8,997.9h1.4v1.4h-1.4zM757.3,945.2h1.3v1.3h-1.3zM760.4,978.1h1.1v1.1h-1.1zM763.8,980.1h1.7v1.7h-1.7zM767.8,993.2h1.4v1.4h-1.4zM753.3,1006.1h1.5v1.5h-1.5zM763.7,952.6h1.0v1.0h-1.0zM754.4,1007.2h1.3v1.3h-1.3zM759.8,1006.3h1.3v1.3h-1.3zM758.5,956.6h1.3v1.3h-1.3zM764.0,987.5h0.9v0.9h-0.9zM766.6,987.6h1.7v1.7h-1.7zM759.0,928.9h1.8v1.8h-1.8zM757.8,1001.0h1.7v1.7h-1.7zM766.2,945.0h1.4v1.4h-1.4zM763.1,943.9h1.4v1.4h-1.4zM771.0,975.0h1.4v1.4h-1.4zM760.8,942.0h1.7v1.7h-1.7zM754.0,963.8h1.5v1.5h-1.5zM771.1,933.7h1.8v1.8h-1.8zM764.6,921.3h1.2v1.2h-1.2zM754.9,1004.4h1.5v1.5h-1.5zM769.2,921.1h1.3v1.3h-1.3zM768.6,930.5h1.2v1.2h-1.2zM764.0,1003.2h1.1v1.1h-1.1zM756.6,920.6h1.4v1.4h-1.4zM764.5,920.8h1.0v1.0h-1.0zM761.1,979.3h0.9v0.9h-0.9zM769.1,971.7h1.5v1.5h-1.5zM764.5,954.2h1.4v1.4h-1.4zM759.7,990.3h1.4v1.4h-1.4zM753.3,954.2h1.0v1.0h-1.0zM769.2,924.2h1.3v1.3h-1.3zM766.2,958.2h0.9v0.9h-0.9zM756.1,957.7h1.1v1.1h-1.1zM768.0,938.3h1.8v1.8h-1.8zM765.3,939.6h1.3v1.3h-1.3zM763.4,932.7h1.7v1.7h-1.7zM755.0,984.6h1.4v1.4h-1.4zM768.3,925.3h1.0v1.0h-1.0zM763.0,941.9h1.1v1.1h-1.1zM758.3,993.2h1.4v1.4h-1.4zM755.1,981.0h1.0v1.0h-1.0zM752.3,943.5h1.2v1.2h-1.2zM761.6,940.4h1.0v1.0h-1.0zM767.9,927.4h1.4v1.4h-1.4zM767.6,951.7h1.5v1.5h-1.5zM757.5,981.5h1.0v1.0h-1.0zM770.6,1010.8h1.8v1.8h-1.8zM765.2,962.3h1.5v1.5h-1.5zM767.6,1005.3h1.3v1.3h-1.3zM758.6,935.7h1.2v1.2h-1.2zM765.7,925.0h1.5v1.5h-1.5zM753.2,994.6h1.1v1.1h-1.1zM760.8,1002.3h1.6v1.6h-1.6zM754.5,983.5h1.2v1.2h-1.2zM771.1,939.6h1.5v1.5h-1.5zM761.2,966.7h1.5v1.5h-1.5zM760.2,994.7h1.5v1.5h-1.5zM757.1,937.4h1.5v1.5h-1.5zM762.8,932.6h1.3v1.3h-1.3zM769.8,958.2h1.2v1.2h-1.2zM764.1,922.3h1.2v1.2h-1.2zM769.7,920.1h1.0v1.0h-1.0zM758.9,938.7h0.9v0.9h-0.9zM762.0,977.5h0.9v0.9h-0.9zM766.0,971.3h1.5v1.5h-1.5zM756.8,979.7h1.8v1.8h-1.8zM769.3,953.6h0.9v0.9h-0.9zM759.2,992.5h1.3v1.3h-1.3zM764.0,984.6h1.3v1.3h-1.3zM756.4,991.4h1.3v1.3h-1.3zM762.2,950.6h1.4v1.4h-1.4zM763.9,999.4h1.5v1.5h-1.5zM762.8,1001.2h1.6v1.6h-1.6zM767.0,926.2h1.7v1.7h-1.7zM760.9,943.3h1.6v1.6h-1.6zM755.6,978.5h0.9v0.9h-0.9zM765.1,994.6h1.6v1.6h-1.6zM762.4,994.5h1.1v1.1h-1.1zM761.3,972.2h1.2v1.2h-1.2zM769.9,1009.6h1.4v1.4h-1.4zM752.7,948.5h1.6v1.6h-1.6zM762.3,988.4h1.4v1.4h-1.4zM767.4,1002.4h1.8v1.8h-1.8zM761.7,991.1h1.6v1.6h-1.6zM757.1,1011.0h1.0v1.0h-1.0zM760.9,924.2h1.7v1.7h-1.7zM766.4,921.8h1.2v1.2h-1.2zM765.7,938.4h1.1v1.1h-1.1zM758.2,955.8h1.4v1.4h-1.4zM756.9,945.5h1.7v1.7h-1.7zM753.2,936.5h1.1v1.1h-1.1zM761.7,980.7h1.3v1.3h-1.3zM770.3,964.8h1.0v1.0h-1.0zM754.6,976.3h1.0v1.0h-1.0zM766.8,987.1h1.1v1.1h-1.1zM770.6,1013.4h1.2v1.2h-1.2zM755.1,963.1h1.2v1.2h-1.2zM767.8,929.5h1.3v1.3h-1.3zM760.1,998.4h1.3v1.3h-1.3zM754.6,918.2h1.3v1.3h-1.3zM759.5,957.2h1.6v1.6h-1.6zM758.9,969.4h1.0v1.0h-1.0zM752.5,958.3h1.5v1.5h-1.5zM758.5,1011.1h1.0v1.0h-1.0zM754.4,940.8h1.1v1.1h-1.1zM754.5,933.6h1.8v1.8h-1.8zM758.3,1004.9h1.7v1.7h-1.7zM760.8,994.1h1.6v1.6h-1.6zM764.4,974.5h1.4v1.4h-1.4zM753.7,979.8h1.4v1.4h-1.4zM769.1,993.4h1.3v1.3h-1.3zM764.0,944.3h1.1v1.1h-1.1zM755.3,976.0h1.2v1.2h-1.2zM756.5,989.1h1.7v1.7h-1.7zM754.7,1014.8h1.2v1.2h-1.2zM760.4,984.4h1.7v1.7h-1.7zM768.4,1000.8h1.5v1.5h-1.5zM764.2,917.2h1.4v1.4h-1.4zM753.4,1007.0h1.2v1.2h-1.2zM764.4,922.4h1.6v1.6h-1.6zM756.0,922.6h1.2v1.2h-1.2zM765.2,975.6h1.2v1.2h-1.2zM760.1,917.4h1.1v1.1h-1.1zM754.3,1012.3h1.1v1.1h-1.1zM764.7,981.1h1.0v1.0h-1.0zM766.9,996.7h1.6v1.6h-1.6zM754.2,922.9h1.5v1.5h-1.5zM770.5,988.9h0.9v0.9h-0.9zM765.0,927.0h1.1v1.1h-1.1zM759.9,985.9h1.2v1.2h-1.2zM757.2,990.8h1.2v1.2h-1.2zM759.4,925.2h1.1v1.1h-1.1zM766.7,918.0h1.4v1.4h-1.4zM757.8,981.8h1.1v1.1h-1.1zM761.4,981.7h1.7v1.7h-1.7zM754.9,966.9h1.5v1.5h-1.5zM752.7,930.0h1.1v1.1h-1.1zM760.1,916.8h1.1v1.1h-1.1zM760.7,996.0h1.8v1.8h-1.8zM769.3,926.2h1.0v1.0h-1.0zM763.0,968.4h1.0v1.0h-1.0zM761.9,1009.5h1.3v1.3h-1.3zM760.7,949.9h1.5v1.5h-1.5zM770.6,975.2h1.2v1.2h-1.2zM765.5,970.2h1.4v1.4h-1.4zM760.0,926.1h1.6v1.6h-1.6zM758.2,923.1h1.2v1.2h-1.2zM756.4,987.6h0.9v0.9h-0.9zM768.1,975.3h1.0v1.0h-1.0zM766.2,957.1h1.4v1.4h-1.4zM757.9,931.6h1.2v1.2h-1.2zM763.5,1014.9h1.5v1.5h-1.5zM761.9,991.3h1.6v1.6h-1.6zM759.5,921.1h1.7v1.7h-1.7zM755.1,933.2h1.2v1.2h-1.2zM765.6,958.9h1.3v1.3h-1.3zM755.3,994.3h1.6v1.6h-1.6zM764.2,1006.2h0.9v0.9h-0.9zM767.8,994.1h1.3v1.3h-1.3zM759.5,1014.9h1.6v1.6h-1.6zM770.3,920.3h1.6v1.6h-1.6zM757.5,920.0h1.6v1.6h-1.6zM769.2,995.2h1.4v1.4h-1.4zM763.1,925.8h1.5v1.5h-1.5zM757.7,998.5h1.0v1.0h-1.0zM756.0,943.0h1.4v1.4h-1.4zM758.2,954.5h1.3v1.3h-1.3zM755.1,970.0h0.9v0.9h-0.9zM760.5,976.5h1.4v1.4h-1.4zM752.6,968.7h1.7v1.7h-1.7zM759.4,943.4h1.6v1.6h-1.6zM768.3,996.8h1.3v1.3h-1.3zM756.4,928.2h1.5v1.5h-1.5zM755.2,982.4h1.0v1.0h-1.0zM760.8,981.3h1.5v1.5h-1.5zM758.2,975.3h1.7v1.7h-1.7zM766.8,961.6h0.9v0.9h-0.9zM753.9,936.5h0.9v0.9h-0.9zM765.2,979.5h0.9v0.9h-0.9zM770.7,962.4h1.7v1.7h-1.7zM756.0,983.3h1.7v1.7h-1.7zM765.5,944.4h1.7v1.7h-1.7zM758.4,956.0h1.3v1.3h-1.3zM757.7,1004.6h1.3v1.3h-1.3zM754.2,949.1h1.6v1.6h-1.6zM769.4,922.7h1.6v1.6h-1.6zM768.7,916.7h1.4v1.4h-1.4zM769.5,979.2h1.7v1.7h-1.7zM765.7,941.2h1.7v1.7h-1.7zM761.6,928.0h1.3v1.3h-1.3zM752.7,1005.1h0.9v0.9h-0.9zM769.0,932.8h1.0v1.0h-1.0zM765.0,973.1h1.4v1.4h-1.4zM758.1,954.7h1.3v1.3h-1.3zM769.6,971.2h1.7v1.7h-1.7zM762.9,950.2h1.0v1.0h-1.0zM762.0,983.4h0.9v0.9h-0.9zM759.2,983.7h1.2v1.2h-1.2zM770.8,972.6h1.6v1.6h-1.6zM755.9,1000.0h1.2v1.2h-1.2zM754.8,961.0h1.1v1.1h-1.1zM760.9,1007.5h1.3v1.3h-1.3zM756.2,989.3h1.2v1.2h-1.2zM763.5,996.8h1.1v1.1h-1.1zM756.5,927.7h1.5v1.5h-1.5zM753.6,1008.8h1.0v1.0h-1.0zM768.5,994.6h1.6v1.6h-1.6zM770.9,954.2h1.5v1.5h-1.5zM763.4,916.6h1.4v1.4h-1.4zM765.0,947.2h1.2v1.2h-1.2zM754.1,919.6h1.1v1.1h-1.1zM753.3,919.1h1.2v1.2h-1.2zM762.0,987.6h1.0v1.0h-1.0zM769.8,1001.0h1.3v1.3h-1.3zM754.3,972.7h0.9v0.9h-0.9zM754.7,977.5h1.2v1.2h-1.2zM769.8,977.6h1.5v1.5h-1.5zM768.4,966.3h1.3v1.3h-1.3zM764.6,926.8h1.1v1.1h-1.1zM754.2,994.0h1.5v1.5h-1.5zM755.8,1004.5h1.0v1.0h-1.0zM756.2,949.6h1.6v1.6h-1.6zM763.8,1016.0h1.6v1.6h-1.6zM767.2,988.7h1.6v1.6h-1.6zM762.3,1012.1h1.6v1.6h-1.6zM762.0,977.7h1.3v1.3h-1.3zM758.9,983.3h1.6v1.6h-1.6zM764.7,922.0h1.2v1.2h-1.2zM760.2,1015.0h1.2v1.2h-1.2zM757.7,923.1h0.9v0.9h-0.9zM759.0,958.4h1.4v1.4h-1.4zM753.1,1011.4h1.7v1.7h-1.7zM755.6,961.4h1.6v1.6h-1.6zM754.3,939.6h1.1v1.1h-1.1zM762.6,990.5h1.6v1.6h-1.6zM759.1,919.0h1.0v1.0h-1.0zM759.2,925.7h1.2v1.2h-1.2zM767.3,964.5h1.2v1.2h-1.2zM760.2,1000.6h1.8v1.8h-1.8zM765.5,925.3h1.6v1.6h-1.6zM769.0,961.3h1.0v1.0h-1.0zM765.2,997.9h1.8v1.8h-1.8zM768.0,939.9h1.1v1.1h-1.1zM770.3,1003.0h1.5v1.5h-1.5zM753.4,928.7h1.4v1.4h-1.4zM770.5,989.7h1.4v1.4h-1.4zM763.6,963.6h1.7v1.7h-1.7zM761.2,1005.2h1.3v1.3h-1.3zM761.3,1015.4h1.5v1.5h-1.5zM760.8,917.6h1.3v1.3h-1.3zM756.6,957.5h0.9v0.9h-0.9zM760.1,953.9h1.6v1.6h-1.6zM758.4,990.6h1.4v1.4h-1.4zM763.7,995.5h1.7v1.7h-1.7zM754.9,944.6h0.9v0.9h-0.9zM763.4,921.9h1.2v1.2h-1.2zM769.5,956.6h1.3v1.3h-1.3zM757.5,995.3h1.4v1.4h-1.4zM761.5,1002.5h1.0v1.0h-1.0zM752.7,1006.0h1.6v1.6h-1.6z' fill='#f4f4f4' opacity='1.0'/><rect x='771.3' y='925.5' width='26' height='80' rx='4' fill='#f2f2f2' stroke='#2b2b2b' stroke-width='1.6'/><path d='M771.3,936.5h20M771.3,957.5h20M771.3,969.5h22M771.3,991.5h22' stroke='#2b2b2b' stroke-width='1.2'/><path d='M790.1,953.6h1.2v1.2h-1.2zM774.6,941.4h1.4v1.4h-1.4zM775.6,949.5h1.1v1.1h-1.1zM794.5,952.8h1.1v1.1h-1.1zM775.2,948.4h1.3v1.3h-1.3zM773.1,947.1h0.9v0.9h-0.9zM780.1,952.4h1.5v1.5h-1.5zM774.7,944.5h1.2v1.2h-1.2zM794.9,955.4h1.4v1.4h-1.4zM776.1,952.6h1.3v1.3h-1.3zM773.3,945.8h1.2v1.2h-1.2zM776.8,940.7h1.1v1.1h-1.1zM772.4,944.2h1.2v1.2h-1.2zM778.8,947.9h1.5v1.5h-1.5zM783.5,945.2h1.3v1.3h-1.3zM793.5,939.9h1.5v1.5h-1.5zM794.1,955.8h1.0v1.0h-1.0zM793.8,944.2h1.1v1.1h-1.1zM779.2,953.3h1.3v1.3h-1.3zM775.8,943.6h1.3v1.3h-1.3zM792.2,949.7h1.3v1.3h-1.3zM779.7,954.5h1.3v1.3h-1.3zM786.8,943.2h1.3v1.3h-1.3zM779.9,945.5h1.6v1.6h-1.6zM782.9,941.3h1.1v1.1h-1.1zM777.8,951.7h1.0v1.0h-1.0zM789.3,946.8h1.1v1.1h-1.1zM786.3,957.1h1.3v1.3h-1.3zM777.3,943.9h0.9v0.9h-0.9zM787.5,955.7h0.8v0.8h-0.8zM778.8,939.8h1.2v1.2h-1.2zM792.4,940.5h1.5v1.5h-1.5zM781.9,948.2h1.3v1.3h-1.3zM794.8,956.3h1.6v1.6h-1.6zM786.3,956.6h1.4v1.4h-1.4zM786.1,949.4h1.0v1.0h-1.0zM776.1,946.6h1.0v1.0h-1.0zM772.3,956.2h1.0v1.0h-1.0zM795.5,947.5h1.0v1.0h-1.0zM781.9,939.4h1.2v1.2h-1.2zM779.8,937.6h1.0v1.0h-1.0zM782.3,955.8h1.0v1.0h-1.0zM792.2,946.3h1.1v1.1h-1.1zM781.7,947.8h1.1v1.1h-1.1zM786.9,952.6h1.5v1.5h-1.5zM782.4,949.1h0.9v0.9h-0.9zM784.7,955.1h1.0v1.0h-1.0zM774.1,937.6h1.0v1.0h-1.0zM781.3,948.4h1.1v1.1h-1.1zM795.9,948.8h1.5v1.5h-1.5zM777.9,942.4h1.2v1.2h-1.2zM772.4,951.7h1.1v1.1h-1.1zM789.4,947.8h1.5v1.5h-1.5zM777.2,956.3h1.6v1.6h-1.6zM782.1,949.1h0.8v0.8h-0.8zM785.8,945.9h1.4v1.4h-1.4zM790.1,951.6h1.6v1.6h-1.6zM772.8,944.3h1.3v1.3h-1.3zM794.2,943.9h1.4v1.4h-1.4zM791.8,947.3h1.4v1.4h-1.4zM790.2,950.8h1.5v1.5h-1.5zM773.7,954.1h0.8v0.8h-0.8zM786.5,944.7h1.2v1.2h-1.2zM792.5,943.2h1.2v1.2h-1.2zM790.4,948.2h1.2v1.2h-1.2zM787.0,957.0h0.9v0.9h-0.9zM782.7,953.8h0.8v0.8h-0.8z' fill='#2b2b2b' opacity='1.0'/><path d='M791.0,978.0h0.9v0.9h-0.9zM790.6,984.9h1.4v1.4h-1.4zM790.3,986.2h1.6v1.6h-1.6zM792.7,971.9h0.9v0.9h-0.9zM787.9,977.5h1.1v1.1h-1.1zM794.2,975.6h1.1v1.1h-1.1zM795.6,984.7h1.3v1.3h-1.3zM777.1,987.4h1.1v1.1h-1.1zM795.3,978.2h1.1v1.1h-1.1zM782.3,989.6h1.4v1.4h-1.4zM786.9,971.3h0.9v0.9h-0.9zM780.3,985.7h1.1v1.1h-1.1zM780.8,979.4h0.8v0.8h-0.8zM791.8,976.9h1.6v1.6h-1.6zM794.1,982.8h1.3v1.3h-1.3zM789.4,971.8h1.6v1.6h-1.6zM786.7,982.3h1.4v1.4h-1.4zM786.3,987.9h1.2v1.2h-1.2zM780.0,974.1h1.0v1.0h-1.0zM781.5,977.3h1.2v1.2h-1.2zM787.0,977.7h1.2v1.2h-1.2zM788.9,991.5h1.0v1.0h-1.0zM773.9,985.1h1.4v1.4h-1.4zM790.2,977.6h0.9v0.9h-0.9zM781.0,987.9h1.0v1.0h-1.0zM788.2,977.9h1.5v1.5h-1.5zM772.6,983.1h1.0v1.0h-1.0zM789.7,981.7h1.1v1.1h-1.1zM796.0,980.1h1.3v1.3h-1.3zM787.6,977.1h1.3v1.3h-1.3zM795.0,991.2h1.1v1.1h-1.1zM787.2,984.7h0.9v0.9h-0.9zM778.8,982.5h1.5v1.5h-1.5zM782.7,987.5h1.3v1.3h-1.3zM792.2,990.0h1.1v1.1h-1.1zM781.6,971.4h1.4v1.4h-1.4zM784.7,988.9h0.9v0.9h-0.9zM783.1,988.1h1.0v1.0h-1.0zM785.2,988.9h1.4v1.4h-1.4zM777.3,979.7h1.1v1.1h-1.1zM782.7,972.1h1.5v1.5h-1.5zM785.6,988.6h1.3v1.3h-1.3zM773.9,978.0h0.9v0.9h-0.9zM779.5,986.6h1.4v1.4h-1.4zM772.7,986.4h0.8v0.8h-0.8zM772.7,989.6h0.9v0.9h-0.9zM787.0,987.5h0.8v0.8h-0.8zM792.1,977.8h1.5v1.5h-1.5zM791.2,980.5h1.3v1.3h-1.3zM782.5,972.4h1.3v1.3h-1.3zM787.1,972.0h1.2v1.2h-1.2zM778.2,978.8h1.3v1.3h-1.3zM778.8,977.8h0.8v0.8h-0.8zM789.5,987.2h1.6v1.6h-1.6zM783.4,978.7h1.1v1.1h-1.1zM787.2,982.6h0.9v0.9h-0.9zM783.2,989.9h1.1v1.1h-1.1zM787.0,991.0h0.9v0.9h-0.9zM795.1,977.5h1.2v1.2h-1.2zM779.7,976.6h1.2v1.2h-1.2zM788.0,982.4h0.9v0.9h-0.9zM789.7,980.1h0.9v0.9h-0.9zM781.4,990.1h1.4v1.4h-1.4zM794.3,976.8h0.9v0.9h-0.9zM773.6,974.9h1.5v1.5h-1.5zM773.3,984.9h0.8v0.8h-0.8zM772.4,990.6h1.4v1.4h-1.4zM793.4,976.1h0.9v0.9h-0.9zM791.9,986.5h1.0v1.0h-1.0zM789.1,983.5h0.8v0.8h-0.8z' fill='#2b2b2b' opacity='1.0'/><rect x='797.7' y='934' width='13.7' height='64' fill='#eee' stroke='#2b2b2b' stroke-width='1.3'/><path d='M797.7,956h13.7M797.7,976h13.7' stroke='#2b2b2b' stroke-width='1.2'/><path d='M825.4,922 H1035.4 V1011 H825.4 L811.4,1001 V932 Z' fill='#fbfbfb'/><rect x='813.4' y='967' width='221' height='28' fill='#f0f0f0'/><path d='M1027.3,967.0h0.9v0.9h-0.9zM881.3,968.9h1.1v1.1h-1.1zM841.7,967.7h0.8v0.8h-0.8zM884.5,969.9h1.1v1.1h-1.1zM994.4,969.8h0.9v0.9h-0.9zM959.1,967.7h1.0v1.0h-1.0zM852.2,971.6h1.0v1.0h-1.0zM976.4,968.8h0.9v0.9h-0.9zM913.3,970.0h0.6v0.6h-0.6zM924.9,968.5h1.1v1.1h-1.1zM831.9,971.2h1.2v1.2h-1.2zM1024.1,967.7h0.7v0.7h-0.7zM847.5,970.8h1.0v1.0h-1.0zM863.4,970.2h0.7v0.7h-0.7zM985.9,966.4h1.1v1.1h-1.1zM905.6,971.3h0.9v0.9h-0.9zM840.5,970.6h1.0v1.0h-1.0zM819.3,966.9h0.6v0.6h-0.6zM903.2,969.3h0.9v0.9h-0.9zM1015.4,968.9h0.9v0.9h-0.9zM966.0,971.7h1.1v1.1h-1.1zM930.4,968.3h0.6v0.6h-0.6zM849.4,967.2h0.8v0.8h-0.8zM946.1,966.6h0.9v0.9h-0.9zM1006.2,971.3h1.1v1.1h-1.1zM996.2,968.8h0.8v0.8h-0.8zM829.7,971.8h0.8v0.8h-0.8zM816.5,971.2h1.0v1.0h-1.0zM958.9,967.3h0.5v0.5h-0.5zM941.7,967.3h0.9v0.9h-0.9zM968.5,968.2h1.1v1.1h-1.1zM1006.4,971.9h0.5v0.5h-0.5zM919.5,970.5h0.7v0.7h-0.7zM974.0,966.8h0.8v0.8h-0.8zM1033.0,968.3h0.6v0.6h-0.6zM935.2,967.0h0.9v0.9h-0.9zM1008.9,971.8h1.0v1.0h-1.0zM966.3,968.5h1.0v1.0h-1.0zM930.8,968.4h0.7v0.7h-0.7zM916.7,966.1h1.0v1.0h-1.0zM947.3,968.0h1.0v1.0h-1.0zM975.9,968.9h0.9v0.9h-0.9zM834.6,966.3h1.1v1.1h-1.1zM875.1,970.4h0.8v0.8h-0.8zM982.5,971.2h0.5v0.5h-0.5zM846.5,968.7h0.6v0.6h-0.6zM815.4,968.5h0.6v0.6h-0.6zM1017.2,971.0h0.5v0.5h-0.5zM949.0,970.4h0.6v0.6h-0.6zM819.2,967.3h1.0v1.0h-1.0zM839.6,966.9h1.0v1.0h-1.0zM915.0,969.2h0.6v0.6h-0.6zM839.9,968.3h0.9v0.9h-0.9zM904.4,971.0h1.0v1.0h-1.0zM972.5,970.0h0.7v0.7h-0.7zM943.4,967.3h1.1v1.1h-1.1zM898.3,969.7h1.0v1.0h-1.0zM972.0,966.8h0.5v0.5h-0.5zM876.2,969.2h0.7v0.7h-0.7zM872.8,970.5h0.6v0.6h-0.6zM855.9,968.8h0.6v0.6h-0.6zM995.2,969.6h1.1v1.1h-1.1zM876.0,969.1h0.8v0.8h-0.8zM997.7,968.4h0.9v0.9h-0.9zM1024.5,968.7h0.6v0.6h-0.6zM968.2,967.6h1.0v1.0h-1.0zM1032.1,971.4h0.6v0.6h-0.6zM832.4,971.6h0.7v0.7h-0.7zM874.7,969.1h0.7v0.7h-0.7zM942.0,967.3h1.0v1.0h-1.0zM1010.7,971.0h1.2v1.2h-1.2zM867.4,968.1h0.8v0.8h-0.8zM829.3,969.1h0.6v0.6h-0.6zM1002.2,967.0h0.7v0.7h-0.7zM857.0,970.3h0.9v0.9h-0.9zM881.0,969.4h0.9v0.9h-0.9zM1007.7,966.7h0.9v0.9h-0.9zM869.3,967.0h1.2v1.2h-1.2zM985.8,967.4h1.1v1.1h-1.1zM854.0,967.0h0.7v0.7h-0.7zM1021.0,971.3h1.0v1.0h-1.0zM875.8,971.3h1.0v1.0h-1.0zM846.2,971.5h0.8v0.8h-0.8zM1004.3,966.1h1.2v1.2h-1.2zM868.9,971.2h0.9v0.9h-0.9zM817.8,968.4h0.8v0.8h-0.8zM1015.7,970.2h0.6v0.6h-0.6zM901.3,972.0h1.0v1.0h-1.0zM911.9,967.6h1.1v1.1h-1.1zM844.5,968.4h0.8v0.8h-0.8zM945.2,971.1h1.0v1.0h-1.0zM942.0,970.8h1.0v1.0h-1.0zM880.6,966.6h1.1v1.1h-1.1zM972.9,967.3h0.9v0.9h-0.9zM906.9,967.9h0.6v0.6h-0.6zM974.7,967.6h0.5v0.5h-0.5zM899.1,968.0h1.1v1.1h-1.1zM858.1,966.3h1.2v1.2h-1.2zM920.6,967.7h1.1v1.1h-1.1zM918.5,968.3h0.8v0.8h-0.8zM948.9,966.0h1.2v1.2h-1.2zM913.7,969.6h1.1v1.1h-1.1zM956.2,966.1h1.0v1.0h-1.0zM889.2,969.1h1.0v1.0h-1.0zM834.0,966.8h0.7v0.7h-0.7zM1031.2,969.4h0.9v0.9h-0.9zM981.3,971.6h1.2v1.2h-1.2zM865.7,972.0h1.2v1.2h-1.2zM908.5,966.0h1.0v1.0h-1.0zM858.0,966.3h0.9v0.9h-0.9zM1012.7,966.5h0.9v0.9h-0.9zM999.0,969.3h1.2v1.2h-1.2zM1014.2,966.6h0.7v0.7h-0.7zM973.0,967.0h0.8v0.8h-0.8zM951.2,966.5h0.8v0.8h-0.8zM1005.6,972.0h0.8v0.8h-0.8zM831.1,966.9h0.5v0.5h-0.5zM961.4,970.4h0.8v0.8h-0.8zM950.0,972.0h0.7v0.7h-0.7zM930.9,969.3h0.7v0.7h-0.7zM855.1,970.7h0.9v0.9h-0.9zM1019.3,968.0h0.8v0.8h-0.8zM970.9,970.7h0.9v0.9h-0.9zM1029.9,970.2h0.8v0.8h-0.8zM889.3,971.7h0.9v0.9h-0.9zM965.0,966.0h0.9v0.9h-0.9zM922.9,971.2h0.7v0.7h-0.7zM945.9,970.0h1.0v1.0h-1.0zM966.5,969.0h0.6v0.6h-0.6zM860.5,969.5h0.5v0.5h-0.5zM952.9,970.9h0.7v0.7h-0.7zM956.5,967.2h1.2v1.2h-1.2zM963.0,971.6h0.7v0.7h-0.7zM821.6,970.1h1.1v1.1h-1.1zM1000.5,971.6h0.6v0.6h-0.6zM899.8,972.0h0.9v0.9h-0.9zM1024.7,968.3h0.6v0.6h-0.6zM965.9,970.5h1.0v1.0h-1.0zM983.5,971.9h1.2v1.2h-1.2zM966.8,968.0h0.8v0.8h-0.8zM831.3,968.5h0.7v0.7h-0.7zM890.9,970.9h0.5v0.5h-0.5zM904.4,968.1h0.7v0.7h-0.7zM964.1,969.5h1.1v1.1h-1.1zM982.3,970.6h1.1v1.1h-1.1zM1019.6,969.6h0.7v0.7h-0.7zM863.9,969.8h0.9v0.9h-0.9zM857.6,972.0h0.9v0.9h-0.9zM815.8,967.6h0.9v0.9h-0.9zM874.6,969.6h0.9v0.9h-0.9zM1024.7,966.1h0.5v0.5h-0.5zM875.2,970.9h0.8v0.8h-0.8zM904.1,971.1h1.2v1.2h-1.2zM993.2,971.2h0.9v0.9h-0.9zM909.3,968.4h0.6v0.6h-0.6zM906.5,966.1h0.8v0.8h-0.8zM903.1,966.1h0.9v0.9h-0.9zM895.7,969.6h1.1v1.1h-1.1zM1012.2,968.2h0.9v0.9h-0.9zM1025.6,971.9h0.7v0.7h-0.7zM873.5,967.0h1.2v1.2h-1.2zM928.2,967.4h1.1v1.1h-1.1zM1008.0,967.7h0.9v0.9h-0.9zM895.2,971.0h1.2v1.2h-1.2zM1012.9,967.5h0.5v0.5h-0.5zM858.4,969.3h1.0v1.0h-1.0zM926.0,971.2h0.8v0.8h-0.8zM926.6,968.9h1.1v1.1h-1.1zM939.8,968.8h0.8v0.8h-0.8zM1024.4,968.7h0.5v0.5h-0.5zM1011.0,971.9h1.0v1.0h-1.0zM891.9,969.9h0.6v0.6h-0.6zM847.2,968.0h0.7v0.7h-0.7zM924.3,970.3h0.9v0.9h-0.9zM907.5,971.1h0.7v0.7h-0.7zM849.6,971.1h0.8v0.8h-0.8zM831.3,970.1h0.5v0.5h-0.5zM991.3,968.6h0.9v0.9h-0.9zM981.6,969.9h1.2v1.2h-1.2zM890.2,967.3h1.0v1.0h-1.0zM1022.8,969.7h0.6v0.6h-0.6zM935.8,967.4h0.8v0.8h-0.8zM1010.8,967.4h1.2v1.2h-1.2zM956.6,969.6h0.6v0.6h-0.6zM904.9,971.4h1.0v1.0h-1.0zM1014.1,970.6h1.1v1.1h-1.1zM881.4,967.6h0.6v0.6h-0.6zM840.9,970.2h0.8v0.8h-0.8zM855.9,967.8h0.7v0.7h-0.7zM897.0,969.3h1.2v1.2h-1.2zM929.0,971.8h1.0v1.0h-1.0zM937.2,969.2h0.6v0.6h-0.6zM932.9,967.9h0.5v0.5h-0.5zM897.4,966.4h0.8v0.8h-0.8zM918.3,966.8h1.1v1.1h-1.1zM912.7,968.0h0.9v0.9h-0.9zM836.2,968.6h0.9v0.9h-0.9zM846.0,966.8h0.6v0.6h-0.6zM1002.2,969.8h1.1v1.1h-1.1zM945.7,969.4h0.8v0.8h-0.8zM885.1,969.0h0.6v0.6h-0.6zM1022.6,968.8h0.7v0.7h-0.7zM1001.5,971.5h0.6v0.6h-0.6zM1007.5,971.4h0.9v0.9h-0.9zM886.4,966.1h1.0v1.0h-1.0zM932.2,971.4h1.0v1.0h-1.0zM1006.0,970.1h1.0v1.0h-1.0zM1021.9,968.4h1.2v1.2h-1.2zM942.2,967.5h1.1v1.1h-1.1zM980.8,967.5h0.8v0.8h-0.8zM850.7,970.6h1.0v1.0h-1.0zM965.2,967.5h0.6v0.6h-0.6zM933.6,968.7h0.7v0.7h-0.7zM1014.3,969.8h0.8v0.8h-0.8zM968.1,967.2h1.0v1.0h-1.0zM841.8,969.5h1.0v1.0h-1.0zM898.3,971.8h1.2v1.2h-1.2zM952.4,967.2h0.7v0.7h-0.7zM990.9,968.2h0.8v0.8h-0.8zM927.2,968.0h0.6v0.6h-0.6zM883.4,968.3h0.7v0.7h-0.7zM822.3,970.8h1.1v1.1h-1.1zM847.1,970.4h1.0v1.0h-1.0zM982.1,970.9h0.8v0.8h-0.8zM888.3,971.0h1.0v1.0h-1.0zM912.0,968.7h0.9v0.9h-0.9zM843.4,966.8h0.9v0.9h-0.9zM944.3,970.5h0.6v0.6h-0.6zM985.9,966.4h0.7v0.7h-0.7zM817.3,967.1h1.0v1.0h-1.0zM977.7,971.3h1.1v1.1h-1.1zM1009.8,967.3h0.9v0.9h-0.9zM852.8,970.0h0.7v0.7h-0.7zM1015.0,970.8h1.0v1.0h-1.0zM1019.0,967.7h1.1v1.1h-1.1zM940.7,971.1h1.0v1.0h-1.0zM936.2,966.3h1.1v1.1h-1.1zM953.3,967.2h0.8v0.8h-0.8zM898.6,971.7h0.7v0.7h-0.7zM819.3,972.0h1.1v1.1h-1.1zM849.9,970.0h0.6v0.6h-0.6zM1000.1,968.5h0.7v0.7h-0.7zM948.1,971.0h0.9v0.9h-0.9zM833.1,969.9h0.8v0.8h-0.8zM1010.5,971.4h1.1v1.1h-1.1zM949.2,970.8h0.7v0.7h-0.7zM953.9,971.8h0.6v0.6h-0.6zM984.1,969.5h0.5v0.5h-0.5zM986.1,970.4h0.7v0.7h-0.7zM1031.5,970.2h1.0v1.0h-1.0zM923.1,966.9h0.7v0.7h-0.7zM988.9,971.3h0.7v0.7h-0.7zM995.5,966.8h0.7v0.7h-0.7zM984.7,970.2h0.6v0.6h-0.6zM1026.6,970.0h1.1v1.1h-1.1zM1029.8,971.0h0.9v0.9h-0.9zM882.6,968.3h1.1v1.1h-1.1zM1030.5,971.8h0.9v0.9h-0.9zM883.4,968.9h1.0v1.0h-1.0zM848.8,969.8h0.5v0.5h-0.5zM883.7,969.1h1.1v1.1h-1.1zM998.6,969.2h0.6v0.6h-0.6zM919.2,967.6h1.2v1.2h-1.2zM816.0,968.6h0.7v0.7h-0.7zM933.8,969.6h0.8v0.8h-0.8zM816.1,971.8h0.7v0.7h-0.7zM909.7,968.7h0.7v0.7h-0.7zM873.7,966.7h1.1v1.1h-1.1zM977.6,968.4h1.1v1.1h-1.1zM823.5,970.1h1.0v1.0h-1.0zM1008.5,970.2h0.6v0.6h-0.6zM961.6,968.6h0.8v0.8h-0.8zM976.4,970.0h0.8v0.8h-0.8zM855.2,971.4h0.9v0.9h-0.9zM875.5,968.6h1.0v1.0h-1.0zM875.3,968.7h1.0v1.0h-1.0zM956.5,969.2h1.0v1.0h-1.0zM887.0,971.8h1.2v1.2h-1.2zM997.0,970.1h0.5v0.5h-0.5zM890.8,967.7h1.2v1.2h-1.2zM953.5,970.0h0.9v0.9h-0.9zM1033.2,969.1h0.7v0.7h-0.7zM1029.2,967.6h1.0v1.0h-1.0zM935.5,971.7h1.0v1.0h-1.0zM1031.1,970.7h0.9v0.9h-0.9zM843.7,967.0h0.8v0.8h-0.8zM890.8,967.1h1.0v1.0h-1.0zM1010.5,969.3h1.0v1.0h-1.0zM895.4,968.3h0.9v0.9h-0.9zM847.1,970.3h1.0v1.0h-1.0zM888.6,971.6h1.1v1.1h-1.1zM971.1,968.7h0.9v0.9h-0.9zM951.9,972.0h0.9v0.9h-0.9zM870.5,971.1h0.9v0.9h-0.9zM912.3,969.7h0.8v0.8h-0.8zM899.5,969.2h1.1v1.1h-1.1zM1009.6,971.6h1.0v1.0h-1.0zM816.0,971.1h0.5v0.5h-0.5zM1006.6,968.4h0.8v0.8h-0.8zM896.7,970.6h1.1v1.1h-1.1zM1015.9,967.8h1.2v1.2h-1.2zM896.0,969.3h0.9v0.9h-0.9zM848.1,969.2h0.7v0.7h-0.7zM857.2,966.2h0.9v0.9h-0.9zM828.2,970.3h1.0v1.0h-1.0zM972.6,967.9h1.1v1.1h-1.1zM1009.9,970.1h0.7v0.7h-0.7zM1008.9,969.0h0.7v0.7h-0.7zM882.3,968.1h0.8v0.8h-0.8zM999.5,967.4h0.8v0.8h-0.8zM839.3,966.9h0.8v0.8h-0.8zM900.2,967.8h1.1v1.1h-1.1zM817.1,966.3h0.6v0.6h-0.6zM816.5,968.0h0.7v0.7h-0.7zM977.7,968.0h0.6v0.6h-0.6zM923.2,971.7h0.9v0.9h-0.9zM849.2,970.8h0.6v0.6h-0.6zM870.4,970.5h1.0v1.0h-1.0zM925.5,968.5h0.6v0.6h-0.6zM924.4,968.6h0.6v0.6h-0.6zM973.1,967.5h0.7v0.7h-0.7zM883.0,969.3h0.9v0.9h-0.9zM977.1,968.5h0.8v0.8h-0.8zM905.3,966.0h1.1v1.1h-1.1zM879.2,970.6h1.0v1.0h-1.0zM998.4,970.2h1.1v1.1h-1.1zM875.7,970.1h0.6v0.6h-0.6zM1033.3,971.7h0.8v0.8h-0.8zM942.6,967.5h0.9v0.9h-0.9zM953.6,966.4h0.6v0.6h-0.6zM1010.8,966.2h0.8v0.8h-0.8zM971.3,967.5h0.7v0.7h-0.7zM984.1,968.4h0.6v0.6h-0.6zM932.9,967.8h0.7v0.7h-0.7zM1005.6,967.1h1.1v1.1h-1.1zM872.0,971.7h0.9v0.9h-0.9zM851.5,971.3h0.7v0.7h-0.7zM861.7,971.1h1.2v1.2h-1.2zM823.4,971.5h0.8v0.8h-0.8zM928.8,966.1h1.1v1.1h-1.1zM836.9,970.8h0.8v0.8h-0.8zM866.6,971.6h1.1v1.1h-1.1zM985.9,966.8h0.9v0.9h-0.9zM844.1,969.3h1.1v1.1h-1.1zM941.2,971.1h0.7v0.7h-0.7zM928.1,968.3h0.9v0.9h-0.9zM961.4,967.8h0.8v0.8h-0.8zM980.4,967.6h0.7v0.7h-0.7zM968.4,971.4h0.6v0.6h-0.6zM961.6,967.3h0.5v0.5h-0.5zM831.8,966.9h1.2v1.2h-1.2zM1025.7,967.0h0.8v0.8h-0.8zM989.3,970.8h1.1v1.1h-1.1zM840.4,968.3h0.9v0.9h-0.9zM902.4,967.6h0.8v0.8h-0.8zM891.4,971.5h1.0v1.0h-1.0zM891.9,969.3h0.8v0.8h-0.8zM952.4,970.9h0.8v0.8h-0.8zM881.6,970.0h0.5v0.5h-0.5zM883.8,967.3h0.8v0.8h-0.8zM903.1,967.3h0.6v0.6h-0.6zM958.3,969.4h0.5v0.5h-0.5zM1013.5,966.3h0.7v0.7h-0.7zM854.7,969.4h0.6v0.6h-0.6zM832.2,966.3h0.9v0.9h-0.9zM827.1,969.5h0.9v0.9h-0.9zM958.0,969.3h0.6v0.6h-0.6zM1026.8,969.2h0.5v0.5h-0.5zM965.4,966.3h0.7v0.7h-0.7zM913.7,970.9h0.9v0.9h-0.9zM988.0,967.7h1.1v1.1h-1.1zM896.0,970.9h0.7v0.7h-0.7zM882.7,966.6h1.1v1.1h-1.1zM963.9,969.9h0.8v0.8h-0.8zM917.5,970.6h0.9v0.9h-0.9zM825.2,967.9h1.1v1.1h-1.1zM967.1,971.9h0.8v0.8h-0.8zM837.3,969.1h0.8v0.8h-0.8zM926.8,971.6h1.0v1.0h-1.0zM888.4,969.7h1.0v1.0h-1.0zM884.0,969.1h1.0v1.0h-1.0zM849.5,968.0h0.8v0.8h-0.8zM955.4,968.7h0.5v0.5h-0.5zM870.1,971.8h0.9v0.9h-0.9zM888.6,966.8h0.5v0.5h-0.5zM818.2,969.6h0.8v0.8h-0.8zM942.9,968.0h1.1v1.1h-1.1zM967.6,966.8h0.6v0.6h-0.6zM902.4,971.0h0.6v0.6h-0.6zM836.0,967.3h0.8v0.8h-0.8zM997.9,967.4h1.0v1.0h-1.0zM905.3,969.8h0.8v0.8h-0.8zM860.5,968.5h0.7v0.7h-0.7zM910.8,966.5h0.9v0.9h-0.9zM958.6,971.9h0.6v0.6h-0.6zM925.4,969.5h1.0v1.0h-1.0zM814.7,966.2h0.9v0.9h-0.9zM936.5,969.1h1.0v1.0h-1.0zM829.1,967.3h0.8v0.8h-0.8zM883.2,971.9h1.1v1.1h-1.1zM981.6,969.8h1.1v1.1h-1.1zM988.3,967.7h0.8v0.8h-0.8zM984.7,972.0h1.0v1.0h-1.0zM1024.7,970.3h1.0v1.0h-1.0zM830.9,971.8h0.9v0.9h-0.9zM904.1,967.4h0.8v0.8h-0.8zM829.6,970.2h1.0v1.0h-1.0zM1032.7,969.6h1.1v1.1h-1.1zM996.8,970.1h0.6v0.6h-0.6zM963.8,967.4h0.7v0.7h-0.7zM889.0,969.4h1.0v1.0h-1.0zM848.2,970.2h1.1v1.1h-1.1zM887.1,967.1h0.9v0.9h-0.9zM849.9,967.0h1.2v1.2h-1.2zM897.0,970.9h0.9v0.9h-0.9zM813.5,969.3h0.7v0.7h-0.7zM847.2,966.8h0.9v0.9h-0.9zM871.1,967.1h1.0v1.0h-1.0zM892.0,967.3h0.6v0.6h-0.6zM877.3,969.0h0.7v0.7h-0.7zM981.1,968.8h0.5v0.5h-0.5zM813.7,967.9h1.1v1.1h-1.1zM990.6,968.0h1.2v1.2h-1.2zM929.8,969.8h1.0v1.0h-1.0zM1004.2,970.3h0.6v0.6h-0.6zM848.2,968.1h0.8v0.8h-0.8zM1031.5,968.5h0.7v0.7h-0.7zM860.0,967.4h0.9v0.9h-0.9zM818.1,967.6h1.1v1.1h-1.1zM834.6,971.2h0.8v0.8h-0.8zM977.5,969.3h0.5v0.5h-0.5zM1021.4,967.4h0.6v0.6h-0.6zM897.9,971.5h0.8v0.8h-0.8zM986.6,967.9h0.7v0.7h-0.7zM827.4,967.3h1.2v1.2h-1.2zM907.7,971.2h0.6v0.6h-0.6zM958.9,969.4h0.7v0.7h-0.7zM989.2,969.5h0.8v0.8h-0.8zM904.5,967.6h0.8v0.8h-0.8zM1003.7,969.9h0.9v0.9h-0.9zM838.0,966.3h0.6v0.6h-0.6zM936.9,968.3h1.1v1.1h-1.1zM860.8,971.8h0.5v0.5h-0.5zM960.9,968.9h1.1v1.1h-1.1zM831.1,970.7h1.0v1.0h-1.0zM931.5,970.5h1.0v1.0h-1.0zM940.0,967.9h1.1v1.1h-1.1zM868.8,969.3h0.5v0.5h-0.5zM854.0,967.3h1.1v1.1h-1.1zM845.2,970.8h0.6v0.6h-0.6zM939.0,969.6h1.0v1.0h-1.0zM1006.6,966.4h0.7v0.7h-0.7zM943.9,971.0h1.0v1.0h-1.0zM1023.3,968.8h1.1v1.1h-1.1zM893.9,971.9h0.6v0.6h-0.6zM1010.9,967.1h0.9v0.9h-0.9zM1011.2,970.5h1.1v1.1h-1.1zM988.3,970.4h1.2v1.2h-1.2zM971.9,970.8h0.5v0.5h-0.5zM1018.5,971.5h0.8v0.8h-0.8zM832.2,968.7h0.7v0.7h-0.7zM858.6,970.2h0.9v0.9h-0.9zM947.4,971.8h0.6v0.6h-0.6zM1009.2,969.9h0.7v0.7h-0.7zM1029.4,969.6h0.5v0.5h-0.5zM826.3,969.5h1.2v1.2h-1.2zM824.6,966.3h1.0v1.0h-1.0zM950.4,970.9h0.5v0.5h-0.5zM931.5,968.5h0.7v0.7h-0.7zM1014.9,971.3h1.0v1.0h-1.0zM994.7,970.8h0.9v0.9h-0.9zM1024.3,966.4h1.1v1.1h-1.1zM904.6,967.7h0.9v0.9h-0.9zM1010.5,969.9h1.0v1.0h-1.0zM962.7,968.1h1.1v1.1h-1.1zM943.9,966.8h0.6v0.6h-0.6zM837.1,968.6h0.6v0.6h-0.6zM939.0,966.7h1.0v1.0h-1.0zM1003.8,970.9h0.7v0.7h-0.7zM966.0,968.1h0.8v0.8h-0.8zM845.1,970.8h0.8v0.8h-0.8zM857.0,967.7h0.6v0.6h-0.6zM924.7,971.1h1.2v1.2h-1.2zM926.9,966.9h1.1v1.1h-1.1zM990.8,966.6h1.0v1.0h-1.0zM946.4,969.4h0.6v0.6h-0.6zM1011.7,969.1h0.9v0.9h-0.9zM861.7,967.7h0.9v0.9h-0.9zM867.7,970.0h1.0v1.0h-1.0zM1027.8,970.4h0.8v0.8h-0.8zM979.2,968.2h1.2v1.2h-1.2zM897.5,967.7h1.1v1.1h-1.1zM957.8,966.9h0.7v0.7h-0.7zM878.9,966.1h0.5v0.5h-0.5zM1016.8,969.6h0.6v0.6h-0.6zM920.0,971.0h0.6v0.6h-0.6zM872.4,969.0h0.8v0.8h-0.8zM1032.0,968.2h0.9v0.9h-0.9zM837.3,967.3h1.1v1.1h-1.1zM865.9,966.0h1.0v1.0h-1.0zM1025.2,967.9h0.7v0.7h-0.7zM923.4,969.0h0.8v0.8h-0.8zM962.0,970.9h0.5v0.5h-0.5zM902.8,969.0h1.1v1.1h-1.1zM828.5,971.8h0.7v0.7h-0.7zM833.6,968.3h0.5v0.5h-0.5zM886.5,966.2h0.7v0.7h-0.7zM901.2,969.9h1.1v1.1h-1.1zM937.0,970.9h0.7v0.7h-0.7zM850.7,971.0h1.1v1.1h-1.1zM909.7,970.6h0.5v0.5h-0.5zM1000.1,967.6h0.8v0.8h-0.8zM832.7,971.2h1.1v1.1h-1.1zM828.9,969.7h0.7v0.7h-0.7zM913.0,969.3h1.2v1.2h-1.2zM914.2,966.7h0.8v0.8h-0.8zM937.3,966.0h1.1v1.1h-1.1zM983.4,969.5h0.7v0.7h-0.7zM900.1,968.2h1.2v1.2h-1.2zM860.0,970.8h1.1v1.1h-1.1zM866.7,971.7h1.1v1.1h-1.1zM957.2,971.4h0.8v0.8h-0.8zM843.3,968.2h0.7v0.7h-0.7zM1021.1,969.3h1.0v1.0h-1.0zM839.1,968.3h1.1v1.1h-1.1zM830.5,966.4h0.7v0.7h-0.7zM877.5,969.2h1.2v1.2h-1.2zM983.8,970.2h0.8v0.8h-0.8z' fill='#2b2b2b' opacity='0.75'/><path d='M917.5,992.6h1.0v1.0h-1.0zM988.8,991.7h0.6v0.6h-0.6zM887.9,992.2h1.1v1.1h-1.1zM854.0,990.2h0.8v0.8h-0.8zM831.6,992.9h0.7v0.7h-0.7zM973.3,992.1h0.7v0.7h-0.7zM966.2,991.6h0.7v0.7h-0.7zM988.9,990.6h1.0v1.0h-1.0zM911.4,994.4h0.6v0.6h-0.6zM857.6,990.9h0.6v0.6h-0.6zM854.0,992.7h1.0v1.0h-1.0zM845.5,992.4h1.1v1.1h-1.1zM932.7,994.6h1.0v1.0h-1.0zM814.7,991.6h1.0v1.0h-1.0zM897.6,994.2h0.8v0.8h-0.8zM822.6,991.1h0.6v0.6h-0.6zM912.8,994.1h0.8v0.8h-0.8zM815.5,994.1h0.5v0.5h-0.5zM1010.1,993.2h0.7v0.7h-0.7zM890.6,991.4h0.7v0.7h-0.7zM926.2,994.9h0.6v0.6h-0.6zM995.3,994.4h0.9v0.9h-0.9zM1010.6,993.1h1.0v1.0h-1.0zM838.9,992.1h0.9v0.9h-0.9zM1017.0,991.0h0.9v0.9h-0.9zM918.8,991.3h0.8v0.8h-0.8zM926.8,990.4h0.9v0.9h-0.9zM940.6,993.3h0.6v0.6h-0.6zM818.9,992.7h1.1v1.1h-1.1zM941.9,991.1h0.9v0.9h-0.9zM820.6,990.6h0.6v0.6h-0.6zM853.8,994.6h0.9v0.9h-0.9zM962.2,992.0h0.5v0.5h-0.5zM954.2,991.6h0.6v0.6h-0.6zM827.5,994.5h0.9v0.9h-0.9zM894.7,991.1h1.1v1.1h-1.1zM1025.2,992.7h0.7v0.7h-0.7zM994.6,992.9h0.7v0.7h-0.7zM1027.1,994.6h0.7v0.7h-0.7zM1028.5,994.3h1.1v1.1h-1.1zM1023.7,991.5h1.0v1.0h-1.0zM854.6,990.9h0.7v0.7h-0.7zM879.7,991.6h1.0v1.0h-1.0zM953.1,990.1h1.0v1.0h-1.0zM849.4,993.9h0.6v0.6h-0.6zM1024.0,993.2h0.9v0.9h-0.9zM874.4,994.3h0.5v0.5h-0.5zM995.3,992.8h0.7v0.7h-0.7zM902.1,990.1h0.8v0.8h-0.8zM918.1,991.9h0.6v0.6h-0.6zM941.5,992.3h0.6v0.6h-0.6zM863.7,990.9h0.5v0.5h-0.5zM971.0,990.9h0.9v0.9h-0.9zM896.2,990.5h0.6v0.6h-0.6zM972.5,991.6h0.8v0.8h-0.8zM832.1,994.8h0.8v0.8h-0.8zM990.0,991.1h1.1v1.1h-1.1zM864.5,993.4h1.0v1.0h-1.0zM952.4,990.5h1.0v1.0h-1.0zM985.7,993.4h0.9v0.9h-0.9zM825.4,991.5h0.7v0.7h-0.7zM864.7,994.0h0.6v0.6h-0.6zM870.9,990.9h0.6v0.6h-0.6zM1005.8,990.2h0.5v0.5h-0.5zM982.8,991.5h0.7v0.7h-0.7zM849.5,993.0h0.6v0.6h-0.6zM907.6,993.2h0.5v0.5h-0.5zM910.0,990.7h0.5v0.5h-0.5zM988.0,990.1h0.6v0.6h-0.6zM1023.7,990.2h0.8v0.8h-0.8zM968.7,992.8h1.1v1.1h-1.1zM907.7,994.4h0.7v0.7h-0.7zM898.5,995.0h0.8v0.8h-0.8zM945.8,994.2h1.0v1.0h-1.0zM1015.3,990.1h0.7v0.7h-0.7zM1019.7,991.8h0.6v0.6h-0.6zM867.8,994.2h0.8v0.8h-0.8zM897.7,990.9h0.7v0.7h-0.7zM868.2,992.5h0.5v0.5h-0.5zM931.3,993.0h0.9v0.9h-0.9zM933.5,993.8h0.6v0.6h-0.6zM996.3,991.1h0.7v0.7h-0.7zM946.2,990.5h1.0v1.0h-1.0zM991.9,993.6h0.7v0.7h-0.7zM853.7,991.0h0.6v0.6h-0.6zM952.1,991.2h0.8v0.8h-0.8zM982.6,994.4h0.9v0.9h-0.9zM885.5,993.6h1.1v1.1h-1.1zM957.1,990.4h0.8v0.8h-0.8zM917.6,990.1h0.7v0.7h-0.7zM1001.3,992.4h1.1v1.1h-1.1zM1001.1,992.4h0.8v0.8h-0.8zM853.5,993.3h0.6v0.6h-0.6zM931.5,992.4h0.9v0.9h-0.9zM969.1,994.6h1.0v1.0h-1.0zM998.3,990.7h0.8v0.8h-0.8zM968.2,992.1h0.5v0.5h-0.5zM942.9,990.5h0.5v0.5h-0.5zM850.8,991.1h0.6v0.6h-0.6zM902.6,993.7h0.9v0.9h-0.9zM901.4,991.9h0.8v0.8h-0.8zM889.3,994.4h0.7v0.7h-0.7zM977.7,992.8h0.8v0.8h-0.8zM943.3,993.9h0.8v0.8h-0.8zM959.2,991.4h0.9v0.9h-0.9zM864.0,991.4h1.1v1.1h-1.1zM965.9,993.2h0.7v0.7h-0.7zM939.6,991.5h0.6v0.6h-0.6zM954.9,990.7h0.5v0.5h-0.5zM959.1,991.8h0.7v0.7h-0.7zM952.4,994.4h0.9v0.9h-0.9zM840.9,993.8h0.8v0.8h-0.8zM1018.0,990.5h0.7v0.7h-0.7zM831.5,991.5h0.8v0.8h-0.8zM911.7,991.7h0.9v0.9h-0.9zM1018.4,992.9h0.8v0.8h-0.8zM989.6,993.1h0.9v0.9h-0.9zM869.1,992.8h0.9v0.9h-0.9zM840.8,992.9h0.9v0.9h-0.9zM939.0,993.5h1.1v1.1h-1.1zM1021.8,994.7h1.0v1.0h-1.0zM848.5,993.6h0.9v0.9h-0.9zM929.2,992.3h0.7v0.7h-0.7zM896.3,992.0h0.6v0.6h-0.6zM991.6,992.9h1.1v1.1h-1.1zM926.2,994.8h1.1v1.1h-1.1zM835.2,992.6h0.9v0.9h-0.9zM1014.3,992.1h1.0v1.0h-1.0zM868.8,991.8h0.7v0.7h-0.7zM944.8,991.3h0.6v0.6h-0.6zM819.3,990.8h1.0v1.0h-1.0zM1001.0,991.5h0.8v0.8h-0.8zM902.1,992.8h0.6v0.6h-0.6zM822.4,992.8h1.1v1.1h-1.1zM995.9,993.1h0.6v0.6h-0.6zM905.2,992.5h1.1v1.1h-1.1zM949.8,993.6h0.8v0.8h-0.8zM977.2,990.9h1.1v1.1h-1.1zM1021.8,993.4h0.7v0.7h-0.7zM1001.3,990.0h0.6v0.6h-0.6zM948.6,994.1h0.7v0.7h-0.7zM966.4,994.5h1.0v1.0h-1.0zM925.8,994.0h1.0v1.0h-1.0zM914.2,991.2h0.7v0.7h-0.7zM894.6,994.8h0.5v0.5h-0.5zM950.5,990.9h0.6v0.6h-0.6zM895.7,992.1h1.0v1.0h-1.0zM871.2,993.4h0.5v0.5h-0.5zM889.9,991.6h0.6v0.6h-0.6zM929.1,991.7h0.7v0.7h-0.7zM874.5,993.9h0.7v0.7h-0.7zM963.7,993.5h1.0v1.0h-1.0zM995.4,993.4h0.8v0.8h-0.8zM887.4,994.8h0.5v0.5h-0.5zM836.0,990.5h0.7v0.7h-0.7zM1008.7,994.7h0.9v0.9h-0.9zM1018.8,991.2h0.8v0.8h-0.8zM887.5,992.8h1.0v1.0h-1.0zM848.8,992.6h0.5v0.5h-0.5zM839.8,991.7h0.8v0.8h-0.8zM820.0,994.2h0.5v0.5h-0.5zM983.0,991.5h0.7v0.7h-0.7zM992.2,990.2h0.8v0.8h-0.8zM847.5,993.7h0.9v0.9h-0.9zM859.3,994.0h0.6v0.6h-0.6zM847.1,990.8h0.7v0.7h-0.7zM1018.7,991.4h0.8v0.8h-0.8zM931.3,994.3h0.6v0.6h-0.6zM887.1,990.7h1.1v1.1h-1.1zM977.3,992.5h0.7v0.7h-0.7zM942.5,991.8h0.7v0.7h-0.7zM964.7,990.3h0.6v0.6h-0.6zM852.6,995.0h0.6v0.6h-0.6zM906.7,992.1h0.8v0.8h-0.8zM964.6,993.6h1.0v1.0h-1.0zM859.1,994.9h0.9v0.9h-0.9zM967.2,991.6h0.8v0.8h-0.8zM817.3,994.3h0.7v0.7h-0.7zM957.4,992.8h0.8v0.8h-0.8zM872.2,993.6h0.6v0.6h-0.6zM1009.4,992.4h1.0v1.0h-1.0zM820.8,990.2h0.5v0.5h-0.5zM924.0,990.4h0.8v0.8h-0.8zM843.6,990.5h0.9v0.9h-0.9zM1013.8,993.5h0.5v0.5h-0.5zM931.7,994.7h0.6v0.6h-0.6zM1016.8,994.2h1.0v1.0h-1.0zM945.5,991.8h0.6v0.6h-0.6zM844.8,990.3h1.0v1.0h-1.0zM975.6,992.1h1.0v1.0h-1.0zM930.4,993.4h0.5v0.5h-0.5zM1020.6,991.4h0.7v0.7h-0.7zM897.8,992.3h0.9v0.9h-0.9zM872.3,992.9h0.8v0.8h-0.8zM863.8,994.1h0.6v0.6h-0.6zM941.1,991.3h1.0v1.0h-1.0zM871.0,993.3h0.8v0.8h-0.8zM946.1,992.7h0.8v0.8h-0.8zM974.6,994.0h0.5v0.5h-0.5zM828.6,992.5h1.0v1.0h-1.0zM975.7,993.5h0.7v0.7h-0.7zM929.3,992.8h0.6v0.6h-0.6zM959.1,990.1h0.8v0.8h-0.8zM911.1,992.4h1.0v1.0h-1.0zM970.2,993.0h0.8v0.8h-0.8zM962.5,993.2h0.7v0.7h-0.7zM909.7,990.8h1.1v1.1h-1.1zM909.9,992.8h1.0v1.0h-1.0zM908.1,992.1h0.5v0.5h-0.5zM917.2,991.8h0.8v0.8h-0.8zM965.5,992.7h0.7v0.7h-0.7zM1006.0,993.7h0.6v0.6h-0.6zM1004.5,992.1h0.6v0.6h-0.6zM940.5,992.7h0.9v0.9h-0.9zM962.9,991.6h1.0v1.0h-1.0zM830.8,990.1h1.0v1.0h-1.0zM842.1,992.9h0.6v0.6h-0.6zM889.6,991.7h0.8v0.8h-0.8zM843.1,993.2h0.9v0.9h-0.9zM869.9,995.0h0.8v0.8h-0.8zM820.6,994.8h0.8v0.8h-0.8zM939.0,993.8h1.0v1.0h-1.0zM969.1,994.6h1.1v1.1h-1.1zM1029.0,992.8h0.7v0.7h-0.7zM888.6,993.2h0.9v0.9h-0.9zM952.4,990.3h0.7v0.7h-0.7zM902.7,993.8h0.9v0.9h-0.9zM970.3,994.7h0.9v0.9h-0.9zM980.0,991.4h0.9v0.9h-0.9zM1004.9,993.4h0.7v0.7h-0.7zM1017.7,991.9h0.8v0.8h-0.8zM894.3,992.3h1.0v1.0h-1.0zM944.7,994.5h1.0v1.0h-1.0zM829.7,994.5h1.1v1.1h-1.1zM862.1,994.0h0.9v0.9h-0.9zM954.6,990.9h1.0v1.0h-1.0zM894.5,992.3h0.5v0.5h-0.5zM855.6,994.7h0.7v0.7h-0.7zM1019.9,991.0h0.9v0.9h-0.9zM910.8,993.3h0.5v0.5h-0.5zM947.1,992.4h0.7v0.7h-0.7zM955.3,990.8h0.7v0.7h-0.7zM830.9,993.2h0.6v0.6h-0.6zM1010.9,994.9h0.6v0.6h-0.6zM1013.7,990.1h0.9v0.9h-0.9zM979.8,994.0h0.9v0.9h-0.9zM855.4,994.1h1.0v1.0h-1.0zM889.5,991.9h0.7v0.7h-0.7zM970.8,990.4h1.0v1.0h-1.0zM922.1,992.2h0.8v0.8h-0.8zM898.4,991.8h0.8v0.8h-0.8zM837.6,991.3h0.8v0.8h-0.8zM912.7,990.2h0.8v0.8h-0.8zM914.6,991.6h0.5v0.5h-0.5zM912.8,994.4h0.6v0.6h-0.6zM823.9,991.0h0.8v0.8h-0.8zM940.8,992.2h1.0v1.0h-1.0zM959.5,994.4h1.1v1.1h-1.1zM1007.5,991.1h0.6v0.6h-0.6zM972.5,994.7h1.0v1.0h-1.0zM981.2,991.2h0.8v0.8h-0.8zM943.7,993.4h0.9v0.9h-0.9zM960.8,991.0h0.8v0.8h-0.8zM916.4,990.5h0.6v0.6h-0.6zM955.6,992.3h0.8v0.8h-0.8zM1018.9,994.4h0.8v0.8h-0.8zM948.7,994.0h1.1v1.1h-1.1zM947.6,992.4h0.6v0.6h-0.6zM979.1,990.2h0.7v0.7h-0.7zM855.9,994.3h0.9v0.9h-0.9zM940.0,990.1h0.6v0.6h-0.6zM1019.1,990.7h0.7v0.7h-0.7zM875.0,990.7h0.6v0.6h-0.6zM979.0,992.3h0.7v0.7h-0.7zM989.4,992.3h0.9v0.9h-0.9zM845.3,990.0h0.7v0.7h-0.7zM822.8,994.3h0.7v0.7h-0.7zM839.0,993.8h0.7v0.7h-0.7zM987.4,993.1h1.0v1.0h-1.0zM838.2,993.9h0.6v0.6h-0.6zM1020.7,994.0h0.5v0.5h-0.5zM869.7,994.6h0.8v0.8h-0.8zM905.7,993.1h0.6v0.6h-0.6zM925.9,992.2h1.1v1.1h-1.1zM814.3,993.2h0.7v0.7h-0.7zM900.5,992.6h1.0v1.0h-1.0zM853.9,993.3h0.8v0.8h-0.8zM833.4,992.6h0.9v0.9h-0.9zM922.4,991.0h0.7v0.7h-0.7zM880.4,993.6h0.6v0.6h-0.6zM839.5,991.3h0.9v0.9h-0.9zM823.3,990.4h0.7v0.7h-0.7zM871.3,994.2h0.9v0.9h-0.9zM942.4,992.2h0.6v0.6h-0.6zM894.5,994.8h1.0v1.0h-1.0zM935.7,994.0h0.8v0.8h-0.8zM973.0,990.1h1.0v1.0h-1.0zM1018.7,993.5h1.0v1.0h-1.0zM943.2,990.7h0.7v0.7h-0.7zM900.8,992.9h0.7v0.7h-0.7zM814.5,993.2h0.8v0.8h-0.8zM892.1,993.0h0.9v0.9h-0.9zM966.3,993.5h1.1v1.1h-1.1zM987.7,994.3h0.5v0.5h-0.5zM973.5,991.3h1.0v1.0h-1.0zM847.4,991.8h0.8v0.8h-0.8zM823.4,993.4h1.0v1.0h-1.0zM847.5,991.1h0.6v0.6h-0.6zM867.6,992.8h0.5v0.5h-0.5zM950.0,994.0h0.7v0.7h-0.7zM957.3,991.2h0.9v0.9h-0.9zM889.4,990.6h0.6v0.6h-0.6zM871.9,993.5h1.1v1.1h-1.1zM819.9,994.0h0.6v0.6h-0.6zM1002.8,992.4h0.7v0.7h-0.7zM997.7,994.0h0.8v0.8h-0.8zM895.7,993.5h0.7v0.7h-0.7zM1021.4,994.7h0.9v0.9h-0.9zM996.0,990.6h0.8v0.8h-0.8zM900.5,991.9h0.7v0.7h-0.7zM995.4,991.0h0.6v0.6h-0.6zM814.2,993.2h0.5v0.5h-0.5zM1014.7,993.0h0.6v0.6h-0.6zM899.9,994.4h0.6v0.6h-0.6zM931.3,992.4h0.8v0.8h-0.8zM1000.0,991.3h0.8v0.8h-0.8zM849.3,992.5h0.5v0.5h-0.5zM839.0,992.8h0.9v0.9h-0.9zM934.9,990.1h0.9v0.9h-0.9zM996.5,994.2h0.5v0.5h-0.5zM978.9,990.1h0.9v0.9h-0.9zM915.4,990.3h0.7v0.7h-0.7zM869.1,993.7h0.7v0.7h-0.7zM907.1,992.2h0.5v0.5h-0.5zM813.5,991.5h0.9v0.9h-0.9zM917.9,990.8h0.6v0.6h-0.6zM965.8,992.5h0.5v0.5h-0.5zM891.8,995.0h0.8v0.8h-0.8zM1018.2,994.9h0.5v0.5h-0.5zM861.6,994.4h0.5v0.5h-0.5zM848.0,991.9h1.0v1.0h-1.0zM895.9,990.6h0.9v0.9h-0.9zM916.3,992.4h0.5v0.5h-0.5zM969.7,992.1h0.6v0.6h-0.6zM989.4,992.2h0.9v0.9h-0.9zM830.5,991.5h0.8v0.8h-0.8zM941.2,994.3h0.7v0.7h-0.7zM948.0,993.5h0.5v0.5h-0.5zM873.5,993.4h0.5v0.5h-0.5zM995.7,992.7h0.7v0.7h-0.7zM906.6,994.2h0.7v0.7h-0.7zM909.2,993.2h0.7v0.7h-0.7zM919.3,994.4h1.0v1.0h-1.0zM1016.2,992.6h0.7v0.7h-0.7zM850.4,994.4h0.5v0.5h-0.5zM972.4,992.9h0.9v0.9h-0.9zM814.7,990.6h0.8v0.8h-0.8zM871.0,991.2h1.0v1.0h-1.0zM886.6,990.9h0.6v0.6h-0.6zM870.0,991.6h0.9v0.9h-0.9zM826.0,993.1h0.9v0.9h-0.9zM956.7,992.9h0.5v0.5h-0.5zM927.8,991.5h0.8v0.8h-0.8zM963.9,992.3h0.9v0.9h-0.9zM933.4,994.8h0.9v0.9h-0.9zM953.6,992.8h0.6v0.6h-0.6zM830.1,993.1h0.7v0.7h-0.7zM882.3,991.3h0.7v0.7h-0.7zM904.0,990.6h0.7v0.7h-0.7zM893.5,990.6h1.1v1.1h-1.1zM1029.8,993.0h1.1v1.1h-1.1zM966.9,993.7h0.7v0.7h-0.7zM997.1,993.9h0.7v0.7h-0.7zM856.2,992.2h0.8v0.8h-0.8zM933.2,992.3h0.6v0.6h-0.6zM945.7,994.7h1.0v1.0h-1.0zM937.5,993.9h1.1v1.1h-1.1zM819.0,993.0h0.9v0.9h-0.9zM820.9,990.1h1.1v1.1h-1.1zM1014.9,991.4h1.1v1.1h-1.1zM898.6,993.6h0.8v0.8h-0.8zM841.7,994.7h0.8v0.8h-0.8zM919.9,990.2h0.6v0.6h-0.6zM972.3,994.7h0.9v0.9h-0.9zM1003.2,994.1h0.9v0.9h-0.9z' fill='#2b2b2b' opacity='0.6'/><path d='M893.4,988.6h0.6v0.6h-0.6zM988.2,983.5h0.9v0.9h-0.9zM862.8,974.8h0.6v0.6h-0.6zM946.6,994.4h1.0v1.0h-1.0zM890.0,1002.9h0.5v0.5h-0.5zM823.0,997.0h0.7v0.7h-0.7zM863.6,992.0h0.7v0.7h-0.7zM965.9,986.9h0.7v0.7h-0.7zM939.0,991.4h0.7v0.7h-0.7zM896.5,999.0h0.7v0.7h-0.7zM921.1,976.0h0.6v0.6h-0.6zM970.1,1004.2h0.8v0.8h-0.8zM887.8,993.8h0.9v0.9h-0.9zM1031.6,973.5h0.5v0.5h-0.5zM908.6,973.2h0.8v0.8h-0.8zM895.0,972.9h0.6v0.6h-0.6zM927.4,1004.3h0.6v0.6h-0.6zM897.6,994.1h0.9v0.9h-0.9zM948.1,999.1h0.7v0.7h-0.7zM867.2,1002.9h0.8v0.8h-0.8zM842.7,998.1h0.5v0.5h-0.5zM986.7,996.7h0.9v0.9h-0.9zM901.3,980.9h1.0v1.0h-1.0zM818.5,990.1h0.7v0.7h-0.7zM837.0,979.4h1.0v1.0h-1.0zM835.3,1005.6h0.7v0.7h-0.7zM969.6,985.6h0.5v0.5h-0.5zM950.0,976.0h0.5v0.5h-0.5zM846.3,1004.6h0.7v0.7h-0.7zM938.5,984.8h0.7v0.7h-0.7zM832.9,972.4h0.9v0.9h-0.9zM872.1,1005.8h0.5v0.5h-0.5zM1000.3,1002.0h0.9v0.9h-0.9zM925.9,974.2h0.9v0.9h-0.9zM991.9,980.1h0.9v0.9h-0.9zM820.1,993.7h0.5v0.5h-0.5zM839.9,988.6h0.9v0.9h-0.9zM999.2,998.5h0.5v0.5h-0.5zM1019.8,979.0h0.8v0.8h-0.8zM926.6,984.7h0.7v0.7h-0.7zM981.1,979.8h1.0v1.0h-1.0zM1016.3,982.4h0.8v0.8h-0.8zM1003.0,990.9h0.5v0.5h-0.5zM942.8,977.7h0.9v0.9h-0.9zM847.3,991.5h0.6v0.6h-0.6zM957.4,1006.8h0.9v0.9h-0.9zM891.5,990.6h0.8v0.8h-0.8zM868.1,990.1h0.8v0.8h-0.8zM844.7,997.2h0.6v0.6h-0.6zM956.8,1005.1h0.8v0.8h-0.8zM1007.5,992.9h0.7v0.7h-0.7zM918.8,1001.3h0.9v0.9h-0.9zM929.4,993.1h0.6v0.6h-0.6zM851.6,991.3h0.6v0.6h-0.6zM880.2,974.8h0.8v0.8h-0.8zM855.8,976.8h0.5v0.5h-0.5zM891.8,1005.2h0.7v0.7h-0.7zM924.8,988.1h0.6v0.6h-0.6zM1002.8,997.9h0.7v0.7h-0.7zM939.6,1002.6h0.8v0.8h-0.8zM842.4,972.3h0.5v0.5h-0.5zM877.2,1006.1h0.8v0.8h-0.8zM852.8,992.6h0.8v0.8h-0.8zM983.6,998.9h0.8v0.8h-0.8zM874.4,980.5h0.6v0.6h-0.6zM873.2,983.7h0.7v0.7h-0.7zM851.9,995.9h0.9v0.9h-0.9zM933.1,987.5h0.6v0.6h-0.6zM988.1,977.7h0.6v0.6h-0.6zM885.7,1000.8h0.8v0.8h-0.8zM856.5,974.5h0.9v0.9h-0.9zM1024.0,1004.6h0.9v0.9h-0.9zM929.6,1001.9h0.6v0.6h-0.6zM826.3,993.6h0.8v0.8h-0.8zM982.7,989.5h0.6v0.6h-0.6zM1003.2,996.5h0.7v0.7h-0.7zM857.1,992.5h0.7v0.7h-0.7zM889.5,990.0h0.9v0.9h-0.9zM938.6,977.6h0.9v0.9h-0.9zM897.7,975.5h0.6v0.6h-0.6zM881.0,972.2h0.9v0.9h-0.9zM903.4,974.3h0.9v0.9h-0.9zM984.7,973.8h0.7v0.7h-0.7zM951.0,989.9h0.7v0.7h-0.7zM966.8,974.7h0.5v0.5h-0.5zM1024.0,985.2h0.7v0.7h-0.7zM917.3,976.0h0.9v0.9h-0.9zM868.7,1000.6h0.8v0.8h-0.8zM909.1,982.1h0.9v0.9h-0.9zM920.1,1007.4h0.9v0.9h-0.9zM882.3,1000.2h0.9v0.9h-0.9zM986.3,985.3h0.7v0.7h-0.7zM868.9,997.7h0.6v0.6h-0.6zM978.6,979.8h0.5v0.5h-0.5zM937.4,979.8h0.8v0.8h-0.8zM1009.8,1005.4h0.9v0.9h-0.9zM922.2,1003.8h0.6v0.6h-0.6zM936.6,980.3h0.9v0.9h-0.9zM955.8,1004.2h0.5v0.5h-0.5zM912.4,974.1h1.0v1.0h-1.0zM986.4,978.1h0.5v0.5h-0.5zM929.7,996.6h0.5v0.5h-0.5zM851.5,999.5h0.7v0.7h-0.7zM889.3,978.7h0.7v0.7h-0.7zM916.7,979.6h0.9v0.9h-0.9zM924.2,997.2h0.8v0.8h-0.8zM995.3,974.0h0.9v0.9h-0.9zM989.8,987.7h0.6v0.6h-0.6zM833.9,1002.4h1.0v1.0h-1.0zM975.4,988.9h0.5v0.5h-0.5zM1025.5,999.6h0.5v0.5h-0.5zM842.6,1004.0h0.7v0.7h-0.7zM896.2,975.5h0.5v0.5h-0.5zM890.3,1006.1h0.9v0.9h-0.9zM903.5,985.3h0.9v0.9h-0.9zM858.2,984.6h0.9v0.9h-0.9zM942.3,997.5h0.6v0.6h-0.6zM919.0,987.7h0.7v0.7h-0.7zM869.7,1000.5h0.6v0.6h-0.6zM933.4,984.2h0.6v0.6h-0.6zM952.9,1004.5h0.8v0.8h-0.8zM915.3,983.7h0.6v0.6h-0.6zM850.6,1000.6h0.8v0.8h-0.8zM863.1,995.1h0.8v0.8h-0.8zM815.3,999.2h0.8v0.8h-0.8zM831.6,981.4h1.0v1.0h-1.0zM896.3,995.6h0.8v0.8h-0.8zM933.4,972.4h0.9v0.9h-0.9zM909.7,995.7h0.8v0.8h-0.8zM887.9,984.9h0.5v0.5h-0.5zM879.8,974.0h0.7v0.7h-0.7zM890.3,980.9h0.8v0.8h-0.8zM952.6,972.0h0.5v0.5h-0.5zM939.7,980.3h0.8v0.8h-0.8zM938.3,973.2h1.0v1.0h-1.0zM844.5,995.6h0.7v0.7h-0.7zM977.6,996.2h0.8v0.8h-0.8zM917.5,977.1h0.6v0.6h-0.6zM956.9,980.3h0.7v0.7h-0.7zM925.7,1002.7h0.6v0.6h-0.6zM1020.9,995.7h1.0v1.0h-1.0zM955.1,974.1h1.0v1.0h-1.0zM843.8,992.6h0.7v0.7h-0.7zM864.5,1005.8h0.8v0.8h-0.8zM1031.2,996.6h0.6v0.6h-0.6zM934.4,997.3h0.7v0.7h-0.7zM847.6,1004.2h0.6v0.6h-0.6zM1001.2,984.9h0.7v0.7h-0.7zM853.7,984.2h0.6v0.6h-0.6zM1010.3,986.0h0.5v0.5h-0.5zM1011.4,996.2h0.8v0.8h-0.8zM921.1,972.5h0.5v0.5h-0.5zM858.2,1001.3h0.9v0.9h-0.9zM929.0,977.7h1.0v1.0h-1.0zM868.0,1000.3h0.7v0.7h-0.7zM814.8,988.5h0.8v0.8h-0.8zM942.5,987.5h0.5v0.5h-0.5zM1014.0,1004.9h0.9v0.9h-0.9zM985.9,998.4h0.7v0.7h-0.7zM870.9,986.7h0.5v0.5h-0.5zM993.9,982.1h0.6v0.6h-0.6zM927.5,996.0h0.8v0.8h-0.8zM1012.3,997.6h0.8v0.8h-0.8zM1010.0,995.3h1.0v1.0h-1.0zM921.9,974.9h0.7v0.7h-0.7zM1012.5,997.8h0.7v0.7h-0.7zM936.3,974.6h1.0v1.0h-1.0zM866.3,986.4h0.6v0.6h-0.6zM816.5,973.3h0.8v0.8h-0.8zM903.2,972.4h0.6v0.6h-0.6zM978.1,973.6h0.8v0.8h-0.8zM898.9,991.6h0.8v0.8h-0.8zM879.3,998.2h0.6v0.6h-0.6zM921.8,991.3h0.7v0.7h-0.7zM928.7,1000.4h0.8v0.8h-0.8zM838.0,977.2h0.7v0.7h-0.7zM945.7,993.8h0.6v0.6h-0.6zM989.6,1004.8h0.7v0.7h-0.7zM877.5,979.5h0.8v0.8h-0.8zM816.3,977.1h1.0v1.0h-1.0zM918.1,1000.7h1.0v1.0h-1.0zM901.8,1000.0h0.5v0.5h-0.5zM920.2,1002.1h0.9v0.9h-0.9zM989.7,993.9h0.8v0.8h-0.8zM892.5,1004.3h0.8v0.8h-0.8zM835.9,989.8h0.6v0.6h-0.6zM839.5,973.0h0.8v0.8h-0.8zM833.8,982.9h0.7v0.7h-0.7zM1021.6,1007.0h0.6v0.6h-0.6zM999.2,988.5h0.9v0.9h-0.9zM920.7,981.7h0.7v0.7h-0.7zM946.8,998.2h0.9v0.9h-0.9zM877.3,1006.1h1.0v1.0h-1.0zM813.8,988.8h0.6v0.6h-0.6zM912.0,975.4h1.0v1.0h-1.0zM1027.0,979.6h0.6v0.6h-0.6zM917.2,998.7h0.7v0.7h-0.7zM958.6,998.7h0.6v0.6h-0.6zM913.1,1005.8h0.6v0.6h-0.6zM910.1,989.2h0.5v0.5h-0.5zM1031.7,981.2h0.8v0.8h-0.8zM1015.7,972.0h0.9v0.9h-0.9zM938.8,1006.4h0.9v0.9h-0.9zM849.1,973.2h0.9v0.9h-0.9zM896.4,992.3h0.6v0.6h-0.6zM949.3,991.0h1.0v1.0h-1.0zM873.9,1005.6h0.6v0.6h-0.6zM997.0,980.6h1.0v1.0h-1.0zM974.1,979.4h0.9v0.9h-0.9zM1019.0,998.9h0.7v0.7h-0.7zM859.2,979.6h0.8v0.8h-0.8zM890.6,979.4h0.9v0.9h-0.9zM848.9,976.4h0.9v0.9h-0.9zM829.2,979.8h0.6v0.6h-0.6zM986.9,984.8h0.8v0.8h-0.8zM895.1,982.7h0.9v0.9h-0.9zM829.6,984.7h0.5v0.5h-0.5zM959.9,981.6h1.0v1.0h-1.0zM968.7,999.7h0.7v0.7h-0.7zM937.2,992.0h0.5v0.5h-0.5zM1012.1,976.7h0.7v0.7h-0.7zM949.9,993.0h0.6v0.6h-0.6zM896.0,999.9h0.7v0.7h-0.7zM977.1,997.3h0.9v0.9h-0.9zM943.7,996.4h0.9v0.9h-0.9zM946.8,985.4h1.0v1.0h-1.0zM892.6,996.7h0.6v0.6h-0.6zM986.8,974.9h0.8v0.8h-0.8zM924.2,1001.0h0.9v0.9h-0.9zM910.1,1003.3h0.9v0.9h-0.9zM880.0,991.1h0.8v0.8h-0.8zM1014.6,991.0h0.6v0.6h-0.6zM1013.0,1006.8h0.6v0.6h-0.6zM895.2,998.2h1.0v1.0h-1.0zM905.4,975.4h0.7v0.7h-0.7zM830.7,1001.3h0.6v0.6h-0.6zM866.3,998.0h0.7v0.7h-0.7zM957.4,976.8h0.5v0.5h-0.5zM925.9,1002.5h0.7v0.7h-0.7zM1011.0,984.9h0.7v0.7h-0.7zM969.7,980.0h0.8v0.8h-0.8zM1032.9,999.1h0.8v0.8h-0.8zM1023.0,999.2h0.8v0.8h-0.8zM825.5,994.8h0.8v0.8h-0.8zM1013.9,975.5h0.9v0.9h-0.9zM847.0,1000.7h0.9v0.9h-0.9zM885.0,972.6h0.5v0.5h-0.5zM931.1,977.8h0.8v0.8h-0.8zM1030.6,998.4h1.0v1.0h-1.0zM989.1,979.5h0.5v0.5h-0.5zM1028.9,1006.7h0.7v0.7h-0.7zM941.9,1005.1h0.7v0.7h-0.7zM898.6,990.6h0.9v0.9h-0.9zM828.2,993.2h0.8v0.8h-0.8zM899.7,978.9h0.7v0.7h-0.7zM942.7,976.5h0.9v0.9h-0.9zM919.7,985.1h0.7v0.7h-0.7zM955.3,979.6h0.8v0.8h-0.8zM912.7,974.0h0.6v0.6h-0.6zM825.7,975.5h0.6v0.6h-0.6zM851.6,992.7h0.6v0.6h-0.6zM894.7,998.5h0.5v0.5h-0.5zM867.3,977.7h0.6v0.6h-0.6zM836.8,984.5h0.9v0.9h-0.9zM815.0,975.4h0.8v0.8h-0.8zM856.2,989.5h0.7v0.7h-0.7zM866.4,985.5h0.8v0.8h-0.8zM814.6,979.5h0.8v0.8h-0.8zM833.9,988.3h1.0v1.0h-1.0zM837.3,982.5h0.8v0.8h-0.8zM882.5,991.1h0.6v0.6h-0.6zM956.3,988.3h1.0v1.0h-1.0zM1000.3,977.9h0.5v0.5h-0.5zM839.9,1000.3h0.7v0.7h-0.7zM858.9,974.1h0.7v0.7h-0.7zM949.2,1007.0h0.7v0.7h-0.7zM991.0,1007.1h0.7v0.7h-0.7zM852.4,973.2h0.6v0.6h-0.6zM861.1,993.2h0.7v0.7h-0.7zM972.6,992.5h0.8v0.8h-0.8zM959.6,986.7h0.8v0.8h-0.8zM827.7,988.4h0.7v0.7h-0.7zM913.3,999.4h0.8v0.8h-0.8zM825.6,990.1h0.9v0.9h-0.9zM1013.9,983.5h1.0v1.0h-1.0zM886.3,1001.4h0.9v0.9h-0.9zM865.2,994.9h0.8v0.8h-0.8zM971.5,1005.8h0.6v0.6h-0.6zM1029.3,972.9h0.5v0.5h-0.5zM933.5,978.5h0.7v0.7h-0.7zM925.6,991.2h0.6v0.6h-0.6zM839.9,1003.1h0.8v0.8h-0.8zM996.6,1005.5h0.9v0.9h-0.9zM923.0,974.1h1.0v1.0h-1.0zM888.8,995.1h0.6v0.6h-0.6zM899.3,996.2h0.7v0.7h-0.7zM837.7,985.1h0.7v0.7h-0.7zM1021.4,1003.4h0.9v0.9h-0.9zM814.1,1005.9h0.9v0.9h-0.9zM821.4,989.4h1.0v1.0h-1.0zM903.9,992.3h0.6v0.6h-0.6zM1027.7,983.8h0.6v0.6h-0.6zM981.1,993.5h0.9v0.9h-0.9zM953.1,984.3h0.9v0.9h-0.9zM931.4,991.0h0.7v0.7h-0.7zM893.4,972.1h0.9v0.9h-0.9zM970.8,986.2h0.6v0.6h-0.6zM845.5,975.8h0.8v0.8h-0.8zM941.4,991.0h0.9v0.9h-0.9zM904.1,989.5h0.6v0.6h-0.6zM919.1,972.7h0.9v0.9h-0.9zM989.4,992.4h0.9v0.9h-0.9zM1022.9,982.7h1.0v1.0h-1.0zM852.4,994.1h0.8v0.8h-0.8zM830.0,1000.5h0.6v0.6h-0.6zM845.2,981.1h0.8v0.8h-0.8zM1023.2,994.3h0.5v0.5h-0.5zM908.7,998.1h0.5v0.5h-0.5zM951.5,989.4h0.8v0.8h-0.8zM896.6,993.6h0.6v0.6h-0.6zM833.4,975.5h0.7v0.7h-0.7zM1015.8,1007.5h0.6v0.6h-0.6zM874.9,1000.6h1.0v1.0h-1.0zM1017.7,989.5h0.7v0.7h-0.7zM1002.4,982.4h0.6v0.6h-0.6zM841.2,981.6h0.5v0.5h-0.5zM910.5,1007.9h0.8v0.8h-0.8zM888.9,998.9h0.6v0.6h-0.6zM864.4,996.0h1.0v1.0h-1.0zM853.9,973.2h0.9v0.9h-0.9zM1000.9,988.5h0.7v0.7h-0.7zM820.8,990.5h0.6v0.6h-0.6zM891.5,975.4h1.0v1.0h-1.0zM972.0,998.4h0.8v0.8h-0.8zM987.4,989.5h0.7v0.7h-0.7zM975.6,1005.5h0.5v0.5h-0.5zM915.1,995.7h0.9v0.9h-0.9zM819.0,995.0h0.9v0.9h-0.9zM903.9,983.5h0.9v0.9h-0.9zM925.5,980.9h0.8v0.8h-0.8zM835.9,985.6h0.9v0.9h-0.9zM865.5,981.0h0.8v0.8h-0.8zM904.1,1007.8h0.9v0.9h-0.9zM967.4,996.1h0.7v0.7h-0.7zM880.7,995.4h0.6v0.6h-0.6zM847.4,1002.1h0.6v0.6h-0.6zM1026.9,994.7h0.6v0.6h-0.6zM942.9,1002.1h0.7v0.7h-0.7zM1023.6,990.5h0.7v0.7h-0.7zM858.8,975.6h0.8v0.8h-0.8zM1017.3,990.7h0.8v0.8h-0.8zM931.4,1003.4h0.9v0.9h-0.9zM929.4,979.2h0.5v0.5h-0.5zM998.2,995.0h0.8v0.8h-0.8zM945.3,999.2h0.6v0.6h-0.6zM924.4,999.3h0.9v0.9h-0.9zM953.3,1001.1h0.8v0.8h-0.8zM993.2,996.9h1.0v1.0h-1.0zM900.4,1005.7h0.7v0.7h-0.7zM945.0,1000.0h0.7v0.7h-0.7zM908.5,986.3h0.7v0.7h-0.7zM967.5,976.9h0.8v0.8h-0.8zM855.2,979.1h0.8v0.8h-0.8zM923.0,976.7h0.6v0.6h-0.6zM978.0,995.3h0.8v0.8h-0.8zM885.1,993.3h0.7v0.7h-0.7zM903.9,983.0h0.6v0.6h-0.6zM1020.9,975.1h0.7v0.7h-0.7zM859.4,1005.6h1.0v1.0h-1.0zM1021.3,981.6h0.8v0.8h-0.8zM948.2,1002.4h0.8v0.8h-0.8zM904.0,993.5h0.7v0.7h-0.7zM990.5,1004.7h0.8v0.8h-0.8zM864.4,989.2h0.9v0.9h-0.9zM1013.8,989.8h0.8v0.8h-0.8zM846.7,1001.8h1.0v1.0h-1.0zM828.9,986.3h0.7v0.7h-0.7zM868.6,1002.3h0.5v0.5h-0.5zM1006.0,990.6h0.6v0.6h-0.6zM821.8,988.4h0.9v0.9h-0.9zM872.2,988.3h1.0v1.0h-1.0zM1025.5,1001.6h0.9v0.9h-0.9zM993.0,977.9h1.0v1.0h-1.0zM1010.9,999.7h0.6v0.6h-0.6zM817.2,1002.0h0.6v0.6h-0.6zM825.2,975.9h0.8v0.8h-0.8zM966.2,972.8h0.9v0.9h-0.9zM860.9,1003.8h0.7v0.7h-0.7zM948.9,1004.8h0.8v0.8h-0.8zM885.6,974.4h0.8v0.8h-0.8zM1017.6,983.6h0.8v0.8h-0.8zM874.1,997.8h0.8v0.8h-0.8zM985.6,979.3h0.7v0.7h-0.7zM846.6,992.7h0.5v0.5h-0.5zM863.1,974.8h0.9v0.9h-0.9zM890.8,988.1h0.5v0.5h-0.5zM854.8,1005.7h0.6v0.6h-0.6zM969.8,998.4h0.6v0.6h-0.6zM956.7,990.8h1.0v1.0h-1.0zM842.0,983.7h0.8v0.8h-0.8zM969.6,979.8h0.7v0.7h-0.7zM983.2,978.8h0.5v0.5h-0.5zM847.1,989.9h0.7v0.7h-0.7zM1024.6,973.4h0.8v0.8h-0.8zM834.4,980.4h0.6v0.6h-0.6zM937.8,990.8h1.0v1.0h-1.0zM867.1,995.3h0.8v0.8h-0.8zM943.9,999.8h0.6v0.6h-0.6zM853.6,976.9h0.5v0.5h-0.5zM1029.2,977.9h0.7v0.7h-0.7zM940.1,980.6h0.9v0.9h-0.9zM868.4,1003.9h0.9v0.9h-0.9zM943.7,994.1h0.5v0.5h-0.5zM966.4,974.0h0.5v0.5h-0.5zM1019.1,990.8h0.5v0.5h-0.5zM869.9,987.6h0.6v0.6h-0.6zM890.6,988.6h0.7v0.7h-0.7zM886.7,972.9h0.8v0.8h-0.8zM945.4,988.5h0.9v0.9h-0.9zM1032.7,991.4h0.8v0.8h-0.8zM956.4,1002.4h0.9v0.9h-0.9zM912.5,974.3h0.7v0.7h-0.7zM845.0,976.1h0.6v0.6h-0.6zM843.8,993.5h0.8v0.8h-0.8zM997.2,987.8h0.5v0.5h-0.5zM983.9,988.9h0.7v0.7h-0.7zM1011.5,979.0h0.5v0.5h-0.5zM1004.6,1006.5h0.9v0.9h-0.9zM823.3,981.6h0.8v0.8h-0.8zM975.4,994.6h0.8v0.8h-0.8zM984.4,1005.2h0.8v0.8h-0.8zM928.9,990.0h0.7v0.7h-0.7zM957.1,978.8h0.5v0.5h-0.5zM1022.0,989.9h0.9v0.9h-0.9zM993.8,978.3h0.9v0.9h-0.9zM897.3,989.4h0.7v0.7h-0.7zM904.0,1003.4h0.6v0.6h-0.6zM926.3,988.6h0.6v0.6h-0.6zM830.3,999.2h0.9v0.9h-0.9zM828.1,989.8h0.8v0.8h-0.8zM963.2,978.4h1.0v1.0h-1.0zM967.8,977.0h1.0v1.0h-1.0zM929.2,998.8h0.8v0.8h-0.8zM910.6,989.1h0.5v0.5h-0.5zM995.3,996.2h0.5v0.5h-0.5zM950.5,998.6h0.6v0.6h-0.6zM1001.5,996.8h0.7v0.7h-0.7zM932.6,998.7h0.9v0.9h-0.9zM996.8,982.5h0.8v0.8h-0.8zM1019.2,999.4h0.6v0.6h-0.6zM843.5,1005.6h0.5v0.5h-0.5zM842.5,973.2h0.8v0.8h-0.8zM821.1,982.0h1.0v1.0h-1.0zM868.9,988.0h0.7v0.7h-0.7zM983.1,972.9h0.7v0.7h-0.7zM824.7,1006.7h1.0v1.0h-1.0zM1005.4,988.2h1.0v1.0h-1.0zM980.5,978.2h0.7v0.7h-0.7zM924.2,977.3h0.8v0.8h-0.8zM974.2,974.8h0.8v0.8h-0.8zM979.4,1003.6h0.9v0.9h-0.9zM969.4,975.9h0.8v0.8h-0.8zM954.2,985.1h0.6v0.6h-0.6zM894.2,975.4h0.8v0.8h-0.8zM928.8,1007.2h0.6v0.6h-0.6zM885.2,977.9h1.0v1.0h-1.0zM912.8,1000.3h0.5v0.5h-0.5zM1006.4,1001.6h0.8v0.8h-0.8zM867.6,993.1h1.0v1.0h-1.0zM854.5,990.2h1.0v1.0h-1.0zM977.3,972.6h0.6v0.6h-0.6zM912.9,982.4h0.6v0.6h-0.6zM934.9,997.9h0.8v0.8h-0.8zM991.9,978.4h0.6v0.6h-0.6zM830.8,994.3h1.0v1.0h-1.0z' fill='#2b2b2b' opacity='0.5'/><path d='M825.4,922 H1035.4 V1011 H825.4 L811.4,1001 V932 Z' fill='none' stroke='#2b2b2b' stroke-width='1.7'/><path d='M825.4,922 V1011 M840.4,923 V1011' stroke='#2b2b2b' stroke-width='1.0' opacity='0.6'/><path d='M825.4,972 H837.4 V1011' fill='none' stroke='#2b2b2b' stroke-width='1.3' opacity='0.75'/><rect x='952.4' y='922' width='16.0' height='89' fill='#f1f1f1'/><path d='M952.4,922.5 q1,-2 3,-2 h10.0 q2,0 3,2 M952.4,1010.5 q1,2 3,2 h10.0 q2,0 3,-2' fill='none' stroke='#2b2b2b' stroke-width='1.5'/><path d='M952.9,924 V1009 M967.9,924 V1009' stroke='#999' stroke-width='0.8'/><path d='M956.1,956.1h1.1v1.1h-1.1zM955.9,968.6h0.9v0.9h-0.9zM963.4,951.5h1.4v1.4h-1.4zM958.9,959.4h1.0v1.0h-1.0zM961.3,955.2h1.1v1.1h-1.1zM961.3,951.4h1.0v1.0h-1.0zM965.2,958.0h1.2v1.2h-1.2zM953.4,963.3h0.8v0.8h-0.8zM958.4,970.5h1.1v1.1h-1.1zM957.1,966.6h1.1v1.1h-1.1zM959.3,954.2h1.0v1.0h-1.0zM955.2,960.6h1.1v1.1h-1.1zM960.4,957.5h1.2v1.2h-1.2zM957.6,952.7h1.1v1.1h-1.1zM957.8,949.5h1.1v1.1h-1.1zM959.7,957.6h0.9v0.9h-0.9zM965.6,970.8h0.9v0.9h-0.9zM964.5,969.9h0.9v0.9h-0.9zM965.0,965.3h1.1v1.1h-1.1zM962.0,957.1h1.0v1.0h-1.0zM962.8,968.8h1.0v1.0h-1.0zM955.7,960.1h1.2v1.2h-1.2zM956.5,950.6h0.8v0.8h-0.8zM957.4,964.2h1.2v1.2h-1.2zM966.5,953.1h0.9v0.9h-0.9zM962.8,962.8h1.0v1.0h-1.0zM953.8,961.4h1.1v1.1h-1.1zM960.2,955.7h1.1v1.1h-1.1zM961.4,963.6h0.9v0.9h-0.9zM960.2,967.5h0.9v0.9h-0.9zM963.1,971.2h0.8v0.8h-0.8zM956.6,966.2h1.1v1.1h-1.1zM960.9,967.6h1.0v1.0h-1.0zM961.1,969.9h1.4v1.4h-1.4zM958.6,959.7h0.9v0.9h-0.9zM960.9,964.9h0.9v0.9h-0.9zM963.2,963.2h1.2v1.2h-1.2zM959.2,952.0h1.3v1.3h-1.3z' fill='#2b2b2b' opacity='0.85'/><rect x='952.9' y='972.73' width='15.0' height='29.37' fill='#9a9a9a'/><path d='M964.6,993.1h1.7v1.7h-1.7zM955.0,998.9h1.7v1.7h-1.7zM967.6,974.9h1.9v1.9h-1.9zM958.7,973.7h1.7v1.7h-1.7zM962.4,973.9h1.3v1.3h-1.3zM960.4,1000.7h1.3v1.3h-1.3zM953.3,1001.6h1.2v1.2h-1.2zM965.0,974.6h1.5v1.5h-1.5zM962.1,989.9h2.0v2.0h-2.0zM956.8,981.2h1.6v1.6h-1.6zM955.6,993.8h1.7v1.7h-1.7zM958.8,980.7h1.3v1.3h-1.3zM960.5,985.8h1.1v1.1h-1.1zM955.7,995.6h2.0v2.0h-2.0zM955.5,985.9h1.4v1.4h-1.4zM958.6,989.3h1.0v1.0h-1.0zM967.7,1002.0h1.6v1.6h-1.6zM962.8,987.0h1.2v1.2h-1.2zM965.8,977.7h1.0v1.0h-1.0zM967.1,995.0h1.1v1.1h-1.1zM964.7,981.9h1.7v1.7h-1.7zM955.0,998.5h1.4v1.4h-1.4zM961.2,988.4h1.1v1.1h-1.1zM960.2,988.4h1.1v1.1h-1.1zM962.2,986.8h1.8v1.8h-1.8zM956.3,989.1h1.4v1.4h-1.4zM956.5,976.7h1.4v1.4h-1.4zM955.0,979.0h1.8v1.8h-1.8zM964.3,999.3h1.8v1.8h-1.8zM959.3,974.6h1.1v1.1h-1.1zM963.1,1000.9h1.8v1.8h-1.8zM958.2,997.7h1.8v1.8h-1.8zM962.4,997.8h1.2v1.2h-1.2zM962.7,995.4h1.5v1.5h-1.5zM965.0,993.0h1.2v1.2h-1.2zM962.8,994.5h1.6v1.6h-1.6zM956.8,974.4h1.5v1.5h-1.5zM964.0,994.9h1.9v1.9h-1.9zM965.2,987.0h1.3v1.3h-1.3zM960.8,998.7h1.3v1.3h-1.3zM955.8,998.9h1.9v1.9h-1.9zM963.8,1001.4h1.8v1.8h-1.8zM962.1,992.5h1.5v1.5h-1.5zM966.0,980.5h1.8v1.8h-1.8zM963.4,984.7h1.0v1.0h-1.0zM954.0,998.6h1.7v1.7h-1.7zM965.6,988.7h1.3v1.3h-1.3zM959.3,984.2h1.2v1.2h-1.2zM957.8,984.9h1.2v1.2h-1.2zM955.0,999.2h1.9v1.9h-1.9zM953.5,980.3h1.5v1.5h-1.5zM959.4,996.0h1.5v1.5h-1.5zM957.6,990.2h1.7v1.7h-1.7zM962.3,975.6h2.0v2.0h-2.0zM958.8,978.2h1.4v1.4h-1.4zM954.7,978.6h1.9v1.9h-1.9zM955.6,999.4h1.8v1.8h-1.8zM956.4,999.4h1.1v1.1h-1.1zM959.2,1001.7h1.3v1.3h-1.3zM965.6,988.8h1.7v1.7h-1.7zM966.9,996.6h1.2v1.2h-1.2zM963.0,983.9h1.6v1.6h-1.6zM964.9,980.6h1.2v1.2h-1.2zM955.1,977.0h2.0v2.0h-2.0zM965.5,977.2h1.1v1.1h-1.1zM954.3,991.6h1.8v1.8h-1.8zM960.7,980.6h1.3v1.3h-1.3zM956.5,988.7h1.0v1.0h-1.0zM966.0,995.3h1.4v1.4h-1.4zM966.7,998.9h1.6v1.6h-1.6zM953.5,989.3h1.3v1.3h-1.3zM964.8,989.5h1.8v1.8h-1.8zM956.3,980.1h1.2v1.2h-1.2zM958.3,988.4h1.5v1.5h-1.5zM967.4,991.7h1.6v1.6h-1.6zM957.2,994.5h1.0v1.0h-1.0zM961.9,1001.7h1.1v1.1h-1.1zM965.9,980.7h1.3v1.3h-1.3zM958.7,983.5h1.9v1.9h-1.9zM959.7,983.4h1.1v1.1h-1.1zM966.9,987.7h2.0v2.0h-2.0zM956.3,982.4h1.6v1.6h-1.6zM966.2,997.3h1.8v1.8h-1.8zM953.9,987.0h1.5v1.5h-1.5zM963.9,977.7h1.4v1.4h-1.4zM963.3,973.0h1.5v1.5h-1.5zM959.7,999.5h2.0v2.0h-2.0zM964.1,990.4h1.9v1.9h-1.9zM963.5,975.2h1.5v1.5h-1.5zM953.7,978.1h1.8v1.8h-1.8zM966.8,976.1h1.7v1.7h-1.7zM964.1,1001.0h1.7v1.7h-1.7zM963.9,990.7h2.0v2.0h-2.0zM954.1,985.0h1.3v1.3h-1.3zM967.6,1000.3h1.3v1.3h-1.3zM955.5,989.3h1.2v1.2h-1.2z' fill='#2b2b2b' opacity='1.0'/><path d='M967.5,993.2h1.4v1.4h-1.4zM958.1,988.5h1.3v1.3h-1.3zM963.9,987.7h1.1v1.1h-1.1zM955.7,979.5h1.4v1.4h-1.4zM962.8,991.0h1.5v1.5h-1.5zM955.1,997.9h1.1v1.1h-1.1zM958.6,1001.1h1.1v1.1h-1.1zM956.7,1000.8h1.4v1.4h-1.4zM960.0,991.7h0.9v0.9h-0.9zM957.3,988.2h1.4v1.4h-1.4zM966.7,1000.8h1.5v1.5h-1.5zM965.7,992.5h1.3v1.3h-1.3zM954.6,992.1h1.5v1.5h-1.5zM958.8,976.3h1.0v1.0h-1.0zM966.3,998.2h1.0v1.0h-1.0zM955.5,994.0h1.1v1.1h-1.1zM957.1,999.2h0.9v0.9h-0.9zM962.3,1001.0h0.9v0.9h-0.9zM961.8,975.2h1.3v1.3h-1.3zM954.0,989.0h1.3v1.3h-1.3zM964.4,984.2h0.9v0.9h-0.9zM966.3,991.7h1.3v1.3h-1.3zM960.4,1000.0h1.2v1.2h-1.2zM956.5,986.7h1.4v1.4h-1.4zM960.0,985.5h1.1v1.1h-1.1zM957.1,983.4h1.1v1.1h-1.1zM963.3,990.0h0.8v0.8h-0.8zM958.3,972.7h1.4v1.4h-1.4zM956.9,997.7h1.3v1.3h-1.3zM962.8,995.9h1.3v1.3h-1.3zM964.0,995.7h0.9v0.9h-0.9zM963.1,997.5h1.0v1.0h-1.0zM958.6,998.1h1.5v1.5h-1.5zM956.5,987.3h1.2v1.2h-1.2zM961.6,978.7h1.1v1.1h-1.1zM965.7,979.7h1.5v1.5h-1.5zM967.4,975.0h1.5v1.5h-1.5zM956.9,976.3h1.2v1.2h-1.2zM967.9,990.2h1.0v1.0h-1.0zM961.6,993.5h0.9v0.9h-0.9zM967.0,986.4h0.9v0.9h-0.9zM962.7,987.6h1.0v1.0h-1.0zM966.1,973.2h1.0v1.0h-1.0zM962.0,977.2h0.8v0.8h-0.8z' fill='#f4f4f4' opacity='1.0'/><path d='M964.1,1003.3h0.9v0.9h-0.9zM958.9,1005.5h1.1v1.1h-1.1zM954.5,1008.2h0.8v0.8h-0.8zM962.3,1007.0h0.9v0.9h-0.9zM957.0,1009.4h1.2v1.2h-1.2zM957.3,1003.0h1.3v1.3h-1.3zM955.2,1003.5h1.2v1.2h-1.2zM961.4,1007.6h0.9v0.9h-0.9zM958.1,1009.9h1.2v1.2h-1.2zM958.4,1004.6h0.9v0.9h-0.9zM956.8,1007.0h1.0v1.0h-1.0z' fill='#2b2b2b' opacity='0.7'/><rect x='979.4' y='922' width='16.0' height='89' fill='#f1f1f1'/><path d='M979.4,922.5 q1,-2 3,-2 h10.0 q2,0 3,2 M979.4,1010.5 q1,2 3,2 h10.0 q2,0 3,-2' fill='none' stroke='#2b2b2b' stroke-width='1.5'/><path d='M979.9,924 V1009 M994.9,924 V1009' stroke='#999' stroke-width='0.8'/><path d='M990.2,956.3h0.8v0.8h-0.8zM981.0,949.4h1.2v1.2h-1.2zM992.0,961.5h1.3v1.3h-1.3zM988.2,952.3h0.9v0.9h-0.9zM985.6,961.8h1.3v1.3h-1.3zM992.1,957.8h1.3v1.3h-1.3zM984.7,962.2h1.2v1.2h-1.2zM990.2,965.5h1.2v1.2h-1.2zM983.9,968.5h1.2v1.2h-1.2zM992.1,955.1h1.0v1.0h-1.0zM985.1,968.2h1.1v1.1h-1.1zM989.3,968.8h1.0v1.0h-1.0zM987.7,960.0h1.0v1.0h-1.0zM987.5,962.3h0.8v0.8h-0.8zM988.5,956.9h0.9v0.9h-0.9zM989.8,968.2h1.2v1.2h-1.2zM992.1,952.8h1.0v1.0h-1.0zM983.6,950.3h1.2v1.2h-1.2zM982.4,968.0h1.1v1.1h-1.1zM986.6,968.5h1.0v1.0h-1.0zM992.7,965.2h1.2v1.2h-1.2zM991.8,960.5h1.0v1.0h-1.0zM990.1,952.7h1.2v1.2h-1.2zM981.9,970.0h1.4v1.4h-1.4zM984.5,956.5h1.2v1.2h-1.2zM993.7,959.9h1.1v1.1h-1.1zM987.6,951.2h1.3v1.3h-1.3zM989.5,965.5h1.3v1.3h-1.3zM982.2,955.5h1.2v1.2h-1.2zM982.9,961.5h1.1v1.1h-1.1zM984.6,950.5h1.1v1.1h-1.1zM981.9,966.0h1.3v1.3h-1.3zM982.3,963.8h1.2v1.2h-1.2zM988.8,955.6h0.9v0.9h-0.9zM993.6,966.5h0.9v0.9h-0.9zM983.4,957.3h1.1v1.1h-1.1zM982.1,969.4h1.2v1.2h-1.2zM984.8,957.7h0.9v0.9h-0.9z' fill='#2b2b2b' opacity='0.85'/><rect x='979.9' y='972.73' width='15.0' height='29.37' fill='#9a9a9a'/><path d='M983.5,980.0h1.9v1.9h-1.9zM988.0,974.9h1.9v1.9h-1.9zM984.7,973.8h1.7v1.7h-1.7zM991.1,996.1h1.1v1.1h-1.1zM993.4,977.7h1.6v1.6h-1.6zM994.7,993.5h1.4v1.4h-1.4zM989.6,988.0h1.6v1.6h-1.6zM988.5,999.8h1.8v1.8h-1.8zM985.7,994.8h1.7v1.7h-1.7zM983.7,992.9h1.6v1.6h-1.6zM982.5,989.3h1.5v1.5h-1.5zM987.7,996.8h1.7v1.7h-1.7zM993.4,977.6h1.9v1.9h-1.9zM992.8,973.0h1.4v1.4h-1.4zM993.1,981.0h1.9v1.9h-1.9zM980.8,996.8h2.0v2.0h-2.0zM989.1,987.6h1.5v1.5h-1.5zM985.8,981.9h1.7v1.7h-1.7zM985.9,990.5h1.1v1.1h-1.1zM994.8,1001.3h1.3v1.3h-1.3zM991.1,988.8h1.8v1.8h-1.8zM982.9,997.1h1.5v1.5h-1.5zM989.1,991.7h1.0v1.0h-1.0zM987.6,994.0h1.2v1.2h-1.2zM986.4,988.4h1.2v1.2h-1.2zM991.6,980.2h1.5v1.5h-1.5zM988.3,977.5h1.8v1.8h-1.8zM979.9,977.3h1.8v1.8h-1.8zM989.7,993.7h1.9v1.9h-1.9zM990.4,996.1h1.2v1.2h-1.2zM994.0,993.5h1.4v1.4h-1.4zM991.8,980.0h1.8v1.8h-1.8zM990.3,976.9h1.9v1.9h-1.9zM990.8,986.2h1.8v1.8h-1.8zM987.0,999.1h1.0v1.0h-1.0zM981.1,992.9h1.5v1.5h-1.5zM987.5,982.0h1.7v1.7h-1.7zM994.7,986.3h1.8v1.8h-1.8zM986.0,986.5h1.5v1.5h-1.5zM992.4,982.7h1.0v1.0h-1.0zM991.5,998.6h1.9v1.9h-1.9zM985.3,977.8h1.1v1.1h-1.1zM983.7,989.0h1.3v1.3h-1.3zM986.4,993.1h1.5v1.5h-1.5zM985.3,977.5h1.8v1.8h-1.8zM980.3,988.0h1.5v1.5h-1.5zM993.6,983.9h1.7v1.7h-1.7zM987.6,996.3h1.5v1.5h-1.5zM994.1,989.0h1.1v1.1h-1.1zM994.0,975.5h1.0v1.0h-1.0zM985.4,992.0h1.6v1.6h-1.6zM981.2,991.0h1.7v1.7h-1.7zM990.3,990.1h1.3v1.3h-1.3zM980.9,976.2h1.1v1.1h-1.1zM987.1,991.7h1.5v1.5h-1.5zM990.0,983.0h1.2v1.2h-1.2zM988.7,997.0h1.4v1.4h-1.4zM982.3,999.6h1.1v1.1h-1.1zM989.7,984.3h1.4v1.4h-1.4zM993.3,979.0h1.8v1.8h-1.8zM993.6,997.3h2.0v2.0h-2.0zM991.7,975.1h1.3v1.3h-1.3zM981.3,981.1h1.5v1.5h-1.5zM986.0,999.2h2.0v2.0h-2.0zM990.5,988.0h1.9v1.9h-1.9zM981.0,974.0h1.9v1.9h-1.9zM987.9,998.0h1.7v1.7h-1.7zM988.1,984.0h1.7v1.7h-1.7zM994.1,988.3h1.2v1.2h-1.2zM986.0,981.4h1.8v1.8h-1.8zM984.9,988.8h1.4v1.4h-1.4zM981.0,999.6h1.7v1.7h-1.7zM990.8,982.2h2.0v2.0h-2.0zM986.9,984.4h1.0v1.0h-1.0zM990.2,991.8h1.6v1.6h-1.6zM981.8,985.9h1.5v1.5h-1.5zM980.3,973.6h1.5v1.5h-1.5zM981.5,992.7h1.2v1.2h-1.2zM991.9,982.2h1.4v1.4h-1.4zM985.2,994.1h1.6v1.6h-1.6zM993.1,982.0h1.9v1.9h-1.9zM983.2,997.5h1.8v1.8h-1.8zM990.5,979.6h1.1v1.1h-1.1zM984.8,986.0h2.0v2.0h-2.0zM983.5,992.7h1.4v1.4h-1.4zM981.2,1001.7h1.2v1.2h-1.2zM981.6,976.8h1.0v1.0h-1.0zM989.1,973.1h1.7v1.7h-1.7zM983.1,981.5h1.8v1.8h-1.8zM982.0,995.8h2.0v2.0h-2.0zM992.3,981.2h1.2v1.2h-1.2zM992.5,974.9h1.4v1.4h-1.4zM989.2,996.8h1.6v1.6h-1.6zM987.3,982.0h1.7v1.7h-1.7zM990.8,996.6h1.4v1.4h-1.4zM991.4,984.3h1.2v1.2h-1.2z' fill='#2b2b2b' opacity='1.0'/><path d='M989.0,974.2h0.9v0.9h-0.9zM994.8,983.1h1.6v1.6h-1.6zM994.3,982.5h1.5v1.5h-1.5zM993.8,996.5h1.0v1.0h-1.0zM986.8,992.7h1.4v1.4h-1.4zM993.6,986.0h1.4v1.4h-1.4zM980.8,997.9h1.0v1.0h-1.0zM990.7,973.2h1.1v1.1h-1.1zM987.1,987.0h1.2v1.2h-1.2zM994.7,997.6h1.1v1.1h-1.1zM980.8,978.7h1.5v1.5h-1.5zM990.6,988.3h1.4v1.4h-1.4zM983.0,986.7h1.2v1.2h-1.2zM984.9,986.7h0.9v0.9h-0.9zM988.5,991.7h1.2v1.2h-1.2zM991.7,997.7h1.3v1.3h-1.3zM986.7,983.5h1.1v1.1h-1.1zM993.8,974.7h0.9v0.9h-0.9zM985.6,978.2h1.3v1.3h-1.3zM994.4,992.8h1.2v1.2h-1.2zM987.6,984.0h1.2v1.2h-1.2zM990.6,982.5h1.0v1.0h-1.0zM982.8,973.5h1.3v1.3h-1.3zM990.1,978.1h1.3v1.3h-1.3zM986.9,976.8h0.9v0.9h-0.9zM991.4,999.7h1.0v1.0h-1.0zM988.8,985.4h1.2v1.2h-1.2zM984.7,988.1h0.9v0.9h-0.9zM983.7,977.6h1.2v1.2h-1.2zM989.1,989.6h1.0v1.0h-1.0zM989.5,985.4h1.5v1.5h-1.5zM985.2,976.7h1.1v1.1h-1.1zM984.5,997.0h1.4v1.4h-1.4zM994.2,986.8h1.4v1.4h-1.4zM989.7,975.3h0.9v0.9h-0.9zM993.3,1000.4h1.1v1.1h-1.1zM980.8,978.9h1.5v1.5h-1.5zM985.4,994.2h1.4v1.4h-1.4zM984.2,975.2h0.9v0.9h-0.9zM983.8,979.8h1.2v1.2h-1.2zM990.2,987.8h1.0v1.0h-1.0zM993.5,973.4h1.4v1.4h-1.4zM986.3,994.9h0.8v0.8h-0.8zM980.4,1000.8h1.2v1.2h-1.2z' fill='#f4f4f4' opacity='1.0'/><path d='M987.3,1002.5h1.3v1.3h-1.3zM985.3,1009.5h0.9v0.9h-0.9zM985.5,1008.9h1.3v1.3h-1.3zM992.7,1002.6h1.3v1.3h-1.3zM992.2,1009.0h1.2v1.2h-1.2zM982.9,1006.1h0.9v0.9h-0.9zM980.8,1006.7h1.2v1.2h-1.2zM992.7,1002.7h1.3v1.3h-1.3zM987.4,1008.0h1.0v1.0h-1.0zM987.2,1007.8h1.0v1.0h-1.0zM980.9,1004.5h1.2v1.2h-1.2z' fill='#2b2b2b' opacity='0.7'/><rect x='1006.4' y='922' width='16.0' height='89' fill='#f1f1f1'/><path d='M1006.4,922.5 q1,-2 3,-2 h10.0 q2,0 3,2 M1006.4,1010.5 q1,2 3,2 h10.0 q2,0 3,-2' fill='none' stroke='#2b2b2b' stroke-width='1.5'/><path d='M1006.9,924 V1009 M1021.9,924 V1009' stroke='#999' stroke-width='0.8'/><path d='M1008.4,971.7h1.1v1.1h-1.1zM1015.0,950.8h1.3v1.3h-1.3zM1015.3,958.0h1.3v1.3h-1.3zM1009.3,954.1h1.3v1.3h-1.3zM1009.9,970.7h1.3v1.3h-1.3zM1021.3,967.5h1.2v1.2h-1.2zM1010.3,967.2h1.3v1.3h-1.3zM1020.6,965.9h0.8v0.8h-0.8zM1019.2,965.5h1.1v1.1h-1.1zM1008.1,953.7h0.8v0.8h-0.8zM1007.8,959.1h0.8v0.8h-0.8zM1017.2,950.1h1.4v1.4h-1.4zM1018.2,958.4h1.2v1.2h-1.2zM1009.6,971.0h1.2v1.2h-1.2zM1011.1,950.9h1.0v1.0h-1.0zM1010.9,963.6h1.0v1.0h-1.0zM1011.5,958.2h1.2v1.2h-1.2zM1020.4,966.5h0.9v0.9h-0.9zM1020.2,950.8h0.8v0.8h-0.8zM1017.3,962.0h0.9v0.9h-0.9zM1020.6,966.5h0.9v0.9h-0.9zM1018.1,952.1h1.1v1.1h-1.1zM1014.0,958.7h0.8v0.8h-0.8zM1017.5,958.1h1.3v1.3h-1.3zM1007.9,955.7h1.3v1.3h-1.3zM1014.5,951.4h1.3v1.3h-1.3zM1009.4,961.2h1.1v1.1h-1.1zM1014.8,954.5h0.9v0.9h-0.9zM1014.2,961.6h1.3v1.3h-1.3zM1016.9,949.9h1.3v1.3h-1.3zM1016.7,957.9h1.4v1.4h-1.4zM1017.9,960.8h0.9v0.9h-0.9zM1009.3,966.0h1.2v1.2h-1.2zM1019.5,948.9h1.2v1.2h-1.2zM1013.8,949.9h1.0v1.0h-1.0zM1020.4,953.7h1.3v1.3h-1.3zM1015.7,965.9h1.0v1.0h-1.0zM1019.6,959.2h0.9v0.9h-0.9z' fill='#2b2b2b' opacity='0.85'/><rect x='1006.9' y='972.73' width='15.0' height='29.37' fill='#9a9a9a'/><path d='M1016.7,991.3h1.4v1.4h-1.4zM1010.6,990.9h1.2v1.2h-1.2zM1018.5,977.0h1.7v1.7h-1.7zM1014.0,990.7h1.9v1.9h-1.9zM1013.0,989.9h1.6v1.6h-1.6zM1020.0,1001.3h2.0v2.0h-2.0zM1020.2,991.7h1.6v1.6h-1.6zM1008.5,983.7h1.2v1.2h-1.2zM1010.4,986.3h1.4v1.4h-1.4zM1008.1,983.1h1.6v1.6h-1.6zM1016.4,997.3h1.6v1.6h-1.6zM1012.8,991.2h1.9v1.9h-1.9zM1014.1,984.8h1.9v1.9h-1.9zM1018.5,987.0h1.4v1.4h-1.4zM1009.4,993.3h1.9v1.9h-1.9zM1012.7,996.3h1.9v1.9h-1.9zM1010.3,994.7h1.2v1.2h-1.2zM1021.2,986.2h1.1v1.1h-1.1zM1011.1,981.4h2.0v2.0h-2.0zM1014.0,975.3h1.2v1.2h-1.2zM1018.4,990.5h1.2v1.2h-1.2zM1011.8,993.1h1.8v1.8h-1.8zM1009.4,997.3h1.3v1.3h-1.3zM1013.4,983.9h1.8v1.8h-1.8zM1011.2,988.1h1.5v1.5h-1.5zM1014.7,993.1h1.9v1.9h-1.9zM1013.6,995.3h1.4v1.4h-1.4zM1012.5,977.9h1.3v1.3h-1.3zM1016.9,979.7h1.3v1.3h-1.3zM1008.6,984.7h1.4v1.4h-1.4zM1010.8,972.7h1.1v1.1h-1.1zM1018.0,990.0h1.9v1.9h-1.9zM1008.4,1001.2h1.8v1.8h-1.8zM1012.1,985.8h1.3v1.3h-1.3zM1021.0,989.9h1.1v1.1h-1.1zM1011.3,983.1h1.5v1.5h-1.5zM1014.6,997.5h1.3v1.3h-1.3zM1018.8,993.1h1.6v1.6h-1.6zM1017.3,998.1h1.8v1.8h-1.8zM1016.1,974.6h1.1v1.1h-1.1zM1008.0,973.7h1.2v1.2h-1.2zM1012.8,985.4h1.5v1.5h-1.5zM1014.9,992.8h1.4v1.4h-1.4zM1018.5,998.0h1.2v1.2h-1.2zM1017.5,985.6h1.9v1.9h-1.9zM1013.5,978.1h1.6v1.6h-1.6zM1012.7,1001.3h1.2v1.2h-1.2zM1017.6,992.4h1.8v1.8h-1.8zM1016.2,976.1h1.8v1.8h-1.8zM1014.7,974.0h2.0v2.0h-2.0zM1008.1,975.8h1.4v1.4h-1.4zM1020.2,993.1h1.8v1.8h-1.8zM1015.1,985.2h1.1v1.1h-1.1zM1020.2,983.9h1.6v1.6h-1.6zM1010.6,980.1h1.7v1.7h-1.7zM1009.2,985.8h1.6v1.6h-1.6zM1016.2,987.4h1.2v1.2h-1.2zM1020.8,1000.5h1.8v1.8h-1.8zM1020.1,1000.9h1.1v1.1h-1.1zM1010.3,983.3h1.1v1.1h-1.1zM1015.9,992.7h1.6v1.6h-1.6zM1019.9,989.7h1.6v1.6h-1.6zM1018.2,995.4h2.0v2.0h-2.0zM1007.5,990.2h1.2v1.2h-1.2zM1019.1,996.7h1.8v1.8h-1.8zM1007.5,977.1h1.2v1.2h-1.2zM1021.7,997.9h1.8v1.8h-1.8zM1017.6,990.1h1.8v1.8h-1.8zM1013.7,999.7h1.7v1.7h-1.7zM1012.8,979.9h1.6v1.6h-1.6zM1014.1,980.8h1.1v1.1h-1.1zM1020.3,1000.5h1.3v1.3h-1.3zM1007.0,975.2h1.6v1.6h-1.6zM1016.2,995.3h1.7v1.7h-1.7zM1016.2,992.5h1.9v1.9h-1.9zM1015.1,992.4h1.4v1.4h-1.4zM1010.5,980.9h1.1v1.1h-1.1zM1021.4,995.7h1.5v1.5h-1.5zM1019.2,1001.4h1.0v1.0h-1.0zM1017.7,984.4h1.5v1.5h-1.5zM1008.7,979.7h1.7v1.7h-1.7zM1018.8,974.3h1.5v1.5h-1.5zM1014.0,979.4h1.0v1.0h-1.0zM1017.3,988.8h1.9v1.9h-1.9zM1008.8,992.0h1.4v1.4h-1.4zM1009.8,984.6h1.3v1.3h-1.3zM1010.1,979.8h1.8v1.8h-1.8zM1007.1,979.9h1.1v1.1h-1.1zM1019.0,999.4h1.3v1.3h-1.3zM1012.9,985.1h1.4v1.4h-1.4zM1009.2,979.4h1.9v1.9h-1.9zM1009.8,998.5h1.8v1.8h-1.8zM1020.3,989.4h1.3v1.3h-1.3zM1012.5,987.1h1.1v1.1h-1.1zM1018.6,983.1h1.8v1.8h-1.8zM1020.4,989.3h1.3v1.3h-1.3z' fill='#2b2b2b' opacity='1.0'/><path d='M1020.9,979.4h1.2v1.2h-1.2zM1016.1,972.9h1.4v1.4h-1.4zM1021.7,975.0h1.4v1.4h-1.4zM1011.6,981.7h0.8v0.8h-0.8zM1012.6,990.2h1.0v1.0h-1.0zM1016.8,979.8h1.0v1.0h-1.0zM1013.5,990.8h1.3v1.3h-1.3zM1007.9,983.9h1.4v1.4h-1.4zM1010.2,984.5h1.5v1.5h-1.5zM1016.4,987.4h1.5v1.5h-1.5zM1017.5,988.6h1.3v1.3h-1.3zM1008.7,987.5h1.0v1.0h-1.0zM1014.4,977.5h0.9v0.9h-0.9zM1016.2,978.8h1.3v1.3h-1.3zM1009.4,973.0h1.4v1.4h-1.4zM1018.1,994.8h1.2v1.2h-1.2zM1007.3,993.6h1.1v1.1h-1.1zM1014.7,995.0h1.1v1.1h-1.1zM1008.3,989.0h0.9v0.9h-0.9zM1016.4,990.4h1.4v1.4h-1.4zM1013.7,974.4h1.3v1.3h-1.3zM1013.9,979.0h1.6v1.6h-1.6zM1019.2,993.3h0.8v0.8h-0.8zM1013.8,997.1h1.0v1.0h-1.0zM1016.2,991.0h0.9v0.9h-0.9zM1020.2,987.6h1.1v1.1h-1.1zM1015.6,990.9h1.0v1.0h-1.0zM1019.2,983.7h1.5v1.5h-1.5zM1019.6,993.9h1.1v1.1h-1.1zM1017.4,974.5h1.5v1.5h-1.5zM1009.6,977.9h1.3v1.3h-1.3zM1012.0,988.5h1.1v1.1h-1.1zM1013.7,975.9h1.1v1.1h-1.1zM1015.0,984.5h1.3v1.3h-1.3zM1010.2,987.7h1.0v1.0h-1.0zM1018.6,981.2h1.4v1.4h-1.4zM1013.0,987.0h1.5v1.5h-1.5zM1007.9,1000.5h0.8v0.8h-0.8zM1008.7,976.1h1.2v1.2h-1.2zM1015.9,997.5h1.2v1.2h-1.2zM1009.0,979.4h0.8v0.8h-0.8zM1012.5,990.0h1.2v1.2h-1.2zM1011.9,987.3h0.8v0.8h-0.8zM1014.9,982.2h1.2v1.2h-1.2z' fill='#f4f4f4' opacity='1.0'/><path d='M1012.6,1008.2h1.1v1.1h-1.1zM1008.5,1005.1h1.2v1.2h-1.2zM1010.0,1007.1h1.0v1.0h-1.0zM1020.2,1006.0h1.4v1.4h-1.4zM1009.8,1004.5h1.1v1.1h-1.1zM1010.5,1005.0h1.0v1.0h-1.0zM1018.4,1004.4h1.3v1.3h-1.3zM1018.9,1004.8h0.9v0.9h-0.9zM1015.5,1009.5h0.9v0.9h-0.9zM1019.5,1006.1h1.1v1.1h-1.1zM1010.7,1009.9h0.9v0.9h-0.9z' fill='#2b2b2b' opacity='0.7'/><rect x='1035.4' y='930' width='6' height='73' fill='#eee' stroke='#2b2b2b' stroke-width='1.2'/><rect x='1041.4' y='927' width='24.0' height='80' rx='3' fill='#e2e2e2' stroke='#2b2b2b' stroke-width='2.4'/><path d='M1047.3,992.5h0.7v0.7h-0.7zM1057.0,928.8h0.9v0.9h-0.9zM1043.2,978.3h0.9v0.9h-0.9zM1047.0,944.2h0.7v0.7h-0.7zM1063.9,967.4h0.6v0.6h-0.6zM1046.1,943.3h1.0v1.0h-1.0zM1046.8,928.0h1.2v1.2h-1.2zM1054.6,989.0h0.6v0.6h-0.6zM1044.9,974.5h0.9v0.9h-0.9zM1062.6,1003.6h0.6v0.6h-0.6zM1052.8,930.3h1.0v1.0h-1.0zM1063.6,955.8h0.8v0.8h-0.8zM1053.3,979.5h1.1v1.1h-1.1zM1043.8,942.0h0.8v0.8h-0.8zM1046.9,986.4h0.8v0.8h-0.8zM1049.1,953.0h0.8v0.8h-0.8zM1063.7,984.2h0.9v0.9h-0.9zM1042.8,971.8h0.7v0.7h-0.7zM1060.0,991.0h0.6v0.6h-0.6zM1042.6,994.4h0.9v0.9h-0.9zM1046.3,941.9h1.0v1.0h-1.0zM1056.2,953.5h0.7v0.7h-0.7zM1046.5,980.4h0.7v0.7h-0.7zM1051.7,986.9h1.0v1.0h-1.0zM1057.7,928.9h0.8v0.8h-0.8zM1051.3,977.0h0.7v0.7h-0.7zM1055.4,1004.1h1.2v1.2h-1.2zM1052.1,961.1h0.7v0.7h-0.7zM1052.8,985.3h0.8v0.8h-0.8zM1050.0,982.6h1.1v1.1h-1.1zM1042.4,997.7h0.9v0.9h-0.9zM1060.3,986.0h1.1v1.1h-1.1zM1045.0,937.9h0.9v0.9h-0.9zM1047.4,928.3h0.9v0.9h-0.9zM1059.7,944.8h1.2v1.2h-1.2zM1045.2,1002.0h1.0v1.0h-1.0zM1049.1,969.8h0.9v0.9h-0.9zM1050.7,988.0h1.0v1.0h-1.0zM1059.2,954.5h1.1v1.1h-1.1zM1044.0,954.0h1.0v1.0h-1.0zM1053.0,935.2h1.1v1.1h-1.1zM1060.2,975.9h0.7v0.7h-0.7zM1060.3,982.4h1.1v1.1h-1.1zM1053.9,966.8h0.9v0.9h-0.9zM1057.1,953.5h0.7v0.7h-0.7zM1052.7,936.7h0.7v0.7h-0.7zM1060.1,929.7h1.1v1.1h-1.1zM1057.4,997.6h1.0v1.0h-1.0zM1055.0,942.3h0.7v0.7h-0.7zM1061.2,992.4h0.7v0.7h-0.7zM1063.6,979.7h1.1v1.1h-1.1zM1059.2,953.8h0.8v0.8h-0.8zM1048.2,940.5h0.9v0.9h-0.9zM1050.6,992.1h0.8v0.8h-0.8zM1044.7,931.1h0.9v0.9h-0.9zM1063.9,996.9h1.0v1.0h-1.0zM1059.3,930.0h1.1v1.1h-1.1zM1055.5,945.1h0.6v0.6h-0.6zM1057.5,933.4h0.9v0.9h-0.9zM1043.0,977.3h0.6v0.6h-0.6zM1063.4,987.8h0.6v0.6h-0.6zM1042.6,1002.5h1.1v1.1h-1.1zM1059.6,965.3h1.1v1.1h-1.1zM1058.7,992.3h0.8v0.8h-0.8zM1044.2,964.8h1.0v1.0h-1.0zM1062.4,969.8h0.7v0.7h-0.7zM1043.0,941.4h1.2v1.2h-1.2zM1042.5,978.8h1.2v1.2h-1.2zM1053.1,995.6h1.0v1.0h-1.0zM1051.3,957.6h0.6v0.6h-0.6zM1047.0,933.1h1.0v1.0h-1.0zM1056.6,928.0h0.9v0.9h-0.9zM1043.3,975.1h0.8v0.8h-0.8zM1055.6,940.3h1.1v1.1h-1.1zM1056.9,986.2h1.1v1.1h-1.1zM1052.0,931.9h0.9v0.9h-0.9zM1055.5,986.7h0.9v0.9h-0.9zM1054.0,943.6h0.7v0.7h-0.7zM1044.6,954.9h1.0v1.0h-1.0zM1043.8,962.6h1.0v1.0h-1.0zM1044.4,936.4h1.2v1.2h-1.2zM1059.3,938.5h1.2v1.2h-1.2zM1052.2,943.6h1.1v1.1h-1.1zM1051.0,946.5h0.9v0.9h-0.9zM1063.8,947.3h1.0v1.0h-1.0zM1054.1,929.9h0.7v0.7h-0.7zM1049.2,987.0h1.0v1.0h-1.0zM1044.5,976.6h1.1v1.1h-1.1zM1046.1,967.7h0.9v0.9h-0.9zM1055.5,944.7h1.0v1.0h-1.0zM1054.8,1003.4h0.7v0.7h-0.7zM1047.1,938.4h1.0v1.0h-1.0zM1051.5,970.3h1.0v1.0h-1.0zM1045.9,977.8h0.7v0.7h-0.7zM1057.7,995.1h0.7v0.7h-0.7zM1055.3,938.8h1.0v1.0h-1.0zM1051.6,942.6h0.8v0.8h-0.8zM1057.9,991.5h0.8v0.8h-0.8zM1057.4,957.8h1.0v1.0h-1.0zM1053.7,944.3h0.7v0.7h-0.7zM1042.7,1001.0h0.8v0.8h-0.8zM1057.2,996.0h0.8v0.8h-0.8zM1059.4,946.2h1.0v1.0h-1.0zM1055.6,969.3h1.1v1.1h-1.1zM1044.5,958.5h1.0v1.0h-1.0zM1057.5,936.6h0.8v0.8h-0.8zM1043.1,966.6h0.6v0.6h-0.6zM1062.5,977.1h1.1v1.1h-1.1zM1044.3,960.2h0.7v0.7h-0.7zM1051.1,973.4h1.1v1.1h-1.1zM1063.8,954.9h1.1v1.1h-1.1zM1060.7,999.4h0.7v0.7h-0.7zM1059.4,932.9h1.0v1.0h-1.0zM1062.5,947.9h0.8v0.8h-0.8zM1055.5,955.0h1.0v1.0h-1.0zM1044.8,935.1h0.6v0.6h-0.6zM1046.7,970.2h0.7v0.7h-0.7zM1050.1,997.6h1.0v1.0h-1.0zM1062.7,999.7h0.8v0.8h-0.8zM1046.1,972.7h1.1v1.1h-1.1zM1046.2,957.2h0.6v0.6h-0.6zM1060.5,951.4h0.9v0.9h-0.9zM1058.0,932.0h0.9v0.9h-0.9zM1049.8,997.1h0.6v0.6h-0.6zM1057.0,971.0h0.7v0.7h-0.7zM1061.0,1001.1h0.8v0.8h-0.8zM1063.8,972.5h1.0v1.0h-1.0zM1051.4,944.9h0.6v0.6h-0.6zM1056.9,963.5h0.9v0.9h-0.9zM1052.6,993.8h0.7v0.7h-0.7zM1061.0,967.1h0.8v0.8h-0.8zM1051.0,989.2h0.9v0.9h-0.9zM1051.2,947.0h0.9v0.9h-0.9zM1055.3,958.7h0.8v0.8h-0.8zM1053.8,965.8h1.0v1.0h-1.0zM1048.7,956.1h0.8v0.8h-0.8zM1044.0,989.1h0.8v0.8h-0.8zM1044.7,998.1h0.8v0.8h-0.8zM1045.3,977.4h1.1v1.1h-1.1zM1052.5,936.6h1.0v1.0h-1.0zM1050.1,987.6h1.1v1.1h-1.1zM1042.5,955.8h1.1v1.1h-1.1zM1060.1,948.2h1.1v1.1h-1.1zM1049.6,971.1h0.9v0.9h-0.9zM1047.7,968.1h0.7v0.7h-0.7zM1048.9,1005.7h0.8v0.8h-0.8zM1058.4,952.4h0.9v0.9h-0.9zM1054.8,934.1h1.0v1.0h-1.0zM1053.1,984.3h0.7v0.7h-0.7zM1048.1,941.0h0.8v0.8h-0.8zM1061.6,990.4h0.7v0.7h-0.7zM1049.3,948.1h1.1v1.1h-1.1zM1043.0,980.4h1.2v1.2h-1.2zM1049.6,989.5h0.8v0.8h-0.8zM1049.7,953.6h0.7v0.7h-0.7zM1052.1,929.0h1.1v1.1h-1.1zM1060.0,998.0h0.8v0.8h-0.8zM1054.1,931.3h0.7v0.7h-0.7zM1064.3,948.0h1.0v1.0h-1.0zM1061.1,949.2h1.1v1.1h-1.1zM1058.2,994.7h0.7v0.7h-0.7zM1054.3,1002.7h1.1v1.1h-1.1zM1049.1,930.2h0.6v0.6h-0.6zM1047.5,959.7h1.0v1.0h-1.0zM1062.4,951.3h1.0v1.0h-1.0zM1052.7,998.2h0.7v0.7h-0.7zM1056.2,978.5h1.1v1.1h-1.1zM1059.6,989.8h0.7v0.7h-0.7zM1054.6,945.9h0.9v0.9h-0.9zM1044.5,993.0h0.8v0.8h-0.8zM1055.7,982.0h1.1v1.1h-1.1z' fill='#2b2b2b' opacity='0.6'/><clipPath id='cp614802872'><rect x='1043.4' y='932' width='20.0' height='69' rx='3'/></clipPath><path d='M1043.4,918.0L1063.4,909.0M1043.4,922.4L1063.4,913.4M1043.4,926.8L1063.4,917.8M1043.4,931.2L1063.4,922.2M1043.4,935.6L1063.4,926.6M1043.4,940.0L1063.4,931.0M1043.4,944.4L1063.4,935.4M1043.4,948.8L1063.4,939.8M1043.4,953.2L1063.4,944.2M1043.4,957.6L1063.4,948.6M1043.4,962.0L1063.4,953.0M1043.4,966.4L1063.4,957.4M1043.4,970.8L1063.4,961.8M1043.4,975.2L1063.4,966.2M1043.4,979.6L1063.4,970.6M1043.4,984.0L1063.4,975.0M1043.4,988.4L1063.4,979.4M1043.4,992.8L1063.4,983.8M1043.4,997.2L1063.4,988.2M1043.4,1001.6L1063.4,992.6M1043.4,1006.0L1063.4,997.0M1043.4,1010.4L1063.4,1001.4M1043.4,1014.8L1063.4,1005.8' stroke='#2b2b2b' stroke-width='1.8' clip-path='url(#cp614802872)' fill='none'/><rect x='1041.9' y='927' width='23.0' height='5.5' rx='1.5' fill='#3a3a3a'/><rect x='1068.4' y='927' width='8' height='80' fill='#f6f6f6' stroke='#2b2b2b' stroke-width='1.4'/><rect x='1076.4' y='929' width='5' height='76' fill='#bbb' stroke='#2b2b2b' stroke-width='1'/><rect x='1081.4' y='927' width='22.0' height='80' rx='3' fill='#e2e2e2' stroke='#2b2b2b' stroke-width='2.4'/><path d='M1086.3,958.9h1.0v1.0h-1.0zM1082.9,976.0h0.8v0.8h-0.8zM1087.8,943.7h0.8v0.8h-0.8zM1087.0,974.6h0.6v0.6h-0.6zM1099.1,949.8h0.6v0.6h-0.6zM1101.3,934.4h1.0v1.0h-1.0zM1098.8,944.5h1.1v1.1h-1.1zM1083.5,934.5h1.1v1.1h-1.1zM1088.3,932.4h0.9v0.9h-0.9zM1091.1,1002.5h0.7v0.7h-0.7zM1098.2,963.0h0.8v0.8h-0.8zM1084.0,933.5h1.2v1.2h-1.2zM1082.7,929.4h1.1v1.1h-1.1zM1094.1,946.4h1.0v1.0h-1.0zM1092.9,987.2h1.2v1.2h-1.2zM1082.6,1002.6h0.7v0.7h-0.7zM1095.1,929.0h0.7v0.7h-0.7zM1085.6,941.2h0.8v0.8h-0.8zM1084.5,949.7h1.0v1.0h-1.0zM1090.3,974.1h0.9v0.9h-0.9zM1084.0,999.2h0.9v0.9h-0.9zM1095.1,990.7h1.1v1.1h-1.1zM1098.6,979.4h0.9v0.9h-0.9zM1085.5,947.6h0.6v0.6h-0.6zM1086.3,966.0h0.7v0.7h-0.7zM1100.6,959.3h0.7v0.7h-0.7zM1095.2,974.6h0.7v0.7h-0.7zM1086.0,964.1h0.7v0.7h-0.7zM1085.2,974.0h0.8v0.8h-0.8zM1095.1,954.7h1.1v1.1h-1.1zM1086.0,942.5h0.6v0.6h-0.6zM1093.4,946.6h0.7v0.7h-0.7zM1084.2,943.3h1.1v1.1h-1.1zM1085.9,979.0h1.2v1.2h-1.2zM1095.6,1005.6h0.9v0.9h-0.9zM1091.3,1001.7h1.1v1.1h-1.1zM1091.9,992.0h0.9v0.9h-0.9zM1093.3,983.5h0.6v0.6h-0.6zM1099.1,973.6h0.8v0.8h-0.8zM1096.3,935.8h0.8v0.8h-0.8zM1083.2,1002.6h0.7v0.7h-0.7zM1100.2,976.5h0.7v0.7h-0.7zM1091.0,1003.1h0.8v0.8h-0.8zM1087.2,971.2h0.9v0.9h-0.9zM1102.3,989.3h0.8v0.8h-0.8zM1090.6,983.7h1.1v1.1h-1.1zM1094.4,969.3h0.9v0.9h-0.9zM1098.4,931.4h0.9v0.9h-0.9zM1091.5,937.2h0.6v0.6h-0.6zM1088.5,969.5h1.1v1.1h-1.1zM1087.0,952.3h0.9v0.9h-0.9zM1094.0,954.2h1.1v1.1h-1.1zM1089.5,964.3h0.8v0.8h-0.8zM1092.3,988.9h0.7v0.7h-0.7zM1091.2,952.0h1.0v1.0h-1.0zM1088.1,977.1h0.8v0.8h-0.8zM1089.9,993.2h0.8v0.8h-0.8zM1092.2,991.7h1.2v1.2h-1.2zM1083.9,980.9h1.1v1.1h-1.1zM1096.8,968.7h0.9v0.9h-0.9zM1092.7,986.7h0.8v0.8h-0.8zM1092.2,936.7h1.1v1.1h-1.1zM1102.0,965.8h1.1v1.1h-1.1zM1098.5,957.2h1.1v1.1h-1.1zM1092.7,947.8h0.9v0.9h-0.9zM1095.8,1001.2h0.9v0.9h-0.9zM1090.1,983.8h0.9v0.9h-0.9zM1096.3,987.5h0.9v0.9h-0.9zM1090.8,987.6h0.7v0.7h-0.7zM1089.6,956.1h1.0v1.0h-1.0zM1087.0,981.2h0.6v0.6h-0.6zM1100.7,989.9h0.8v0.8h-0.8zM1088.1,998.7h0.9v0.9h-0.9zM1101.6,981.6h1.0v1.0h-1.0zM1088.8,953.7h1.1v1.1h-1.1zM1091.0,952.9h1.0v1.0h-1.0zM1085.9,966.3h0.8v0.8h-0.8zM1095.4,968.9h0.7v0.7h-0.7zM1085.5,936.2h0.7v0.7h-0.7zM1096.1,946.4h0.7v0.7h-0.7zM1101.9,957.0h1.0v1.0h-1.0zM1084.8,966.8h1.0v1.0h-1.0zM1098.6,993.9h1.0v1.0h-1.0zM1089.6,994.4h0.8v0.8h-0.8zM1084.5,1003.0h0.7v0.7h-0.7zM1091.3,1002.7h1.1v1.1h-1.1zM1102.3,960.9h0.7v0.7h-0.7zM1090.9,941.1h1.2v1.2h-1.2zM1085.9,988.0h0.7v0.7h-0.7zM1097.6,974.7h1.2v1.2h-1.2zM1084.3,988.9h1.1v1.1h-1.1zM1084.0,930.2h1.1v1.1h-1.1zM1098.3,966.1h1.0v1.0h-1.0zM1091.4,971.9h0.7v0.7h-0.7zM1100.2,988.3h0.9v0.9h-0.9zM1083.5,952.6h0.9v0.9h-0.9zM1090.4,931.6h1.2v1.2h-1.2zM1092.3,987.8h0.9v0.9h-0.9zM1099.2,972.3h1.0v1.0h-1.0zM1097.9,953.8h1.2v1.2h-1.2zM1090.1,959.2h0.9v0.9h-0.9zM1087.4,958.6h1.1v1.1h-1.1zM1083.8,1001.6h1.1v1.1h-1.1zM1091.5,942.3h0.9v0.9h-0.9zM1100.2,928.4h1.0v1.0h-1.0zM1101.2,965.7h0.7v0.7h-0.7zM1098.7,988.8h1.1v1.1h-1.1zM1084.5,1004.5h1.0v1.0h-1.0zM1089.4,976.8h0.8v0.8h-0.8zM1101.5,992.1h1.0v1.0h-1.0zM1089.6,936.7h0.6v0.6h-0.6zM1100.5,996.2h0.7v0.7h-0.7zM1091.9,968.0h1.0v1.0h-1.0zM1099.2,929.3h1.0v1.0h-1.0zM1084.9,977.4h1.2v1.2h-1.2zM1093.4,938.9h1.1v1.1h-1.1zM1087.2,981.7h1.0v1.0h-1.0zM1100.5,1004.9h0.8v0.8h-0.8zM1090.8,970.1h1.0v1.0h-1.0zM1086.5,949.6h1.2v1.2h-1.2zM1092.8,970.0h0.6v0.6h-0.6zM1100.6,1005.0h1.1v1.1h-1.1zM1099.8,1005.2h0.7v0.7h-0.7zM1097.8,969.9h1.0v1.0h-1.0zM1091.4,987.8h1.1v1.1h-1.1zM1086.4,939.3h1.1v1.1h-1.1zM1094.5,975.5h0.7v0.7h-0.7zM1086.7,949.9h0.8v0.8h-0.8zM1098.5,984.0h0.7v0.7h-0.7zM1096.0,956.1h0.9v0.9h-0.9zM1088.2,937.3h1.0v1.0h-1.0zM1087.5,968.5h1.2v1.2h-1.2zM1102.0,985.3h1.1v1.1h-1.1zM1087.8,942.5h1.1v1.1h-1.1zM1085.6,983.3h1.2v1.2h-1.2zM1097.5,948.2h0.8v0.8h-0.8zM1100.3,933.6h0.6v0.6h-0.6zM1092.3,975.6h1.0v1.0h-1.0zM1093.1,935.2h1.0v1.0h-1.0zM1092.7,962.9h1.0v1.0h-1.0zM1093.4,954.2h1.2v1.2h-1.2zM1095.9,938.8h0.9v0.9h-0.9zM1084.2,951.2h1.0v1.0h-1.0zM1085.7,977.7h0.9v0.9h-0.9zM1096.2,978.2h0.9v0.9h-0.9zM1099.1,955.6h0.7v0.7h-0.7zM1086.7,928.8h1.1v1.1h-1.1zM1085.9,975.5h0.7v0.7h-0.7zM1088.0,937.9h1.0v1.0h-1.0zM1099.1,976.8h1.0v1.0h-1.0zM1083.9,984.5h1.1v1.1h-1.1zM1091.6,948.2h0.9v0.9h-0.9zM1100.0,956.0h1.2v1.2h-1.2zM1101.5,954.2h0.7v0.7h-0.7zM1094.8,992.5h1.1v1.1h-1.1zM1091.5,997.9h0.6v0.6h-0.6z' fill='#2b2b2b' opacity='0.6'/><clipPath id='cp29523364'><rect x='1083.4' y='932' width='18.0' height='69' rx='3'/></clipPath><path d='M1083.4,918.9L1101.4,910.8M1083.4,923.3L1101.4,915.2M1083.4,927.7L1101.4,919.6M1083.4,932.1L1101.4,924.0M1083.4,936.5L1101.4,928.4M1083.4,940.9L1101.4,932.8M1083.4,945.3L1101.4,937.2M1083.4,949.7L1101.4,941.6M1083.4,954.1L1101.4,946.0M1083.4,958.5L1101.4,950.4M1083.4,962.9L1101.4,954.8M1083.4,967.3L1101.4,959.2M1083.4,971.7L1101.4,963.6M1083.4,976.1L1101.4,968.0M1083.4,980.5L1101.4,972.4M1083.4,984.9L1101.4,976.8M1083.4,989.3L1101.4,981.2M1083.4,993.7L1101.4,985.6M1083.4,998.1L1101.4,990.0M1083.4,1002.5L1101.4,994.4M1083.4,1006.9L1101.4,998.8M1083.4,1011.3L1101.4,1003.2' stroke='#2b2b2b' stroke-width='1.8' clip-path='url(#cp29523364)' fill='none'/><rect x='1081.9' y='927' width='21.0' height='5.5' rx='1.5' fill='#3a3a3a'/><path d='M1103.4,942.7L1319.2,942.7L1315.7,946.4L1319.2,950.0L1315.7,953.7L1319.2,957.3L1315.7,961.0L1319.2,964.6L1315.7,968.3L1319.2,972.0L1315.7,975.6L1319.2,979.3L1315.7,982.9L1319.2,986.6L1315.7,990.2L1319.2,993.9L1103.4,993.9Z' fill='#f7f7f7' stroke='none'/><path d='M1103.4,942.7L1319.2,942.7L1315.7,946.4L1319.2,950.0L1315.7,953.7L1319.2,957.3L1315.7,961.0L1319.2,964.6L1315.7,968.3L1319.2,972.0L1315.7,975.6L1319.2,979.3L1315.7,982.9L1319.2,986.6L1315.7,990.2L1319.2,993.9L1103.4,993.9' fill='none' stroke='#2b2b2b' stroke-width='1.4'/><path d='M1110.9,969.1h1.3v1.3h-1.3zM1176.4,972.8h0.8v0.8h-0.8zM1267.1,970.1h1.3v1.3h-1.3zM1230.9,970.0h0.8v0.8h-0.8zM1129.4,969.8h1.1v1.1h-1.1zM1297.1,972.0h1.2v1.2h-1.2zM1155.5,972.1h1.0v1.0h-1.0zM1162.8,969.8h0.8v0.8h-0.8zM1108.9,972.6h1.2v1.2h-1.2zM1143.7,974.0h1.0v1.0h-1.0zM1243.5,968.9h1.0v1.0h-1.0zM1132.3,972.5h1.0v1.0h-1.0zM1217.3,970.0h1.0v1.0h-1.0zM1253.4,973.7h1.3v1.3h-1.3zM1248.1,972.3h0.8v0.8h-0.8zM1186.8,971.6h0.7v0.7h-0.7zM1110.9,973.5h0.8v0.8h-0.8zM1178.5,973.1h1.1v1.1h-1.1zM1153.5,971.8h1.0v1.0h-1.0zM1197.7,974.1h0.8v0.8h-0.8zM1238.2,974.1h0.7v0.7h-0.7zM1215.6,970.8h0.9v0.9h-0.9zM1312.0,972.5h0.7v0.7h-0.7zM1303.4,973.7h0.7v0.7h-0.7zM1274.0,971.3h0.6v0.6h-0.6zM1281.7,974.4h1.2v1.2h-1.2zM1212.9,968.5h0.9v0.9h-0.9zM1215.9,972.0h1.1v1.1h-1.1zM1309.9,971.7h1.1v1.1h-1.1zM1225.2,974.0h0.7v0.7h-0.7zM1280.2,969.3h1.2v1.2h-1.2zM1170.7,970.4h1.0v1.0h-1.0zM1239.0,971.7h1.3v1.3h-1.3zM1159.3,970.3h0.9v0.9h-0.9zM1280.3,968.8h0.9v0.9h-0.9zM1194.3,968.9h0.8v0.8h-0.8zM1242.5,971.7h0.9v0.9h-0.9zM1197.3,972.3h1.2v1.2h-1.2zM1165.0,969.0h1.2v1.2h-1.2zM1129.4,971.0h0.7v0.7h-0.7zM1300.0,973.6h0.8v0.8h-0.8zM1238.8,970.8h0.7v0.7h-0.7zM1135.7,972.7h0.7v0.7h-0.7zM1164.5,971.2h1.0v1.0h-1.0zM1199.0,973.6h0.8v0.8h-0.8zM1181.9,969.2h0.7v0.7h-0.7zM1235.5,970.2h0.9v0.9h-0.9zM1118.0,969.5h1.0v1.0h-1.0zM1305.7,972.2h0.9v0.9h-0.9zM1292.2,970.3h1.2v1.2h-1.2zM1114.8,971.5h1.3v1.3h-1.3zM1184.2,971.3h0.9v0.9h-0.9zM1126.8,971.4h0.9v0.9h-0.9zM1271.7,969.4h0.6v0.6h-0.6zM1296.0,969.1h1.2v1.2h-1.2zM1223.1,971.6h0.7v0.7h-0.7zM1201.7,972.1h0.6v0.6h-0.6zM1262.5,972.0h1.2v1.2h-1.2zM1203.1,973.8h1.1v1.1h-1.1zM1175.5,973.6h0.8v0.8h-0.8zM1190.8,969.6h0.9v0.9h-0.9zM1110.3,971.7h0.7v0.7h-0.7zM1120.2,972.6h1.0v1.0h-1.0zM1215.6,969.5h1.2v1.2h-1.2zM1109.7,968.9h0.9v0.9h-0.9zM1156.7,970.8h1.2v1.2h-1.2zM1302.8,969.7h0.7v0.7h-0.7zM1176.2,970.2h0.7v0.7h-0.7zM1249.5,968.9h0.9v0.9h-0.9zM1128.2,973.4h0.8v0.8h-0.8zM1131.0,972.7h0.8v0.8h-0.8zM1164.0,970.6h0.8v0.8h-0.8zM1205.6,969.2h0.8v0.8h-0.8zM1228.9,971.0h0.7v0.7h-0.7zM1232.7,972.4h1.0v1.0h-1.0zM1193.4,971.6h0.8v0.8h-0.8zM1292.3,971.1h1.1v1.1h-1.1zM1249.3,971.0h0.7v0.7h-0.7zM1186.9,972.7h0.9v0.9h-0.9zM1135.8,971.0h1.1v1.1h-1.1zM1303.4,973.0h0.7v0.7h-0.7zM1156.2,972.4h0.8v0.8h-0.8zM1174.6,973.6h1.3v1.3h-1.3zM1284.8,973.0h1.0v1.0h-1.0zM1151.6,970.5h0.8v0.8h-0.8zM1223.9,969.5h1.2v1.2h-1.2zM1184.4,971.4h1.3v1.3h-1.3zM1247.5,972.6h0.6v0.6h-0.6zM1298.4,971.1h0.6v0.6h-0.6zM1198.3,974.4h0.9v0.9h-0.9zM1224.6,970.9h1.3v1.3h-1.3zM1266.2,971.5h0.8v0.8h-0.8zM1146.4,970.0h1.2v1.2h-1.2zM1171.6,973.1h1.2v1.2h-1.2zM1243.0,971.3h1.2v1.2h-1.2zM1299.9,972.4h1.1v1.1h-1.1zM1278.2,968.5h0.9v0.9h-0.9zM1265.0,971.2h1.0v1.0h-1.0zM1161.3,973.3h1.1v1.1h-1.1zM1118.8,970.0h0.9v0.9h-0.9zM1198.0,973.1h1.2v1.2h-1.2zM1274.8,969.2h0.7v0.7h-0.7zM1171.9,973.1h0.7v0.7h-0.7zM1297.1,968.9h0.7v0.7h-0.7zM1176.6,974.2h0.8v0.8h-0.8zM1149.7,969.3h1.1v1.1h-1.1zM1110.5,969.1h1.3v1.3h-1.3zM1240.0,970.9h1.1v1.1h-1.1zM1292.2,968.7h1.2v1.2h-1.2zM1119.0,973.9h1.0v1.0h-1.0zM1303.5,974.4h0.9v0.9h-0.9zM1127.0,969.7h1.1v1.1h-1.1zM1271.0,974.4h0.7v0.7h-0.7zM1118.3,971.2h1.0v1.0h-1.0zM1273.7,970.9h0.7v0.7h-0.7zM1243.6,974.3h1.2v1.2h-1.2zM1249.6,969.5h0.9v0.9h-0.9zM1130.3,971.7h1.2v1.2h-1.2zM1276.7,970.6h0.8v0.8h-0.8zM1304.9,972.6h1.0v1.0h-1.0zM1244.9,968.6h1.1v1.1h-1.1zM1222.7,973.0h0.7v0.7h-0.7zM1209.0,969.4h1.2v1.2h-1.2zM1145.8,969.3h0.7v0.7h-0.7zM1202.1,969.8h0.9v0.9h-0.9zM1294.2,970.4h0.6v0.6h-0.6zM1133.3,974.0h0.6v0.6h-0.6zM1134.3,968.7h1.0v1.0h-1.0zM1257.8,973.0h0.8v0.8h-0.8zM1179.3,974.3h1.1v1.1h-1.1zM1230.8,968.6h0.8v0.8h-0.8zM1110.4,968.9h0.8v0.8h-0.8zM1133.4,971.1h1.1v1.1h-1.1zM1129.7,971.8h0.6v0.6h-0.6zM1152.2,968.9h1.1v1.1h-1.1zM1219.0,973.8h1.0v1.0h-1.0zM1246.5,974.1h1.2v1.2h-1.2zM1284.8,972.1h1.0v1.0h-1.0zM1282.9,972.6h0.7v0.7h-0.7zM1220.2,974.2h1.1v1.1h-1.1zM1123.6,972.3h1.2v1.2h-1.2zM1183.1,971.0h0.7v0.7h-0.7zM1306.1,972.7h0.7v0.7h-0.7zM1189.6,971.9h1.0v1.0h-1.0zM1151.5,971.4h1.0v1.0h-1.0zM1281.6,971.1h1.2v1.2h-1.2zM1132.8,973.4h0.9v0.9h-0.9zM1239.6,971.3h1.1v1.1h-1.1zM1136.9,971.5h1.0v1.0h-1.0zM1128.6,971.4h1.1v1.1h-1.1zM1112.7,973.8h1.1v1.1h-1.1zM1117.5,974.2h0.7v0.7h-0.7zM1133.7,973.8h1.2v1.2h-1.2zM1206.1,970.3h0.8v0.8h-0.8zM1162.1,973.3h0.9v0.9h-0.9zM1179.0,973.7h1.1v1.1h-1.1zM1246.5,971.9h0.9v0.9h-0.9zM1305.3,969.3h0.9v0.9h-0.9zM1297.9,968.3h1.1v1.1h-1.1zM1201.4,973.2h1.3v1.3h-1.3zM1125.0,969.3h1.2v1.2h-1.2zM1231.5,968.5h0.7v0.7h-0.7zM1115.3,969.9h1.1v1.1h-1.1zM1134.3,972.9h0.9v0.9h-0.9zM1241.2,972.7h1.2v1.2h-1.2zM1287.9,973.8h1.1v1.1h-1.1zM1306.5,971.1h1.0v1.0h-1.0zM1125.1,973.2h0.7v0.7h-0.7zM1186.3,971.5h0.6v0.6h-0.6zM1256.6,970.4h1.2v1.2h-1.2zM1288.1,968.9h0.6v0.6h-0.6zM1232.7,973.7h1.2v1.2h-1.2zM1179.2,973.2h0.7v0.7h-0.7zM1262.2,969.0h0.8v0.8h-0.8zM1175.5,971.9h1.2v1.2h-1.2zM1131.5,969.3h0.6v0.6h-0.6zM1158.9,971.0h1.3v1.3h-1.3zM1214.6,969.8h0.9v0.9h-0.9zM1249.2,973.0h1.0v1.0h-1.0zM1141.4,971.4h1.2v1.2h-1.2zM1290.6,969.0h0.9v0.9h-0.9zM1115.4,974.2h0.6v0.6h-0.6zM1276.5,972.2h1.3v1.3h-1.3zM1120.6,972.0h0.8v0.8h-0.8zM1239.1,970.3h0.6v0.6h-0.6zM1112.2,968.6h1.0v1.0h-1.0zM1129.8,969.5h1.0v1.0h-1.0zM1155.2,968.8h1.2v1.2h-1.2zM1197.4,971.3h0.9v0.9h-0.9zM1251.3,970.9h1.1v1.1h-1.1zM1273.2,968.7h1.0v1.0h-1.0zM1278.1,974.3h0.8v0.8h-0.8zM1112.9,970.5h0.9v0.9h-0.9zM1159.2,968.9h1.1v1.1h-1.1zM1113.9,971.3h0.7v0.7h-0.7zM1311.3,972.0h1.0v1.0h-1.0zM1187.2,969.3h1.1v1.1h-1.1zM1125.6,969.9h1.2v1.2h-1.2zM1225.1,970.5h0.7v0.7h-0.7zM1151.4,973.6h0.8v0.8h-0.8zM1190.7,973.9h1.2v1.2h-1.2zM1163.7,969.6h0.7v0.7h-0.7zM1135.4,969.0h1.2v1.2h-1.2zM1231.1,971.5h1.0v1.0h-1.0zM1177.3,968.6h0.8v0.8h-0.8zM1124.6,971.3h1.1v1.1h-1.1zM1290.0,972.5h1.0v1.0h-1.0zM1218.4,972.1h1.3v1.3h-1.3zM1287.5,969.0h0.9v0.9h-0.9zM1264.0,970.3h1.3v1.3h-1.3zM1280.5,968.4h1.2v1.2h-1.2zM1205.4,968.3h1.1v1.1h-1.1zM1165.7,973.6h0.9v0.9h-0.9zM1281.3,971.9h1.0v1.0h-1.0zM1273.8,973.9h1.0v1.0h-1.0zM1123.9,974.0h0.8v0.8h-0.8zM1218.3,971.5h0.6v0.6h-0.6zM1310.2,968.9h1.2v1.2h-1.2zM1265.0,972.3h1.2v1.2h-1.2zM1231.7,968.7h0.9v0.9h-0.9zM1221.4,972.0h1.1v1.1h-1.1zM1301.5,972.9h1.1v1.1h-1.1zM1310.7,969.2h0.6v0.6h-0.6zM1165.0,969.6h0.9v0.9h-0.9zM1111.3,971.6h0.8v0.8h-0.8zM1158.4,970.6h1.1v1.1h-1.1zM1221.3,972.4h0.8v0.8h-0.8zM1164.5,971.8h0.8v0.8h-0.8zM1279.8,968.3h1.0v1.0h-1.0zM1180.5,968.4h0.9v0.9h-0.9zM1189.4,973.9h0.7v0.7h-0.7zM1182.0,969.7h1.0v1.0h-1.0zM1240.7,972.4h1.2v1.2h-1.2zM1192.4,971.3h1.2v1.2h-1.2zM1254.7,970.6h0.8v0.8h-0.8zM1269.8,969.7h0.8v0.8h-0.8zM1219.7,972.0h1.3v1.3h-1.3zM1157.1,968.6h1.0v1.0h-1.0zM1225.2,968.4h0.9v0.9h-0.9zM1200.4,971.7h0.8v0.8h-0.8zM1212.6,973.7h1.0v1.0h-1.0zM1211.2,969.7h0.9v0.9h-0.9zM1153.2,970.0h1.2v1.2h-1.2zM1241.5,973.2h1.0v1.0h-1.0zM1158.7,972.2h0.8v0.8h-0.8zM1194.8,970.7h1.1v1.1h-1.1zM1117.7,971.0h1.1v1.1h-1.1zM1310.0,972.1h0.8v0.8h-0.8zM1208.4,969.9h0.8v0.8h-0.8zM1245.8,970.3h1.2v1.2h-1.2zM1286.5,969.3h1.1v1.1h-1.1zM1113.9,968.4h1.2v1.2h-1.2zM1240.9,970.1h0.6v0.6h-0.6zM1265.2,972.9h1.2v1.2h-1.2zM1131.4,969.3h1.3v1.3h-1.3zM1203.3,972.4h1.1v1.1h-1.1zM1303.8,969.6h1.3v1.3h-1.3zM1166.0,973.2h0.6v0.6h-0.6zM1255.5,969.7h1.2v1.2h-1.2zM1213.6,973.2h0.9v0.9h-0.9zM1197.7,969.6h0.6v0.6h-0.6zM1149.8,973.9h0.6v0.6h-0.6zM1247.1,970.0h1.0v1.0h-1.0zM1145.2,971.2h0.9v0.9h-0.9zM1311.1,973.3h1.3v1.3h-1.3zM1150.2,968.8h0.9v0.9h-0.9zM1291.2,973.3h0.9v0.9h-0.9zM1212.0,970.2h1.1v1.1h-1.1zM1129.5,969.6h1.0v1.0h-1.0zM1302.8,968.4h0.7v0.7h-0.7zM1297.5,971.4h0.6v0.6h-0.6zM1217.4,969.3h1.1v1.1h-1.1zM1178.9,974.0h0.8v0.8h-0.8zM1228.5,970.7h1.0v1.0h-1.0zM1191.0,972.7h0.8v0.8h-0.8zM1113.4,970.7h0.6v0.6h-0.6zM1169.7,973.3h1.1v1.1h-1.1zM1167.5,970.8h0.9v0.9h-0.9zM1144.0,972.2h1.3v1.3h-1.3zM1178.7,974.2h1.2v1.2h-1.2zM1191.8,974.2h0.7v0.7h-0.7zM1286.1,969.2h0.8v0.8h-0.8zM1195.4,968.5h0.8v0.8h-0.8zM1112.4,969.4h1.2v1.2h-1.2zM1190.4,970.0h1.1v1.1h-1.1zM1148.0,969.0h0.7v0.7h-0.7zM1284.7,968.8h1.2v1.2h-1.2zM1296.0,973.6h0.6v0.6h-0.6zM1134.1,971.2h1.1v1.1h-1.1zM1124.6,968.6h0.6v0.6h-0.6zM1128.9,974.3h1.2v1.2h-1.2zM1264.2,972.9h0.8v0.8h-0.8zM1139.8,969.2h0.8v0.8h-0.8zM1138.1,968.6h0.8v0.8h-0.8zM1265.7,971.5h0.9v0.9h-0.9zM1188.0,972.9h1.0v1.0h-1.0zM1113.8,970.5h1.2v1.2h-1.2zM1173.5,971.7h0.6v0.6h-0.6zM1105.9,972.7h0.8v0.8h-0.8zM1136.0,970.4h1.2v1.2h-1.2zM1311.0,972.7h0.8v0.8h-0.8zM1251.2,972.0h0.9v0.9h-0.9zM1218.8,971.8h0.7v0.7h-0.7zM1115.1,970.5h1.3v1.3h-1.3zM1119.1,973.2h0.7v0.7h-0.7zM1311.6,972.1h1.0v1.0h-1.0zM1147.5,973.4h0.7v0.7h-0.7zM1114.2,973.0h0.6v0.6h-0.6zM1150.5,971.8h0.9v0.9h-0.9zM1115.7,969.4h1.1v1.1h-1.1zM1237.9,970.8h0.9v0.9h-0.9zM1186.6,974.3h1.0v1.0h-1.0zM1307.7,974.3h1.1v1.1h-1.1zM1256.3,973.3h0.9v0.9h-0.9zM1135.5,971.1h0.8v0.8h-0.8zM1233.7,969.9h0.8v0.8h-0.8zM1245.5,969.1h1.2v1.2h-1.2zM1236.4,972.7h1.0v1.0h-1.0zM1187.2,969.3h1.1v1.1h-1.1zM1191.1,973.0h1.0v1.0h-1.0zM1143.1,973.4h1.2v1.2h-1.2zM1143.2,974.0h1.2v1.2h-1.2zM1243.7,969.3h0.7v0.7h-0.7zM1175.9,973.4h0.8v0.8h-0.8zM1202.8,972.7h0.7v0.7h-0.7zM1175.8,969.9h0.7v0.7h-0.7zM1234.8,972.2h1.3v1.3h-1.3zM1306.9,970.1h0.6v0.6h-0.6zM1240.4,970.4h0.6v0.6h-0.6zM1249.7,970.6h1.2v1.2h-1.2zM1131.8,972.6h0.6v0.6h-0.6zM1213.0,971.8h1.2v1.2h-1.2zM1186.4,973.8h0.8v0.8h-0.8zM1287.1,974.4h0.7v0.7h-0.7zM1289.4,973.2h0.9v0.9h-0.9zM1158.8,973.5h0.8v0.8h-0.8zM1130.8,973.1h0.6v0.6h-0.6zM1149.2,972.4h1.2v1.2h-1.2zM1295.7,972.1h0.7v0.7h-0.7zM1299.8,971.6h1.0v1.0h-1.0zM1167.5,969.7h0.7v0.7h-0.7zM1276.3,971.3h0.8v0.8h-0.8zM1312.6,972.9h0.8v0.8h-0.8zM1292.6,972.9h0.8v0.8h-0.8zM1212.2,969.5h1.2v1.2h-1.2zM1149.7,969.9h1.0v1.0h-1.0zM1155.3,968.6h1.1v1.1h-1.1zM1262.3,970.6h0.7v0.7h-0.7zM1297.5,969.6h1.1v1.1h-1.1zM1282.2,970.5h1.2v1.2h-1.2zM1179.3,969.6h1.0v1.0h-1.0zM1129.1,968.5h1.0v1.0h-1.0zM1230.2,972.9h1.1v1.1h-1.1zM1130.5,971.3h1.2v1.2h-1.2zM1154.6,972.0h1.0v1.0h-1.0zM1277.7,968.8h0.9v0.9h-0.9zM1247.2,972.3h1.1v1.1h-1.1zM1218.3,968.5h1.2v1.2h-1.2zM1261.2,969.8h0.7v0.7h-0.7zM1283.4,970.6h1.0v1.0h-1.0zM1165.1,970.0h0.7v0.7h-0.7zM1219.6,973.2h0.8v0.8h-0.8zM1113.4,973.3h1.2v1.2h-1.2zM1248.4,969.4h1.1v1.1h-1.1zM1188.8,970.1h0.7v0.7h-0.7zM1128.9,968.5h0.8v0.8h-0.8zM1291.4,971.1h1.1v1.1h-1.1zM1144.7,970.1h0.9v0.9h-0.9zM1151.4,971.6h0.9v0.9h-0.9zM1314.1,971.4h0.6v0.6h-0.6zM1263.8,971.1h0.8v0.8h-0.8zM1203.7,970.3h1.2v1.2h-1.2zM1265.7,973.3h1.2v1.2h-1.2zM1190.6,971.1h0.8v0.8h-0.8zM1270.2,972.3h1.1v1.1h-1.1zM1267.4,972.9h1.0v1.0h-1.0zM1175.3,971.6h1.0v1.0h-1.0zM1248.4,968.8h1.2v1.2h-1.2zM1189.3,972.8h1.2v1.2h-1.2zM1200.4,972.0h0.9v0.9h-0.9zM1209.3,968.5h1.1v1.1h-1.1zM1237.6,969.3h1.2v1.2h-1.2zM1278.3,970.4h1.1v1.1h-1.1zM1125.4,970.4h1.1v1.1h-1.1z' fill='#2b2b2b' opacity='0.8'/><rect x='1104.4' y='969.3240000000001' width='209.79999999999995' height='15.359999999999978' fill='#ececec'/><path d='M1151.5,983.6h0.7v0.7h-0.7zM1201.3,982.2h0.7v0.7h-0.7zM1305.4,983.4h0.9v0.9h-0.9zM1281.0,981.6h0.9v0.9h-0.9zM1130.9,984.3h0.8v0.8h-0.8zM1289.4,982.3h0.6v0.6h-0.6zM1250.0,982.2h1.1v1.1h-1.1zM1256.6,981.9h1.0v1.0h-1.0zM1223.9,984.2h0.6v0.6h-0.6zM1281.0,984.6h1.0v1.0h-1.0zM1151.9,982.3h1.1v1.1h-1.1zM1209.3,983.7h0.8v0.8h-0.8zM1200.5,983.1h1.0v1.0h-1.0zM1284.8,982.7h0.6v0.6h-0.6zM1221.0,982.4h0.9v0.9h-0.9zM1153.7,981.7h1.1v1.1h-1.1zM1119.0,983.0h1.0v1.0h-1.0zM1264.2,983.2h1.1v1.1h-1.1zM1310.5,982.3h0.9v0.9h-0.9zM1313.9,984.3h0.5v0.5h-0.5zM1139.4,983.0h0.7v0.7h-0.7zM1182.7,983.5h1.1v1.1h-1.1zM1283.0,984.1h0.6v0.6h-0.6zM1304.9,984.0h0.7v0.7h-0.7zM1129.4,984.5h0.9v0.9h-0.9zM1259.4,983.3h0.7v0.7h-0.7zM1279.6,984.2h1.0v1.0h-1.0zM1277.6,983.7h1.1v1.1h-1.1zM1279.0,982.5h0.8v0.8h-0.8zM1226.6,981.9h0.6v0.6h-0.6zM1206.2,982.1h0.9v0.9h-0.9zM1229.7,984.5h0.8v0.8h-0.8zM1242.7,984.0h0.8v0.8h-0.8zM1273.5,984.3h0.9v0.9h-0.9zM1158.7,982.8h0.6v0.6h-0.6zM1153.0,984.5h1.0v1.0h-1.0zM1172.3,982.3h0.5v0.5h-0.5zM1265.6,983.0h0.7v0.7h-0.7zM1256.5,983.5h0.9v0.9h-0.9zM1305.7,983.4h0.8v0.8h-0.8zM1229.3,984.3h0.9v0.9h-0.9zM1236.5,983.4h1.0v1.0h-1.0zM1298.0,983.1h0.8v0.8h-0.8zM1198.9,982.6h1.0v1.0h-1.0zM1212.5,984.5h0.8v0.8h-0.8zM1121.2,984.0h1.1v1.1h-1.1zM1286.7,981.6h0.8v0.8h-0.8zM1281.7,984.2h0.5v0.5h-0.5zM1286.7,983.0h0.8v0.8h-0.8zM1287.3,983.7h1.0v1.0h-1.0zM1283.7,983.3h0.7v0.7h-0.7zM1254.4,984.4h0.6v0.6h-0.6zM1134.7,982.2h0.5v0.5h-0.5zM1275.4,982.0h0.6v0.6h-0.6zM1191.2,981.8h0.9v0.9h-0.9zM1147.5,984.3h0.9v0.9h-0.9zM1162.1,984.6h0.7v0.7h-0.7zM1295.6,982.4h0.6v0.6h-0.6zM1225.3,984.4h0.7v0.7h-0.7zM1121.7,983.0h1.0v1.0h-1.0zM1159.4,984.4h0.9v0.9h-0.9zM1130.2,982.8h0.6v0.6h-0.6zM1232.2,981.7h0.8v0.8h-0.8zM1108.2,984.5h1.0v1.0h-1.0zM1239.3,982.4h0.6v0.6h-0.6zM1239.1,982.5h1.0v1.0h-1.0zM1160.8,982.8h0.7v0.7h-0.7zM1261.4,983.1h0.5v0.5h-0.5zM1246.2,982.9h0.6v0.6h-0.6zM1312.4,983.0h0.9v0.9h-0.9zM1311.0,984.5h0.5v0.5h-0.5zM1123.4,981.7h0.9v0.9h-0.9zM1153.9,984.3h1.0v1.0h-1.0zM1242.7,983.1h0.6v0.6h-0.6zM1282.1,982.8h0.7v0.7h-0.7zM1239.3,984.0h1.1v1.1h-1.1zM1275.7,984.4h1.0v1.0h-1.0zM1246.9,981.7h1.0v1.0h-1.0zM1208.6,983.5h0.9v0.9h-0.9zM1287.0,984.6h0.8v0.8h-0.8zM1231.2,983.2h0.8v0.8h-0.8zM1115.2,981.7h1.0v1.0h-1.0zM1237.1,984.6h0.6v0.6h-0.6zM1265.1,982.7h0.9v0.9h-0.9zM1176.5,981.8h1.0v1.0h-1.0zM1251.1,983.6h0.7v0.7h-0.7zM1133.7,982.2h0.9v0.9h-0.9zM1155.8,983.4h0.8v0.8h-0.8zM1114.5,984.4h0.9v0.9h-0.9zM1309.2,984.6h1.1v1.1h-1.1zM1284.4,983.8h0.6v0.6h-0.6zM1146.2,982.6h0.5v0.5h-0.5zM1251.8,984.1h0.8v0.8h-0.8zM1167.3,984.6h0.7v0.7h-0.7zM1247.2,983.4h0.6v0.6h-0.6zM1288.3,983.6h0.9v0.9h-0.9zM1163.4,983.2h0.9v0.9h-0.9zM1118.6,982.5h0.5v0.5h-0.5zM1200.5,983.4h0.6v0.6h-0.6zM1241.9,982.7h0.7v0.7h-0.7zM1251.5,981.7h0.6v0.6h-0.6zM1209.0,984.2h0.8v0.8h-0.8zM1165.7,982.6h1.1v1.1h-1.1zM1238.2,981.8h0.9v0.9h-0.9zM1300.4,982.0h0.7v0.7h-0.7zM1117.6,981.8h0.8v0.8h-0.8zM1257.2,983.0h0.9v0.9h-0.9zM1264.8,982.2h1.0v1.0h-1.0zM1293.9,982.4h0.9v0.9h-0.9zM1204.0,982.2h1.0v1.0h-1.0zM1212.5,982.1h0.9v0.9h-0.9zM1268.2,983.0h0.8v0.8h-0.8zM1161.7,981.9h1.0v1.0h-1.0zM1139.5,983.5h0.6v0.6h-0.6zM1300.0,982.1h0.7v0.7h-0.7zM1116.4,982.8h0.8v0.8h-0.8zM1281.8,981.8h1.0v1.0h-1.0zM1173.6,984.0h0.7v0.7h-0.7zM1276.0,982.8h1.0v1.0h-1.0zM1123.6,983.1h1.0v1.0h-1.0zM1219.5,982.7h1.0v1.0h-1.0zM1172.4,982.4h0.7v0.7h-0.7zM1290.9,982.4h1.0v1.0h-1.0zM1292.0,983.4h0.9v0.9h-0.9zM1162.2,983.4h1.0v1.0h-1.0zM1178.4,982.7h0.5v0.5h-0.5zM1118.2,984.6h0.7v0.7h-0.7zM1110.9,981.6h0.7v0.7h-0.7zM1254.3,982.0h1.0v1.0h-1.0zM1163.5,984.4h0.6v0.6h-0.6zM1195.0,982.6h0.5v0.5h-0.5zM1144.2,983.0h0.7v0.7h-0.7zM1137.4,982.1h0.8v0.8h-0.8zM1277.4,983.8h1.1v1.1h-1.1zM1284.1,984.3h0.8v0.8h-0.8zM1246.4,982.0h0.8v0.8h-0.8zM1281.4,982.4h1.0v1.0h-1.0zM1254.4,982.0h0.6v0.6h-0.6zM1185.4,982.3h0.6v0.6h-0.6zM1225.2,983.9h1.1v1.1h-1.1zM1301.1,983.6h1.0v1.0h-1.0zM1169.2,984.2h0.6v0.6h-0.6zM1305.3,981.9h1.1v1.1h-1.1zM1278.0,984.4h1.1v1.1h-1.1zM1245.9,984.0h0.8v0.8h-0.8zM1264.9,983.9h0.6v0.6h-0.6zM1302.8,983.9h0.9v0.9h-0.9zM1276.9,982.0h0.7v0.7h-0.7zM1172.4,981.7h0.7v0.7h-0.7zM1123.7,983.8h0.6v0.6h-0.6zM1144.1,984.0h1.0v1.0h-1.0zM1197.3,983.7h0.6v0.6h-0.6zM1173.1,983.9h0.9v0.9h-0.9zM1302.2,983.4h1.0v1.0h-1.0zM1160.7,983.9h0.6v0.6h-0.6zM1197.9,982.6h0.8v0.8h-0.8zM1119.7,984.5h0.5v0.5h-0.5zM1252.2,982.6h0.6v0.6h-0.6zM1197.7,982.4h0.9v0.9h-0.9zM1150.4,983.2h0.8v0.8h-0.8zM1217.0,983.8h0.9v0.9h-0.9zM1194.4,983.8h1.0v1.0h-1.0zM1313.6,982.5h0.9v0.9h-0.9zM1290.3,982.5h0.8v0.8h-0.8zM1301.9,982.0h1.0v1.0h-1.0zM1201.8,983.7h1.0v1.0h-1.0zM1223.4,983.4h0.9v0.9h-0.9zM1285.9,983.6h0.9v0.9h-0.9zM1111.0,982.2h1.1v1.1h-1.1zM1145.4,983.0h1.0v1.0h-1.0zM1313.7,981.7h1.0v1.0h-1.0zM1126.0,984.4h1.1v1.1h-1.1zM1177.2,983.3h0.5v0.5h-0.5zM1168.5,982.5h0.6v0.6h-0.6zM1230.9,981.6h0.5v0.5h-0.5zM1122.0,983.4h0.7v0.7h-0.7zM1275.9,983.8h0.7v0.7h-0.7zM1247.5,982.8h0.9v0.9h-0.9zM1180.4,983.4h0.8v0.8h-0.8zM1107.5,982.6h0.6v0.6h-0.6zM1127.3,984.3h0.6v0.6h-0.6zM1130.5,982.9h0.8v0.8h-0.8zM1295.9,982.4h0.9v0.9h-0.9zM1268.8,984.4h0.6v0.6h-0.6zM1124.1,981.9h0.5v0.5h-0.5zM1130.5,983.3h0.9v0.9h-0.9zM1282.7,984.0h0.9v0.9h-0.9zM1303.0,984.3h0.6v0.6h-0.6zM1197.8,983.6h0.8v0.8h-0.8zM1278.6,983.1h0.5v0.5h-0.5zM1176.0,984.7h0.6v0.6h-0.6zM1244.6,983.1h0.9v0.9h-0.9z' fill='#2b2b2b' opacity='0.7'/><path d='M1303.5,947.0h0.7v0.7h-0.7zM1280.5,949.5h0.9v0.9h-0.9zM1127.4,949.5h0.6v0.6h-0.6zM1161.8,949.0h0.8v0.8h-0.8zM1197.9,945.6h0.8v0.8h-0.8zM1153.9,949.8h1.0v1.0h-1.0zM1171.8,950.1h0.7v0.7h-0.7zM1168.0,947.4h0.7v0.7h-0.7zM1226.2,948.7h0.6v0.6h-0.6zM1265.8,947.5h0.9v0.9h-0.9zM1206.3,948.5h0.5v0.5h-0.5zM1155.5,949.3h0.8v0.8h-0.8zM1216.0,946.3h1.0v1.0h-1.0zM1154.4,947.4h0.9v0.9h-0.9zM1191.3,946.2h0.8v0.8h-0.8zM1303.3,946.2h0.9v0.9h-0.9zM1212.2,948.4h0.8v0.8h-0.8zM1301.5,949.4h1.0v1.0h-1.0zM1228.5,949.9h0.9v0.9h-0.9zM1202.3,948.2h0.9v0.9h-0.9zM1190.3,949.1h0.6v0.6h-0.6zM1182.7,948.2h0.5v0.5h-0.5zM1252.8,950.4h0.6v0.6h-0.6zM1262.7,946.8h0.5v0.5h-0.5zM1148.4,945.6h0.7v0.7h-0.7zM1243.0,949.3h0.7v0.7h-0.7zM1108.9,947.8h0.8v0.8h-0.8zM1204.8,948.6h0.8v0.8h-0.8zM1233.5,949.4h0.5v0.5h-0.5zM1286.4,945.5h0.8v0.8h-0.8zM1270.3,948.4h0.5v0.5h-0.5zM1188.7,949.0h0.9v0.9h-0.9zM1243.8,949.3h0.7v0.7h-0.7zM1239.7,948.3h1.0v1.0h-1.0zM1257.9,950.0h0.8v0.8h-0.8zM1192.3,947.0h0.6v0.6h-0.6zM1307.4,947.6h0.6v0.6h-0.6zM1222.9,948.4h0.5v0.5h-0.5zM1239.5,948.8h0.8v0.8h-0.8zM1159.3,950.0h0.7v0.7h-0.7zM1228.6,948.2h0.8v0.8h-0.8zM1273.1,947.3h0.8v0.8h-0.8z' fill='#2b2b2b' opacity='0.5'/><path d='M1016.3,921 C1005,893 975,871 938.6,871.3 C905,871.5 878,895 865.4,933.3 L846,933.3 L877.5,971.2 L912.1,933.3 L897.6,933.3 C905,905 920,888 938.6,888 C968,888 995,900 1009.3,921 Z' fill='#2b2b2b'/><line x1='973.2' y1='1051.3' x2='983.3' y2='1032.2' stroke='#2b2b2b' stroke-width='2'/><path d='M988.9,1021.6 L986.7,1039.7 L983.3,1032.2 L975.2,1033.6 Z' fill='#2b2b2b'/><line x1='1092.5' y1='1050' x2='1075.1' y2='1026.0' stroke='#2b2b2b' stroke-width='2'/><path d='M1068,1016.3 L1083.3,1026.2 L1075.1,1026.0 L1072.7,1033.9 Z' fill='#2b2b2b'/><path d='M1416.3,10 L1416.35,26' stroke='#bbb' stroke-width='1.2'/><path d='M1416.5,141 L1416.6,180' stroke='#7a7a7a' stroke-width='1.5'/><path d='M1416.7,204 L1416.9,303' stroke='#a5a5a5' stroke-width='1.3'/><path d='M1416.9,303 L1419.6,1221' stroke='#666' stroke-width='1.5'/><circle cx='565' cy='157' r='0.90' fill='#777'/><circle cx='224' cy='430' r='0.81' fill='#777'/><circle cx='463' cy='375' r='0.72' fill='#777'/><circle cx='438' cy='85' r='0.63' fill='#777'/><circle cx='459' cy='107' r='0.63' fill='#777'/><circle cx='288' cy='717' r='0.72' fill='#777'/><circle cx='383' cy='460' r='0.63' fill='#777'/><circle cx='760' cy='1360' r='0.90' fill='#777'/><circle cx='1075' cy='1340' r='0.72' fill='#777'/><circle cx='520' cy='1545' r='0.72' fill='#777'/><circle cx='580' cy='1590' r='0.72' fill='#777'/><circle cx='1390' cy='190' r='0.72' fill='#777'/><circle cx='1480' cy='380' r='0.90' fill='#777'/><circle cx='1034' cy='1207' r='0.90' fill='#777'/><circle cx='660' cy='1212' r='0.81' fill='#777'/><circle cx='1263' cy='1665' r='0.72' fill='#777'/><circle cx='1150' cy='1628' r='0.72' fill='#777'/><circle cx='200' cy='1810' r='0.72' fill='#777'/><circle cx='52' cy='1845' r='0.72' fill='#777'/><circle cx='387' cy='1848' r='0.72' fill='#777'/><circle cx='410' cy='1990' r='0.72' fill='#777'/><circle cx='1152' cy='1068' r='0.81' fill='#777'/><path d='M1017.3,166.3 L1022.8,166.3 L1022.8,187.2 L1017.1,187.2 L1017.1,175.3 L1011.9,175.3 L1011.9,171.4 Q1016.2,170.6 1017.3,166.3 Z' fill='#313131'/></svg>
<div class=t style='left:634.4px;top:28px;font-family:"Liberation Sans", sans-serif;font-weight:bold;font-style:normal;font-size:22px;line-height:22px;white-space:pre;color:#313131;transform:scaleX(0.9871);transform-origin:0 0;'>The WBT Patented locking mechanism provides maximum contact</div>
<div class=t style='left:603.81px;top:54.4px;font-family:"Liberation Sans", sans-serif;font-weight:bold;font-style:normal;font-size:22px;line-height:22px;white-space:pre;color:#313131;transform:scaleX(0.9935);transform-origin:0 0;'>pressure and prevents accidental disconnection.&nbsp; Please take a moment</div>
<div class=t style='left:631.4px;top:80.3px;font-family:"Liberation Sans", sans-serif;font-weight:bold;font-style:normal;font-size:22px;line-height:22px;white-space:pre;color:#313131;transform:scaleX(0.9926);transform-origin:0 0;'>to examine the connector you have purchased.&nbsp; Practice loosening</div>
<div class=t style='left:802.4px;top:106.2px;font-family:"Liberation Sans", sans-serif;font-weight:bold;font-style:normal;font-size:22px;line-height:22px;white-space:pre;color:#313131;'>and tightening before installation.</div>
<div class=t style='left:927.9px;top:162px;font-family:"Liberation Sans", sans-serif;font-weight:bold;font-style:normal;font-size:30px;line-height:30px;white-space:pre;-webkit-text-stroke:0.9px #313131;color:#313131;transform:scaleX(1.0828);transform-origin:0 0;'>Step</div>
<div class=t style='left:799.41px;top:198.6px;font-family:"Liberation Sans", sans-serif;font-weight:normal;font-style:normal;font-size:21px;line-height:21px;white-space:pre;color:#393939;transform:scaleX(1.046);transform-origin:0 0;'>Loosen barrel of the male connector.</div>
<div class=t style='left:778.69px;top:248.2px;font-family:"Liberation Sans", sans-serif;font-weight:bold;font-style:normal;font-size:19px;line-height:19px;white-space:pre;color:#313131;transform:scaleX(1.0117);transform-origin:0 0;'>Connector</div>
<div class=t style='left:800.4px;top:270.1px;font-family:"Liberation Sans", sans-serif;font-weight:bold;font-style:normal;font-size:19px;line-height:19px;white-space:pre;color:#313131;transform:scaleX(1.0039);transform-origin:0 0;'>barrel</div>
<div class=t style='left:1203.99px;top:228px;font-family:"Liberation Sans", sans-serif;font-weight:bold;font-style:normal;font-size:19px;line-height:19px;white-space:pre;color:#313131;transform:scaleX(1.0106);transform-origin:0 0;'>Connector</div>
<div class=t style='left:1229.8px;top:249px;font-family:"Liberation Sans", sans-serif;font-weight:bold;font-style:normal;font-size:19px;line-height:19px;white-space:pre;color:#313131;transform:scaleX(0.9955);transform-origin:0 0;'>body</div>
<div class=t style='left:1036.8px;top:435.8px;font-family:"Liberation Sans", sans-serif;font-weight:bold;font-style:normal;font-size:19px;line-height:19px;white-space:pre;color:#313131;transform:scaleX(1.0058);transform-origin:0 0;'>Turn here</div>
<div class=t style='left:1162.98px;top:436.5px;font-family:"Liberation Sans", sans-serif;font-weight:bold;font-style:normal;font-size:19px;line-height:19px;white-space:pre;color:#313131;transform:scaleX(1.0198);transform-origin:0 0;'>Hold here</div>
<div class=t style='left:928.5px;top:465.9px;font-family:"Liberation Sans", sans-serif;font-weight:bold;font-style:normal;font-size:30px;line-height:30px;white-space:pre;-webkit-text-stroke:0.9px #313131;color:#313131;transform:scaleX(1.0828);transform-origin:0 0;'>Step</div>
<div class=t style='left:1010.65px;top:465.9px;font-family:"Liberation Sans", sans-serif;font-weight:bold;font-style:normal;font-size:30px;line-height:30px;white-space:pre;-webkit-text-stroke:0.9px #313131;color:#313131;transform:scaleX(1.1467);transform-origin:0 0;'>2</div>
<div class=t style='left:804.51px;top:502.1px;font-family:"Liberation Sans", sans-serif;font-weight:normal;font-style:normal;font-size:21px;line-height:21px;white-space:pre;color:#393939;transform:scaleX(1.0471);transform-origin:0 0;'>Insert the connector into the socket.</div>
<div class=t style='left:635.87px;top:573.8px;font-family:"Liberation Sans", sans-serif;font-weight:bold;font-style:normal;font-size:19px;line-height:19px;white-space:pre;color:#313131;transform:scaleX(1.0313);transform-origin:0 0;'>RCA type</div>
<div class=t style='left:648.69px;top:596.7px;font-family:"Liberation Sans", sans-serif;font-weight:bold;font-style:normal;font-size:19px;line-height:19px;white-space:pre;color:#313131;transform:scaleX(1.0102);transform-origin:0 0;'>socket</div>
<div class=t style='left:950.29px;top:666.5px;font-family:"Liberation Sans", sans-serif;font-weight:bold;font-style:normal;font-size:19px;line-height:19px;white-space:pre;color:#313131;transform:scaleX(1.0124);transform-origin:0 0;'>Connector assembly</div>
<div class=t style='left:928.5px;top:713.3px;font-family:"Liberation Sans", sans-serif;font-weight:bold;font-style:normal;font-size:30px;line-height:30px;white-space:pre;-webkit-text-stroke:0.9px #313131;color:#313131;transform:scaleX(1.0828);transform-origin:0 0;'>Step</div>
<div class=t style='left:1011.8px;top:713.3px;font-family:"Liberation Sans", sans-serif;font-weight:bold;font-style:normal;font-size:30px;line-height:30px;white-space:pre;-webkit-text-stroke:0.9px #313131;color:#313131;transform:scaleX(1.0375);transform-origin:0 0;'>3</div>
<div class=t style='left:628.8px;top:750.1px;font-family:"Liberation Sans", sans-serif;font-weight:normal;font-style:normal;font-size:21px;line-height:21px;white-space:pre;color:#393939;transform:scaleX(1.0476);transform-origin:0 0;'>Hold the connector body (gold with colored band) and tighten the barrel.</div>
<div class=t style='left:606.78px;top:776.6px;font-family:"Liberation Sans", sans-serif;font-weight:bold;font-style:italic;font-size:20.5px;line-height:20.5px;white-space:pre;-webkit-text-stroke:0.7px #313131;color:#313131;transform:scaleX(1.224);transform-origin:0 0;'>WARNING:&nbsp; To prevent damage to cable and/or socket damage</div>
<div class=t style='left:663.1px;top:803px;font-family:"Liberation Sans", sans-serif;font-weight:bold;font-style:italic;font-size:20.5px;line-height:20.5px;white-space:pre;-webkit-text-stroke:0.7px #313131;color:#313131;transform:scaleX(1.2261);transform-origin:0 0;'>turn barrel only, do not allow connector body to turn!</div>
<div class=t style='left:862.0px;top:829px;font-family:"Liberation Sans", sans-serif;font-weight:bold;font-style:italic;font-size:20.5px;line-height:20.5px;white-space:pre;-webkit-text-stroke:0.7px #313131;color:#313131;transform:scaleX(1.2113);transform-origin:0 0;'>Do not over tighten!</div>
<div class=t style='left:928.3px;top:1055px;font-family:"Liberation Sans", sans-serif;font-weight:bold;font-style:normal;font-size:19px;line-height:19px;white-space:pre;color:#313131;'>Turn here</div>
<div class=t style='left:1053.57px;top:1055.7px;font-family:"Liberation Sans", sans-serif;font-weight:bold;font-style:normal;font-size:19px;line-height:19px;white-space:pre;color:#313131;transform:scaleX(1.0291);transform-origin:0 0;'>Hold here</div>
<div class=t style='left:699.9px;top:1106.5px;font-family:"Liberation Sans", sans-serif;font-weight:bold;font-style:italic;font-size:21px;line-height:21px;white-space:pre;-webkit-text-stroke:0.7px #313131;color:#313131;transform:scaleX(1.1501);transform-origin:0 0;'>REMEMBER TO REVERSE ABOVE STEPS WHEN</div>
<div class=t style='left:793.8px;top:1133.3px;font-family:"Liberation Sans", sans-serif;font-weight:bold;font-style:italic;font-size:21px;line-height:21px;white-space:pre;-webkit-text-stroke:0.7px #313131;color:#313131;transform:scaleX(1.1643);transform-origin:0 0;'>REMOVING THE CONNECTORS.</div>
<div class=t style='left:602.6px;top:1160.5px;font-family:"Liberation Sans", sans-serif;font-weight:normal;font-style:italic;font-size:20.5px;line-height:20.5px;white-space:pre;-webkit-text-stroke:0.45px #333333;color:#333333;transform:scaleX(1.1274);transform-origin:0 0;'>Failure to properly unlock the connector may result in equipment damage!</div>
<div class=t style='left:1374.88px;top:1179px;font-family:"Liberation Sans", sans-serif;font-weight:normal;font-style:normal;font-size:16.5px;line-height:16.5px;white-space:pre;color:#393939;transform:scaleX(1.0226);transform-origin:0 0;'>9/98</div>
</body></html>
